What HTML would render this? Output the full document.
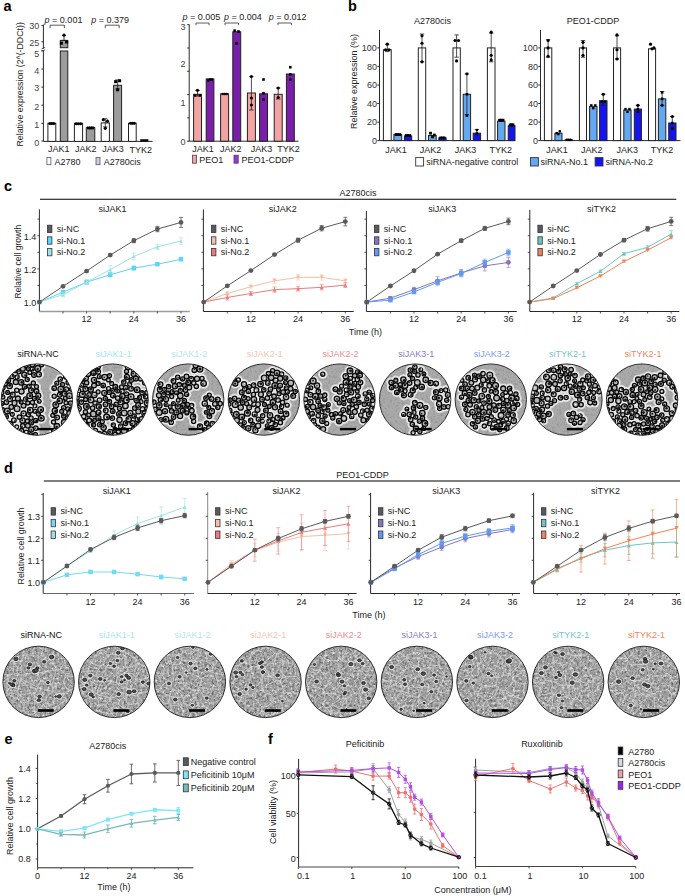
<!DOCTYPE html>
<html><head><meta charset="utf-8"><style>
html,body{margin:0;padding:0;background:#fff;}
svg{display:block;font-family:"Liberation Sans", sans-serif;}

</style></head><body>
<svg width="685" height="896" viewBox="0 0 685 896" fill="#222">
<text x="3.50" y="11.30" font-size="14.5" fill="#000" font-weight="bold">a</text>
<text x="348.00" y="11.30" font-size="14.5" fill="#000" font-weight="bold">b</text>
<text x="4.00" y="190.50" font-size="14.5" fill="#000" font-weight="bold">c</text>
<text x="4.00" y="472.50" font-size="14.5" fill="#000" font-weight="bold">d</text>
<text x="4.50" y="744.00" font-size="14.5" fill="#000" font-weight="bold">e</text>
<text x="268.00" y="744.00" font-size="14.5" fill="#000" font-weight="bold">f</text>
<path d="M43.4 24.6L43.4 48.6" stroke="#2a2a2a" stroke-width="1"/>
<path d="M43.4 51.0L43.4 141.4" stroke="#2a2a2a" stroke-width="1"/>
<path d="M41.6 48.9L45.2 47.4" stroke="#2a2a2a" stroke-width="0.8"/>
<path d="M41.6 51.3L45.2 49.8" stroke="#2a2a2a" stroke-width="0.8"/>
<path d="M41.4 25.6L43.4 25.6" stroke="#2a2a2a" stroke-width="1"/>
<text x="39.20" y="29.10" font-size="9" text-anchor="end" fill="#444">30</text>
<path d="M41.4 41.8L43.4 41.8" stroke="#2a2a2a" stroke-width="1"/>
<text x="39.20" y="45.70" font-size="9" text-anchor="end" fill="#444">25</text>
<path d="M41.4 50.6L43.4 50.6" stroke="#2a2a2a" stroke-width="1"/>
<text x="39.20" y="57.10" font-size="9" text-anchor="end" fill="#444">5</text>
<path d="M41.4 69.0L43.4 69.0" stroke="#2a2a2a" stroke-width="1"/>
<text x="39.20" y="74.00" font-size="9" text-anchor="end" fill="#444">4</text>
<path d="M41.4 87.1L43.4 87.1" stroke="#2a2a2a" stroke-width="1"/>
<text x="39.20" y="91.40" font-size="9" text-anchor="end" fill="#444">3</text>
<path d="M41.4 105.2L43.4 105.2" stroke="#2a2a2a" stroke-width="1"/>
<text x="39.20" y="109.50" font-size="9" text-anchor="end" fill="#444">2</text>
<path d="M41.4 123.3L43.4 123.3" stroke="#2a2a2a" stroke-width="1"/>
<text x="39.20" y="128.00" font-size="9" text-anchor="end" fill="#444">1</text>
<path d="M41.4 141.0L43.4 141.0" stroke="#2a2a2a" stroke-width="1"/>
<text x="39.20" y="145.60" font-size="9" text-anchor="end" fill="#444">0</text>
<path d="M43.4 141.4L152.5 141.4" stroke="#2a2a2a" stroke-width="1"/>
<rect x="47.90" y="123.30" width="7.90" height="18.10" fill="#fff" stroke="#222" stroke-width="1"/>
<rect x="60.30" y="51.00" width="7.50" height="90.40" fill="#9c9c9c" stroke="#222" stroke-width="1"/>
<rect x="60.30" y="40.40" width="7.50" height="7.30" fill="#9c9c9c" stroke="#222" stroke-width="1"/>
<rect x="74.40" y="123.30" width="8.20" height="18.10" fill="#fff" stroke="#222" stroke-width="1"/>
<rect x="86.30" y="127.64" width="8.50" height="13.76" fill="#9c9c9c" stroke="#222" stroke-width="1"/>
<rect x="101.20" y="122.94" width="8.20" height="18.46" fill="#fff" stroke="#222" stroke-width="1"/>
<rect x="113.60" y="85.29" width="8.00" height="56.11" fill="#9c9c9c" stroke="#222" stroke-width="1"/>
<rect x="128.50" y="123.30" width="7.70" height="18.10" fill="#fff" stroke="#222" stroke-width="1"/>
<rect x="140.20" y="139.20" width="8.20" height="2.60" fill="#111" stroke="none" stroke-width="1"/>
<path d="M64.0 35.5V40.4M61.8 35.5H66.2M61.8 40.4H66.2" stroke="#222" stroke-width="0.8" fill="none"/>
<circle cx="64.00" cy="35.20" r="1.60" fill="#000" stroke="none" stroke-width="1"/>
<rect x="59.90" y="41.70" width="3.00" height="3.00" fill="#000" stroke="none" stroke-width="1"/>
<rect x="65.10" y="40.50" width="3.00" height="3.00" fill="#000" stroke="none" stroke-width="1"/>
<circle cx="49.80" cy="123.50" r="1.50" fill="#000" stroke="none" stroke-width="1"/>
<circle cx="51.90" cy="123.50" r="1.50" fill="#000" stroke="none" stroke-width="1"/>
<circle cx="53.90" cy="123.50" r="1.50" fill="#000" stroke="none" stroke-width="1"/>
<circle cx="76.20" cy="123.84" r="1.50" fill="#000" stroke="none" stroke-width="1"/>
<circle cx="78.40" cy="123.84" r="1.50" fill="#000" stroke="none" stroke-width="1"/>
<circle cx="80.60" cy="123.84" r="1.50" fill="#000" stroke="none" stroke-width="1"/>
<rect x="87.00" y="126.54" width="2.80" height="2.80" fill="#000" stroke="none" stroke-width="1"/>
<rect x="89.20" y="126.54" width="2.80" height="2.80" fill="#000" stroke="none" stroke-width="1"/>
<rect x="91.40" y="126.54" width="2.80" height="2.80" fill="#000" stroke="none" stroke-width="1"/>
<path d="M105.3 118.8V126.9M103.1 118.8H107.5M103.1 126.9H107.5" stroke="#222" stroke-width="0.8" fill="none"/>
<circle cx="103.30" cy="119.68" r="1.60" fill="#000" stroke="none" stroke-width="1"/>
<circle cx="107.50" cy="121.13" r="1.60" fill="#000" stroke="none" stroke-width="1"/>
<circle cx="105.30" cy="128.37" r="1.60" fill="#000" stroke="none" stroke-width="1"/>
<path d="M117.6 79.9V88.9M115.4 79.9H119.8M115.4 88.9H119.8" stroke="#222" stroke-width="0.8" fill="none"/>
<rect x="114.10" y="80.17" width="3.00" height="3.00" fill="#000" stroke="none" stroke-width="1"/>
<rect x="118.10" y="79.27" width="3.00" height="3.00" fill="#000" stroke="none" stroke-width="1"/>
<rect x="116.10" y="88.31" width="3.00" height="3.00" fill="#000" stroke="none" stroke-width="1"/>
<circle cx="130.50" cy="123.30" r="1.50" fill="#000" stroke="none" stroke-width="1"/>
<circle cx="132.40" cy="123.30" r="1.50" fill="#000" stroke="none" stroke-width="1"/>
<circle cx="134.30" cy="123.30" r="1.50" fill="#000" stroke="none" stroke-width="1"/>
<text x="58.80" y="151.70" font-size="9" text-anchor="middle">JAK1</text>
<text x="85.70" y="151.70" font-size="9" text-anchor="middle">JAK2</text>
<text x="113.00" y="151.70" font-size="9" text-anchor="middle">JAK3</text>
<text x="140.70" y="153.20" font-size="9" text-anchor="middle">TYK2</text>
<rect x="46.90" y="157.50" width="4.00" height="7.20" fill="#fff" stroke="#557" stroke-width="0.8"/>
<text x="54.40" y="164.60" font-size="9">A2780</text>
<rect x="96.00" y="157.50" width="4.00" height="7.20" fill="#d0d0d0" stroke="#557" stroke-width="0.8"/>
<text x="103.80" y="164.60" font-size="9">A2780cis</text>
<text x="44.60" y="22.80" font-size="9"><tspan font-style="italic">p</tspan> = 0.001</text>
<polyline points="50.10,28.20 50.10,25.20 64.40,25.20 64.40,28.20" fill="none" stroke="#333" stroke-width="0.8" stroke-linejoin="round"/>
<text x="91.30" y="22.80" font-size="9"><tspan font-style="italic">p</tspan> = 0.379</text>
<polyline points="105.30,28.20 105.30,25.20 119.20,25.20 119.20,28.20" fill="none" stroke="#333" stroke-width="0.8" stroke-linejoin="round"/>
<text x="23.40" y="146.50" font-size="8.8" transform="rotate(-90 23.40 146.50)">Relative expression (2^(-DDCt))</text>
<path d="M189.2 24.4L189.2 141.2" stroke="#2a2a2a" stroke-width="1"/>
<path d="M187.2 141.2L189.2 141.2" stroke="#2a2a2a" stroke-width="1"/>
<path d="M187.2 117.9L189.2 117.9" stroke="#2a2a2a" stroke-width="1"/>
<path d="M187.2 94.6L189.2 94.6" stroke="#2a2a2a" stroke-width="1"/>
<path d="M187.2 71.3L189.2 71.3" stroke="#2a2a2a" stroke-width="1"/>
<path d="M187.2 48.0L189.2 48.0" stroke="#2a2a2a" stroke-width="1"/>
<path d="M187.2 24.7L189.2 24.7" stroke="#2a2a2a" stroke-width="1"/>
<text x="185.40" y="29.50" font-size="9" text-anchor="end" fill="#444">3</text>
<text x="185.40" y="67.20" font-size="9" text-anchor="end" fill="#444">2</text>
<text x="185.40" y="105.70" font-size="9" text-anchor="end" fill="#444">1</text>
<text x="185.40" y="144.60" font-size="9" text-anchor="end" fill="#444">0</text>
<path d="M189.2 141.2L298.5 141.2" stroke="#2a2a2a" stroke-width="1"/>
<rect x="193.60" y="94.30" width="7.90" height="46.90" fill="#f4a3a3" stroke="#222" stroke-width="1"/>
<rect x="206.20" y="78.90" width="7.70" height="62.30" fill="#7a1fa8" stroke="#222" stroke-width="1"/>
<rect x="220.60" y="93.80" width="8.00" height="47.40" fill="#f4a3a3" stroke="#222" stroke-width="1"/>
<rect x="232.80" y="31.80" width="7.90" height="109.40" fill="#7a1fa8" stroke="#222" stroke-width="1"/>
<rect x="247.40" y="93.00" width="8.00" height="48.20" fill="#f4a3a3" stroke="#222" stroke-width="1"/>
<rect x="259.60" y="93.80" width="7.90" height="47.40" fill="#7a1fa8" stroke="#222" stroke-width="1"/>
<rect x="274.20" y="94.30" width="8.00" height="46.90" fill="#f4a3a3" stroke="#222" stroke-width="1"/>
<rect x="286.40" y="74.00" width="7.90" height="67.20" fill="#7a1fa8" stroke="#222" stroke-width="1"/>
<path d="M197.5 90.5V96.0M195.3 90.5H199.7M195.3 96.0H199.7" stroke="#222" stroke-width="0.8" fill="none"/>
<circle cx="197.50" cy="90.30" r="1.60" fill="#000" stroke="none" stroke-width="1"/>
<rect x="194.00" y="94.30" width="2.40" height="2.40" fill="#000" stroke="none" stroke-width="1"/>
<rect x="198.60" y="94.30" width="2.40" height="2.40" fill="#000" stroke="none" stroke-width="1"/>
<rect x="207.00" y="79.30" width="2.40" height="2.40" fill="#000" stroke="none" stroke-width="1"/>
<rect x="208.80" y="78.30" width="2.40" height="2.40" fill="#000" stroke="none" stroke-width="1"/>
<rect x="210.60" y="78.30" width="2.40" height="2.40" fill="#000" stroke="none" stroke-width="1"/>
<circle cx="222.60" cy="94.00" r="1.30" fill="#000" stroke="none" stroke-width="1"/>
<circle cx="224.60" cy="94.00" r="1.30" fill="#000" stroke="none" stroke-width="1"/>
<circle cx="226.60" cy="94.00" r="1.30" fill="#000" stroke="none" stroke-width="1"/>
<rect x="233.30" y="29.30" width="2.60" height="2.60" fill="#000" stroke="none" stroke-width="1"/>
<rect x="237.20" y="30.20" width="2.60" height="2.60" fill="#000" stroke="none" stroke-width="1"/>
<rect x="235.20" y="42.20" width="2.60" height="2.60" fill="#000" stroke="none" stroke-width="1"/>
<path d="M251.4 76.6V110.0M249.2 76.6H253.6M249.2 110.0H253.6" stroke="#222" stroke-width="0.8" fill="none"/>
<circle cx="251.40" cy="76.50" r="1.60" fill="#000" stroke="none" stroke-width="1"/>
<circle cx="251.40" cy="98.00" r="1.60" fill="#000" stroke="none" stroke-width="1"/>
<circle cx="251.40" cy="105.00" r="1.60" fill="#000" stroke="none" stroke-width="1"/>
<rect x="262.20" y="78.20" width="2.60" height="2.60" fill="#000" stroke="none" stroke-width="1"/>
<rect x="262.20" y="92.00" width="2.60" height="2.60" fill="#000" stroke="none" stroke-width="1"/>
<rect x="262.20" y="98.20" width="2.60" height="2.60" fill="#000" stroke="none" stroke-width="1"/>
<path d="M278.2 88.0V99.0M276.0 88.0H280.4M276.0 99.0H280.4" stroke="#222" stroke-width="0.8" fill="none"/>
<circle cx="278.20" cy="88.00" r="1.60" fill="#000" stroke="none" stroke-width="1"/>
<circle cx="278.20" cy="97.50" r="1.60" fill="#000" stroke="none" stroke-width="1"/>
<rect x="289.00" y="65.90" width="2.60" height="2.60" fill="#000" stroke="none" stroke-width="1"/>
<rect x="289.00" y="73.20" width="2.60" height="2.60" fill="#000" stroke="none" stroke-width="1"/>
<rect x="289.00" y="78.20" width="2.60" height="2.60" fill="#000" stroke="none" stroke-width="1"/>
<text x="203.00" y="151.60" font-size="9" text-anchor="middle">JAK1</text>
<text x="230.80" y="151.60" font-size="9" text-anchor="middle">JAK2</text>
<text x="261.50" y="151.60" font-size="9" text-anchor="middle">JAK3</text>
<text x="288.50" y="152.30" font-size="9" text-anchor="middle">TYK2</text>
<rect x="192.40" y="155.20" width="4.20" height="8.00" fill="#f4a3a3" stroke="#445" stroke-width="0.8"/>
<text x="199.30" y="162.80" font-size="9">PEO1</text>
<rect x="234.00" y="155.20" width="4.20" height="8.00" fill="#a032e0" stroke="#445" stroke-width="0.8"/>
<text x="241.50" y="162.80" font-size="9">PEO1-CDDP</text>
<text x="182.40" y="19.60" font-size="9"><tspan font-style="italic">p</tspan> = 0.005</text>
<text x="224.00" y="19.60" font-size="9"><tspan font-style="italic">p</tspan> = 0.004</text>
<text x="268.80" y="19.60" font-size="9"><tspan font-style="italic">p</tspan> = 0.012</text>
<polyline points="196.00,25.20 196.00,23.00 209.00,23.00 209.00,25.20" fill="none" stroke="#333" stroke-width="0.8" stroke-linejoin="round"/>
<polyline points="225.00,25.20 225.00,23.00 238.50,23.00 238.50,25.20" fill="none" stroke="#333" stroke-width="0.8" stroke-linejoin="round"/>
<polyline points="278.00,25.20 278.00,23.00 291.50,23.00 291.50,25.20" fill="none" stroke="#333" stroke-width="0.8" stroke-linejoin="round"/>
<path d="M379.5 29.9L379.5 140.6" stroke="#2a2a2a" stroke-width="1"/>
<path d="M377.3 140.6L379.5 140.6" stroke="#2a2a2a" stroke-width="1"/>
<text x="376.90" y="143.90" font-size="9" text-anchor="end" fill="#333">0</text>
<path d="M377.3 122.1L379.5 122.1" stroke="#2a2a2a" stroke-width="1"/>
<text x="376.90" y="125.36" font-size="9" text-anchor="end" fill="#333">20</text>
<path d="M377.3 103.5L379.5 103.5" stroke="#2a2a2a" stroke-width="1"/>
<text x="376.90" y="106.82" font-size="9" text-anchor="end" fill="#333">40</text>
<path d="M377.3 85.0L379.5 85.0" stroke="#2a2a2a" stroke-width="1"/>
<text x="376.90" y="88.28" font-size="9" text-anchor="end" fill="#333">60</text>
<path d="M377.3 66.4L379.5 66.4" stroke="#2a2a2a" stroke-width="1"/>
<text x="376.90" y="69.74" font-size="9" text-anchor="end" fill="#333">80</text>
<path d="M377.3 47.9L379.5 47.9" stroke="#2a2a2a" stroke-width="1"/>
<text x="376.90" y="51.20" font-size="9" text-anchor="end" fill="#333">100</text>
<path d="M379.5 140.6L514.5 140.6" stroke="#2a2a2a" stroke-width="1"/>
<rect x="383.40" y="49.75" width="7.80" height="90.85" fill="#fff" stroke="#222" stroke-width="1"/>
<rect x="393.90" y="134.57" width="7.80" height="6.03" fill="#64a8f0" stroke="#222" stroke-width="1"/>
<rect x="404.40" y="135.97" width="7.30" height="4.63" fill="#1414f0" stroke="#222" stroke-width="1"/>
<rect x="418.30" y="47.90" width="7.40" height="92.70" fill="#fff" stroke="#222" stroke-width="1"/>
<rect x="428.50" y="135.50" width="7.70" height="5.10" fill="#64a8f0" stroke="#222" stroke-width="1"/>
<rect x="438.80" y="137.82" width="7.30" height="2.78" fill="#1414f0" stroke="#222" stroke-width="1"/>
<rect x="453.00" y="47.90" width="7.30" height="92.70" fill="#fff" stroke="#222" stroke-width="1"/>
<rect x="463.20" y="94.25" width="7.40" height="46.35" fill="#64a8f0" stroke="#222" stroke-width="1"/>
<rect x="473.20" y="133.18" width="7.40" height="7.42" fill="#1414f0" stroke="#222" stroke-width="1"/>
<rect x="487.40" y="47.90" width="7.60" height="92.70" fill="#fff" stroke="#222" stroke-width="1"/>
<rect x="497.60" y="121.13" width="7.40" height="19.47" fill="#64a8f0" stroke="#222" stroke-width="1"/>
<rect x="508.20" y="125.77" width="6.80" height="14.83" fill="#1414f0" stroke="#222" stroke-width="1"/>
<text x="396.00" y="152.80" font-size="9" text-anchor="middle">JAK1</text>
<text x="430.60" y="152.80" font-size="9" text-anchor="middle">JAK2</text>
<text x="465.60" y="152.80" font-size="9" text-anchor="middle">JAK3</text>
<text x="500.80" y="152.80" font-size="9" text-anchor="middle">TYK2</text>
<text x="432.50" y="24.20" font-size="9" text-anchor="middle">A2780cis</text>
<path d="M387.3 44.2V51.6M385.1 44.2H389.5M385.1 51.6H389.5" stroke="#222" stroke-width="0.8" fill="none"/>
<circle cx="387.30" cy="44.19" r="1.60" fill="#000" stroke="none" stroke-width="1"/>
<circle cx="385.60" cy="49.75" r="1.60" fill="#000" stroke="none" stroke-width="1"/>
<circle cx="389.00" cy="49.75" r="1.60" fill="#000" stroke="none" stroke-width="1"/>
<path d="M422.0 34.0V61.8M419.8 34.0H424.2M419.8 61.8H424.2" stroke="#222" stroke-width="0.8" fill="none"/>
<circle cx="422.00" cy="35.85" r="1.60" fill="#000" stroke="none" stroke-width="1"/>
<circle cx="422.00" cy="43.27" r="1.60" fill="#000" stroke="none" stroke-width="1"/>
<circle cx="422.00" cy="61.81" r="1.60" fill="#000" stroke="none" stroke-width="1"/>
<path d="M456.6 34.9V57.2M454.4 34.9H458.8M454.4 57.2H458.8" stroke="#222" stroke-width="0.8" fill="none"/>
<circle cx="455.00" cy="40.48" r="1.60" fill="#000" stroke="none" stroke-width="1"/>
<circle cx="458.50" cy="40.48" r="1.60" fill="#000" stroke="none" stroke-width="1"/>
<circle cx="456.60" cy="60.88" r="1.60" fill="#000" stroke="none" stroke-width="1"/>
<path d="M491.2 33.1V61.8M489.0 33.1H493.4M489.0 61.8H493.4" stroke="#222" stroke-width="0.8" fill="none"/>
<circle cx="491.20" cy="32.14" r="1.60" fill="#000" stroke="none" stroke-width="1"/>
<circle cx="491.20" cy="55.32" r="1.60" fill="#000" stroke="none" stroke-width="1"/>
<circle cx="491.20" cy="59.95" r="1.60" fill="#000" stroke="none" stroke-width="1"/>
<rect x="394.60" y="133.17" width="2.80" height="2.80" fill="#000" stroke="none" stroke-width="1"/>
<rect x="396.40" y="133.17" width="2.80" height="2.80" fill="#000" stroke="none" stroke-width="1"/>
<rect x="398.40" y="133.17" width="2.80" height="2.80" fill="#000" stroke="none" stroke-width="1"/>
<rect x="404.80" y="134.10" width="2.80" height="2.80" fill="#000" stroke="none" stroke-width="1"/>
<rect x="406.60" y="134.10" width="2.80" height="2.80" fill="#000" stroke="none" stroke-width="1"/>
<rect x="408.40" y="134.10" width="2.80" height="2.80" fill="#000" stroke="none" stroke-width="1"/>
<rect x="429.10" y="131.78" width="2.80" height="2.80" fill="#000" stroke="none" stroke-width="1"/>
<rect x="431.10" y="135.49" width="2.80" height="2.80" fill="#000" stroke="none" stroke-width="1"/>
<rect x="432.90" y="133.64" width="2.80" height="2.80" fill="#000" stroke="none" stroke-width="1"/>
<rect x="439.30" y="136.52" width="2.60" height="2.60" fill="#000" stroke="none" stroke-width="1"/>
<rect x="441.10" y="136.52" width="2.60" height="2.60" fill="#000" stroke="none" stroke-width="1"/>
<rect x="442.90" y="136.52" width="2.60" height="2.60" fill="#000" stroke="none" stroke-width="1"/>
<path d="M466.9 73.9V114.6M464.7 73.9H469.1M464.7 114.6H469.1" stroke="#222" stroke-width="0.8" fill="none"/>
<rect x="465.60" y="72.56" width="2.60" height="2.60" fill="#000" stroke="none" stroke-width="1"/>
<rect x="465.60" y="92.95" width="2.60" height="2.60" fill="#000" stroke="none" stroke-width="1"/>
<rect x="465.60" y="114.27" width="2.60" height="2.60" fill="#000" stroke="none" stroke-width="1"/>
<path d="M476.9 129.5V135.0M474.7 129.5H479.1M474.7 135.0H479.1" stroke="#222" stroke-width="0.8" fill="none"/>
<rect x="475.80" y="128.84" width="2.20" height="2.20" fill="#000" stroke="none" stroke-width="1"/>
<rect x="475.80" y="132.08" width="2.20" height="2.20" fill="#000" stroke="none" stroke-width="1"/>
<rect x="498.20" y="118.81" width="2.80" height="2.80" fill="#000" stroke="none" stroke-width="1"/>
<rect x="499.90" y="118.81" width="2.80" height="2.80" fill="#000" stroke="none" stroke-width="1"/>
<rect x="501.60" y="118.81" width="2.80" height="2.80" fill="#000" stroke="none" stroke-width="1"/>
<rect x="508.80" y="123.44" width="2.80" height="2.80" fill="#000" stroke="none" stroke-width="1"/>
<rect x="510.20" y="123.44" width="2.80" height="2.80" fill="#000" stroke="none" stroke-width="1"/>
<rect x="511.60" y="123.44" width="2.80" height="2.80" fill="#000" stroke="none" stroke-width="1"/>
<path d="M540.5 29.9L540.5 140.6" stroke="#2a2a2a" stroke-width="1"/>
<path d="M538.3 140.6L540.5 140.6" stroke="#2a2a2a" stroke-width="1"/>
<text x="537.90" y="143.90" font-size="9" text-anchor="end" fill="#333">0</text>
<path d="M538.3 122.1L540.5 122.1" stroke="#2a2a2a" stroke-width="1"/>
<text x="537.90" y="125.36" font-size="9" text-anchor="end" fill="#333">20</text>
<path d="M538.3 103.5L540.5 103.5" stroke="#2a2a2a" stroke-width="1"/>
<text x="537.90" y="106.82" font-size="9" text-anchor="end" fill="#333">40</text>
<path d="M538.3 85.0L540.5 85.0" stroke="#2a2a2a" stroke-width="1"/>
<text x="537.90" y="88.28" font-size="9" text-anchor="end" fill="#333">60</text>
<path d="M538.3 66.4L540.5 66.4" stroke="#2a2a2a" stroke-width="1"/>
<text x="537.90" y="69.74" font-size="9" text-anchor="end" fill="#333">80</text>
<path d="M538.3 47.9L540.5 47.9" stroke="#2a2a2a" stroke-width="1"/>
<text x="537.90" y="51.20" font-size="9" text-anchor="end" fill="#333">100</text>
<path d="M540.5 140.6L680.5 140.6" stroke="#2a2a2a" stroke-width="1"/>
<rect x="544.40" y="47.90" width="7.40" height="92.70" fill="#fff" stroke="#222" stroke-width="1"/>
<rect x="554.90" y="133.18" width="7.10" height="7.42" fill="#64a8f0" stroke="#222" stroke-width="1"/>
<rect x="565.20" y="139.67" width="7.10" height="0.93" fill="#1414f0" stroke="#222" stroke-width="1"/>
<rect x="579.40" y="47.90" width="7.10" height="92.70" fill="#fff" stroke="#222" stroke-width="1"/>
<rect x="589.60" y="106.30" width="7.40" height="34.30" fill="#64a8f0" stroke="#222" stroke-width="1"/>
<rect x="599.60" y="100.74" width="7.40" height="39.86" fill="#1414f0" stroke="#222" stroke-width="1"/>
<rect x="613.50" y="47.90" width="7.10" height="92.70" fill="#fff" stroke="#222" stroke-width="1"/>
<rect x="623.80" y="110.01" width="7.30" height="30.59" fill="#64a8f0" stroke="#222" stroke-width="1"/>
<rect x="634.30" y="109.08" width="7.10" height="31.52" fill="#1414f0" stroke="#222" stroke-width="1"/>
<rect x="648.50" y="48.83" width="7.10" height="91.77" fill="#fff" stroke="#222" stroke-width="1"/>
<rect x="658.40" y="98.88" width="7.40" height="41.72" fill="#64a8f0" stroke="#222" stroke-width="1"/>
<rect x="668.70" y="122.99" width="7.30" height="17.61" fill="#1414f0" stroke="#222" stroke-width="1"/>
<text x="557.00" y="152.80" font-size="9" text-anchor="middle">JAK1</text>
<text x="591.70" y="152.80" font-size="9" text-anchor="middle">JAK2</text>
<text x="627.20" y="152.80" font-size="9" text-anchor="middle">JAK3</text>
<text x="662.10" y="152.80" font-size="9" text-anchor="middle">TYK2</text>
<text x="593.00" y="24.20" font-size="9" text-anchor="middle">PEO1-CDDP</text>
<path d="M548.1 39.6V57.2M545.9 39.6H550.3M545.9 57.2H550.3" stroke="#222" stroke-width="0.8" fill="none"/>
<circle cx="548.10" cy="40.48" r="1.60" fill="#000" stroke="none" stroke-width="1"/>
<circle cx="548.10" cy="47.90" r="1.60" fill="#000" stroke="none" stroke-width="1"/>
<circle cx="548.10" cy="56.24" r="1.60" fill="#000" stroke="none" stroke-width="1"/>
<path d="M583.0 40.5V57.2M580.8 40.5H585.2M580.8 57.2H585.2" stroke="#222" stroke-width="0.8" fill="none"/>
<circle cx="583.00" cy="42.34" r="1.60" fill="#000" stroke="none" stroke-width="1"/>
<circle cx="583.00" cy="47.90" r="1.60" fill="#000" stroke="none" stroke-width="1"/>
<circle cx="583.00" cy="55.32" r="1.60" fill="#000" stroke="none" stroke-width="1"/>
<path d="M617.0 35.8V59.0M614.8 35.8H619.2M614.8 59.0H619.2" stroke="#222" stroke-width="0.8" fill="none"/>
<circle cx="617.00" cy="34.92" r="1.60" fill="#000" stroke="none" stroke-width="1"/>
<circle cx="617.00" cy="49.75" r="1.60" fill="#000" stroke="none" stroke-width="1"/>
<circle cx="617.00" cy="59.02" r="1.60" fill="#000" stroke="none" stroke-width="1"/>
<circle cx="650.50" cy="44.19" r="1.60" fill="#000" stroke="none" stroke-width="1"/>
<circle cx="652.00" cy="48.83" r="1.60" fill="#000" stroke="none" stroke-width="1"/>
<circle cx="654.00" cy="47.90" r="1.60" fill="#000" stroke="none" stroke-width="1"/>
<rect x="555.60" y="131.98" width="2.40" height="2.40" fill="#000" stroke="none" stroke-width="1"/>
<rect x="558.60" y="130.13" width="2.40" height="2.40" fill="#000" stroke="none" stroke-width="1"/>
<rect x="557.20" y="132.91" width="2.40" height="2.40" fill="#000" stroke="none" stroke-width="1"/>
<circle cx="567.00" cy="139.67" r="1.20" fill="#000" stroke="none" stroke-width="1"/>
<circle cx="568.80" cy="139.67" r="1.20" fill="#000" stroke="none" stroke-width="1"/>
<circle cx="570.60" cy="139.67" r="1.20" fill="#000" stroke="none" stroke-width="1"/>
<rect x="590.10" y="104.17" width="2.40" height="2.40" fill="#000" stroke="none" stroke-width="1"/>
<rect x="592.10" y="106.95" width="2.40" height="2.40" fill="#000" stroke="none" stroke-width="1"/>
<rect x="594.10" y="104.17" width="2.40" height="2.40" fill="#000" stroke="none" stroke-width="1"/>
<path d="M603.3 94.2V105.4M601.1 94.2H605.5M601.1 105.4H605.5" stroke="#222" stroke-width="0.8" fill="none"/>
<circle cx="603.30" cy="94.25" r="1.60" fill="#000" stroke="none" stroke-width="1"/>
<rect x="600.60" y="100.47" width="2.40" height="2.40" fill="#000" stroke="none" stroke-width="1"/>
<rect x="603.60" y="100.47" width="2.40" height="2.40" fill="#000" stroke="none" stroke-width="1"/>
<rect x="624.30" y="107.88" width="2.40" height="2.40" fill="#000" stroke="none" stroke-width="1"/>
<rect x="626.30" y="110.66" width="2.40" height="2.40" fill="#000" stroke="none" stroke-width="1"/>
<rect x="628.30" y="107.88" width="2.40" height="2.40" fill="#000" stroke="none" stroke-width="1"/>
<path d="M637.9 105.4V111.9M635.7 105.4H640.1M635.7 111.9H640.1" stroke="#222" stroke-width="0.8" fill="none"/>
<circle cx="637.90" cy="105.37" r="1.60" fill="#000" stroke="none" stroke-width="1"/>
<rect x="636.70" y="107.88" width="2.40" height="2.40" fill="#000" stroke="none" stroke-width="1"/>
<rect x="636.70" y="110.66" width="2.40" height="2.40" fill="#000" stroke="none" stroke-width="1"/>
<path d="M662.1 91.5V105.4M659.9 91.5H664.3M659.9 105.4H664.3" stroke="#222" stroke-width="0.8" fill="none"/>
<rect x="660.80" y="91.10" width="2.60" height="2.60" fill="#000" stroke="none" stroke-width="1"/>
<rect x="660.80" y="97.58" width="2.60" height="2.60" fill="#000" stroke="none" stroke-width="1"/>
<rect x="660.80" y="104.07" width="2.60" height="2.60" fill="#000" stroke="none" stroke-width="1"/>
<path d="M672.3 116.5V128.5M670.1 116.5H674.5M670.1 128.5H674.5" stroke="#222" stroke-width="0.8" fill="none"/>
<circle cx="672.30" cy="116.50" r="1.60" fill="#000" stroke="none" stroke-width="1"/>
<rect x="671.10" y="121.79" width="2.40" height="2.40" fill="#000" stroke="none" stroke-width="1"/>
<rect x="671.10" y="127.35" width="2.40" height="2.40" fill="#000" stroke="none" stroke-width="1"/>
<text x="357.30" y="129.00" font-size="9" transform="rotate(-90 357.30 129.00)">Relative expression (%)</text>
<rect x="415.70" y="157.60" width="7.90" height="8.40" fill="#fff" stroke="#334" stroke-width="0.9"/>
<text x="426.20" y="165.20" font-size="9">siRNA-negative control</text>
<rect x="530.50" y="157.60" width="7.90" height="8.40" fill="#64a8f0" stroke="#334" stroke-width="0.9"/>
<text x="540.50" y="165.20" font-size="9">siRNA-No.1</text>
<rect x="595.10" y="157.60" width="7.90" height="8.40" fill="#1414f0" stroke="#334" stroke-width="0.9"/>
<text x="605.40" y="165.20" font-size="9">siRNA-No.2</text>
<path d="M40.0 199.2L676.3 199.2" stroke="#000" stroke-width="1.05"/>
<text x="358.00" y="196.00" font-size="9" text-anchor="middle">A2780cis</text>
<path d="M39.4 209.3L39.4 311.5" stroke="#2a2a2a" stroke-width="1"/>
<path d="M39.4 311.5L189.8 311.5" stroke="#9a9a9a" stroke-width="1.3"/>
<path d="M63.0 311.5L63.0 313.5" stroke="#2a2a2a" stroke-width="0.8"/>
<path d="M86.6 311.5L86.6 313.5" stroke="#2a2a2a" stroke-width="0.8"/>
<path d="M110.2 311.5L110.2 313.5" stroke="#2a2a2a" stroke-width="0.8"/>
<path d="M133.8 311.5L133.8 313.5" stroke="#2a2a2a" stroke-width="0.8"/>
<path d="M157.4 311.5L157.4 313.5" stroke="#2a2a2a" stroke-width="0.8"/>
<path d="M181.0 311.5L181.0 313.5" stroke="#2a2a2a" stroke-width="0.8"/>
<text x="86.60" y="321.80" font-size="9" text-anchor="middle">12</text>
<text x="133.80" y="321.80" font-size="9" text-anchor="middle">24</text>
<text x="181.00" y="321.80" font-size="9" text-anchor="middle">36</text>
<path d="M37.4 302.1L39.4 302.1" stroke="#2a2a2a" stroke-width="0.8"/>
<path d="M37.4 285.5L39.4 285.5" stroke="#2a2a2a" stroke-width="0.8"/>
<path d="M37.4 268.9L39.4 268.9" stroke="#2a2a2a" stroke-width="0.8"/>
<path d="M37.4 252.3L39.4 252.3" stroke="#2a2a2a" stroke-width="0.8"/>
<path d="M37.4 235.7L39.4 235.7" stroke="#2a2a2a" stroke-width="0.8"/>
<path d="M37.4 219.1L39.4 219.1" stroke="#2a2a2a" stroke-width="0.8"/>
<text x="36.20" y="306.20" font-size="9" text-anchor="end">1.0</text>
<text x="36.20" y="273.00" font-size="9" text-anchor="end">1.2</text>
<text x="36.20" y="239.80" font-size="9" text-anchor="end">1.4</text>
<path d="M63.0 291.1V293.1M61.0 291.1H65.0M61.0 293.1H65.0" stroke="#5ad6f6" stroke-width="0.8" fill="none" opacity="0.75"/>
<path d="M86.6 279.9V284.5M84.6 279.9H88.6M84.6 284.5H88.6" stroke="#5ad6f6" stroke-width="0.8" fill="none" opacity="0.75"/>
<path d="M110.2 272.4V277.0M108.2 272.4H112.2M108.2 277.0H112.2" stroke="#5ad6f6" stroke-width="0.8" fill="none" opacity="0.75"/>
<path d="M133.8 266.1V270.1M131.8 266.1H135.8M131.8 270.1H135.8" stroke="#5ad6f6" stroke-width="0.8" fill="none" opacity="0.75"/>
<path d="M157.4 263.3V265.2M155.4 263.3H159.4M155.4 265.2H159.4" stroke="#5ad6f6" stroke-width="0.8" fill="none" opacity="0.75"/>
<path d="M181.0 258.3V260.3M179.0 258.3H183.0M179.0 260.3H183.0" stroke="#5ad6f6" stroke-width="0.8" fill="none" opacity="0.75"/>
<polyline points="39.40,302.10 63.00,292.14 86.60,282.18 110.20,274.71 133.80,268.07 157.40,264.25 181.00,259.27" fill="none" stroke="#5ad6f6" stroke-width="1" stroke-linejoin="round"/>
<rect x="37.16" y="299.86" width="4.48" height="4.48" fill="#5ad6f6" stroke="none" stroke-width="1"/>
<rect x="60.76" y="289.90" width="4.48" height="4.48" fill="#5ad6f6" stroke="none" stroke-width="1"/>
<rect x="84.36" y="279.94" width="4.48" height="4.48" fill="#5ad6f6" stroke="none" stroke-width="1"/>
<rect x="107.96" y="272.47" width="4.48" height="4.48" fill="#5ad6f6" stroke="none" stroke-width="1"/>
<rect x="131.56" y="265.83" width="4.48" height="4.48" fill="#5ad6f6" stroke="none" stroke-width="1"/>
<rect x="155.16" y="262.01" width="4.48" height="4.48" fill="#5ad6f6" stroke="none" stroke-width="1"/>
<rect x="178.76" y="257.03" width="4.48" height="4.48" fill="#5ad6f6" stroke="none" stroke-width="1"/>
<path d="M63.0 292.3V297.0M61.0 292.3H65.0M61.0 297.0H65.0" stroke="#9ee2e2" stroke-width="0.8" fill="none" opacity="0.75"/>
<path d="M86.6 279.9V284.5M84.6 279.9H88.6M84.6 284.5H88.6" stroke="#9ee2e2" stroke-width="0.8" fill="none" opacity="0.75"/>
<path d="M110.2 265.4V274.0M108.2 265.4H112.2M108.2 274.0H112.2" stroke="#9ee2e2" stroke-width="0.8" fill="none" opacity="0.75"/>
<path d="M133.8 253.1V259.8M131.8 253.1H135.8M131.8 259.8H135.8" stroke="#9ee2e2" stroke-width="0.8" fill="none" opacity="0.75"/>
<path d="M157.4 244.2V249.5M155.4 244.2H159.4M155.4 249.5H159.4" stroke="#9ee2e2" stroke-width="0.8" fill="none" opacity="0.75"/>
<path d="M181.0 237.7V244.3M179.0 237.7H183.0M179.0 244.3H183.0" stroke="#9ee2e2" stroke-width="0.8" fill="none" opacity="0.75"/>
<polyline points="39.40,302.10 63.00,294.63 86.60,282.18 110.20,269.73 133.80,256.45 157.40,246.82 181.00,241.01" fill="none" stroke="#9ee2e2" stroke-width="1" stroke-linejoin="round"/>
<path d="M37.45,303.95 L41.35,303.95 L39.40,300.25 Z" fill="#9ee2e2"/>
<path d="M61.05,296.48 L64.95,296.48 L63.00,292.78 Z" fill="#9ee2e2"/>
<path d="M84.65,284.03 L88.55,284.03 L86.60,280.33 Z" fill="#9ee2e2"/>
<path d="M108.25,271.58 L112.15,271.58 L110.20,267.88 Z" fill="#9ee2e2"/>
<path d="M131.85,258.30 L135.75,258.30 L133.80,254.60 Z" fill="#9ee2e2"/>
<path d="M155.45,248.67 L159.35,248.67 L157.40,244.97 Z" fill="#9ee2e2"/>
<path d="M179.05,242.86 L182.95,242.86 L181.00,239.16 Z" fill="#9ee2e2"/>
<path d="M63.0 285.7V287.0M61.0 285.7H65.0M61.0 287.0H65.0" stroke="#5a5a5a" stroke-width="0.8" fill="none"/>
<path d="M86.6 270.4V271.7M84.6 270.4H88.6M84.6 271.7H88.6" stroke="#5a5a5a" stroke-width="0.8" fill="none"/>
<path d="M110.2 254.3V256.0M108.2 254.3H112.2M108.2 256.0H112.2" stroke="#5a5a5a" stroke-width="0.8" fill="none"/>
<path d="M133.8 238.7V242.7M131.8 238.7H135.8M131.8 242.7H135.8" stroke="#5a5a5a" stroke-width="0.8" fill="none"/>
<path d="M157.4 226.4V231.7M155.4 226.4H159.4M155.4 231.7H159.4" stroke="#5a5a5a" stroke-width="0.8" fill="none"/>
<path d="M181.0 217.4V227.4M179.0 217.4H183.0M179.0 227.4H183.0" stroke="#5a5a5a" stroke-width="0.8" fill="none"/>
<polyline points="39.40,302.10 63.00,286.33 86.60,271.06 110.20,255.12 133.80,240.68 157.40,229.06 181.00,222.42" fill="none" stroke="#5a5a5a" stroke-width="1" stroke-linejoin="round"/>
<circle cx="39.40" cy="302.10" r="2.42" fill="#5a5a5a" stroke="none" stroke-width="1"/>
<circle cx="63.00" cy="286.33" r="2.42" fill="#5a5a5a" stroke="none" stroke-width="1"/>
<circle cx="86.60" cy="271.06" r="2.42" fill="#5a5a5a" stroke="none" stroke-width="1"/>
<circle cx="110.20" cy="255.12" r="2.42" fill="#5a5a5a" stroke="none" stroke-width="1"/>
<circle cx="133.80" cy="240.68" r="2.42" fill="#5a5a5a" stroke="none" stroke-width="1"/>
<circle cx="157.40" cy="229.06" r="2.42" fill="#5a5a5a" stroke="none" stroke-width="1"/>
<circle cx="181.00" cy="222.42" r="2.42" fill="#5a5a5a" stroke="none" stroke-width="1"/>
<text x="112.40" y="211.80" font-size="9" text-anchor="middle">siJAK1</text>
<rect x="47.50" y="225.20" width="4.40" height="7.40" fill="#5a5a5a" stroke="#334" stroke-width="0.8"/>
<text x="56.80" y="231.90" font-size="9">si-NC</text>
<rect x="47.50" y="236.80" width="4.40" height="7.40" fill="#5ad6f6" stroke="#334" stroke-width="0.8"/>
<text x="56.80" y="243.50" font-size="9">si-No.1</text>
<rect x="47.50" y="248.40" width="4.40" height="7.40" fill="#9ee2e2" stroke="#334" stroke-width="0.8"/>
<text x="56.80" y="255.10" font-size="9">si-No.2</text>
<path d="M203.4 209.5L203.4 311.5" stroke="#2a2a2a" stroke-width="1"/>
<path d="M203.4 311.5L353.7 311.5" stroke="#2a2a2a" stroke-width="1"/>
<path d="M227.3 311.5L227.3 313.5" stroke="#2a2a2a" stroke-width="0.8"/>
<path d="M250.9 311.5L250.9 313.5" stroke="#2a2a2a" stroke-width="0.8"/>
<path d="M274.5 311.5L274.5 313.5" stroke="#2a2a2a" stroke-width="0.8"/>
<path d="M298.1 311.5L298.1 313.5" stroke="#2a2a2a" stroke-width="0.8"/>
<path d="M321.7 311.5L321.7 313.5" stroke="#2a2a2a" stroke-width="0.8"/>
<path d="M345.3 311.5L345.3 313.5" stroke="#2a2a2a" stroke-width="0.8"/>
<text x="250.90" y="321.80" font-size="9" text-anchor="middle">12</text>
<text x="298.10" y="321.80" font-size="9" text-anchor="middle">24</text>
<text x="345.30" y="321.80" font-size="9" text-anchor="middle">36</text>
<path d="M201.4 302.1L203.4 302.1" stroke="#2a2a2a" stroke-width="0.8"/>
<path d="M201.4 285.5L203.4 285.5" stroke="#2a2a2a" stroke-width="0.8"/>
<path d="M201.4 268.9L203.4 268.9" stroke="#2a2a2a" stroke-width="0.8"/>
<path d="M201.4 252.3L203.4 252.3" stroke="#2a2a2a" stroke-width="0.8"/>
<path d="M201.4 235.7L203.4 235.7" stroke="#2a2a2a" stroke-width="0.8"/>
<path d="M201.4 219.1L203.4 219.1" stroke="#2a2a2a" stroke-width="0.8"/>
<path d="M227.3 292.1V294.8M225.3 292.1H229.3M225.3 294.8H229.3" stroke="#f6c0a4" stroke-width="0.8" fill="none" opacity="0.75"/>
<path d="M250.9 285.3V288.0M248.9 285.3H252.9M248.9 288.0H252.9" stroke="#f6c0a4" stroke-width="0.8" fill="none" opacity="0.75"/>
<path d="M274.5 278.5V283.2M272.5 278.5H276.5M272.5 283.2H276.5" stroke="#f6c0a4" stroke-width="0.8" fill="none" opacity="0.75"/>
<path d="M298.1 274.7V280.0M296.1 274.7H300.1M296.1 280.0H300.1" stroke="#f6c0a4" stroke-width="0.8" fill="none" opacity="0.75"/>
<path d="M321.7 274.7V280.0M319.7 274.7H323.7M319.7 280.0H323.7" stroke="#f6c0a4" stroke-width="0.8" fill="none" opacity="0.75"/>
<path d="M345.3 278.9V282.8M343.3 278.9H347.3M343.3 282.8H347.3" stroke="#f6c0a4" stroke-width="0.8" fill="none" opacity="0.75"/>
<polyline points="203.70,302.10 227.30,293.47 250.90,286.66 274.50,280.85 298.10,277.37 321.70,277.37 345.30,280.85" fill="none" stroke="#f6c0a4" stroke-width="1" stroke-linejoin="round"/>
<path d="M201.75,300.25 L205.65,300.25 L203.70,303.95 Z" fill="#f6c0a4"/>
<path d="M225.35,291.62 L229.25,291.62 L227.30,295.32 Z" fill="#f6c0a4"/>
<path d="M248.95,284.81 L252.85,284.81 L250.90,288.51 Z" fill="#f6c0a4"/>
<path d="M272.55,279.00 L276.45,279.00 L274.50,282.70 Z" fill="#f6c0a4"/>
<path d="M296.15,275.51 L300.05,275.51 L298.10,279.22 Z" fill="#f6c0a4"/>
<path d="M319.75,275.51 L323.65,275.51 L321.70,279.22 Z" fill="#f6c0a4"/>
<path d="M343.35,279.00 L347.25,279.00 L345.30,282.70 Z" fill="#f6c0a4"/>
<path d="M227.3 294.8V300.1M225.3 294.8H229.3M225.3 300.1H229.3" stroke="#ec7a7a" stroke-width="0.8" fill="none" opacity="0.75"/>
<path d="M250.9 291.5V295.5M248.9 291.5H252.9M248.9 295.5H252.9" stroke="#ec7a7a" stroke-width="0.8" fill="none" opacity="0.75"/>
<path d="M274.5 287.0V292.3M272.5 287.0H276.5M272.5 292.3H276.5" stroke="#ec7a7a" stroke-width="0.8" fill="none" opacity="0.75"/>
<path d="M298.1 286.3V291.0M296.1 286.3H300.1M296.1 291.0H300.1" stroke="#ec7a7a" stroke-width="0.8" fill="none" opacity="0.75"/>
<path d="M321.7 284.7V290.0M319.7 284.7H323.7M319.7 290.0H323.7" stroke="#ec7a7a" stroke-width="0.8" fill="none" opacity="0.75"/>
<path d="M345.3 282.8V287.5M343.3 282.8H347.3M343.3 287.5H347.3" stroke="#ec7a7a" stroke-width="0.8" fill="none" opacity="0.75"/>
<polyline points="203.70,302.10 227.30,297.45 250.90,293.47 274.50,289.65 298.10,288.65 321.70,287.33 345.30,285.17" fill="none" stroke="#ec7a7a" stroke-width="1" stroke-linejoin="round"/>
<path d="M201.75,303.95 L205.65,303.95 L203.70,300.25 Z" fill="#ec7a7a"/>
<path d="M225.35,299.30 L229.25,299.30 L227.30,295.60 Z" fill="#ec7a7a"/>
<path d="M248.95,295.32 L252.85,295.32 L250.90,291.62 Z" fill="#ec7a7a"/>
<path d="M272.55,291.50 L276.45,291.50 L274.50,287.80 Z" fill="#ec7a7a"/>
<path d="M296.15,290.51 L300.05,290.51 L298.10,286.80 Z" fill="#ec7a7a"/>
<path d="M319.75,289.18 L323.65,289.18 L321.70,285.47 Z" fill="#ec7a7a"/>
<path d="M343.35,287.02 L347.25,287.02 L345.30,283.32 Z" fill="#ec7a7a"/>
<path d="M227.3 285.2V286.5M225.3 285.2H229.3M225.3 286.5H229.3" stroke="#5a5a5a" stroke-width="0.8" fill="none"/>
<path d="M250.9 269.9V271.2M248.9 269.9H252.9M248.9 271.2H252.9" stroke="#5a5a5a" stroke-width="0.8" fill="none"/>
<path d="M274.5 254.0V255.3M272.5 254.0H276.5M272.5 255.3H276.5" stroke="#5a5a5a" stroke-width="0.8" fill="none"/>
<path d="M298.1 238.2V242.2M296.1 238.2H300.1M296.1 242.2H300.1" stroke="#5a5a5a" stroke-width="0.8" fill="none"/>
<path d="M321.7 225.6V230.9M319.7 225.6H323.7M319.7 230.9H323.7" stroke="#5a5a5a" stroke-width="0.8" fill="none"/>
<path d="M345.3 217.3V225.9M343.3 217.3H347.3M343.3 225.9H347.3" stroke="#5a5a5a" stroke-width="0.8" fill="none"/>
<polyline points="203.70,302.10 227.30,285.83 250.90,270.56 274.50,254.62 298.10,240.18 321.70,228.23 345.30,221.59" fill="none" stroke="#5a5a5a" stroke-width="1" stroke-linejoin="round"/>
<circle cx="203.70" cy="302.10" r="2.42" fill="#5a5a5a" stroke="none" stroke-width="1"/>
<circle cx="227.30" cy="285.83" r="2.42" fill="#5a5a5a" stroke="none" stroke-width="1"/>
<circle cx="250.90" cy="270.56" r="2.42" fill="#5a5a5a" stroke="none" stroke-width="1"/>
<circle cx="274.50" cy="254.62" r="2.42" fill="#5a5a5a" stroke="none" stroke-width="1"/>
<circle cx="298.10" cy="240.18" r="2.42" fill="#5a5a5a" stroke="none" stroke-width="1"/>
<circle cx="321.70" cy="228.23" r="2.42" fill="#5a5a5a" stroke="none" stroke-width="1"/>
<circle cx="345.30" cy="221.59" r="2.42" fill="#5a5a5a" stroke="none" stroke-width="1"/>
<text x="282.80" y="211.80" font-size="9" text-anchor="middle">siJAK2</text>
<rect x="211.50" y="225.20" width="4.40" height="7.40" fill="#5a5a5a" stroke="#334" stroke-width="0.8"/>
<text x="220.80" y="231.90" font-size="9">si-NC</text>
<rect x="211.50" y="236.80" width="4.40" height="7.40" fill="#f6c0a4" stroke="#334" stroke-width="0.8"/>
<text x="220.80" y="243.50" font-size="9">si-No.1</text>
<rect x="211.50" y="248.40" width="4.40" height="7.40" fill="#ec7a7a" stroke="#334" stroke-width="0.8"/>
<text x="220.80" y="255.10" font-size="9">si-No.2</text>
<path d="M366.4 211.0L366.4 311.5" stroke="#2a2a2a" stroke-width="1"/>
<path d="M366.4 311.5L516.8 311.5" stroke="#2a2a2a" stroke-width="1"/>
<path d="M390.4 311.5L390.4 313.5" stroke="#2a2a2a" stroke-width="0.8"/>
<path d="M414.0 311.5L414.0 313.5" stroke="#2a2a2a" stroke-width="0.8"/>
<path d="M437.6 311.5L437.6 313.5" stroke="#2a2a2a" stroke-width="0.8"/>
<path d="M461.2 311.5L461.2 313.5" stroke="#2a2a2a" stroke-width="0.8"/>
<path d="M484.8 311.5L484.8 313.5" stroke="#2a2a2a" stroke-width="0.8"/>
<path d="M508.4 311.5L508.4 313.5" stroke="#2a2a2a" stroke-width="0.8"/>
<text x="414.00" y="321.80" font-size="9" text-anchor="middle">12</text>
<text x="461.20" y="321.80" font-size="9" text-anchor="middle">24</text>
<text x="508.40" y="321.80" font-size="9" text-anchor="middle">36</text>
<path d="M364.4 302.1L366.4 302.1" stroke="#2a2a2a" stroke-width="0.8"/>
<path d="M364.4 285.5L366.4 285.5" stroke="#2a2a2a" stroke-width="0.8"/>
<path d="M364.4 268.9L366.4 268.9" stroke="#2a2a2a" stroke-width="0.8"/>
<path d="M364.4 252.3L366.4 252.3" stroke="#2a2a2a" stroke-width="0.8"/>
<path d="M364.4 235.7L366.4 235.7" stroke="#2a2a2a" stroke-width="0.8"/>
<path d="M364.4 219.1L366.4 219.1" stroke="#2a2a2a" stroke-width="0.8"/>
<path d="M390.4 296.8V299.4M388.4 296.8H392.4M388.4 299.4H392.4" stroke="#8676c0" stroke-width="0.8" fill="none" opacity="0.75"/>
<path d="M414.0 287.3V292.0M412.0 287.3H416.0M412.0 292.0H416.0" stroke="#8676c0" stroke-width="0.8" fill="none" opacity="0.75"/>
<path d="M437.6 276.7V285.0M435.6 276.7H439.6M435.6 285.0H439.6" stroke="#8676c0" stroke-width="0.8" fill="none" opacity="0.75"/>
<path d="M461.2 269.6V276.2M459.2 269.6H463.2M459.2 276.2H463.2" stroke="#8676c0" stroke-width="0.8" fill="none" opacity="0.75"/>
<path d="M484.8 260.9V270.9M482.8 260.9H486.8M482.8 270.9H486.8" stroke="#8676c0" stroke-width="0.8" fill="none" opacity="0.75"/>
<path d="M508.4 257.4V267.4M506.4 257.4H510.4M506.4 267.4H510.4" stroke="#8676c0" stroke-width="0.8" fill="none" opacity="0.75"/>
<polyline points="366.80,302.10 390.40,298.12 414.00,289.65 437.60,280.85 461.20,272.88 484.80,265.91 508.40,262.43" fill="none" stroke="#8676c0" stroke-width="1" stroke-linejoin="round"/>
<circle cx="366.80" cy="302.10" r="2.42" fill="#8676c0" stroke="none" stroke-width="1"/>
<circle cx="390.40" cy="298.12" r="2.42" fill="#8676c0" stroke="none" stroke-width="1"/>
<circle cx="414.00" cy="289.65" r="2.42" fill="#8676c0" stroke="none" stroke-width="1"/>
<circle cx="437.60" cy="280.85" r="2.42" fill="#8676c0" stroke="none" stroke-width="1"/>
<circle cx="461.20" cy="272.88" r="2.42" fill="#8676c0" stroke="none" stroke-width="1"/>
<circle cx="484.80" cy="265.91" r="2.42" fill="#8676c0" stroke="none" stroke-width="1"/>
<circle cx="508.40" cy="262.43" r="2.42" fill="#8676c0" stroke="none" stroke-width="1"/>
<path d="M390.4 299.1V301.1M388.4 299.1H392.4M388.4 301.1H392.4" stroke="#6298f2" stroke-width="0.8" fill="none" opacity="0.75"/>
<path d="M414.0 290.3V293.6M412.0 290.3H416.0M412.0 293.6H416.0" stroke="#6298f2" stroke-width="0.8" fill="none" opacity="0.75"/>
<path d="M437.6 279.9V284.8M435.6 279.9H439.6M435.6 284.8H439.6" stroke="#6298f2" stroke-width="0.8" fill="none" opacity="0.75"/>
<path d="M461.2 270.2V276.9M459.2 270.2H463.2M459.2 276.9H463.2" stroke="#6298f2" stroke-width="0.8" fill="none" opacity="0.75"/>
<path d="M484.8 259.1V265.7M482.8 259.1H486.8M482.8 265.7H486.8" stroke="#6298f2" stroke-width="0.8" fill="none" opacity="0.75"/>
<path d="M508.4 249.1V255.8M506.4 249.1H510.4M506.4 255.8H510.4" stroke="#6298f2" stroke-width="0.8" fill="none" opacity="0.75"/>
<polyline points="366.80,302.10 390.40,300.11 414.00,291.97 437.60,282.35 461.20,273.55 484.80,262.43 508.40,252.47" fill="none" stroke="#6298f2" stroke-width="1" stroke-linejoin="round"/>
<rect x="364.56" y="299.86" width="4.48" height="4.48" fill="#6298f2" stroke="none" stroke-width="1"/>
<rect x="388.16" y="297.87" width="4.48" height="4.48" fill="#6298f2" stroke="none" stroke-width="1"/>
<rect x="411.76" y="289.73" width="4.48" height="4.48" fill="#6298f2" stroke="none" stroke-width="1"/>
<rect x="435.36" y="280.10" width="4.48" height="4.48" fill="#6298f2" stroke="none" stroke-width="1"/>
<rect x="458.96" y="271.31" width="4.48" height="4.48" fill="#6298f2" stroke="none" stroke-width="1"/>
<rect x="482.56" y="260.18" width="4.48" height="4.48" fill="#6298f2" stroke="none" stroke-width="1"/>
<rect x="506.16" y="250.22" width="4.48" height="4.48" fill="#6298f2" stroke="none" stroke-width="1"/>
<path d="M390.4 285.3V286.7M388.4 285.3H392.4M388.4 286.7H392.4" stroke="#5a5a5a" stroke-width="0.8" fill="none"/>
<path d="M414.0 270.1V271.4M412.0 270.1H416.0M412.0 271.4H416.0" stroke="#5a5a5a" stroke-width="0.8" fill="none"/>
<path d="M437.6 253.5V254.8M435.6 253.5H439.6M435.6 254.8H439.6" stroke="#5a5a5a" stroke-width="0.8" fill="none"/>
<path d="M461.2 239.0V242.3M459.2 239.0H463.2M459.2 242.3H463.2" stroke="#5a5a5a" stroke-width="0.8" fill="none"/>
<path d="M484.8 226.4V230.4M482.8 226.4H486.8M482.8 230.4H486.8" stroke="#5a5a5a" stroke-width="0.8" fill="none"/>
<path d="M508.4 218.1V224.7M506.4 218.1H510.4M506.4 224.7H510.4" stroke="#5a5a5a" stroke-width="0.8" fill="none"/>
<polyline points="366.80,302.10 390.40,286.00 414.00,270.73 437.60,254.13 461.20,240.68 484.80,228.40 508.40,221.42" fill="none" stroke="#5a5a5a" stroke-width="1" stroke-linejoin="round"/>
<circle cx="366.80" cy="302.10" r="2.42" fill="#5a5a5a" stroke="none" stroke-width="1"/>
<circle cx="390.40" cy="286.00" r="2.42" fill="#5a5a5a" stroke="none" stroke-width="1"/>
<circle cx="414.00" cy="270.73" r="2.42" fill="#5a5a5a" stroke="none" stroke-width="1"/>
<circle cx="437.60" cy="254.13" r="2.42" fill="#5a5a5a" stroke="none" stroke-width="1"/>
<circle cx="461.20" cy="240.68" r="2.42" fill="#5a5a5a" stroke="none" stroke-width="1"/>
<circle cx="484.80" cy="228.40" r="2.42" fill="#5a5a5a" stroke="none" stroke-width="1"/>
<circle cx="508.40" cy="221.42" r="2.42" fill="#5a5a5a" stroke="none" stroke-width="1"/>
<text x="442.30" y="211.80" font-size="9" text-anchor="middle">siJAK3</text>
<rect x="374.50" y="225.20" width="4.40" height="7.40" fill="#5a5a5a" stroke="#334" stroke-width="0.8"/>
<text x="383.80" y="231.90" font-size="9">si-NC</text>
<rect x="374.50" y="236.80" width="4.40" height="7.40" fill="#8676c0" stroke="#334" stroke-width="0.8"/>
<text x="383.80" y="243.50" font-size="9">si-No.1</text>
<rect x="374.50" y="248.40" width="4.40" height="7.40" fill="#6298f2" stroke="#334" stroke-width="0.8"/>
<text x="383.80" y="255.10" font-size="9">si-No.2</text>
<path d="M529.8 209.8L529.8 311.5" stroke="#2a2a2a" stroke-width="1"/>
<path d="M529.8 311.5L679.3 311.5" stroke="#2a2a2a" stroke-width="1"/>
<path d="M553.2 311.5L553.2 313.5" stroke="#2a2a2a" stroke-width="0.8"/>
<path d="M576.8 311.5L576.8 313.5" stroke="#2a2a2a" stroke-width="0.8"/>
<path d="M600.4 311.5L600.4 313.5" stroke="#2a2a2a" stroke-width="0.8"/>
<path d="M624.0 311.5L624.0 313.5" stroke="#2a2a2a" stroke-width="0.8"/>
<path d="M647.6 311.5L647.6 313.5" stroke="#2a2a2a" stroke-width="0.8"/>
<path d="M671.2 311.5L671.2 313.5" stroke="#2a2a2a" stroke-width="0.8"/>
<text x="576.80" y="321.80" font-size="9" text-anchor="middle">12</text>
<text x="624.00" y="321.80" font-size="9" text-anchor="middle">24</text>
<text x="671.20" y="321.80" font-size="9" text-anchor="middle">36</text>
<path d="M527.8 302.1L529.8 302.1" stroke="#2a2a2a" stroke-width="0.8"/>
<path d="M527.8 285.5L529.8 285.5" stroke="#2a2a2a" stroke-width="0.8"/>
<path d="M527.8 268.9L529.8 268.9" stroke="#2a2a2a" stroke-width="0.8"/>
<path d="M527.8 252.3L529.8 252.3" stroke="#2a2a2a" stroke-width="0.8"/>
<path d="M527.8 235.7L529.8 235.7" stroke="#2a2a2a" stroke-width="0.8"/>
<path d="M527.8 219.1L529.8 219.1" stroke="#2a2a2a" stroke-width="0.8"/>
<path d="M553.2 297.1V298.8M551.2 297.1H555.2M551.2 298.8H555.2" stroke="#6cc6c6" stroke-width="0.8" fill="none" opacity="0.75"/>
<path d="M576.8 282.7V284.7M574.8 282.7H578.8M574.8 284.7H578.8" stroke="#6cc6c6" stroke-width="0.8" fill="none" opacity="0.75"/>
<path d="M600.4 269.9V272.6M598.4 269.9H602.4M598.4 272.6H602.4" stroke="#6cc6c6" stroke-width="0.8" fill="none" opacity="0.75"/>
<path d="M624.0 252.3V255.0M622.0 252.3H626.0M622.0 255.0H626.0" stroke="#6cc6c6" stroke-width="0.8" fill="none" opacity="0.75"/>
<path d="M647.6 245.7V249.0M645.6 245.7H649.6M645.6 249.0H649.6" stroke="#6cc6c6" stroke-width="0.8" fill="none" opacity="0.75"/>
<path d="M671.2 230.7V237.4M669.2 230.7H673.2M669.2 237.4H673.2" stroke="#6cc6c6" stroke-width="0.8" fill="none" opacity="0.75"/>
<polyline points="529.60,302.10 553.20,297.95 576.80,283.67 600.40,271.22 624.00,253.63 647.60,247.32 671.20,234.04" fill="none" stroke="#6cc6c6" stroke-width="1" stroke-linejoin="round"/>
<path d="M527.65,303.95 L531.55,303.95 L529.60,300.25 Z" fill="#6cc6c6"/>
<path d="M551.25,299.80 L555.15,299.80 L553.20,296.10 Z" fill="#6cc6c6"/>
<path d="M574.85,285.53 L578.75,285.53 L576.80,281.82 Z" fill="#6cc6c6"/>
<path d="M598.45,273.08 L602.35,273.08 L600.40,269.37 Z" fill="#6cc6c6"/>
<path d="M622.05,255.48 L625.95,255.48 L624.00,251.78 Z" fill="#6cc6c6"/>
<path d="M645.65,249.17 L649.55,249.17 L647.60,245.47 Z" fill="#6cc6c6"/>
<path d="M669.25,235.89 L673.15,235.89 L671.20,232.19 Z" fill="#6cc6c6"/>
<path d="M553.2 298.0V299.3M551.2 298.0H555.2M551.2 299.3H555.2" stroke="#f08454" stroke-width="0.8" fill="none" opacity="0.75"/>
<path d="M576.8 287.2V288.5M574.8 287.2H578.8M574.8 288.5H578.8" stroke="#f08454" stroke-width="0.8" fill="none" opacity="0.75"/>
<path d="M600.4 275.4V276.7M598.4 275.4H602.4M598.4 276.7H602.4" stroke="#f08454" stroke-width="0.8" fill="none" opacity="0.75"/>
<path d="M624.0 260.8V262.1M622.0 260.8H626.0M622.0 262.1H626.0" stroke="#f08454" stroke-width="0.8" fill="none" opacity="0.75"/>
<path d="M647.6 249.5V250.8M645.6 249.5H649.6M645.6 250.8H649.6" stroke="#f08454" stroke-width="0.8" fill="none" opacity="0.75"/>
<path d="M671.2 236.7V238.7M669.2 236.7H673.2M669.2 238.7H673.2" stroke="#f08454" stroke-width="0.8" fill="none" opacity="0.75"/>
<polyline points="529.60,302.10 553.20,298.61 576.80,287.82 600.40,276.04 624.00,261.43 647.60,250.14 671.20,237.69" fill="none" stroke="#f08454" stroke-width="1" stroke-linejoin="round"/>
<path d="M527.65,300.25 L531.55,300.25 L529.60,303.95 Z" fill="#f08454"/>
<path d="M551.25,296.76 L555.15,296.76 L553.20,300.47 Z" fill="#f08454"/>
<path d="M574.85,285.97 L578.75,285.97 L576.80,289.68 Z" fill="#f08454"/>
<path d="M598.45,274.19 L602.35,274.19 L600.40,277.89 Z" fill="#f08454"/>
<path d="M622.05,259.58 L625.95,259.58 L624.00,263.28 Z" fill="#f08454"/>
<path d="M645.65,248.29 L649.55,248.29 L647.60,251.99 Z" fill="#f08454"/>
<path d="M669.25,235.84 L673.15,235.84 L671.20,239.54 Z" fill="#f08454"/>
<path d="M553.2 285.3V286.7M551.2 285.3H555.2M551.2 286.7H555.2" stroke="#5a5a5a" stroke-width="0.8" fill="none"/>
<path d="M576.8 269.9V271.2M574.8 269.9H578.8M574.8 271.2H578.8" stroke="#5a5a5a" stroke-width="0.8" fill="none"/>
<path d="M600.4 253.8V255.1M598.4 253.8H602.4M598.4 255.1H602.4" stroke="#5a5a5a" stroke-width="0.8" fill="none"/>
<path d="M624.0 238.5V241.8M622.0 238.5H626.0M622.0 241.8H626.0" stroke="#5a5a5a" stroke-width="0.8" fill="none"/>
<path d="M647.6 226.4V231.1M645.6 226.4H649.6M645.6 231.1H649.6" stroke="#5a5a5a" stroke-width="0.8" fill="none"/>
<path d="M671.2 217.3V225.6M669.2 217.3H673.2M669.2 225.6H673.2" stroke="#5a5a5a" stroke-width="0.8" fill="none"/>
<polyline points="529.60,302.10 553.20,286.00 576.80,270.56 600.40,254.46 624.00,240.18 647.60,228.73 671.20,221.42" fill="none" stroke="#5a5a5a" stroke-width="1" stroke-linejoin="round"/>
<circle cx="529.60" cy="302.10" r="2.42" fill="#5a5a5a" stroke="none" stroke-width="1"/>
<circle cx="553.20" cy="286.00" r="2.42" fill="#5a5a5a" stroke="none" stroke-width="1"/>
<circle cx="576.80" cy="270.56" r="2.42" fill="#5a5a5a" stroke="none" stroke-width="1"/>
<circle cx="600.40" cy="254.46" r="2.42" fill="#5a5a5a" stroke="none" stroke-width="1"/>
<circle cx="624.00" cy="240.18" r="2.42" fill="#5a5a5a" stroke="none" stroke-width="1"/>
<circle cx="647.60" cy="228.73" r="2.42" fill="#5a5a5a" stroke="none" stroke-width="1"/>
<circle cx="671.20" cy="221.42" r="2.42" fill="#5a5a5a" stroke="none" stroke-width="1"/>
<text x="601.40" y="211.80" font-size="9" text-anchor="middle">siTYK2</text>
<rect x="537.90" y="225.20" width="4.40" height="7.40" fill="#5a5a5a" stroke="#334" stroke-width="0.8"/>
<text x="547.20" y="231.90" font-size="9">si-NC</text>
<rect x="537.90" y="236.80" width="4.40" height="7.40" fill="#6cc6c6" stroke="#334" stroke-width="0.8"/>
<text x="547.20" y="243.50" font-size="9">si-No.1</text>
<rect x="537.90" y="248.40" width="4.40" height="7.40" fill="#f08454" stroke="#334" stroke-width="0.8"/>
<text x="547.20" y="255.10" font-size="9">si-No.2</text>
<text x="348.80" y="335.00" font-size="9">Time (h)</text>
<text x="20.50" y="298.50" font-size="8.5" transform="rotate(-90 20.50 298.50)">Relative cell growth</text>
<path d="M43.8 481.0L680.0 481.0" stroke="#000" stroke-width="1.05"/>
<text x="362.50" y="478.20" font-size="9" text-anchor="middle">PEO1-CDDP</text>
<path d="M43.2 493.0L43.2 593.5" stroke="#2a2a2a" stroke-width="1"/>
<path d="M43.2 593.5L194.2 593.5" stroke="#666" stroke-width="1"/>
<path d="M67.0 593.5L67.0 595.5" stroke="#2a2a2a" stroke-width="0.8"/>
<path d="M90.5 593.5L90.5 595.5" stroke="#2a2a2a" stroke-width="0.8"/>
<path d="M114.1 593.5L114.1 595.5" stroke="#2a2a2a" stroke-width="0.8"/>
<path d="M137.6 593.5L137.6 595.5" stroke="#2a2a2a" stroke-width="0.8"/>
<path d="M161.2 593.5L161.2 595.5" stroke="#2a2a2a" stroke-width="0.8"/>
<path d="M184.7 593.5L184.7 595.5" stroke="#2a2a2a" stroke-width="0.8"/>
<text x="90.50" y="605.20" font-size="9" text-anchor="middle">12</text>
<text x="137.60" y="605.20" font-size="9" text-anchor="middle">24</text>
<text x="184.70" y="605.20" font-size="9" text-anchor="middle">36</text>
<path d="M41.2 582.3L43.2 582.3" stroke="#2a2a2a" stroke-width="0.8"/>
<path d="M41.2 560.3L43.2 560.3" stroke="#2a2a2a" stroke-width="0.8"/>
<path d="M41.2 538.3L43.2 538.3" stroke="#2a2a2a" stroke-width="0.8"/>
<path d="M41.2 516.3L43.2 516.3" stroke="#2a2a2a" stroke-width="0.8"/>
<path d="M41.2 494.3L43.2 494.3" stroke="#2a2a2a" stroke-width="0.8"/>
<text x="40.00" y="586.40" font-size="9" text-anchor="end">1.0</text>
<text x="40.00" y="564.40" font-size="9" text-anchor="end">1.1</text>
<text x="40.00" y="542.40" font-size="9" text-anchor="end">1.2</text>
<text x="40.00" y="520.40" font-size="9" text-anchor="end">1.3</text>
<path d="M67.0 574.2V575.5M65.0 574.2H69.0M65.0 575.5H69.0" stroke="#72daf6" stroke-width="0.8" fill="none" opacity="0.75"/>
<path d="M90.5 571.3V572.6M88.5 571.3H92.5M88.5 572.6H92.5" stroke="#72daf6" stroke-width="0.8" fill="none" opacity="0.75"/>
<path d="M114.1 571.3V572.6M112.1 571.3H116.1M112.1 572.6H116.1" stroke="#72daf6" stroke-width="0.8" fill="none" opacity="0.75"/>
<path d="M137.6 573.3V575.0M135.6 573.3H139.6M135.6 575.0H139.6" stroke="#72daf6" stroke-width="0.8" fill="none" opacity="0.75"/>
<path d="M161.2 575.3V578.8M159.2 575.3H163.2M159.2 578.8H163.2" stroke="#72daf6" stroke-width="0.8" fill="none" opacity="0.75"/>
<path d="M184.7 577.9V579.7M182.7 577.9H186.7M182.7 579.7H186.7" stroke="#72daf6" stroke-width="0.8" fill="none" opacity="0.75"/>
<polyline points="43.40,582.30 66.95,574.82 90.50,571.96 114.05,571.96 137.60,574.16 161.15,577.02 184.70,578.78" fill="none" stroke="#72daf6" stroke-width="1" stroke-linejoin="round"/>
<rect x="41.16" y="580.06" width="4.48" height="4.48" fill="#72daf6" stroke="none" stroke-width="1"/>
<rect x="64.71" y="572.58" width="4.48" height="4.48" fill="#72daf6" stroke="none" stroke-width="1"/>
<rect x="88.26" y="569.72" width="4.48" height="4.48" fill="#72daf6" stroke="none" stroke-width="1"/>
<rect x="111.81" y="569.72" width="4.48" height="4.48" fill="#72daf6" stroke="none" stroke-width="1"/>
<rect x="135.36" y="571.92" width="4.48" height="4.48" fill="#72daf6" stroke="none" stroke-width="1"/>
<rect x="158.91" y="574.78" width="4.48" height="4.48" fill="#72daf6" stroke="none" stroke-width="1"/>
<rect x="182.46" y="576.54" width="4.48" height="4.48" fill="#72daf6" stroke="none" stroke-width="1"/>
<path d="M67.0 565.1V566.9M65.0 565.1H69.0M65.0 566.9H69.0" stroke="#a0e0e0" stroke-width="0.8" fill="none" opacity="0.75"/>
<path d="M90.5 549.7V552.4M88.5 549.7H92.5M88.5 552.4H92.5" stroke="#a0e0e0" stroke-width="0.8" fill="none" opacity="0.75"/>
<path d="M114.1 530.8V539.6M112.1 530.8H116.1M112.1 539.6H116.1" stroke="#a0e0e0" stroke-width="0.8" fill="none" opacity="0.75"/>
<path d="M137.6 517.0V530.2M135.6 517.0H139.6M135.6 530.2H139.6" stroke="#a0e0e0" stroke-width="0.8" fill="none" opacity="0.75"/>
<path d="M161.2 506.8V524.4M159.2 506.8H163.2M159.2 524.4H163.2" stroke="#a0e0e0" stroke-width="0.8" fill="none" opacity="0.75"/>
<path d="M184.7 498.3V515.9M182.7 498.3H186.7M182.7 515.9H186.7" stroke="#a0e0e0" stroke-width="0.8" fill="none" opacity="0.75"/>
<polyline points="43.40,582.30 66.95,566.02 90.50,551.06 114.05,535.22 137.60,523.56 161.15,515.64 184.70,507.06" fill="none" stroke="#a0e0e0" stroke-width="1" stroke-linejoin="round"/>
<path d="M41.45,584.15 L45.35,584.15 L43.40,580.45 Z" fill="#a0e0e0"/>
<path d="M65.00,567.87 L68.90,567.87 L66.95,564.17 Z" fill="#a0e0e0"/>
<path d="M88.55,552.91 L92.45,552.91 L90.50,549.21 Z" fill="#a0e0e0"/>
<path d="M112.10,537.07 L116.00,537.07 L114.05,533.37 Z" fill="#a0e0e0"/>
<path d="M135.65,525.41 L139.55,525.41 L137.60,521.71 Z" fill="#a0e0e0"/>
<path d="M159.20,517.49 L163.10,517.49 L161.15,513.79 Z" fill="#a0e0e0"/>
<path d="M182.75,508.91 L186.65,508.91 L184.70,505.21 Z" fill="#a0e0e0"/>
<path d="M67.0 564.9V567.1M65.0 564.9H69.0M65.0 567.1H69.0" stroke="#5a5a5a" stroke-width="0.8" fill="none"/>
<path d="M90.5 548.2V550.8M88.5 548.2H92.5M88.5 550.8H92.5" stroke="#5a5a5a" stroke-width="0.8" fill="none"/>
<path d="M114.1 535.2V539.6M112.1 535.2H116.1M112.1 539.6H116.1" stroke="#5a5a5a" stroke-width="0.8" fill="none"/>
<path d="M137.6 525.3V530.6M135.6 525.3H139.6M135.6 530.6H139.6" stroke="#5a5a5a" stroke-width="0.8" fill="none"/>
<path d="M161.2 518.5V522.9M159.2 518.5H163.2M159.2 522.9H163.2" stroke="#5a5a5a" stroke-width="0.8" fill="none"/>
<path d="M184.7 513.4V517.8M182.7 513.4H186.7M182.7 517.8H186.7" stroke="#5a5a5a" stroke-width="0.8" fill="none"/>
<polyline points="43.40,582.30 66.95,566.02 90.50,549.52 114.05,537.42 137.60,527.96 161.15,520.70 184.70,515.64" fill="none" stroke="#5a5a5a" stroke-width="1" stroke-linejoin="round"/>
<circle cx="43.40" cy="582.30" r="2.42" fill="#5a5a5a" stroke="none" stroke-width="1"/>
<circle cx="66.95" cy="566.02" r="2.42" fill="#5a5a5a" stroke="none" stroke-width="1"/>
<circle cx="90.50" cy="549.52" r="2.42" fill="#5a5a5a" stroke="none" stroke-width="1"/>
<circle cx="114.05" cy="537.42" r="2.42" fill="#5a5a5a" stroke="none" stroke-width="1"/>
<circle cx="137.60" cy="527.96" r="2.42" fill="#5a5a5a" stroke="none" stroke-width="1"/>
<circle cx="161.15" cy="520.70" r="2.42" fill="#5a5a5a" stroke="none" stroke-width="1"/>
<circle cx="184.70" cy="515.64" r="2.42" fill="#5a5a5a" stroke="none" stroke-width="1"/>
<text x="116.80" y="493.80" font-size="9" text-anchor="middle">siJAK1</text>
<rect x="51.10" y="507.70" width="4.40" height="7.40" fill="#5a5a5a" stroke="#334" stroke-width="0.8"/>
<text x="60.40" y="514.40" font-size="9">si-NC</text>
<rect x="51.10" y="519.35" width="4.40" height="7.40" fill="#72daf6" stroke="#334" stroke-width="0.8"/>
<text x="60.40" y="526.05" font-size="9">si-No.1</text>
<rect x="51.10" y="531.00" width="4.40" height="7.40" fill="#a0e0e0" stroke="#334" stroke-width="0.8"/>
<text x="60.40" y="537.70" font-size="9">si-No.2</text>
<path d="M207.7 492.0L207.7 593.5" stroke="#888" stroke-width="1"/>
<path d="M207.7 593.5L356.6 593.5" stroke="#2a2a2a" stroke-width="1"/>
<path d="M231.4 593.5L231.4 595.5" stroke="#2a2a2a" stroke-width="0.8"/>
<path d="M254.8 593.5L254.8 595.5" stroke="#2a2a2a" stroke-width="0.8"/>
<path d="M278.2 593.5L278.2 595.5" stroke="#2a2a2a" stroke-width="0.8"/>
<path d="M301.6 593.5L301.6 595.5" stroke="#2a2a2a" stroke-width="0.8"/>
<path d="M325.0 593.5L325.0 595.5" stroke="#2a2a2a" stroke-width="0.8"/>
<path d="M348.4 593.5L348.4 595.5" stroke="#2a2a2a" stroke-width="0.8"/>
<text x="254.80" y="605.20" font-size="9" text-anchor="middle">12</text>
<text x="301.60" y="605.20" font-size="9" text-anchor="middle">24</text>
<text x="348.40" y="605.20" font-size="9" text-anchor="middle">36</text>
<path d="M205.7 582.3L207.7 582.3" stroke="#2a2a2a" stroke-width="0.8"/>
<path d="M205.7 560.3L207.7 560.3" stroke="#2a2a2a" stroke-width="0.8"/>
<path d="M205.7 538.3L207.7 538.3" stroke="#2a2a2a" stroke-width="0.8"/>
<path d="M205.7 516.3L207.7 516.3" stroke="#2a2a2a" stroke-width="0.8"/>
<path d="M205.7 494.3L207.7 494.3" stroke="#2a2a2a" stroke-width="0.8"/>
<path d="M231.4 560.7V567.3M229.4 560.7H233.4M229.4 567.3H233.4" stroke="#f6c0a4" stroke-width="0.8" fill="none" opacity="0.75"/>
<path d="M254.8 543.6V556.8M252.8 543.6H256.8M252.8 556.8H256.8" stroke="#f6c0a4" stroke-width="0.8" fill="none" opacity="0.75"/>
<path d="M278.2 533.5V551.1M276.2 533.5H280.2M276.2 551.1H280.2" stroke="#f6c0a4" stroke-width="0.8" fill="none" opacity="0.75"/>
<path d="M301.6 523.3V549.7M299.6 523.3H303.6M299.6 549.7H303.6" stroke="#f6c0a4" stroke-width="0.8" fill="none" opacity="0.75"/>
<path d="M325.0 519.8V550.6M323.0 519.8H327.0M323.0 550.6H327.0" stroke="#f6c0a4" stroke-width="0.8" fill="none" opacity="0.75"/>
<path d="M348.4 518.3V549.1M346.4 518.3H350.4M346.4 549.1H350.4" stroke="#f6c0a4" stroke-width="0.8" fill="none" opacity="0.75"/>
<polyline points="208.00,582.30 231.40,564.04 254.80,550.18 278.20,542.26 301.60,536.54 325.00,535.22 348.40,533.68" fill="none" stroke="#f6c0a4" stroke-width="1" stroke-linejoin="round"/>
<path d="M206.05,580.45 L209.95,580.45 L208.00,584.15 Z" fill="#f6c0a4"/>
<path d="M229.45,562.19 L233.35,562.19 L231.40,565.89 Z" fill="#f6c0a4"/>
<path d="M252.85,548.33 L256.75,548.33 L254.80,552.03 Z" fill="#f6c0a4"/>
<path d="M276.25,540.41 L280.15,540.41 L278.20,544.11 Z" fill="#f6c0a4"/>
<path d="M299.65,534.69 L303.55,534.69 L301.60,538.39 Z" fill="#f6c0a4"/>
<path d="M323.05,533.37 L326.95,533.37 L325.00,537.07 Z" fill="#f6c0a4"/>
<path d="M346.45,531.83 L350.35,531.83 L348.40,535.53 Z" fill="#f6c0a4"/>
<path d="M231.4 563.6V568.0M229.4 563.6H233.4M229.4 568.0H233.4" stroke="#ec7a7a" stroke-width="0.8" fill="none" opacity="0.75"/>
<path d="M254.8 539.2V561.2M252.8 539.2H256.8M252.8 561.2H256.8" stroke="#ec7a7a" stroke-width="0.8" fill="none" opacity="0.75"/>
<path d="M278.2 527.7V554.1M276.2 527.7H280.2M276.2 554.1H280.2" stroke="#ec7a7a" stroke-width="0.8" fill="none" opacity="0.75"/>
<path d="M301.6 514.8V550.0M299.6 514.8H303.6M299.6 550.0H303.6" stroke="#ec7a7a" stroke-width="0.8" fill="none" opacity="0.75"/>
<path d="M325.0 510.4V545.6M323.0 510.4H327.0M323.0 545.6H327.0" stroke="#ec7a7a" stroke-width="0.8" fill="none" opacity="0.75"/>
<path d="M348.4 506.2V541.4M346.4 506.2H350.4M346.4 541.4H350.4" stroke="#ec7a7a" stroke-width="0.8" fill="none" opacity="0.75"/>
<polyline points="208.00,582.30 231.40,565.80 254.80,550.18 278.20,540.94 301.60,532.36 325.00,527.96 348.40,523.78" fill="none" stroke="#ec7a7a" stroke-width="1" stroke-linejoin="round"/>
<path d="M206.05,584.15 L209.95,584.15 L208.00,580.45 Z" fill="#ec7a7a"/>
<path d="M229.45,567.65 L233.35,567.65 L231.40,563.95 Z" fill="#ec7a7a"/>
<path d="M252.85,552.03 L256.75,552.03 L254.80,548.33 Z" fill="#ec7a7a"/>
<path d="M276.25,542.79 L280.15,542.79 L278.20,539.09 Z" fill="#ec7a7a"/>
<path d="M299.65,534.21 L303.55,534.21 L301.60,530.51 Z" fill="#ec7a7a"/>
<path d="M323.05,529.81 L326.95,529.81 L325.00,526.11 Z" fill="#ec7a7a"/>
<path d="M346.45,525.63 L350.35,525.63 L348.40,521.93 Z" fill="#ec7a7a"/>
<path d="M231.4 565.4V567.1M229.4 565.4H233.4M229.4 567.1H233.4" stroke="#5a5a5a" stroke-width="0.8" fill="none"/>
<path d="M254.8 548.9V551.5M252.8 548.9H256.8M252.8 551.5H256.8" stroke="#5a5a5a" stroke-width="0.8" fill="none"/>
<path d="M278.2 536.3V540.7M276.2 536.3H280.2M276.2 540.7H280.2" stroke="#5a5a5a" stroke-width="0.8" fill="none"/>
<path d="M301.6 526.6V531.0M299.6 526.6H303.6M299.6 531.0H303.6" stroke="#5a5a5a" stroke-width="0.8" fill="none"/>
<path d="M325.0 519.6V523.1M323.0 519.6H327.0M323.0 523.1H327.0" stroke="#5a5a5a" stroke-width="0.8" fill="none"/>
<path d="M348.4 514.5V518.1M346.4 514.5H350.4M346.4 518.1H350.4" stroke="#5a5a5a" stroke-width="0.8" fill="none"/>
<polyline points="208.00,582.30 231.40,566.24 254.80,550.18 278.20,538.52 301.60,528.84 325.00,521.36 348.40,516.30" fill="none" stroke="#5a5a5a" stroke-width="1" stroke-linejoin="round"/>
<circle cx="208.00" cy="582.30" r="2.42" fill="#5a5a5a" stroke="none" stroke-width="1"/>
<circle cx="231.40" cy="566.24" r="2.42" fill="#5a5a5a" stroke="none" stroke-width="1"/>
<circle cx="254.80" cy="550.18" r="2.42" fill="#5a5a5a" stroke="none" stroke-width="1"/>
<circle cx="278.20" cy="538.52" r="2.42" fill="#5a5a5a" stroke="none" stroke-width="1"/>
<circle cx="301.60" cy="528.84" r="2.42" fill="#5a5a5a" stroke="none" stroke-width="1"/>
<circle cx="325.00" cy="521.36" r="2.42" fill="#5a5a5a" stroke="none" stroke-width="1"/>
<circle cx="348.40" cy="516.30" r="2.42" fill="#5a5a5a" stroke="none" stroke-width="1"/>
<text x="286.60" y="493.80" font-size="9" text-anchor="middle">siJAK2</text>
<rect x="215.60" y="507.70" width="4.40" height="7.40" fill="#5a5a5a" stroke="#334" stroke-width="0.8"/>
<text x="224.90" y="514.40" font-size="9">si-NC</text>
<rect x="215.60" y="519.35" width="4.40" height="7.40" fill="#f6c0a4" stroke="#334" stroke-width="0.8"/>
<text x="224.90" y="526.05" font-size="9">si-No.1</text>
<rect x="215.60" y="531.00" width="4.40" height="7.40" fill="#ec7a7a" stroke="#334" stroke-width="0.8"/>
<text x="224.90" y="537.70" font-size="9">si-No.2</text>
<path d="M370.6 492.8L370.6 593.5" stroke="#2a2a2a" stroke-width="1"/>
<path d="M370.6 593.5L520.0 593.5" stroke="#2a2a2a" stroke-width="1"/>
<path d="M394.5 593.5L394.5 595.5" stroke="#2a2a2a" stroke-width="0.8"/>
<path d="M418.1 593.5L418.1 595.5" stroke="#2a2a2a" stroke-width="0.8"/>
<path d="M441.7 593.5L441.7 595.5" stroke="#2a2a2a" stroke-width="0.8"/>
<path d="M465.3 593.5L465.3 595.5" stroke="#2a2a2a" stroke-width="0.8"/>
<path d="M488.9 593.5L488.9 595.5" stroke="#2a2a2a" stroke-width="0.8"/>
<path d="M512.5 593.5L512.5 595.5" stroke="#2a2a2a" stroke-width="0.8"/>
<text x="418.10" y="605.20" font-size="9" text-anchor="middle">12</text>
<text x="465.30" y="605.20" font-size="9" text-anchor="middle">24</text>
<text x="512.50" y="605.20" font-size="9" text-anchor="middle">36</text>
<path d="M368.6 582.3L370.6 582.3" stroke="#2a2a2a" stroke-width="0.8"/>
<path d="M368.6 560.3L370.6 560.3" stroke="#2a2a2a" stroke-width="0.8"/>
<path d="M368.6 538.3L370.6 538.3" stroke="#2a2a2a" stroke-width="0.8"/>
<path d="M368.6 516.3L370.6 516.3" stroke="#2a2a2a" stroke-width="0.8"/>
<path d="M368.6 494.3L370.6 494.3" stroke="#2a2a2a" stroke-width="0.8"/>
<path d="M394.5 566.7V569.3M392.5 566.7H396.5M392.5 569.3H396.5" stroke="#8676c0" stroke-width="0.8" fill="none" opacity="0.75"/>
<path d="M418.1 553.9V559.2M416.1 553.9H420.1M416.1 559.2H420.1" stroke="#8676c0" stroke-width="0.8" fill="none" opacity="0.75"/>
<path d="M441.7 543.8V550.4M439.7 543.8H443.7M439.7 550.4H443.7" stroke="#8676c0" stroke-width="0.8" fill="none" opacity="0.75"/>
<path d="M465.3 535.2V541.8M463.3 535.2H467.3M463.3 541.8H467.3" stroke="#8676c0" stroke-width="0.8" fill="none" opacity="0.75"/>
<path d="M488.9 530.4V537.0M486.9 530.4H490.9M486.9 537.0H490.9" stroke="#8676c0" stroke-width="0.8" fill="none" opacity="0.75"/>
<path d="M512.5 526.2V532.8M510.5 526.2H514.5M510.5 532.8H514.5" stroke="#8676c0" stroke-width="0.8" fill="none" opacity="0.75"/>
<polyline points="370.90,582.30 394.50,568.00 418.10,556.56 441.70,547.10 465.30,538.52 488.90,533.68 512.50,529.50" fill="none" stroke="#8676c0" stroke-width="1" stroke-linejoin="round"/>
<circle cx="370.90" cy="582.30" r="2.42" fill="#8676c0" stroke="none" stroke-width="1"/>
<circle cx="394.50" cy="568.00" r="2.42" fill="#8676c0" stroke="none" stroke-width="1"/>
<circle cx="418.10" cy="556.56" r="2.42" fill="#8676c0" stroke="none" stroke-width="1"/>
<circle cx="441.70" cy="547.10" r="2.42" fill="#8676c0" stroke="none" stroke-width="1"/>
<circle cx="465.30" cy="538.52" r="2.42" fill="#8676c0" stroke="none" stroke-width="1"/>
<circle cx="488.90" cy="533.68" r="2.42" fill="#8676c0" stroke="none" stroke-width="1"/>
<circle cx="512.50" cy="529.50" r="2.42" fill="#8676c0" stroke="none" stroke-width="1"/>
<path d="M394.5 567.6V570.2M392.5 567.6H396.5M392.5 570.2H396.5" stroke="#6298f2" stroke-width="0.8" fill="none" opacity="0.75"/>
<path d="M418.1 552.4V556.8M416.1 552.4H420.1M416.1 556.8H420.1" stroke="#6298f2" stroke-width="0.8" fill="none" opacity="0.75"/>
<path d="M441.7 540.7V546.0M439.7 540.7H443.7M439.7 546.0H443.7" stroke="#6298f2" stroke-width="0.8" fill="none" opacity="0.75"/>
<path d="M465.3 533.5V538.7M463.3 533.5H467.3M463.3 538.7H467.3" stroke="#6298f2" stroke-width="0.8" fill="none" opacity="0.75"/>
<path d="M488.9 528.6V533.9M486.9 528.6H490.9M486.9 533.9H490.9" stroke="#6298f2" stroke-width="0.8" fill="none" opacity="0.75"/>
<path d="M512.5 524.7V531.3M510.5 524.7H514.5M510.5 531.3H514.5" stroke="#6298f2" stroke-width="0.8" fill="none" opacity="0.75"/>
<polyline points="370.90,582.30 394.50,568.88 418.10,554.58 441.70,543.36 465.30,536.10 488.90,531.26 512.50,527.96" fill="none" stroke="#6298f2" stroke-width="1" stroke-linejoin="round"/>
<rect x="368.66" y="580.06" width="4.48" height="4.48" fill="#6298f2" stroke="none" stroke-width="1"/>
<rect x="392.26" y="566.64" width="4.48" height="4.48" fill="#6298f2" stroke="none" stroke-width="1"/>
<rect x="415.86" y="552.34" width="4.48" height="4.48" fill="#6298f2" stroke="none" stroke-width="1"/>
<rect x="439.46" y="541.12" width="4.48" height="4.48" fill="#6298f2" stroke="none" stroke-width="1"/>
<rect x="463.06" y="533.86" width="4.48" height="4.48" fill="#6298f2" stroke="none" stroke-width="1"/>
<rect x="486.66" y="529.02" width="4.48" height="4.48" fill="#6298f2" stroke="none" stroke-width="1"/>
<rect x="510.26" y="525.72" width="4.48" height="4.48" fill="#6298f2" stroke="none" stroke-width="1"/>
<path d="M394.5 565.1V567.3M392.5 565.1H396.5M392.5 567.3H396.5" stroke="#5a5a5a" stroke-width="0.8" fill="none"/>
<path d="M418.1 548.9V551.5M416.1 548.9H420.1M416.1 551.5H420.1" stroke="#5a5a5a" stroke-width="0.8" fill="none"/>
<path d="M441.7 534.6V539.8M439.7 534.6H443.7M439.7 539.8H443.7" stroke="#5a5a5a" stroke-width="0.8" fill="none"/>
<path d="M465.3 526.4V530.8M463.3 526.4H467.3M463.3 530.8H467.3" stroke="#5a5a5a" stroke-width="0.8" fill="none"/>
<path d="M488.9 518.9V522.5M486.9 518.9H490.9M486.9 522.5H490.9" stroke="#5a5a5a" stroke-width="0.8" fill="none"/>
<path d="M512.5 514.1V517.6M510.5 514.1H514.5M510.5 517.6H514.5" stroke="#5a5a5a" stroke-width="0.8" fill="none"/>
<polyline points="370.90,582.30 394.50,566.24 418.10,550.18 441.70,537.20 465.30,528.62 488.90,520.70 512.50,515.86" fill="none" stroke="#5a5a5a" stroke-width="1" stroke-linejoin="round"/>
<circle cx="370.90" cy="582.30" r="2.42" fill="#5a5a5a" stroke="none" stroke-width="1"/>
<circle cx="394.50" cy="566.24" r="2.42" fill="#5a5a5a" stroke="none" stroke-width="1"/>
<circle cx="418.10" cy="550.18" r="2.42" fill="#5a5a5a" stroke="none" stroke-width="1"/>
<circle cx="441.70" cy="537.20" r="2.42" fill="#5a5a5a" stroke="none" stroke-width="1"/>
<circle cx="465.30" cy="528.62" r="2.42" fill="#5a5a5a" stroke="none" stroke-width="1"/>
<circle cx="488.90" cy="520.70" r="2.42" fill="#5a5a5a" stroke="none" stroke-width="1"/>
<circle cx="512.50" cy="515.86" r="2.42" fill="#5a5a5a" stroke="none" stroke-width="1"/>
<text x="446.30" y="493.80" font-size="9" text-anchor="middle">siJAK3</text>
<rect x="378.50" y="507.70" width="4.40" height="7.40" fill="#5a5a5a" stroke="#334" stroke-width="0.8"/>
<text x="387.80" y="514.40" font-size="9">si-NC</text>
<rect x="378.50" y="519.35" width="4.40" height="7.40" fill="#8676c0" stroke="#334" stroke-width="0.8"/>
<text x="387.80" y="526.05" font-size="9">si-No.1</text>
<rect x="378.50" y="531.00" width="4.40" height="7.40" fill="#6298f2" stroke="#334" stroke-width="0.8"/>
<text x="387.80" y="537.70" font-size="9">si-No.2</text>
<path d="M533.6 492.8L533.6 593.5" stroke="#2a2a2a" stroke-width="1"/>
<path d="M533.6 593.5L680.0 593.5" stroke="#2a2a2a" stroke-width="1"/>
<path d="M557.2 593.5L557.2 595.5" stroke="#2a2a2a" stroke-width="0.8"/>
<path d="M581.0 593.5L581.0 595.5" stroke="#2a2a2a" stroke-width="0.8"/>
<path d="M604.9 593.5L604.9 595.5" stroke="#2a2a2a" stroke-width="0.8"/>
<path d="M628.8 593.5L628.8 595.5" stroke="#2a2a2a" stroke-width="0.8"/>
<path d="M652.7 593.5L652.7 595.5" stroke="#2a2a2a" stroke-width="0.8"/>
<path d="M676.5 593.5L676.5 595.5" stroke="#2a2a2a" stroke-width="0.8"/>
<text x="581.05" y="605.20" font-size="9" text-anchor="middle">12</text>
<text x="628.80" y="605.20" font-size="9" text-anchor="middle">24</text>
<text x="676.55" y="605.20" font-size="9" text-anchor="middle">36</text>
<path d="M531.6 582.3L533.6 582.3" stroke="#2a2a2a" stroke-width="0.8"/>
<path d="M531.6 560.3L533.6 560.3" stroke="#2a2a2a" stroke-width="0.8"/>
<path d="M531.6 538.3L533.6 538.3" stroke="#2a2a2a" stroke-width="0.8"/>
<path d="M531.6 516.3L533.6 516.3" stroke="#2a2a2a" stroke-width="0.8"/>
<path d="M531.6 494.3L533.6 494.3" stroke="#2a2a2a" stroke-width="0.8"/>
<path d="M557.2 568.2V570.9M555.2 568.2H559.2M555.2 570.9H559.2" stroke="#6cc6c6" stroke-width="0.8" fill="none" opacity="0.75"/>
<path d="M581.0 553.3V562.1M579.0 553.3H583.0M579.0 562.1H583.0" stroke="#6cc6c6" stroke-width="0.8" fill="none" opacity="0.75"/>
<path d="M604.9 543.6V556.8M602.9 543.6H606.9M602.9 556.8H606.9" stroke="#6cc6c6" stroke-width="0.8" fill="none" opacity="0.75"/>
<path d="M628.8 536.8V554.4M626.8 536.8H630.8M626.8 554.4H630.8" stroke="#6cc6c6" stroke-width="0.8" fill="none" opacity="0.75"/>
<path d="M652.7 531.9V553.9M650.7 531.9H654.7M650.7 553.9H654.7" stroke="#6cc6c6" stroke-width="0.8" fill="none" opacity="0.75"/>
<path d="M676.5 526.6V557.4M674.5 526.6H678.5M674.5 557.4H678.5" stroke="#6cc6c6" stroke-width="0.8" fill="none" opacity="0.75"/>
<polyline points="533.30,582.30 557.17,569.54 581.05,557.66 604.92,550.18 628.80,545.56 652.67,542.92 676.55,542.04" fill="none" stroke="#6cc6c6" stroke-width="1" stroke-linejoin="round"/>
<path d="M531.35,584.15 L535.25,584.15 L533.30,580.45 Z" fill="#6cc6c6"/>
<path d="M555.22,571.39 L559.12,571.39 L557.17,567.69 Z" fill="#6cc6c6"/>
<path d="M579.10,559.51 L583.00,559.51 L581.05,555.81 Z" fill="#6cc6c6"/>
<path d="M602.97,552.03 L606.88,552.03 L604.92,548.33 Z" fill="#6cc6c6"/>
<path d="M626.85,547.41 L630.75,547.41 L628.80,543.71 Z" fill="#6cc6c6"/>
<path d="M650.72,544.77 L654.62,544.77 L652.67,541.07 Z" fill="#6cc6c6"/>
<path d="M674.60,543.89 L678.50,543.89 L676.55,540.19 Z" fill="#6cc6c6"/>
<path d="M557.2 565.4V572.0M555.2 565.4H559.2M555.2 572.0H559.2" stroke="#f08454" stroke-width="0.8" fill="none" opacity="0.75"/>
<path d="M581.0 545.6V572.0M579.0 545.6H583.0M579.0 572.0H583.0" stroke="#f08454" stroke-width="0.8" fill="none" opacity="0.75"/>
<path d="M604.9 533.2V564.0M602.9 533.2H606.9M602.9 564.0H606.9" stroke="#f08454" stroke-width="0.8" fill="none" opacity="0.75"/>
<path d="M628.8 520.9V560.5M626.8 520.9H630.8M626.8 560.5H630.8" stroke="#f08454" stroke-width="0.8" fill="none" opacity="0.75"/>
<path d="M652.7 509.9V558.3M650.7 509.9H654.7M650.7 558.3H654.7" stroke="#f08454" stroke-width="0.8" fill="none" opacity="0.75"/>
<path d="M676.5 499.6V556.8M674.5 499.6H678.5M674.5 556.8H678.5" stroke="#f08454" stroke-width="0.8" fill="none" opacity="0.75"/>
<polyline points="533.30,582.30 557.17,568.66 581.05,558.76 604.92,548.64 628.80,540.72 652.67,534.12 676.55,528.18" fill="none" stroke="#f08454" stroke-width="1" stroke-linejoin="round"/>
<path d="M531.35,580.45 L535.25,580.45 L533.30,584.15 Z" fill="#f08454"/>
<path d="M555.22,566.81 L559.12,566.81 L557.17,570.51 Z" fill="#f08454"/>
<path d="M579.10,556.91 L583.00,556.91 L581.05,560.61 Z" fill="#f08454"/>
<path d="M602.97,546.79 L606.88,546.79 L604.92,550.49 Z" fill="#f08454"/>
<path d="M626.85,538.87 L630.75,538.87 L628.80,542.57 Z" fill="#f08454"/>
<path d="M650.72,532.27 L654.62,532.27 L652.67,535.97 Z" fill="#f08454"/>
<path d="M674.60,526.33 L678.50,526.33 L676.55,530.03 Z" fill="#f08454"/>
<path d="M557.2 565.4V567.1M555.2 565.4H559.2M555.2 567.1H559.2" stroke="#5a5a5a" stroke-width="0.8" fill="none"/>
<path d="M581.0 548.9V551.5M579.0 548.9H583.0M579.0 551.5H583.0" stroke="#5a5a5a" stroke-width="0.8" fill="none"/>
<path d="M604.9 534.8V540.1M602.9 534.8H606.9M602.9 540.1H606.9" stroke="#5a5a5a" stroke-width="0.8" fill="none"/>
<path d="M628.8 525.8V531.0M626.8 525.8H630.8M626.8 531.0H630.8" stroke="#5a5a5a" stroke-width="0.8" fill="none"/>
<path d="M652.7 519.4V522.9M650.7 519.4H654.7M650.7 522.9H654.7" stroke="#5a5a5a" stroke-width="0.8" fill="none"/>
<path d="M676.5 514.1V517.6M674.5 514.1H678.5M674.5 517.6H678.5" stroke="#5a5a5a" stroke-width="0.8" fill="none"/>
<polyline points="533.30,582.30 557.17,566.24 581.05,550.18 604.92,537.42 628.80,528.40 652.67,521.14 676.55,515.86" fill="none" stroke="#5a5a5a" stroke-width="1" stroke-linejoin="round"/>
<circle cx="533.30" cy="582.30" r="2.42" fill="#5a5a5a" stroke="none" stroke-width="1"/>
<circle cx="557.17" cy="566.24" r="2.42" fill="#5a5a5a" stroke="none" stroke-width="1"/>
<circle cx="581.05" cy="550.18" r="2.42" fill="#5a5a5a" stroke="none" stroke-width="1"/>
<circle cx="604.92" cy="537.42" r="2.42" fill="#5a5a5a" stroke="none" stroke-width="1"/>
<circle cx="628.80" cy="528.40" r="2.42" fill="#5a5a5a" stroke="none" stroke-width="1"/>
<circle cx="652.67" cy="521.14" r="2.42" fill="#5a5a5a" stroke="none" stroke-width="1"/>
<circle cx="676.55" cy="515.86" r="2.42" fill="#5a5a5a" stroke="none" stroke-width="1"/>
<text x="605.60" y="493.80" font-size="9" text-anchor="middle">siTYK2</text>
<rect x="541.50" y="507.70" width="4.40" height="7.40" fill="#5a5a5a" stroke="#334" stroke-width="0.8"/>
<text x="550.80" y="514.40" font-size="9">si-NC</text>
<rect x="541.50" y="519.35" width="4.40" height="7.40" fill="#6cc6c6" stroke="#334" stroke-width="0.8"/>
<text x="550.80" y="526.05" font-size="9">si-No.1</text>
<rect x="541.50" y="531.00" width="4.40" height="7.40" fill="#f08454" stroke="#334" stroke-width="0.8"/>
<text x="550.80" y="537.70" font-size="9">si-No.2</text>
<text x="352.30" y="617.50" font-size="9">Time (h)</text>
<text x="23.60" y="584.50" font-size="8.9" transform="rotate(-90 23.60 584.50)">Relative cell growth</text>
<path d="M37.6 754.7L37.6 867.8" stroke="#2a2a2a" stroke-width="1"/>
<path d="M37.6 867.8L193.4 867.8" stroke="#2a2a2a" stroke-width="1"/>
<path d="M35.6 859.0L37.6 859.0" stroke="#2a2a2a" stroke-width="0.8"/>
<text x="30.70" y="862.40" font-size="9" text-anchor="end">0.8</text>
<path d="M35.6 828.8L37.6 828.8" stroke="#2a2a2a" stroke-width="0.8"/>
<text x="30.70" y="832.20" font-size="9" text-anchor="end">1.0</text>
<path d="M35.6 798.6L37.6 798.6" stroke="#2a2a2a" stroke-width="0.8"/>
<text x="30.70" y="802.00" font-size="9" text-anchor="end">1.2</text>
<path d="M35.6 768.4L37.6 768.4" stroke="#2a2a2a" stroke-width="0.8"/>
<text x="30.70" y="771.80" font-size="9" text-anchor="end">1.4</text>
<path d="M36.1 843.9L37.6 843.9" stroke="#2a2a2a" stroke-width="0.8"/>
<path d="M36.1 813.7L37.6 813.7" stroke="#2a2a2a" stroke-width="0.8"/>
<path d="M36.1 783.5L37.6 783.5" stroke="#2a2a2a" stroke-width="0.8"/>
<path d="M37.6 867.8L37.6 869.8" stroke="#2a2a2a" stroke-width="0.8"/>
<text x="37.60" y="878.80" font-size="9" text-anchor="middle">0</text>
<path d="M84.5 867.8L84.5 869.8" stroke="#2a2a2a" stroke-width="0.8"/>
<text x="84.50" y="878.80" font-size="9" text-anchor="middle">12</text>
<path d="M131.4 867.8L131.4 869.8" stroke="#2a2a2a" stroke-width="0.8"/>
<text x="131.40" y="878.80" font-size="9" text-anchor="middle">24</text>
<path d="M178.3 867.8L178.3 869.8" stroke="#2a2a2a" stroke-width="0.8"/>
<text x="178.30" y="878.80" font-size="9" text-anchor="middle">36</text>
<path d="M61.0 867.8L61.0 869.3" stroke="#2a2a2a" stroke-width="0.8"/>
<path d="M107.9 867.8L107.9 869.3" stroke="#2a2a2a" stroke-width="0.8"/>
<path d="M154.8 867.8L154.8 869.3" stroke="#2a2a2a" stroke-width="0.8"/>
<path d="M61.0 815.1V816.9M59.2 815.1H62.8M59.2 816.9H62.8" stroke="#5a5a5a" stroke-width="0.9" fill="none"/>
<path d="M84.5 794.7V803.7M82.7 794.7H86.3M82.7 803.7H86.3" stroke="#5a5a5a" stroke-width="0.9" fill="none"/>
<path d="M107.9 779.4V792.1M106.1 779.4H109.7M106.1 792.1H109.7" stroke="#5a5a5a" stroke-width="0.9" fill="none"/>
<path d="M131.4 764.2V783.8M129.6 764.2H133.2M129.6 783.8H133.2" stroke="#5a5a5a" stroke-width="0.9" fill="none"/>
<path d="M154.8 763.9V782.0M153.0 763.9H156.7M153.0 782.0H156.7" stroke="#5a5a5a" stroke-width="0.9" fill="none"/>
<path d="M178.3 760.4V785.5M176.5 760.4H180.1M176.5 785.5H180.1" stroke="#5a5a5a" stroke-width="0.9" fill="none"/>
<polyline points="37.60,828.80 61.05,815.96 84.50,799.20 107.95,785.76 131.40,773.99 154.85,772.93 178.30,772.93" fill="none" stroke="#5a5a5a" stroke-width="1.3" stroke-linejoin="round"/>
<circle cx="37.60" cy="828.80" r="2.11" fill="#5a5a5a" stroke="none" stroke-width="1"/>
<circle cx="61.05" cy="815.96" r="2.11" fill="#5a5a5a" stroke="none" stroke-width="1"/>
<circle cx="84.50" cy="799.20" r="2.11" fill="#5a5a5a" stroke="none" stroke-width="1"/>
<circle cx="107.95" cy="785.76" r="2.11" fill="#5a5a5a" stroke="none" stroke-width="1"/>
<circle cx="131.40" cy="773.99" r="2.11" fill="#5a5a5a" stroke="none" stroke-width="1"/>
<circle cx="154.85" cy="772.93" r="2.11" fill="#5a5a5a" stroke="none" stroke-width="1"/>
<circle cx="178.30" cy="772.93" r="2.11" fill="#5a5a5a" stroke="none" stroke-width="1"/>
<path d="M61.0 830.2V832.6M59.2 830.2H62.8M59.2 832.6H62.8" stroke="#7ee6f6" stroke-width="0.9" fill="none"/>
<path d="M84.5 826.8V829.3M82.7 826.8H86.3M82.7 829.3H86.3" stroke="#7ee6f6" stroke-width="0.9" fill="none"/>
<path d="M107.9 818.4V820.8M106.1 818.4H109.7M106.1 820.8H109.7" stroke="#7ee6f6" stroke-width="0.9" fill="none"/>
<path d="M131.4 812.5V814.9M129.6 812.5H133.2M129.6 814.9H133.2" stroke="#7ee6f6" stroke-width="0.9" fill="none"/>
<path d="M154.8 808.6V811.0M153.0 808.6H156.7M153.0 811.0H156.7" stroke="#7ee6f6" stroke-width="0.9" fill="none"/>
<path d="M178.3 807.5V813.5M176.5 807.5H180.1M176.5 813.5H180.1" stroke="#7ee6f6" stroke-width="0.9" fill="none"/>
<polyline points="37.60,828.80 61.05,831.37 84.50,828.04 107.95,819.59 131.40,813.70 154.85,809.77 178.30,810.53" fill="none" stroke="#7ee6f6" stroke-width="1.3" stroke-linejoin="round"/>
<rect x="35.65" y="826.84" width="3.91" height="3.91" fill="#7ee6f6" stroke="none" stroke-width="1"/>
<rect x="59.09" y="829.41" width="3.91" height="3.91" fill="#7ee6f6" stroke="none" stroke-width="1"/>
<rect x="82.55" y="826.09" width="3.91" height="3.91" fill="#7ee6f6" stroke="none" stroke-width="1"/>
<rect x="105.99" y="817.63" width="3.91" height="3.91" fill="#7ee6f6" stroke="none" stroke-width="1"/>
<rect x="129.44" y="811.74" width="3.91" height="3.91" fill="#7ee6f6" stroke="none" stroke-width="1"/>
<rect x="152.89" y="807.82" width="3.91" height="3.91" fill="#7ee6f6" stroke="none" stroke-width="1"/>
<rect x="176.34" y="808.57" width="3.91" height="3.91" fill="#7ee6f6" stroke="none" stroke-width="1"/>
<path d="M61.0 832.6V836.2M59.2 832.6H62.8M59.2 836.2H62.8" stroke="#76baba" stroke-width="0.9" fill="none"/>
<path d="M84.5 832.0V838.0M82.7 832.0H86.3M82.7 838.0H86.3" stroke="#76baba" stroke-width="0.9" fill="none"/>
<path d="M107.9 825.0V832.6M106.1 825.0H109.7M106.1 832.6H109.7" stroke="#76baba" stroke-width="0.9" fill="none"/>
<path d="M131.4 819.6V827.1M129.6 819.6H133.2M129.6 827.1H133.2" stroke="#76baba" stroke-width="0.9" fill="none"/>
<path d="M154.8 816.3V823.8M153.0 816.3H156.7M153.0 823.8H156.7" stroke="#76baba" stroke-width="0.9" fill="none"/>
<path d="M178.3 814.5V820.5M176.5 814.5H180.1M176.5 820.5H180.1" stroke="#76baba" stroke-width="0.9" fill="none"/>
<polyline points="37.60,828.80 61.05,834.39 84.50,834.99 107.95,828.80 131.40,823.36 154.85,820.04 178.30,817.47" fill="none" stroke="#76baba" stroke-width="1.3" stroke-linejoin="round"/>
<path d="M35.90,830.41 L39.30,830.41 L37.60,827.18 Z" fill="#76baba"/>
<path d="M59.35,836.00 L62.75,836.00 L61.05,832.77 Z" fill="#76baba"/>
<path d="M82.80,836.61 L86.20,836.61 L84.50,833.38 Z" fill="#76baba"/>
<path d="M106.25,830.41 L109.65,830.41 L107.95,827.18 Z" fill="#76baba"/>
<path d="M129.70,824.98 L133.10,824.98 L131.40,821.75 Z" fill="#76baba"/>
<path d="M153.15,821.66 L156.55,821.66 L154.85,818.43 Z" fill="#76baba"/>
<path d="M176.60,819.09 L180.00,819.09 L178.30,815.86 Z" fill="#76baba"/>
<text x="107.70" y="749.20" font-size="9" text-anchor="middle">A2780cis</text>
<text x="113.90" y="889.70" font-size="9" text-anchor="middle">Time (h)</text>
<text x="12.80" y="855.00" font-size="9" transform="rotate(-90 12.80 855.00)">Relative cell growth</text>
<rect x="183.30" y="757.80" width="5.00" height="7.80" fill="#5a5a5a" stroke="#334" stroke-width="0.8"/>
<text x="190.70" y="764.80" font-size="9">Negative control</text>
<rect x="183.30" y="770.90" width="5.00" height="7.80" fill="#7ee6f6" stroke="#334" stroke-width="0.8"/>
<text x="190.70" y="777.90" font-size="9">Peficitinib 10μM</text>
<rect x="183.30" y="784.00" width="5.00" height="7.80" fill="#76baba" stroke="#334" stroke-width="0.8"/>
<text x="190.70" y="791.00" font-size="9">Peficitinib 20μM</text>
<path d="M298.6 758.8L298.6 867.0" stroke="#2a2a2a" stroke-width="1"/>
<path d="M298.6 867.0L459.1 867.0" stroke="#444" stroke-width="1"/>
<path d="M298.3 867.0L298.3 869.0" stroke="#2a2a2a" stroke-width="0.8"/>
<text x="303.30" y="878.80" font-size="9" text-anchor="middle">0.1</text>
<path d="M351.8 867.0L351.8 869.0" stroke="#2a2a2a" stroke-width="0.8"/>
<text x="352.80" y="878.80" font-size="9" text-anchor="middle">1</text>
<path d="M405.3 867.0L405.3 869.0" stroke="#2a2a2a" stroke-width="0.8"/>
<text x="406.30" y="878.80" font-size="9" text-anchor="middle">10</text>
<path d="M458.8 867.0L458.8 869.0" stroke="#2a2a2a" stroke-width="0.8"/>
<text x="459.80" y="878.80" font-size="9" text-anchor="middle">100</text>
<path d="M296.6 857.6L298.6 857.6" stroke="#2a2a2a" stroke-width="0.8"/>
<path d="M296.6 813.3L298.6 813.3" stroke="#2a2a2a" stroke-width="0.8"/>
<path d="M296.6 769.0L298.6 769.0" stroke="#2a2a2a" stroke-width="0.8"/>
<path d="M298.3 769.9V775.9M296.7 769.9H299.9M296.7 775.9H299.9" stroke="#a0a0a0" stroke-width="0.8" fill="none"/>
<path d="M351.8 768.9V774.9M350.2 768.9H353.4M350.2 774.9H353.4" stroke="#a0a0a0" stroke-width="0.8" fill="none"/>
<path d="M373.1 763.6V773.6M371.5 763.6H374.7M371.5 773.6H374.7" stroke="#a0a0a0" stroke-width="0.8" fill="none"/>
<path d="M389.2 786.7V792.7M387.6 786.7H390.8M387.6 792.7H390.8" stroke="#a0a0a0" stroke-width="0.8" fill="none"/>
<path d="M398.6 809.6V819.6M397.0 809.6H400.2M397.0 819.6H400.2" stroke="#a0a0a0" stroke-width="0.8" fill="none"/>
<path d="M405.3 819.0V825.0M403.7 819.0H406.9M403.7 825.0H406.9" stroke="#a0a0a0" stroke-width="0.8" fill="none"/>
<path d="M410.5 833.9V839.9M408.9 833.9H412.1M408.9 839.9H412.1" stroke="#a0a0a0" stroke-width="0.8" fill="none"/>
<path d="M421.4 836.4V842.4M419.8 836.4H423.0M419.8 842.4H423.0" stroke="#a0a0a0" stroke-width="0.8" fill="none"/>
<path d="M430.8 840.1V846.1M429.2 840.1H432.4M429.2 846.1H432.4" stroke="#a0a0a0" stroke-width="0.8" fill="none"/>
<polyline points="298.30,772.90 351.80,771.90 373.09,768.60 389.19,789.70 398.62,814.60 405.30,822.00 410.48,836.90 421.41,839.40 430.83,843.10 458.80,857.20" fill="none" stroke="#a0a0a0" stroke-width="1" stroke-linejoin="round"/>
<circle cx="298.30" cy="772.90" r="1.86" fill="#a0a0a0" stroke="none" stroke-width="1"/>
<circle cx="351.80" cy="771.90" r="1.86" fill="#a0a0a0" stroke="none" stroke-width="1"/>
<circle cx="373.09" cy="768.60" r="1.86" fill="#a0a0a0" stroke="none" stroke-width="1"/>
<circle cx="389.19" cy="789.70" r="1.86" fill="#a0a0a0" stroke="none" stroke-width="1"/>
<circle cx="398.62" cy="814.60" r="1.86" fill="#a0a0a0" stroke="none" stroke-width="1"/>
<circle cx="405.30" cy="822.00" r="1.86" fill="#a0a0a0" stroke="none" stroke-width="1"/>
<circle cx="410.48" cy="836.90" r="1.86" fill="#a0a0a0" stroke="none" stroke-width="1"/>
<circle cx="421.41" cy="839.40" r="1.86" fill="#a0a0a0" stroke="none" stroke-width="1"/>
<circle cx="430.83" cy="843.10" r="1.86" fill="#a0a0a0" stroke="none" stroke-width="1"/>
<circle cx="458.80" cy="857.20" r="1.86" fill="#a0a0a0" stroke="none" stroke-width="1"/>
<path d="M298.3 770.4V774.4M296.7 770.4H299.9M296.7 774.4H299.9" stroke="#f07070" stroke-width="0.8" fill="none"/>
<path d="M335.7 765.1V773.1M334.1 765.1H337.3M334.1 773.1H337.3" stroke="#f07070" stroke-width="0.8" fill="none"/>
<path d="M351.8 768.1V774.1M350.2 768.1H353.4M350.2 774.1H353.4" stroke="#f07070" stroke-width="0.8" fill="none"/>
<path d="M373.1 772.1V780.1M371.5 772.1H374.7M371.5 780.1H374.7" stroke="#f07070" stroke-width="0.8" fill="none"/>
<path d="M389.2 773.1V779.1M387.6 773.1H390.8M387.6 779.1H390.8" stroke="#f07070" stroke-width="0.8" fill="none"/>
<path d="M398.6 787.7V797.7M397.0 787.7H400.2M397.0 797.7H400.2" stroke="#f07070" stroke-width="0.8" fill="none"/>
<path d="M405.3 787.7V797.7M403.7 787.7H406.9M403.7 797.7H406.9" stroke="#f07070" stroke-width="0.8" fill="none"/>
<path d="M410.5 792.2V802.2M408.9 792.2H412.1M408.9 802.2H412.1" stroke="#f07070" stroke-width="0.8" fill="none"/>
<path d="M414.7 804.1V814.1M413.1 804.1H416.3M413.1 814.1H416.3" stroke="#f07070" stroke-width="0.8" fill="none"/>
<path d="M421.4 808.6V820.6M419.8 808.6H423.0M419.8 820.6H423.0" stroke="#f07070" stroke-width="0.8" fill="none"/>
<path d="M430.8 819.0V829.0M429.2 819.0H432.4M429.2 829.0H432.4" stroke="#f07070" stroke-width="0.8" fill="none"/>
<path d="M442.7 843.6V847.6M441.1 843.6H444.3M441.1 847.6H444.3" stroke="#f07070" stroke-width="0.8" fill="none"/>
<polyline points="298.30,772.40 335.69,769.10 351.80,771.10 373.09,776.10 389.19,776.10 398.62,792.70 405.30,792.70 410.48,797.20 414.72,809.10 421.41,814.60 430.83,824.00 442.69,845.60 458.80,857.20" fill="none" stroke="#f07070" stroke-width="1" stroke-linejoin="round"/>
<circle cx="298.30" cy="772.40" r="1.86" fill="#f07070" stroke="none" stroke-width="1"/>
<circle cx="335.69" cy="769.10" r="1.86" fill="#f07070" stroke="none" stroke-width="1"/>
<circle cx="351.80" cy="771.10" r="1.86" fill="#f07070" stroke="none" stroke-width="1"/>
<circle cx="373.09" cy="776.10" r="1.86" fill="#f07070" stroke="none" stroke-width="1"/>
<circle cx="389.19" cy="776.10" r="1.86" fill="#f07070" stroke="none" stroke-width="1"/>
<circle cx="398.62" cy="792.70" r="1.86" fill="#f07070" stroke="none" stroke-width="1"/>
<circle cx="405.30" cy="792.70" r="1.86" fill="#f07070" stroke="none" stroke-width="1"/>
<circle cx="410.48" cy="797.20" r="1.86" fill="#f07070" stroke="none" stroke-width="1"/>
<circle cx="414.72" cy="809.10" r="1.86" fill="#f07070" stroke="none" stroke-width="1"/>
<circle cx="421.41" cy="814.60" r="1.86" fill="#f07070" stroke="none" stroke-width="1"/>
<circle cx="430.83" cy="824.00" r="1.86" fill="#f07070" stroke="none" stroke-width="1"/>
<circle cx="442.69" cy="845.60" r="1.86" fill="#f07070" stroke="none" stroke-width="1"/>
<circle cx="458.80" cy="857.20" r="1.86" fill="#f07070" stroke="none" stroke-width="1"/>
<path d="M298.3 769.9V773.9M296.7 769.9H299.9M296.7 773.9H299.9" stroke="#b04ee6" stroke-width="0.8" fill="none"/>
<path d="M351.8 767.4V773.4M350.2 767.4H353.4M350.2 773.4H353.4" stroke="#b04ee6" stroke-width="0.8" fill="none"/>
<path d="M373.1 765.6V771.6M371.5 765.6H374.7M371.5 771.6H374.7" stroke="#b04ee6" stroke-width="0.8" fill="none"/>
<path d="M389.2 762.9V772.9M387.6 762.9H390.8M387.6 772.9H390.8" stroke="#b04ee6" stroke-width="0.8" fill="none"/>
<path d="M398.6 767.4V777.4M397.0 767.4H400.2M397.0 777.4H400.2" stroke="#b04ee6" stroke-width="0.8" fill="none"/>
<path d="M405.3 775.3V783.3M403.7 775.3H406.9M403.7 783.3H406.9" stroke="#b04ee6" stroke-width="0.8" fill="none"/>
<path d="M410.5 782.8V790.8M408.9 782.8H412.1M408.9 790.8H412.1" stroke="#b04ee6" stroke-width="0.8" fill="none"/>
<path d="M414.7 794.2V800.2M413.1 794.2H416.3M413.1 800.2H416.3" stroke="#b04ee6" stroke-width="0.8" fill="none"/>
<path d="M421.4 799.1V805.1M419.8 799.1H423.0M419.8 805.1H423.0" stroke="#b04ee6" stroke-width="0.8" fill="none"/>
<path d="M430.8 813.5V819.5M429.2 813.5H432.4M429.2 819.5H432.4" stroke="#b04ee6" stroke-width="0.8" fill="none"/>
<path d="M442.7 832.9V836.9M441.1 832.9H444.3M441.1 836.9H444.3" stroke="#b04ee6" stroke-width="0.8" fill="none"/>
<polyline points="298.30,771.90 351.80,770.40 373.09,768.60 389.19,767.90 398.62,772.40 405.30,779.30 410.48,786.80 414.72,797.20 421.41,802.10 430.83,816.50 442.69,834.90 458.80,857.20" fill="none" stroke="#b04ee6" stroke-width="1" stroke-linejoin="round"/>
<rect x="296.57" y="770.17" width="3.45" height="3.45" fill="#b04ee6" stroke="none" stroke-width="1"/>
<rect x="350.07" y="768.67" width="3.45" height="3.45" fill="#b04ee6" stroke="none" stroke-width="1"/>
<rect x="371.36" y="766.88" width="3.45" height="3.45" fill="#b04ee6" stroke="none" stroke-width="1"/>
<rect x="387.47" y="766.17" width="3.45" height="3.45" fill="#b04ee6" stroke="none" stroke-width="1"/>
<rect x="396.89" y="770.67" width="3.45" height="3.45" fill="#b04ee6" stroke="none" stroke-width="1"/>
<rect x="403.57" y="777.57" width="3.45" height="3.45" fill="#b04ee6" stroke="none" stroke-width="1"/>
<rect x="408.76" y="785.07" width="3.45" height="3.45" fill="#b04ee6" stroke="none" stroke-width="1"/>
<rect x="413.00" y="795.48" width="3.45" height="3.45" fill="#b04ee6" stroke="none" stroke-width="1"/>
<rect x="419.68" y="800.38" width="3.45" height="3.45" fill="#b04ee6" stroke="none" stroke-width="1"/>
<rect x="429.10" y="814.77" width="3.45" height="3.45" fill="#b04ee6" stroke="none" stroke-width="1"/>
<rect x="440.97" y="833.17" width="3.45" height="3.45" fill="#b04ee6" stroke="none" stroke-width="1"/>
<rect x="457.07" y="855.48" width="3.45" height="3.45" fill="#b04ee6" stroke="none" stroke-width="1"/>
<path d="M298.3 770.9V778.9M296.7 770.9H299.9M296.7 778.9H299.9" stroke="#111" stroke-width="0.8" fill="none"/>
<path d="M351.8 774.6V778.6M350.2 774.6H353.4M350.2 778.6H353.4" stroke="#111" stroke-width="0.8" fill="none"/>
<path d="M373.1 785.7V799.7M371.5 785.7H374.7M371.5 799.7H374.7" stroke="#111" stroke-width="0.8" fill="none"/>
<path d="M389.2 798.9V808.9M387.6 798.9H390.8M387.6 808.9H390.8" stroke="#111" stroke-width="0.8" fill="none"/>
<path d="M398.6 820.5V824.5M397.0 820.5H400.2M397.0 824.5H400.2" stroke="#111" stroke-width="0.8" fill="none"/>
<path d="M405.3 823.0V827.0M403.7 823.0H406.9M403.7 827.0H406.9" stroke="#111" stroke-width="0.8" fill="none"/>
<path d="M410.5 832.1V838.1M408.9 832.1H412.1M408.9 838.1H412.1" stroke="#111" stroke-width="0.8" fill="none"/>
<path d="M421.4 841.8V845.8M419.8 841.8H423.0M419.8 845.8H423.0" stroke="#111" stroke-width="0.8" fill="none"/>
<path d="M430.8 846.0V850.0M429.2 846.0H432.4M429.2 850.0H432.4" stroke="#111" stroke-width="0.8" fill="none"/>
<polyline points="298.30,774.90 351.80,776.60 373.09,792.70 389.19,803.90 398.62,822.50 405.30,825.00 410.48,835.10 421.41,843.80 430.83,848.00 458.80,857.20" fill="none" stroke="#111" stroke-width="1.3" stroke-linejoin="round"/>
<circle cx="298.30" cy="774.90" r="1.70" fill="none" stroke="#111" stroke-width="1.0"/>
<circle cx="351.80" cy="776.60" r="1.70" fill="none" stroke="#111" stroke-width="1.0"/>
<circle cx="373.09" cy="792.70" r="1.70" fill="none" stroke="#111" stroke-width="1.0"/>
<circle cx="389.19" cy="803.90" r="1.70" fill="none" stroke="#111" stroke-width="1.0"/>
<circle cx="398.62" cy="822.50" r="1.70" fill="none" stroke="#111" stroke-width="1.0"/>
<circle cx="405.30" cy="825.00" r="1.70" fill="none" stroke="#111" stroke-width="1.0"/>
<circle cx="410.48" cy="835.10" r="1.70" fill="none" stroke="#111" stroke-width="1.0"/>
<circle cx="421.41" cy="843.80" r="1.70" fill="none" stroke="#111" stroke-width="1.0"/>
<circle cx="430.83" cy="848.00" r="1.70" fill="none" stroke="#111" stroke-width="1.0"/>
<circle cx="458.80" cy="857.20" r="1.70" fill="none" stroke="#111" stroke-width="1.0"/>
<text x="365.10" y="746.90" font-size="9" text-anchor="middle">Peficitinib</text>
<text x="295.80" y="778.80" font-size="9" text-anchor="end">100</text>
<text x="295.80" y="816.60" font-size="9" text-anchor="end">50</text>
<text x="295.80" y="861.90" font-size="9" text-anchor="end">0</text>
<text x="276.30" y="844.00" font-size="9" transform="rotate(-90 276.30 844.00)">Cell viability (%)</text>
<text x="434.20" y="892.70" font-size="9">Concentration (μM)</text>
<path d="M475.6 758.7L475.6 866.5" stroke="#2a2a2a" stroke-width="1"/>
<path d="M475.6 866.5L635.8 866.5" stroke="#444" stroke-width="1"/>
<path d="M475.6 866.5L475.6 868.5" stroke="#2a2a2a" stroke-width="0.8"/>
<text x="480.60" y="878.80" font-size="9" text-anchor="middle">0.1</text>
<path d="M529.0 866.5L529.0 868.5" stroke="#2a2a2a" stroke-width="0.8"/>
<text x="530.00" y="878.80" font-size="9" text-anchor="middle">1</text>
<path d="M582.4 866.5L582.4 868.5" stroke="#2a2a2a" stroke-width="0.8"/>
<text x="583.40" y="878.80" font-size="9" text-anchor="middle">10</text>
<path d="M635.8 866.5L635.8 868.5" stroke="#2a2a2a" stroke-width="0.8"/>
<text x="636.80" y="878.80" font-size="9" text-anchor="middle">100</text>
<path d="M473.6 857.5L475.6 857.5" stroke="#2a2a2a" stroke-width="0.8"/>
<path d="M473.6 812.3L475.6 812.3" stroke="#2a2a2a" stroke-width="0.8"/>
<path d="M473.6 767.1L475.6 767.1" stroke="#2a2a2a" stroke-width="0.8"/>
<path d="M475.6 767.0V773.0M474.0 767.0H477.2M474.0 773.0H477.2" stroke="#a0a0a0" stroke-width="0.8" fill="none"/>
<path d="M529.0 770.5V774.5M527.4 770.5H530.6M527.4 774.5H530.6" stroke="#a0a0a0" stroke-width="0.8" fill="none"/>
<path d="M550.2 766.5V770.5M548.6 766.5H551.8M548.6 770.5H551.8" stroke="#a0a0a0" stroke-width="0.8" fill="none"/>
<path d="M566.3 765.5V769.5M564.7 765.5H567.9M564.7 769.5H567.9" stroke="#a0a0a0" stroke-width="0.8" fill="none"/>
<path d="M575.7 771.0V775.0M574.1 771.0H577.3M574.1 775.0H577.3" stroke="#a0a0a0" stroke-width="0.8" fill="none"/>
<path d="M582.4 779.0V785.0M580.8 779.0H584.0M580.8 785.0H584.0" stroke="#a0a0a0" stroke-width="0.8" fill="none"/>
<path d="M587.6 784.0V790.0M586.0 784.0H589.2M586.0 790.0H589.2" stroke="#a0a0a0" stroke-width="0.8" fill="none"/>
<path d="M591.8 792.0V798.0M590.2 792.0H593.4M590.2 798.0H593.4" stroke="#a0a0a0" stroke-width="0.8" fill="none"/>
<path d="M598.5 802.0V808.0M596.9 802.0H600.1M596.9 808.0H600.1" stroke="#a0a0a0" stroke-width="0.8" fill="none"/>
<path d="M607.9 834.0V838.0M606.3 834.0H609.5M606.3 838.0H609.5" stroke="#a0a0a0" stroke-width="0.8" fill="none"/>
<polyline points="475.60,770.00 529.00,772.50 550.25,768.50 566.32,767.50 575.73,773.00 582.40,782.00 587.57,787.00 591.80,795.00 598.48,805.00 607.88,836.00 635.80,857.20" fill="none" stroke="#a0a0a0" stroke-width="1" stroke-linejoin="round"/>
<circle cx="475.60" cy="770.00" r="1.86" fill="#a0a0a0" stroke="none" stroke-width="1"/>
<circle cx="529.00" cy="772.50" r="1.86" fill="#a0a0a0" stroke="none" stroke-width="1"/>
<circle cx="550.25" cy="768.50" r="1.86" fill="#a0a0a0" stroke="none" stroke-width="1"/>
<circle cx="566.32" cy="767.50" r="1.86" fill="#a0a0a0" stroke="none" stroke-width="1"/>
<circle cx="575.73" cy="773.00" r="1.86" fill="#a0a0a0" stroke="none" stroke-width="1"/>
<circle cx="582.40" cy="782.00" r="1.86" fill="#a0a0a0" stroke="none" stroke-width="1"/>
<circle cx="587.57" cy="787.00" r="1.86" fill="#a0a0a0" stroke="none" stroke-width="1"/>
<circle cx="591.80" cy="795.00" r="1.86" fill="#a0a0a0" stroke="none" stroke-width="1"/>
<circle cx="598.48" cy="805.00" r="1.86" fill="#a0a0a0" stroke="none" stroke-width="1"/>
<circle cx="607.88" cy="836.00" r="1.86" fill="#a0a0a0" stroke="none" stroke-width="1"/>
<circle cx="635.80" cy="857.20" r="1.86" fill="#a0a0a0" stroke="none" stroke-width="1"/>
<path d="M475.6 772.5V780.5M474.0 772.5H477.2M474.0 780.5H477.2" stroke="#f07070" stroke-width="0.8" fill="none"/>
<path d="M512.9 763.5V773.5M511.3 763.5H514.5M511.3 773.5H514.5" stroke="#f07070" stroke-width="0.8" fill="none"/>
<path d="M529.0 778.5V782.5M527.4 778.5H530.6M527.4 782.5H530.6" stroke="#f07070" stroke-width="0.8" fill="none"/>
<path d="M550.2 785.0V793.0M548.6 785.0H551.8M548.6 793.0H551.8" stroke="#f07070" stroke-width="0.8" fill="none"/>
<path d="M566.3 778.0V786.0M564.7 778.0H567.9M564.7 786.0H567.9" stroke="#f07070" stroke-width="0.8" fill="none"/>
<path d="M575.7 785.0V791.0M574.1 785.0H577.3M574.1 791.0H577.3" stroke="#f07070" stroke-width="0.8" fill="none"/>
<path d="M582.4 787.5V793.5M580.8 787.5H584.0M580.8 793.5H584.0" stroke="#f07070" stroke-width="0.8" fill="none"/>
<path d="M587.6 792.0V800.0M586.0 792.0H589.2M586.0 800.0H589.2" stroke="#f07070" stroke-width="0.8" fill="none"/>
<path d="M591.8 794.0V802.0M590.2 794.0H593.4M590.2 802.0H593.4" stroke="#f07070" stroke-width="0.8" fill="none"/>
<path d="M598.5 798.5V806.5M596.9 798.5H600.1M596.9 806.5H600.1" stroke="#f07070" stroke-width="0.8" fill="none"/>
<path d="M607.9 814.0V820.0M606.3 814.0H609.5M606.3 820.0H609.5" stroke="#f07070" stroke-width="0.8" fill="none"/>
<path d="M619.7 841.0V845.0M618.1 841.0H621.3M618.1 845.0H621.3" stroke="#f07070" stroke-width="0.8" fill="none"/>
<path d="M635.8 855.5V859.5M634.2 855.5H637.4M634.2 859.5H637.4" stroke="#f07070" stroke-width="0.8" fill="none"/>
<polyline points="475.60,776.50 512.92,768.50 529.00,780.50 550.25,789.00 566.32,782.00 575.73,788.00 582.40,790.50 587.57,796.00 591.80,798.00 598.48,802.50 607.88,817.00 619.72,843.00 635.80,857.50" fill="none" stroke="#f07070" stroke-width="1" stroke-linejoin="round"/>
<circle cx="475.60" cy="776.50" r="1.86" fill="#f07070" stroke="none" stroke-width="1"/>
<circle cx="512.92" cy="768.50" r="1.86" fill="#f07070" stroke="none" stroke-width="1"/>
<circle cx="529.00" cy="780.50" r="1.86" fill="#f07070" stroke="none" stroke-width="1"/>
<circle cx="550.25" cy="789.00" r="1.86" fill="#f07070" stroke="none" stroke-width="1"/>
<circle cx="566.32" cy="782.00" r="1.86" fill="#f07070" stroke="none" stroke-width="1"/>
<circle cx="575.73" cy="788.00" r="1.86" fill="#f07070" stroke="none" stroke-width="1"/>
<circle cx="582.40" cy="790.50" r="1.86" fill="#f07070" stroke="none" stroke-width="1"/>
<circle cx="587.57" cy="796.00" r="1.86" fill="#f07070" stroke="none" stroke-width="1"/>
<circle cx="591.80" cy="798.00" r="1.86" fill="#f07070" stroke="none" stroke-width="1"/>
<circle cx="598.48" cy="802.50" r="1.86" fill="#f07070" stroke="none" stroke-width="1"/>
<circle cx="607.88" cy="817.00" r="1.86" fill="#f07070" stroke="none" stroke-width="1"/>
<circle cx="619.72" cy="843.00" r="1.86" fill="#f07070" stroke="none" stroke-width="1"/>
<circle cx="635.80" cy="857.50" r="1.86" fill="#f07070" stroke="none" stroke-width="1"/>
<path d="M475.6 771.0V775.0M474.0 771.0H477.2M474.0 775.0H477.2" stroke="#b04ee6" stroke-width="0.8" fill="none"/>
<path d="M529.0 770.5V776.5M527.4 770.5H530.6M527.4 776.5H530.6" stroke="#b04ee6" stroke-width="0.8" fill="none"/>
<path d="M550.2 766.5V772.5M548.6 766.5H551.8M548.6 772.5H551.8" stroke="#b04ee6" stroke-width="0.8" fill="none"/>
<path d="M566.3 764.5V770.5M564.7 764.5H567.9M564.7 770.5H567.9" stroke="#b04ee6" stroke-width="0.8" fill="none"/>
<path d="M575.7 766.5V772.5M574.1 766.5H577.3M574.1 772.5H577.3" stroke="#b04ee6" stroke-width="0.8" fill="none"/>
<path d="M582.4 766.0V774.0M580.8 766.0H584.0M580.8 774.0H584.0" stroke="#b04ee6" stroke-width="0.8" fill="none"/>
<path d="M587.6 777.5V783.5M586.0 777.5H589.2M586.0 783.5H589.2" stroke="#b04ee6" stroke-width="0.8" fill="none"/>
<path d="M591.8 790.0V796.0M590.2 790.0H593.4M590.2 796.0H593.4" stroke="#b04ee6" stroke-width="0.8" fill="none"/>
<path d="M598.5 800.0V806.0M596.9 800.0H600.1M596.9 806.0H600.1" stroke="#b04ee6" stroke-width="0.8" fill="none"/>
<path d="M607.9 814.5V818.5M606.3 814.5H609.5M606.3 818.5H609.5" stroke="#b04ee6" stroke-width="0.8" fill="none"/>
<path d="M619.7 836.0V840.0M618.1 836.0H621.3M618.1 840.0H621.3" stroke="#b04ee6" stroke-width="0.8" fill="none"/>
<polyline points="475.60,773.00 529.00,773.50 550.25,769.50 566.32,767.50 575.73,769.50 582.40,770.00 587.57,780.50 591.80,793.00 598.48,803.00 607.88,816.50 619.72,838.00 635.80,857.20" fill="none" stroke="#b04ee6" stroke-width="1" stroke-linejoin="round"/>
<rect x="473.88" y="771.27" width="3.45" height="3.45" fill="#b04ee6" stroke="none" stroke-width="1"/>
<rect x="527.27" y="771.77" width="3.45" height="3.45" fill="#b04ee6" stroke="none" stroke-width="1"/>
<rect x="548.52" y="767.77" width="3.45" height="3.45" fill="#b04ee6" stroke="none" stroke-width="1"/>
<rect x="564.60" y="765.77" width="3.45" height="3.45" fill="#b04ee6" stroke="none" stroke-width="1"/>
<rect x="574.00" y="767.77" width="3.45" height="3.45" fill="#b04ee6" stroke="none" stroke-width="1"/>
<rect x="580.67" y="768.27" width="3.45" height="3.45" fill="#b04ee6" stroke="none" stroke-width="1"/>
<rect x="585.85" y="778.77" width="3.45" height="3.45" fill="#b04ee6" stroke="none" stroke-width="1"/>
<rect x="590.08" y="791.27" width="3.45" height="3.45" fill="#b04ee6" stroke="none" stroke-width="1"/>
<rect x="596.75" y="801.27" width="3.45" height="3.45" fill="#b04ee6" stroke="none" stroke-width="1"/>
<rect x="606.15" y="814.77" width="3.45" height="3.45" fill="#b04ee6" stroke="none" stroke-width="1"/>
<rect x="618.00" y="836.27" width="3.45" height="3.45" fill="#b04ee6" stroke="none" stroke-width="1"/>
<rect x="634.07" y="855.48" width="3.45" height="3.45" fill="#b04ee6" stroke="none" stroke-width="1"/>
<path d="M475.6 772.0V778.0M474.0 772.0H477.2M474.0 778.0H477.2" stroke="#111" stroke-width="0.8" fill="none"/>
<path d="M529.0 775.0V779.0M527.4 775.0H530.6M527.4 779.0H530.6" stroke="#111" stroke-width="0.8" fill="none"/>
<path d="M550.2 773.0V779.0M548.6 773.0H551.8M548.6 779.0H551.8" stroke="#111" stroke-width="0.8" fill="none"/>
<path d="M566.3 770.0V776.0M564.7 770.0H567.9M564.7 776.0H567.9" stroke="#111" stroke-width="0.8" fill="none"/>
<path d="M575.7 775.5V779.5M574.1 775.5H577.3M574.1 779.5H577.3" stroke="#111" stroke-width="0.8" fill="none"/>
<path d="M582.4 784.0V788.0M580.8 784.0H584.0M580.8 788.0H584.0" stroke="#111" stroke-width="0.8" fill="none"/>
<path d="M587.6 788.0V792.0M586.0 788.0H589.2M586.0 792.0H589.2" stroke="#111" stroke-width="0.8" fill="none"/>
<path d="M591.8 805.0V811.0M590.2 805.0H593.4M590.2 811.0H593.4" stroke="#111" stroke-width="0.8" fill="none"/>
<path d="M598.5 813.0V817.0M596.9 813.0H600.1M596.9 817.0H600.1" stroke="#111" stroke-width="0.8" fill="none"/>
<path d="M607.9 841.5V845.5M606.3 841.5H609.5M606.3 845.5H609.5" stroke="#111" stroke-width="0.8" fill="none"/>
<polyline points="475.60,775.00 529.00,777.00 550.25,776.00 566.32,773.00 575.73,777.50 582.40,786.00 587.57,790.00 591.80,808.00 598.48,815.00 607.88,843.50 635.80,857.50" fill="none" stroke="#111" stroke-width="1.3" stroke-linejoin="round"/>
<circle cx="475.60" cy="775.00" r="1.70" fill="none" stroke="#111" stroke-width="1.0"/>
<circle cx="529.00" cy="777.00" r="1.70" fill="none" stroke="#111" stroke-width="1.0"/>
<circle cx="550.25" cy="776.00" r="1.70" fill="none" stroke="#111" stroke-width="1.0"/>
<circle cx="566.32" cy="773.00" r="1.70" fill="none" stroke="#111" stroke-width="1.0"/>
<circle cx="575.73" cy="777.50" r="1.70" fill="none" stroke="#111" stroke-width="1.0"/>
<circle cx="582.40" cy="786.00" r="1.70" fill="none" stroke="#111" stroke-width="1.0"/>
<circle cx="587.57" cy="790.00" r="1.70" fill="none" stroke="#111" stroke-width="1.0"/>
<circle cx="591.80" cy="808.00" r="1.70" fill="none" stroke="#111" stroke-width="1.0"/>
<circle cx="598.48" cy="815.00" r="1.70" fill="none" stroke="#111" stroke-width="1.0"/>
<circle cx="607.88" cy="843.50" r="1.70" fill="none" stroke="#111" stroke-width="1.0"/>
<circle cx="635.80" cy="857.50" r="1.70" fill="none" stroke="#111" stroke-width="1.0"/>
<text x="541.90" y="746.90" font-size="9" text-anchor="middle">Ruxolitinib</text>
<rect x="618.20" y="747.00" width="4.60" height="7.80" fill="#000" stroke="#334" stroke-width="0.8"/>
<text x="628.30" y="754.80" font-size="9">A2780</text>
<rect x="618.20" y="758.50" width="4.60" height="7.80" fill="#d8dbe0" stroke="#334" stroke-width="0.8"/>
<text x="628.30" y="766.30" font-size="9">A2780cis</text>
<rect x="618.20" y="770.00" width="4.60" height="7.80" fill="#f2a0a6" stroke="#334" stroke-width="0.8"/>
<text x="628.30" y="777.80" font-size="9">PEO1</text>
<rect x="618.20" y="781.50" width="4.60" height="7.80" fill="#a020f0" stroke="#334" stroke-width="0.8"/>
<text x="628.30" y="789.30" font-size="9">PEO1-CDDP</text>
<defs><filter id="tx" x="0" y="0" width="1" height="1"><feTurbulence type="fractalNoise" baseFrequency="0.42" numOctaves="3" seed="3"/><feColorMatrix type="matrix" values="0 0 0 0 0.1  0 0 0 0 0.1  0 0 0 0 0.1  2.6 0 0 0 -1.2"/></filter><filter id="tx2" x="0" y="0" width="1" height="1"><feTurbulence type="fractalNoise" baseFrequency="0.4" numOctaves="3" seed="9"/><feColorMatrix type="matrix" values="0 0 0 0 1  0 0 0 0 1  0 0 0 0 1  0 2.6 0 0 -1.2"/></filter></defs>
<defs>
<clipPath id="cc0"><circle cx="36.90" cy="399.6" r="35.7"/></clipPath>
<clipPath id="cc1"><circle cx="112.55" cy="399.6" r="35.7"/></clipPath>
<clipPath id="cc2"><circle cx="188.20" cy="399.6" r="35.7"/></clipPath>
<clipPath id="cc3"><circle cx="263.85" cy="399.6" r="35.7"/></clipPath>
<clipPath id="cc4"><circle cx="339.50" cy="399.6" r="35.7"/></clipPath>
<clipPath id="cc5"><circle cx="415.15" cy="399.6" r="35.7"/></clipPath>
<clipPath id="cc6"><circle cx="490.80" cy="399.6" r="35.7"/></clipPath>
<clipPath id="cc7"><circle cx="566.45" cy="399.6" r="35.7"/></clipPath>
<clipPath id="cc8"><circle cx="642.10" cy="399.6" r="35.7"/></clipPath>
</defs>
<g clip-path="url(#cc0)">
<circle cx="36.90" cy="399.6" r="35.7" fill="#aaaaaa"/>
<rect x="1.2" y="363.9" width="71.4" height="71.4" filter="url(#tx)" opacity="0.25"/>
<g fill="#dedede"><circle cx="24.3" cy="374.7" r="5.2"/><circle cx="6.4" cy="402.2" r="4.9"/><circle cx="32.2" cy="368.9" r="4.6"/><circle cx="31.5" cy="422.9" r="4.6"/><circle cx="17.1" cy="408.7" r="5.5"/><circle cx="62.5" cy="384.6" r="4.7"/><circle cx="9.6" cy="385.9" r="5.4"/><circle cx="27.8" cy="403.0" r="4.6"/><circle cx="23.6" cy="405.7" r="5.0"/><circle cx="22.6" cy="420.6" r="5.3"/><circle cx="63.7" cy="416.0" r="4.8"/><circle cx="31.1" cy="418.0" r="4.7"/><circle cx="55.8" cy="404.8" r="5.5"/><circle cx="23.6" cy="413.5" r="5.2"/><circle cx="35.1" cy="411.3" r="4.6"/><circle cx="21.5" cy="391.4" r="5.2"/><circle cx="2.8" cy="396.9" r="4.7"/><circle cx="64.3" cy="422.4" r="5.5"/><circle cx="12.0" cy="376.5" r="4.8"/><circle cx="17.9" cy="398.5" r="5.1"/><circle cx="31.1" cy="390.3" r="5.1"/><circle cx="69.3" cy="413.2" r="5.1"/><circle cx="56.9" cy="426.3" r="5.4"/><circle cx="63.6" cy="407.7" r="4.7"/><circle cx="10.0" cy="424.5" r="5.6"/><circle cx="34.5" cy="398.4" r="4.6"/><circle cx="38.9" cy="374.4" r="5.1"/><circle cx="21.2" cy="382.4" r="5.3"/><circle cx="69.5" cy="395.8" r="5.5"/><circle cx="27.2" cy="379.6" r="4.7"/><circle cx="7.3" cy="411.1" r="5.5"/><circle cx="57.1" cy="417.5" r="5.0"/><circle cx="13.9" cy="420.2" r="4.9"/><circle cx="60.2" cy="379.0" r="4.8"/><circle cx="66.2" cy="389.2" r="5.0"/><circle cx="31.2" cy="429.4" r="5.1"/><circle cx="39.2" cy="401.3" r="4.5"/><circle cx="41.3" cy="418.2" r="5.5"/><circle cx="68.5" cy="382.4" r="5.1"/><circle cx="12.7" cy="394.7" r="5.1"/><circle cx="2.5" cy="387.6" r="5.2"/><circle cx="37.8" cy="368.5" r="5.6"/><circle cx="56.8" cy="383.2" r="4.6"/><circle cx="26.0" cy="365.2" r="4.8"/><circle cx="59.7" cy="394.8" r="5.0"/><circle cx="6.2" cy="416.8" r="4.8"/><circle cx="34.0" cy="375.1" r="5.0"/><circle cx="70.6" cy="403.0" r="4.8"/><circle cx="7.6" cy="392.4" r="4.5"/><circle cx="54.8" cy="410.8" r="5.3"/><circle cx="36.5" cy="391.2" r="5.0"/><circle cx="19.3" cy="417.0" r="4.8"/><circle cx="41.7" cy="364.8" r="4.6"/><circle cx="33.3" cy="383.1" r="4.7"/><circle cx="65.3" cy="398.6" r="4.5"/><circle cx="21.6" cy="430.7" r="4.8"/><circle cx="29.7" cy="395.7" r="5.5"/><circle cx="35.0" cy="405.8" r="4.5"/><circle cx="18.9" cy="371.7" r="4.7"/><circle cx="26.3" cy="432.1" r="4.6"/><circle cx="24.6" cy="386.7" r="4.9"/><circle cx="61.7" cy="411.3" r="4.6"/><circle cx="27.8" cy="425.7" r="5.0"/><circle cx="16.7" cy="390.2" r="4.7"/><circle cx="15.8" cy="382.1" r="5.2"/><circle cx="40.6" cy="409.6" r="5.5"/><circle cx="53.5" cy="422.1" r="4.7"/><circle cx="72.1" cy="408.9" r="4.9"/><circle cx="2.0" cy="409.9" r="5.1"/><circle cx="54.2" cy="396.2" r="4.7"/><circle cx="8.7" cy="380.5" r="4.5"/><circle cx="16.7" cy="426.7" r="4.5"/><circle cx="11.3" cy="407.0" r="4.9"/><circle cx="71.5" cy="389.3" r="4.6"/><circle cx="54.1" cy="431.0" r="5.1"/><circle cx="60.7" cy="389.2" r="5.4"/><circle cx="38.3" cy="395.7" r="5.1"/><circle cx="17.2" cy="376.9" r="4.6"/><circle cx="38.5" cy="414.1" r="4.6"/><circle cx="10.0" cy="399.1" r="5.1"/><circle cx="59.8" cy="400.9" r="5.3"/><circle cx="35.8" cy="420.5" r="4.8"/><circle cx="12.3" cy="414.3" r="4.6"/><circle cx="35.8" cy="428.1" r="4.8"/><circle cx="30.3" cy="410.2" r="5.4"/><circle cx="27.3" cy="421.1" r="4.7"/><circle cx="54.2" cy="388.3" r="4.9"/><circle cx="52.8" cy="415.3" r="4.6"/><circle cx="65.7" cy="376.9" r="4.7"/><circle cx="25.6" cy="399.0" r="4.7"/><circle cx="14.5" cy="402.9" r="5.1"/><circle cx="67.6" cy="417.9" r="4.7"/><circle cx="1.9" cy="403.4" r="4.7"/><circle cx="35.4" cy="434.4" r="4.6"/><circle cx="32.4" cy="364.0" r="5.4"/><circle cx="29.2" cy="386.2" r="4.6"/><circle cx="30.7" cy="434.6" r="4.5"/><circle cx="22.8" cy="368.7" r="5.1"/><circle cx="28.2" cy="368.8" r="4.5"/><circle cx="22.8" cy="425.8" r="4.9"/><circle cx="67.8" cy="408.9" r="4.6"/><circle cx="28.4" cy="414.7" r="4.7"/><circle cx="15.0" cy="370.7" r="4.6"/><circle cx="1.4" cy="392.5" r="5.1"/><circle cx="32.4" cy="402.5" r="4.7"/><circle cx="5.3" cy="384.0" r="4.6"/><circle cx="21.1" cy="401.9" r="4.5"/><circle cx="66.0" cy="402.8" r="4.6"/><circle cx="29.8" cy="372.4" r="4.5"/><circle cx="64.5" cy="393.8" r="5.1"/><circle cx="36.5" cy="386.7" r="4.6"/></g>
<g fill="#fafafa"><circle cx="24.3" cy="374.7" r="3.9"/><circle cx="6.4" cy="402.2" r="3.6"/><circle cx="32.2" cy="368.9" r="3.3"/><circle cx="31.5" cy="422.9" r="3.3"/><circle cx="17.1" cy="408.7" r="4.2"/><circle cx="62.5" cy="384.6" r="3.4"/><circle cx="9.6" cy="385.9" r="4.1"/><circle cx="27.8" cy="403.0" r="3.3"/><circle cx="23.6" cy="405.7" r="3.7"/><circle cx="22.6" cy="420.6" r="4.0"/><circle cx="63.7" cy="416.0" r="3.5"/><circle cx="31.1" cy="418.0" r="3.4"/><circle cx="55.8" cy="404.8" r="4.2"/><circle cx="23.6" cy="413.5" r="3.9"/><circle cx="35.1" cy="411.3" r="3.3"/><circle cx="21.5" cy="391.4" r="3.9"/><circle cx="2.8" cy="396.9" r="3.4"/><circle cx="64.3" cy="422.4" r="4.2"/><circle cx="12.0" cy="376.5" r="3.5"/><circle cx="17.9" cy="398.5" r="3.8"/><circle cx="31.1" cy="390.3" r="3.8"/><circle cx="69.3" cy="413.2" r="3.8"/><circle cx="56.9" cy="426.3" r="4.1"/><circle cx="63.6" cy="407.7" r="3.4"/><circle cx="10.0" cy="424.5" r="4.3"/><circle cx="34.5" cy="398.4" r="3.3"/><circle cx="38.9" cy="374.4" r="3.8"/><circle cx="21.2" cy="382.4" r="4.0"/><circle cx="69.5" cy="395.8" r="4.2"/><circle cx="27.2" cy="379.6" r="3.4"/><circle cx="7.3" cy="411.1" r="4.2"/><circle cx="57.1" cy="417.5" r="3.7"/><circle cx="13.9" cy="420.2" r="3.6"/><circle cx="60.2" cy="379.0" r="3.5"/><circle cx="66.2" cy="389.2" r="3.7"/><circle cx="31.2" cy="429.4" r="3.8"/><circle cx="39.2" cy="401.3" r="3.2"/><circle cx="41.3" cy="418.2" r="4.2"/><circle cx="68.5" cy="382.4" r="3.8"/><circle cx="12.7" cy="394.7" r="3.8"/><circle cx="2.5" cy="387.6" r="3.9"/><circle cx="37.8" cy="368.5" r="4.3"/><circle cx="56.8" cy="383.2" r="3.3"/><circle cx="26.0" cy="365.2" r="3.5"/><circle cx="59.7" cy="394.8" r="3.7"/><circle cx="6.2" cy="416.8" r="3.5"/><circle cx="34.0" cy="375.1" r="3.7"/><circle cx="70.6" cy="403.0" r="3.5"/><circle cx="7.6" cy="392.4" r="3.2"/><circle cx="54.8" cy="410.8" r="4.0"/><circle cx="36.5" cy="391.2" r="3.7"/><circle cx="19.3" cy="417.0" r="3.5"/><circle cx="41.7" cy="364.8" r="3.3"/><circle cx="33.3" cy="383.1" r="3.4"/><circle cx="65.3" cy="398.6" r="3.2"/><circle cx="21.6" cy="430.7" r="3.5"/><circle cx="29.7" cy="395.7" r="4.2"/><circle cx="35.0" cy="405.8" r="3.2"/><circle cx="18.9" cy="371.7" r="3.4"/><circle cx="26.3" cy="432.1" r="3.3"/><circle cx="24.6" cy="386.7" r="3.6"/><circle cx="61.7" cy="411.3" r="3.3"/><circle cx="27.8" cy="425.7" r="3.7"/><circle cx="16.7" cy="390.2" r="3.4"/><circle cx="15.8" cy="382.1" r="3.9"/><circle cx="40.6" cy="409.6" r="4.2"/><circle cx="53.5" cy="422.1" r="3.4"/><circle cx="72.1" cy="408.9" r="3.6"/><circle cx="2.0" cy="409.9" r="3.8"/><circle cx="54.2" cy="396.2" r="3.4"/><circle cx="8.7" cy="380.5" r="3.2"/><circle cx="16.7" cy="426.7" r="3.2"/><circle cx="11.3" cy="407.0" r="3.6"/><circle cx="71.5" cy="389.3" r="3.3"/><circle cx="54.1" cy="431.0" r="3.8"/><circle cx="60.7" cy="389.2" r="4.1"/><circle cx="38.3" cy="395.7" r="3.8"/><circle cx="17.2" cy="376.9" r="3.3"/><circle cx="38.5" cy="414.1" r="3.3"/><circle cx="10.0" cy="399.1" r="3.8"/><circle cx="59.8" cy="400.9" r="4.0"/><circle cx="35.8" cy="420.5" r="3.5"/><circle cx="12.3" cy="414.3" r="3.3"/><circle cx="35.8" cy="428.1" r="3.5"/><circle cx="30.3" cy="410.2" r="4.1"/><circle cx="27.3" cy="421.1" r="3.4"/><circle cx="54.2" cy="388.3" r="3.6"/><circle cx="52.8" cy="415.3" r="3.3"/><circle cx="65.7" cy="376.9" r="3.4"/><circle cx="25.6" cy="399.0" r="3.4"/><circle cx="14.5" cy="402.9" r="3.8"/><circle cx="67.6" cy="417.9" r="3.4"/><circle cx="1.9" cy="403.4" r="3.4"/><circle cx="35.4" cy="434.4" r="3.3"/><circle cx="32.4" cy="364.0" r="4.1"/><circle cx="29.2" cy="386.2" r="3.3"/><circle cx="30.7" cy="434.6" r="3.2"/><circle cx="22.8" cy="368.7" r="3.8"/><circle cx="28.2" cy="368.8" r="3.2"/><circle cx="22.8" cy="425.8" r="3.6"/><circle cx="67.8" cy="408.9" r="3.3"/><circle cx="28.4" cy="414.7" r="3.4"/><circle cx="15.0" cy="370.7" r="3.3"/><circle cx="1.4" cy="392.5" r="3.8"/><circle cx="32.4" cy="402.5" r="3.4"/><circle cx="5.3" cy="384.0" r="3.3"/><circle cx="21.1" cy="401.9" r="3.2"/><circle cx="66.0" cy="402.8" r="3.3"/><circle cx="29.8" cy="372.4" r="3.2"/><circle cx="64.5" cy="393.8" r="3.8"/><circle cx="36.5" cy="386.7" r="3.3"/></g>
<g fill="#b4b4b4" stroke="#080808" stroke-width="1.3"><circle cx="24.3" cy="374.7" r="2.6"/><circle cx="6.4" cy="402.2" r="2.3"/><circle cx="32.2" cy="368.9" r="2.0"/><circle cx="31.5" cy="422.9" r="2.0"/><circle cx="17.1" cy="408.7" r="2.9"/><circle cx="62.5" cy="384.6" r="2.1"/><circle cx="9.6" cy="385.9" r="2.8"/><circle cx="27.8" cy="403.0" r="2.0"/><circle cx="23.6" cy="405.7" r="2.4"/><circle cx="22.6" cy="420.6" r="2.7"/><circle cx="63.7" cy="416.0" r="2.2"/><circle cx="31.1" cy="418.0" r="2.1"/><circle cx="55.8" cy="404.8" r="2.9"/><circle cx="23.6" cy="413.5" r="2.6"/><circle cx="35.1" cy="411.3" r="2.0"/><circle cx="21.5" cy="391.4" r="2.6"/><circle cx="2.8" cy="396.9" r="2.1"/><circle cx="64.3" cy="422.4" r="2.9"/><circle cx="12.0" cy="376.5" r="2.2"/><circle cx="17.9" cy="398.5" r="2.5"/><circle cx="31.1" cy="390.3" r="2.5"/><circle cx="69.3" cy="413.2" r="2.5"/><circle cx="56.9" cy="426.3" r="2.8"/><circle cx="63.6" cy="407.7" r="2.1"/><circle cx="10.0" cy="424.5" r="3.0"/><circle cx="34.5" cy="398.4" r="2.0"/><circle cx="38.9" cy="374.4" r="2.5"/><circle cx="21.2" cy="382.4" r="2.7"/><circle cx="69.5" cy="395.8" r="2.9"/><circle cx="27.2" cy="379.6" r="2.1"/><circle cx="7.3" cy="411.1" r="2.9"/><circle cx="57.1" cy="417.5" r="2.4"/><circle cx="13.9" cy="420.2" r="2.3"/><circle cx="60.2" cy="379.0" r="2.2"/><circle cx="66.2" cy="389.2" r="2.4"/><circle cx="31.2" cy="429.4" r="2.5"/><circle cx="39.2" cy="401.3" r="1.9"/><circle cx="41.3" cy="418.2" r="2.9"/><circle cx="68.5" cy="382.4" r="2.5"/><circle cx="12.7" cy="394.7" r="2.5"/><circle cx="2.5" cy="387.6" r="2.6"/><circle cx="37.8" cy="368.5" r="3.0"/><circle cx="56.8" cy="383.2" r="2.0"/><circle cx="26.0" cy="365.2" r="2.2"/><circle cx="59.7" cy="394.8" r="2.4"/><circle cx="6.2" cy="416.8" r="2.2"/><circle cx="34.0" cy="375.1" r="2.4"/><circle cx="70.6" cy="403.0" r="2.2"/><circle cx="7.6" cy="392.4" r="1.9"/><circle cx="54.8" cy="410.8" r="2.7"/><circle cx="36.5" cy="391.2" r="2.4"/><circle cx="19.3" cy="417.0" r="2.2"/><circle cx="41.7" cy="364.8" r="2.0"/><circle cx="33.3" cy="383.1" r="2.1"/><circle cx="65.3" cy="398.6" r="1.9"/><circle cx="21.6" cy="430.7" r="2.2"/><circle cx="29.7" cy="395.7" r="2.9"/><circle cx="35.0" cy="405.8" r="1.9"/><circle cx="18.9" cy="371.7" r="2.1"/><circle cx="26.3" cy="432.1" r="2.0"/><circle cx="24.6" cy="386.7" r="2.3"/><circle cx="61.7" cy="411.3" r="2.0"/><circle cx="27.8" cy="425.7" r="2.4"/><circle cx="16.7" cy="390.2" r="2.1"/><circle cx="15.8" cy="382.1" r="2.6"/><circle cx="40.6" cy="409.6" r="2.9"/><circle cx="53.5" cy="422.1" r="2.1"/><circle cx="72.1" cy="408.9" r="2.3"/><circle cx="2.0" cy="409.9" r="2.5"/><circle cx="54.2" cy="396.2" r="2.1"/><circle cx="8.7" cy="380.5" r="1.9"/><circle cx="16.7" cy="426.7" r="1.9"/><circle cx="11.3" cy="407.0" r="2.3"/><circle cx="71.5" cy="389.3" r="2.0"/><circle cx="54.1" cy="431.0" r="2.5"/><circle cx="60.7" cy="389.2" r="2.8"/><circle cx="38.3" cy="395.7" r="2.5"/><circle cx="17.2" cy="376.9" r="2.0"/><circle cx="38.5" cy="414.1" r="2.0"/><circle cx="10.0" cy="399.1" r="2.5"/><circle cx="59.8" cy="400.9" r="2.7"/><circle cx="35.8" cy="420.5" r="2.2"/><circle cx="12.3" cy="414.3" r="2.0"/><circle cx="35.8" cy="428.1" r="2.2"/><circle cx="30.3" cy="410.2" r="2.8"/><circle cx="27.3" cy="421.1" r="2.1"/><circle cx="54.2" cy="388.3" r="2.3"/><circle cx="52.8" cy="415.3" r="2.0"/><circle cx="65.7" cy="376.9" r="2.1"/><circle cx="25.6" cy="399.0" r="2.1"/><circle cx="14.5" cy="402.9" r="2.5"/><circle cx="67.6" cy="417.9" r="2.1"/><circle cx="1.9" cy="403.4" r="2.1"/><circle cx="35.4" cy="434.4" r="2.0"/><circle cx="32.4" cy="364.0" r="2.8"/><circle cx="29.2" cy="386.2" r="2.0"/><circle cx="30.7" cy="434.6" r="1.9"/><circle cx="22.8" cy="368.7" r="2.5"/><circle cx="28.2" cy="368.8" r="1.9"/><circle cx="22.8" cy="425.8" r="2.3"/><circle cx="67.8" cy="408.9" r="2.0"/><circle cx="28.4" cy="414.7" r="2.1"/><circle cx="15.0" cy="370.7" r="2.0"/><circle cx="1.4" cy="392.5" r="2.5"/><circle cx="32.4" cy="402.5" r="2.1"/><circle cx="5.3" cy="384.0" r="2.0"/><circle cx="21.1" cy="401.9" r="1.9"/><circle cx="66.0" cy="402.8" r="2.0"/><circle cx="29.8" cy="372.4" r="1.9"/><circle cx="64.5" cy="393.8" r="2.5"/><circle cx="36.5" cy="386.7" r="2.0"/></g>
<g fill="#f0f0f0"><circle cx="7.4" cy="401.3" r="0.7"/><circle cx="31.7" cy="368.6" r="0.5"/><circle cx="31.5" cy="422.1" r="0.7"/><circle cx="16.2" cy="407.8" r="0.8"/><circle cx="10.2" cy="385.2" r="0.5"/><circle cx="23.2" cy="420.2" r="0.8"/><circle cx="23.9" cy="414.3" r="0.9"/><circle cx="35.5" cy="410.8" r="0.6"/><circle cx="3.1" cy="396.0" r="0.6"/><circle cx="11.9" cy="375.8" r="0.8"/><circle cx="57.2" cy="425.5" r="0.6"/><circle cx="63.5" cy="408.7" r="0.7"/><circle cx="9.5" cy="425.5" r="0.9"/><circle cx="38.3" cy="374.1" r="0.6"/><circle cx="69.6" cy="395.0" r="0.6"/><circle cx="27.6" cy="378.7" r="0.6"/><circle cx="13.4" cy="420.2" r="0.7"/><circle cx="60.2" cy="378.8" r="0.8"/><circle cx="67.1" cy="389.6" r="0.6"/><circle cx="12.5" cy="394.1" r="0.6"/><circle cx="38.3" cy="368.2" r="0.8"/><circle cx="20.1" cy="417.1" r="0.8"/><circle cx="64.9" cy="397.8" r="0.6"/><circle cx="34.6" cy="406.7" r="0.8"/><circle cx="26.1" cy="432.1" r="0.9"/><circle cx="17.5" cy="390.5" r="0.7"/><circle cx="53.7" cy="422.3" r="0.6"/><circle cx="71.7" cy="408.5" r="0.7"/><circle cx="2.1" cy="410.3" r="0.5"/><circle cx="17.2" cy="427.1" r="0.8"/><circle cx="54.8" cy="430.1" r="0.9"/><circle cx="61.4" cy="388.6" r="0.9"/><circle cx="16.4" cy="377.8" r="0.8"/><circle cx="58.9" cy="401.7" r="0.9"/><circle cx="12.9" cy="413.4" r="0.5"/><circle cx="35.6" cy="428.9" r="0.6"/><circle cx="31.1" cy="409.7" r="0.9"/><circle cx="65.4" cy="377.6" r="0.7"/><circle cx="25.0" cy="399.9" r="0.6"/><circle cx="13.9" cy="403.9" r="0.6"/><circle cx="29.2" cy="386.3" r="0.6"/><circle cx="23.4" cy="426.5" r="0.8"/><circle cx="67.9" cy="409.4" r="0.6"/><circle cx="14.2" cy="370.3" r="0.9"/><circle cx="30.0" cy="372.5" r="0.7"/><circle cx="63.6" cy="393.9" r="0.5"/></g>
<g fill="#151515"><circle cx="25.1" cy="375.2" r="0.9"/><circle cx="7.0" cy="401.4" r="0.9"/><circle cx="32.8" cy="369.5" r="0.9"/><circle cx="31.7" cy="423.1" r="1.0"/><circle cx="62.0" cy="384.7" r="0.7"/><circle cx="9.8" cy="385.2" r="1.5"/><circle cx="22.3" cy="420.3" r="1.0"/><circle cx="63.6" cy="415.4" r="1.2"/><circle cx="55.8" cy="404.4" r="1.3"/><circle cx="23.3" cy="413.5" r="0.8"/><circle cx="35.7" cy="411.9" r="0.8"/><circle cx="2.6" cy="396.3" r="1.0"/><circle cx="64.4" cy="422.8" r="1.0"/><circle cx="12.7" cy="375.9" r="1.0"/><circle cx="31.8" cy="390.1" r="1.1"/><circle cx="56.7" cy="426.8" r="1.4"/><circle cx="63.4" cy="408.4" r="0.9"/><circle cx="10.1" cy="424.3" r="1.4"/><circle cx="35.2" cy="398.3" r="0.9"/><circle cx="39.7" cy="374.6" r="0.8"/><circle cx="21.8" cy="382.4" r="1.3"/><circle cx="69.4" cy="396.4" r="0.9"/><circle cx="27.8" cy="379.2" r="1.0"/><circle cx="7.8" cy="411.3" r="1.2"/><circle cx="56.5" cy="417.4" r="1.0"/><circle cx="14.5" cy="421.0" r="0.7"/><circle cx="60.6" cy="379.3" r="0.8"/><circle cx="65.5" cy="389.8" r="1.0"/><circle cx="31.3" cy="429.9" r="0.9"/><circle cx="38.7" cy="401.5" r="0.7"/><circle cx="41.2" cy="418.2" r="1.4"/><circle cx="68.7" cy="383.2" r="1.2"/><circle cx="12.1" cy="394.0" r="0.9"/><circle cx="2.5" cy="387.6" r="1.1"/><circle cx="37.7" cy="369.0" r="1.2"/><circle cx="56.4" cy="383.4" r="0.8"/><circle cx="26.7" cy="365.1" r="1.0"/><circle cx="60.4" cy="394.2" r="1.2"/><circle cx="6.7" cy="416.8" r="1.0"/><circle cx="34.3" cy="374.8" r="1.1"/><circle cx="70.2" cy="403.1" r="0.7"/><circle cx="7.6" cy="392.4" r="0.9"/><circle cx="55.6" cy="411.0" r="1.5"/><circle cx="36.8" cy="391.9" r="0.9"/><circle cx="42.4" cy="364.9" r="0.6"/><circle cx="64.7" cy="399.3" r="0.8"/><circle cx="21.3" cy="430.8" r="0.7"/><circle cx="30.2" cy="395.7" r="1.4"/><circle cx="19.1" cy="371.2" r="0.8"/><circle cx="24.9" cy="386.9" r="1.0"/><circle cx="62.2" cy="410.9" r="0.7"/><circle cx="41.1" cy="410.1" r="1.3"/><circle cx="1.7" cy="410.4" r="0.8"/><circle cx="8.2" cy="380.4" r="1.0"/><circle cx="72.2" cy="389.5" r="0.6"/><circle cx="61.0" cy="389.2" r="0.9"/><circle cx="37.7" cy="396.4" r="1.2"/><circle cx="17.9" cy="377.0" r="0.8"/><circle cx="39.3" cy="413.5" r="1.0"/><circle cx="10.2" cy="398.5" r="1.0"/><circle cx="59.1" cy="400.9" r="1.3"/><circle cx="36.2" cy="420.9" r="1.2"/><circle cx="12.4" cy="413.8" r="0.8"/><circle cx="35.3" cy="428.2" r="0.8"/><circle cx="29.7" cy="409.8" r="1.4"/><circle cx="53.7" cy="389.0" r="1.0"/><circle cx="53.6" cy="414.5" r="0.7"/><circle cx="65.3" cy="376.9" r="0.8"/><circle cx="26.2" cy="399.2" r="1.1"/><circle cx="67.6" cy="417.2" r="0.8"/><circle cx="2.6" cy="403.8" r="0.9"/><circle cx="35.0" cy="434.0" r="0.8"/><circle cx="29.6" cy="385.6" r="1.0"/><circle cx="30.8" cy="434.5" r="1.0"/><circle cx="28.1" cy="368.7" r="0.7"/><circle cx="22.1" cy="426.5" r="0.7"/><circle cx="68.4" cy="409.4" r="0.8"/><circle cx="29.2" cy="414.1" r="1.0"/><circle cx="1.2" cy="392.0" r="0.9"/><circle cx="4.5" cy="383.6" r="0.8"/><circle cx="20.8" cy="401.7" r="0.9"/><circle cx="65.2" cy="393.7" r="1.1"/></g>
</g>
<circle cx="36.90" cy="399.6" r="35.7" fill="none" stroke="#1a1a1a" stroke-width="0.9"/>
<rect x="37.30" y="427.90" width="16.10" height="2.40" fill="#000" stroke="none" stroke-width="1"/>
<text x="37.90" y="356.80" font-size="9" text-anchor="middle" fill="#111">siRNA-NC</text>
<g clip-path="url(#cc1)">
<circle cx="112.55" cy="399.6" r="35.7" fill="#aaaaaa"/>
<rect x="76.9" y="363.9" width="71.4" height="71.4" filter="url(#tx)" opacity="0.25"/>
<g fill="#dedede"><circle cx="99.6" cy="400.2" r="5.0"/><circle cx="122.4" cy="396.2" r="5.3"/><circle cx="119.5" cy="419.8" r="5.3"/><circle cx="103.6" cy="427.6" r="5.3"/><circle cx="138.3" cy="411.4" r="5.1"/><circle cx="125.4" cy="405.9" r="5.4"/><circle cx="86.4" cy="406.4" r="5.5"/><circle cx="104.3" cy="392.9" r="5.2"/><circle cx="93.3" cy="413.9" r="5.5"/><circle cx="126.9" cy="376.9" r="5.1"/><circle cx="124.2" cy="413.0" r="5.5"/><circle cx="111.6" cy="406.4" r="4.9"/><circle cx="112.3" cy="418.1" r="4.9"/><circle cx="140.6" cy="378.8" r="4.8"/><circle cx="94.0" cy="380.1" r="5.3"/><circle cx="138.1" cy="405.0" r="5.0"/><circle cx="98.4" cy="418.2" r="5.2"/><circle cx="103.2" cy="385.5" r="4.9"/><circle cx="105.8" cy="410.6" r="5.0"/><circle cx="93.7" cy="368.7" r="4.5"/><circle cx="131.1" cy="396.7" r="5.5"/><circle cx="104.7" cy="377.2" r="5.4"/><circle cx="99.3" cy="376.7" r="4.6"/><circle cx="113.3" cy="425.0" r="4.7"/><circle cx="109.4" cy="401.5" r="4.8"/><circle cx="120.8" cy="426.1" r="4.8"/><circle cx="125.7" cy="387.6" r="4.9"/><circle cx="91.0" cy="400.0" r="5.5"/><circle cx="94.4" cy="420.5" r="4.6"/><circle cx="132.6" cy="423.2" r="5.2"/><circle cx="134.1" cy="416.0" r="4.8"/><circle cx="86.0" cy="378.3" r="5.0"/><circle cx="98.1" cy="391.8" r="4.6"/><circle cx="112.9" cy="395.6" r="5.0"/><circle cx="112.7" cy="411.3" r="5.0"/><circle cx="98.6" cy="412.5" r="5.0"/><circle cx="111.7" cy="383.4" r="4.5"/><circle cx="82.3" cy="394.4" r="5.6"/><circle cx="78.4" cy="408.6" r="5.5"/><circle cx="93.5" cy="373.1" r="5.1"/><circle cx="98.8" cy="406.6" r="5.2"/><circle cx="120.6" cy="402.3" r="5.1"/><circle cx="118.5" cy="431.8" r="4.6"/><circle cx="83.7" cy="416.4" r="4.9"/><circle cx="117.7" cy="391.0" r="4.5"/><circle cx="137.1" cy="389.7" r="5.5"/><circle cx="124.2" cy="430.8" r="5.6"/><circle cx="87.2" cy="425.5" r="4.6"/><circle cx="81.3" cy="402.1" r="4.8"/><circle cx="141.6" cy="419.4" r="5.3"/><circle cx="128.7" cy="419.3" r="5.3"/><circle cx="94.3" cy="394.9" r="5.3"/><circle cx="104.5" cy="434.0" r="5.2"/><circle cx="145.7" cy="396.7" r="4.8"/><circle cx="81.7" cy="385.0" r="4.8"/><circle cx="142.0" cy="392.8" r="4.8"/><circle cx="133.6" cy="373.9" r="5.1"/><circle cx="78.8" cy="390.4" r="4.6"/><circle cx="126.5" cy="371.4" r="4.7"/><circle cx="105.4" cy="398.6" r="4.8"/><circle cx="89.1" cy="420.4" r="5.0"/><circle cx="98.2" cy="383.5" r="4.6"/><circle cx="139.6" cy="397.3" r="4.6"/><circle cx="86.6" cy="382.8" r="4.8"/><circle cx="134.7" cy="408.1" r="4.8"/><circle cx="108.4" cy="380.0" r="4.5"/><circle cx="147.0" cy="403.0" r="5.4"/><circle cx="90.8" cy="389.5" r="5.2"/><circle cx="123.8" cy="382.0" r="4.8"/><circle cx="93.5" cy="425.0" r="4.6"/><circle cx="105.5" cy="404.5" r="4.9"/><circle cx="147.0" cy="392.6" r="4.7"/><circle cx="95.3" cy="430.7" r="5.0"/><circle cx="129.7" cy="383.9" r="4.6"/><circle cx="89.1" cy="394.9" r="4.9"/><circle cx="85.4" cy="412.0" r="4.7"/><circle cx="108.5" cy="388.6" r="4.6"/><circle cx="119.5" cy="408.5" r="4.7"/><circle cx="116.2" cy="404.3" r="4.8"/><circle cx="109.5" cy="375.7" r="4.6"/><circle cx="117.7" cy="398.1" r="4.9"/><circle cx="136.1" cy="400.5" r="4.7"/><circle cx="144.9" cy="382.8" r="5.0"/><circle cx="126.4" cy="400.2" r="5.4"/><circle cx="92.6" cy="408.1" r="4.9"/><circle cx="85.6" cy="399.5" r="4.6"/><circle cx="118.8" cy="413.9" r="4.9"/><circle cx="142.7" cy="408.8" r="4.8"/><circle cx="84.9" cy="421.4" r="4.6"/><circle cx="115.1" cy="429.3" r="4.5"/><circle cx="99.5" cy="424.7" r="4.7"/><circle cx="125.5" cy="423.2" r="4.9"/><circle cx="94.0" cy="385.5" r="5.0"/><circle cx="106.6" cy="416.9" r="5.5"/><circle cx="131.1" cy="388.8" r="5.0"/><circle cx="144.9" cy="413.9" r="5.6"/><circle cx="112.5" cy="390.2" r="4.5"/><circle cx="135.8" cy="378.5" r="5.1"/><circle cx="85.4" cy="389.0" r="5.1"/><circle cx="122.0" cy="391.1" r="4.8"/><circle cx="138.8" cy="424.8" r="5.2"/><circle cx="110.3" cy="431.8" r="5.1"/><circle cx="130.3" cy="413.0" r="5.2"/><circle cx="146.8" cy="408.4" r="4.6"/><circle cx="81.8" cy="380.1" r="4.5"/><circle cx="129.7" cy="430.6" r="4.9"/><circle cx="77.2" cy="398.0" r="4.6"/><circle cx="88.1" cy="373.7" r="5.3"/><circle cx="109.3" cy="392.4" r="4.6"/><circle cx="141.0" cy="401.6" r="4.5"/><circle cx="98.1" cy="371.8" r="5.0"/><circle cx="115.0" cy="434.7" r="4.9"/><circle cx="131.3" cy="379.9" r="4.8"/><circle cx="115.4" cy="386.9" r="5.0"/><circle cx="98.3" cy="366.6" r="4.8"/><circle cx="128.1" cy="366.8" r="5.4"/><circle cx="102.3" cy="421.7" r="4.6"/><circle cx="94.9" cy="403.1" r="4.7"/><circle cx="133.4" cy="428.5" r="4.6"/><circle cx="137.0" cy="419.5" r="4.5"/><circle cx="126.7" cy="393.8" r="4.6"/><circle cx="121.5" cy="386.9" r="4.6"/><circle cx="88.7" cy="415.0" r="4.5"/><circle cx="99.4" cy="433.4" r="4.6"/><circle cx="133.2" cy="369.6" r="4.5"/><circle cx="76.9" cy="403.1" r="4.8"/></g>
<g fill="#fafafa"><circle cx="99.6" cy="400.2" r="3.7"/><circle cx="122.4" cy="396.2" r="4.0"/><circle cx="119.5" cy="419.8" r="4.0"/><circle cx="103.6" cy="427.6" r="4.0"/><circle cx="138.3" cy="411.4" r="3.8"/><circle cx="125.4" cy="405.9" r="4.1"/><circle cx="86.4" cy="406.4" r="4.2"/><circle cx="104.3" cy="392.9" r="3.9"/><circle cx="93.3" cy="413.9" r="4.2"/><circle cx="126.9" cy="376.9" r="3.8"/><circle cx="124.2" cy="413.0" r="4.2"/><circle cx="111.6" cy="406.4" r="3.6"/><circle cx="112.3" cy="418.1" r="3.6"/><circle cx="140.6" cy="378.8" r="3.5"/><circle cx="94.0" cy="380.1" r="4.0"/><circle cx="138.1" cy="405.0" r="3.7"/><circle cx="98.4" cy="418.2" r="3.9"/><circle cx="103.2" cy="385.5" r="3.6"/><circle cx="105.8" cy="410.6" r="3.7"/><circle cx="93.7" cy="368.7" r="3.2"/><circle cx="131.1" cy="396.7" r="4.2"/><circle cx="104.7" cy="377.2" r="4.1"/><circle cx="99.3" cy="376.7" r="3.3"/><circle cx="113.3" cy="425.0" r="3.4"/><circle cx="109.4" cy="401.5" r="3.5"/><circle cx="120.8" cy="426.1" r="3.5"/><circle cx="125.7" cy="387.6" r="3.6"/><circle cx="91.0" cy="400.0" r="4.2"/><circle cx="94.4" cy="420.5" r="3.3"/><circle cx="132.6" cy="423.2" r="3.9"/><circle cx="134.1" cy="416.0" r="3.5"/><circle cx="86.0" cy="378.3" r="3.7"/><circle cx="98.1" cy="391.8" r="3.3"/><circle cx="112.9" cy="395.6" r="3.7"/><circle cx="112.7" cy="411.3" r="3.7"/><circle cx="98.6" cy="412.5" r="3.7"/><circle cx="111.7" cy="383.4" r="3.2"/><circle cx="82.3" cy="394.4" r="4.3"/><circle cx="78.4" cy="408.6" r="4.2"/><circle cx="93.5" cy="373.1" r="3.8"/><circle cx="98.8" cy="406.6" r="3.9"/><circle cx="120.6" cy="402.3" r="3.8"/><circle cx="118.5" cy="431.8" r="3.3"/><circle cx="83.7" cy="416.4" r="3.6"/><circle cx="117.7" cy="391.0" r="3.2"/><circle cx="137.1" cy="389.7" r="4.2"/><circle cx="124.2" cy="430.8" r="4.3"/><circle cx="87.2" cy="425.5" r="3.3"/><circle cx="81.3" cy="402.1" r="3.5"/><circle cx="141.6" cy="419.4" r="4.0"/><circle cx="128.7" cy="419.3" r="4.0"/><circle cx="94.3" cy="394.9" r="4.0"/><circle cx="104.5" cy="434.0" r="3.9"/><circle cx="145.7" cy="396.7" r="3.5"/><circle cx="81.7" cy="385.0" r="3.5"/><circle cx="142.0" cy="392.8" r="3.5"/><circle cx="133.6" cy="373.9" r="3.8"/><circle cx="78.8" cy="390.4" r="3.3"/><circle cx="126.5" cy="371.4" r="3.4"/><circle cx="105.4" cy="398.6" r="3.5"/><circle cx="89.1" cy="420.4" r="3.7"/><circle cx="98.2" cy="383.5" r="3.3"/><circle cx="139.6" cy="397.3" r="3.3"/><circle cx="86.6" cy="382.8" r="3.5"/><circle cx="134.7" cy="408.1" r="3.5"/><circle cx="108.4" cy="380.0" r="3.2"/><circle cx="147.0" cy="403.0" r="4.1"/><circle cx="90.8" cy="389.5" r="3.9"/><circle cx="123.8" cy="382.0" r="3.5"/><circle cx="93.5" cy="425.0" r="3.3"/><circle cx="105.5" cy="404.5" r="3.6"/><circle cx="147.0" cy="392.6" r="3.4"/><circle cx="95.3" cy="430.7" r="3.7"/><circle cx="129.7" cy="383.9" r="3.3"/><circle cx="89.1" cy="394.9" r="3.6"/><circle cx="85.4" cy="412.0" r="3.4"/><circle cx="108.5" cy="388.6" r="3.3"/><circle cx="119.5" cy="408.5" r="3.4"/><circle cx="116.2" cy="404.3" r="3.5"/><circle cx="109.5" cy="375.7" r="3.3"/><circle cx="117.7" cy="398.1" r="3.6"/><circle cx="136.1" cy="400.5" r="3.4"/><circle cx="144.9" cy="382.8" r="3.7"/><circle cx="126.4" cy="400.2" r="4.1"/><circle cx="92.6" cy="408.1" r="3.6"/><circle cx="85.6" cy="399.5" r="3.3"/><circle cx="118.8" cy="413.9" r="3.6"/><circle cx="142.7" cy="408.8" r="3.5"/><circle cx="84.9" cy="421.4" r="3.3"/><circle cx="115.1" cy="429.3" r="3.2"/><circle cx="99.5" cy="424.7" r="3.4"/><circle cx="125.5" cy="423.2" r="3.6"/><circle cx="94.0" cy="385.5" r="3.7"/><circle cx="106.6" cy="416.9" r="4.2"/><circle cx="131.1" cy="388.8" r="3.7"/><circle cx="144.9" cy="413.9" r="4.3"/><circle cx="112.5" cy="390.2" r="3.2"/><circle cx="135.8" cy="378.5" r="3.8"/><circle cx="85.4" cy="389.0" r="3.8"/><circle cx="122.0" cy="391.1" r="3.5"/><circle cx="138.8" cy="424.8" r="3.9"/><circle cx="110.3" cy="431.8" r="3.8"/><circle cx="130.3" cy="413.0" r="3.9"/><circle cx="146.8" cy="408.4" r="3.3"/><circle cx="81.8" cy="380.1" r="3.2"/><circle cx="129.7" cy="430.6" r="3.6"/><circle cx="77.2" cy="398.0" r="3.3"/><circle cx="88.1" cy="373.7" r="4.0"/><circle cx="109.3" cy="392.4" r="3.3"/><circle cx="141.0" cy="401.6" r="3.2"/><circle cx="98.1" cy="371.8" r="3.7"/><circle cx="115.0" cy="434.7" r="3.6"/><circle cx="131.3" cy="379.9" r="3.5"/><circle cx="115.4" cy="386.9" r="3.7"/><circle cx="98.3" cy="366.6" r="3.5"/><circle cx="128.1" cy="366.8" r="4.1"/><circle cx="102.3" cy="421.7" r="3.3"/><circle cx="94.9" cy="403.1" r="3.4"/><circle cx="133.4" cy="428.5" r="3.3"/><circle cx="137.0" cy="419.5" r="3.2"/><circle cx="126.7" cy="393.8" r="3.3"/><circle cx="121.5" cy="386.9" r="3.3"/><circle cx="88.7" cy="415.0" r="3.2"/><circle cx="99.4" cy="433.4" r="3.3"/><circle cx="133.2" cy="369.6" r="3.2"/><circle cx="76.9" cy="403.1" r="3.5"/></g>
<g fill="#b4b4b4" stroke="#080808" stroke-width="1.3"><circle cx="99.6" cy="400.2" r="2.4"/><circle cx="122.4" cy="396.2" r="2.7"/><circle cx="119.5" cy="419.8" r="2.7"/><circle cx="103.6" cy="427.6" r="2.7"/><circle cx="138.3" cy="411.4" r="2.5"/><circle cx="125.4" cy="405.9" r="2.8"/><circle cx="86.4" cy="406.4" r="2.9"/><circle cx="104.3" cy="392.9" r="2.6"/><circle cx="93.3" cy="413.9" r="2.9"/><circle cx="126.9" cy="376.9" r="2.5"/><circle cx="124.2" cy="413.0" r="2.9"/><circle cx="111.6" cy="406.4" r="2.3"/><circle cx="112.3" cy="418.1" r="2.3"/><circle cx="140.6" cy="378.8" r="2.2"/><circle cx="94.0" cy="380.1" r="2.7"/><circle cx="138.1" cy="405.0" r="2.4"/><circle cx="98.4" cy="418.2" r="2.6"/><circle cx="103.2" cy="385.5" r="2.3"/><circle cx="105.8" cy="410.6" r="2.4"/><circle cx="93.7" cy="368.7" r="1.9"/><circle cx="131.1" cy="396.7" r="2.9"/><circle cx="104.7" cy="377.2" r="2.8"/><circle cx="99.3" cy="376.7" r="2.0"/><circle cx="113.3" cy="425.0" r="2.1"/><circle cx="109.4" cy="401.5" r="2.2"/><circle cx="120.8" cy="426.1" r="2.2"/><circle cx="125.7" cy="387.6" r="2.3"/><circle cx="91.0" cy="400.0" r="2.9"/><circle cx="94.4" cy="420.5" r="2.0"/><circle cx="132.6" cy="423.2" r="2.6"/><circle cx="134.1" cy="416.0" r="2.2"/><circle cx="86.0" cy="378.3" r="2.4"/><circle cx="98.1" cy="391.8" r="2.0"/><circle cx="112.9" cy="395.6" r="2.4"/><circle cx="112.7" cy="411.3" r="2.4"/><circle cx="98.6" cy="412.5" r="2.4"/><circle cx="111.7" cy="383.4" r="1.9"/><circle cx="82.3" cy="394.4" r="3.0"/><circle cx="78.4" cy="408.6" r="2.9"/><circle cx="93.5" cy="373.1" r="2.5"/><circle cx="98.8" cy="406.6" r="2.6"/><circle cx="120.6" cy="402.3" r="2.5"/><circle cx="118.5" cy="431.8" r="2.0"/><circle cx="83.7" cy="416.4" r="2.3"/><circle cx="117.7" cy="391.0" r="1.9"/><circle cx="137.1" cy="389.7" r="2.9"/><circle cx="124.2" cy="430.8" r="3.0"/><circle cx="87.2" cy="425.5" r="2.0"/><circle cx="81.3" cy="402.1" r="2.2"/><circle cx="141.6" cy="419.4" r="2.7"/><circle cx="128.7" cy="419.3" r="2.7"/><circle cx="94.3" cy="394.9" r="2.7"/><circle cx="104.5" cy="434.0" r="2.6"/><circle cx="145.7" cy="396.7" r="2.2"/><circle cx="81.7" cy="385.0" r="2.2"/><circle cx="142.0" cy="392.8" r="2.2"/><circle cx="133.6" cy="373.9" r="2.5"/><circle cx="78.8" cy="390.4" r="2.0"/><circle cx="126.5" cy="371.4" r="2.1"/><circle cx="105.4" cy="398.6" r="2.2"/><circle cx="89.1" cy="420.4" r="2.4"/><circle cx="98.2" cy="383.5" r="2.0"/><circle cx="139.6" cy="397.3" r="2.0"/><circle cx="86.6" cy="382.8" r="2.2"/><circle cx="134.7" cy="408.1" r="2.2"/><circle cx="108.4" cy="380.0" r="1.9"/><circle cx="147.0" cy="403.0" r="2.8"/><circle cx="90.8" cy="389.5" r="2.6"/><circle cx="123.8" cy="382.0" r="2.2"/><circle cx="93.5" cy="425.0" r="2.0"/><circle cx="105.5" cy="404.5" r="2.3"/><circle cx="147.0" cy="392.6" r="2.1"/><circle cx="95.3" cy="430.7" r="2.4"/><circle cx="129.7" cy="383.9" r="2.0"/><circle cx="89.1" cy="394.9" r="2.3"/><circle cx="85.4" cy="412.0" r="2.1"/><circle cx="108.5" cy="388.6" r="2.0"/><circle cx="119.5" cy="408.5" r="2.1"/><circle cx="116.2" cy="404.3" r="2.2"/><circle cx="109.5" cy="375.7" r="2.0"/><circle cx="117.7" cy="398.1" r="2.3"/><circle cx="136.1" cy="400.5" r="2.1"/><circle cx="144.9" cy="382.8" r="2.4"/><circle cx="126.4" cy="400.2" r="2.8"/><circle cx="92.6" cy="408.1" r="2.3"/><circle cx="85.6" cy="399.5" r="2.0"/><circle cx="118.8" cy="413.9" r="2.3"/><circle cx="142.7" cy="408.8" r="2.2"/><circle cx="84.9" cy="421.4" r="2.0"/><circle cx="115.1" cy="429.3" r="1.9"/><circle cx="99.5" cy="424.7" r="2.1"/><circle cx="125.5" cy="423.2" r="2.3"/><circle cx="94.0" cy="385.5" r="2.4"/><circle cx="106.6" cy="416.9" r="2.9"/><circle cx="131.1" cy="388.8" r="2.4"/><circle cx="144.9" cy="413.9" r="3.0"/><circle cx="112.5" cy="390.2" r="1.9"/><circle cx="135.8" cy="378.5" r="2.5"/><circle cx="85.4" cy="389.0" r="2.5"/><circle cx="122.0" cy="391.1" r="2.2"/><circle cx="138.8" cy="424.8" r="2.6"/><circle cx="110.3" cy="431.8" r="2.5"/><circle cx="130.3" cy="413.0" r="2.6"/><circle cx="146.8" cy="408.4" r="2.0"/><circle cx="81.8" cy="380.1" r="1.9"/><circle cx="129.7" cy="430.6" r="2.3"/><circle cx="77.2" cy="398.0" r="2.0"/><circle cx="88.1" cy="373.7" r="2.7"/><circle cx="109.3" cy="392.4" r="2.0"/><circle cx="141.0" cy="401.6" r="1.9"/><circle cx="98.1" cy="371.8" r="2.4"/><circle cx="115.0" cy="434.7" r="2.3"/><circle cx="131.3" cy="379.9" r="2.2"/><circle cx="115.4" cy="386.9" r="2.4"/><circle cx="98.3" cy="366.6" r="2.2"/><circle cx="128.1" cy="366.8" r="2.8"/><circle cx="102.3" cy="421.7" r="2.0"/><circle cx="94.9" cy="403.1" r="2.1"/><circle cx="133.4" cy="428.5" r="2.0"/><circle cx="137.0" cy="419.5" r="1.9"/><circle cx="126.7" cy="393.8" r="2.0"/><circle cx="121.5" cy="386.9" r="2.0"/><circle cx="88.7" cy="415.0" r="1.9"/><circle cx="99.4" cy="433.4" r="2.0"/><circle cx="133.2" cy="369.6" r="1.9"/><circle cx="76.9" cy="403.1" r="2.2"/></g>
<g fill="#f0f0f0"><circle cx="98.8" cy="399.4" r="0.6"/><circle cx="120.1" cy="420.8" r="0.8"/><circle cx="125.4" cy="406.2" r="0.7"/><circle cx="127.7" cy="376.3" r="0.6"/><circle cx="123.4" cy="413.6" r="0.6"/><circle cx="111.6" cy="418.9" r="0.7"/><circle cx="94.2" cy="380.3" r="0.5"/><circle cx="103.7" cy="385.5" r="0.6"/><circle cx="106.2" cy="411.4" r="0.8"/><circle cx="120.1" cy="426.9" r="0.8"/><circle cx="125.4" cy="388.2" r="0.8"/><circle cx="91.4" cy="399.2" r="0.8"/><circle cx="93.6" cy="420.0" r="0.8"/><circle cx="131.9" cy="423.7" r="0.8"/><circle cx="85.2" cy="377.4" r="0.9"/><circle cx="98.6" cy="412.0" r="0.7"/><circle cx="111.1" cy="384.2" r="0.6"/><circle cx="94.2" cy="373.4" r="0.7"/><circle cx="98.2" cy="406.3" r="0.5"/><circle cx="121.1" cy="403.2" r="0.6"/><circle cx="117.7" cy="431.3" r="0.6"/><circle cx="84.0" cy="416.5" r="0.8"/><circle cx="137.4" cy="389.7" r="0.7"/><circle cx="81.6" cy="401.8" r="0.8"/><circle cx="94.9" cy="394.3" r="0.9"/><circle cx="146.5" cy="396.5" r="0.5"/><circle cx="78.9" cy="391.4" r="0.8"/><circle cx="126.3" cy="371.8" r="0.7"/><circle cx="88.6" cy="420.2" r="0.8"/><circle cx="139.3" cy="397.2" r="0.5"/><circle cx="147.6" cy="403.3" r="0.6"/><circle cx="124.0" cy="381.7" r="0.7"/><circle cx="96.0" cy="430.8" r="0.6"/><circle cx="130.2" cy="384.9" r="0.8"/><circle cx="108.9" cy="388.2" r="0.7"/><circle cx="117.9" cy="397.3" r="0.6"/><circle cx="136.5" cy="401.0" r="0.9"/><circle cx="144.4" cy="382.2" r="0.7"/><circle cx="126.2" cy="401.2" r="0.8"/><circle cx="141.7" cy="409.3" r="0.9"/><circle cx="84.0" cy="421.4" r="0.6"/><circle cx="105.8" cy="417.5" r="0.8"/><circle cx="144.0" cy="413.1" r="0.7"/><circle cx="112.6" cy="391.0" r="0.7"/><circle cx="135.4" cy="378.4" r="0.7"/><circle cx="122.6" cy="391.6" r="0.9"/><circle cx="138.9" cy="424.4" r="0.7"/><circle cx="131.0" cy="412.5" r="0.5"/><circle cx="81.1" cy="380.0" r="0.7"/><circle cx="128.7" cy="429.7" r="0.9"/><circle cx="88.5" cy="373.2" r="0.8"/><circle cx="108.4" cy="393.0" r="0.5"/><circle cx="141.6" cy="402.2" r="0.7"/><circle cx="98.9" cy="372.5" r="0.8"/><circle cx="115.1" cy="434.1" r="0.6"/><circle cx="130.8" cy="380.8" r="0.6"/><circle cx="103.2" cy="421.4" r="0.5"/><circle cx="95.9" cy="402.6" r="0.6"/><circle cx="132.8" cy="428.8" r="0.7"/><circle cx="136.4" cy="418.9" r="0.6"/><circle cx="125.8" cy="394.2" r="0.6"/><circle cx="121.9" cy="387.6" r="0.8"/><circle cx="99.8" cy="433.7" r="0.8"/><circle cx="132.6" cy="370.1" r="0.9"/></g>
<g fill="#151515"><circle cx="121.6" cy="396.8" r="1.2"/><circle cx="103.5" cy="427.1" r="1.2"/><circle cx="87.0" cy="406.6" r="1.5"/><circle cx="104.8" cy="392.9" r="0.9"/><circle cx="126.4" cy="377.3" r="1.4"/><circle cx="111.2" cy="406.1" r="1.0"/><circle cx="111.9" cy="418.1" r="1.1"/><circle cx="94.6" cy="380.1" r="1.1"/><circle cx="138.4" cy="405.5" r="0.8"/><circle cx="98.7" cy="418.9" r="1.4"/><circle cx="103.1" cy="385.8" r="1.3"/><circle cx="105.1" cy="410.6" r="1.0"/><circle cx="94.5" cy="368.2" r="0.7"/><circle cx="130.8" cy="396.7" r="0.9"/><circle cx="104.2" cy="377.3" r="0.8"/><circle cx="99.7" cy="376.9" r="0.9"/><circle cx="112.7" cy="424.4" r="0.9"/><circle cx="109.1" cy="401.1" r="1.1"/><circle cx="120.8" cy="425.8" r="0.7"/><circle cx="125.9" cy="388.3" r="0.9"/><circle cx="90.3" cy="399.7" r="1.1"/><circle cx="93.7" cy="420.2" r="1.0"/><circle cx="132.0" cy="423.8" r="1.1"/><circle cx="134.7" cy="416.4" r="1.2"/><circle cx="85.2" cy="378.6" r="0.9"/><circle cx="113.7" cy="396.2" r="1.1"/><circle cx="112.9" cy="411.5" r="1.2"/><circle cx="99.3" cy="413.1" r="1.1"/><circle cx="111.1" cy="382.7" r="0.7"/><circle cx="82.9" cy="393.8" r="1.4"/><circle cx="78.1" cy="408.3" r="1.6"/><circle cx="93.7" cy="373.8" r="1.3"/><circle cx="99.4" cy="406.9" r="1.3"/><circle cx="120.2" cy="401.8" r="1.2"/><circle cx="117.4" cy="391.0" r="1.0"/><circle cx="136.8" cy="390.0" r="1.4"/><circle cx="81.4" cy="401.5" r="1.0"/><circle cx="141.1" cy="419.7" r="0.8"/><circle cx="127.9" cy="418.6" r="1.2"/><circle cx="95.0" cy="395.2" r="0.8"/><circle cx="103.9" cy="433.9" r="1.0"/><circle cx="144.9" cy="396.7" r="1.0"/><circle cx="81.7" cy="385.5" r="0.7"/><circle cx="142.2" cy="392.2" r="1.1"/><circle cx="133.1" cy="373.7" r="0.9"/><circle cx="78.7" cy="390.0" r="0.8"/><circle cx="126.1" cy="372.1" r="0.7"/><circle cx="105.6" cy="398.8" r="1.1"/><circle cx="98.7" cy="383.0" r="0.7"/><circle cx="138.9" cy="397.0" r="1.1"/><circle cx="135.4" cy="407.8" r="0.8"/><circle cx="146.9" cy="402.5" r="1.2"/><circle cx="90.7" cy="389.1" r="1.4"/><circle cx="123.5" cy="381.6" r="1.1"/><circle cx="92.8" cy="425.0" r="1.0"/><circle cx="105.1" cy="404.8" r="0.7"/><circle cx="130.3" cy="383.4" r="0.9"/><circle cx="88.5" cy="395.5" r="0.8"/><circle cx="120.3" cy="408.8" r="0.8"/><circle cx="115.7" cy="405.1" r="1.0"/><circle cx="109.1" cy="375.0" r="0.8"/><circle cx="136.3" cy="400.4" r="1.1"/><circle cx="127.2" cy="400.0" r="1.3"/><circle cx="119.0" cy="414.2" r="1.2"/><circle cx="115.0" cy="429.9" r="0.6"/><circle cx="99.9" cy="424.8" r="1.0"/><circle cx="125.9" cy="423.0" r="1.2"/><circle cx="107.3" cy="417.4" r="1.3"/><circle cx="131.7" cy="388.1" r="0.9"/><circle cx="144.4" cy="414.0" r="1.6"/><circle cx="112.3" cy="390.5" r="1.0"/><circle cx="135.7" cy="378.7" r="1.0"/><circle cx="85.3" cy="388.5" r="0.9"/><circle cx="121.3" cy="391.6" r="0.8"/><circle cx="138.5" cy="424.3" r="1.0"/><circle cx="110.0" cy="431.9" r="1.1"/><circle cx="130.6" cy="413.3" r="0.8"/><circle cx="147.4" cy="407.7" r="1.0"/><circle cx="81.5" cy="380.2" r="1.0"/><circle cx="129.0" cy="431.1" r="1.2"/><circle cx="87.9" cy="373.2" r="1.0"/><circle cx="109.1" cy="392.1" r="0.9"/><circle cx="140.7" cy="402.2" r="0.6"/><circle cx="97.6" cy="371.2" r="1.3"/><circle cx="130.9" cy="379.6" r="1.2"/><circle cx="115.7" cy="387.5" r="1.2"/><circle cx="97.9" cy="366.0" r="0.8"/><circle cx="128.4" cy="366.6" r="0.9"/><circle cx="103.1" cy="420.9" r="0.7"/><circle cx="133.5" cy="428.3" r="1.1"/><circle cx="137.7" cy="419.0" r="0.9"/><circle cx="126.1" cy="393.6" r="0.7"/><circle cx="100.1" cy="434.0" r="0.9"/><circle cx="77.2" cy="403.2" r="0.8"/></g>
</g>
<circle cx="112.55" cy="399.6" r="35.7" fill="none" stroke="#1a1a1a" stroke-width="0.9"/>
<rect x="112.95" y="427.90" width="16.10" height="2.40" fill="#000" stroke="none" stroke-width="1"/>
<text x="113.55" y="356.80" font-size="9" text-anchor="middle" fill="#a4e6f8">siJAK1-1</text>
<g clip-path="url(#cc2)">
<circle cx="188.20" cy="399.6" r="35.7" fill="#aaaaaa"/>
<rect x="152.5" y="363.9" width="71.4" height="71.4" filter="url(#tx)" opacity="0.25"/>
<g fill="#dedede"><circle cx="159.2" cy="412.4" r="5.5"/><circle cx="203.6" cy="383.4" r="5.4"/><circle cx="209.4" cy="416.2" r="5.0"/><circle cx="196.3" cy="386.3" r="4.8"/><circle cx="200.0" cy="426.4" r="5.2"/><circle cx="193.0" cy="416.7" r="5.3"/><circle cx="191.2" cy="378.7" r="5.0"/><circle cx="186.5" cy="376.6" r="5.0"/><circle cx="187.5" cy="404.6" r="4.7"/><circle cx="160.4" cy="384.3" r="5.1"/><circle cx="180.3" cy="395.8" r="5.4"/><circle cx="168.6" cy="386.6" r="4.8"/><circle cx="204.5" cy="429.7" r="4.6"/><circle cx="177.7" cy="377.3" r="4.7"/><circle cx="185.5" cy="390.0" r="4.9"/><circle cx="211.6" cy="399.0" r="4.9"/><circle cx="171.6" cy="410.9" r="4.8"/><circle cx="204.8" cy="403.5" r="5.3"/><circle cx="199.9" cy="369.1" r="5.6"/><circle cx="165.0" cy="411.3" r="5.2"/><circle cx="206.7" cy="423.3" r="4.9"/><circle cx="173.4" cy="403.5" r="4.5"/><circle cx="173.5" cy="381.0" r="5.0"/><circle cx="171.7" cy="396.6" r="4.7"/><circle cx="165.9" cy="419.2" r="5.5"/><circle cx="164.5" cy="389.3" r="4.6"/><circle cx="191.8" cy="410.8" r="5.0"/><circle cx="160.4" cy="399.8" r="4.9"/><circle cx="166.0" cy="404.6" r="4.5"/><circle cx="173.6" cy="417.0" r="4.9"/><circle cx="197.0" cy="378.7" r="5.2"/><circle cx="211.8" cy="411.2" r="5.3"/><circle cx="188.2" cy="382.5" r="5.0"/><circle cx="179.3" cy="384.5" r="4.8"/><circle cx="177.8" cy="406.5" r="5.2"/><circle cx="217.8" cy="407.3" r="4.8"/><circle cx="182.6" cy="378.9" r="4.7"/><circle cx="163.8" cy="394.7" r="4.8"/><circle cx="180.3" cy="390.4" r="4.6"/><circle cx="174.9" cy="386.3" r="5.2"/><circle cx="191.7" cy="405.5" r="4.7"/><circle cx="153.8" cy="402.1" r="4.9"/><circle cx="206.0" cy="398.1" r="4.9"/><circle cx="184.3" cy="400.5" r="4.8"/><circle cx="214.9" cy="403.9" r="4.9"/><circle cx="159.3" cy="405.4" r="5.4"/><circle cx="158.9" cy="395.3" r="5.1"/><circle cx="159.8" cy="389.6" r="5.1"/><circle cx="182.5" cy="410.7" r="4.9"/><circle cx="212.5" cy="424.1" r="5.2"/><circle cx="166.1" cy="399.2" r="5.1"/><circle cx="193.7" cy="383.0" r="4.7"/><circle cx="178.2" cy="400.3" r="4.5"/><circle cx="208.8" cy="407.5" r="4.6"/><circle cx="172.1" cy="391.7" r="4.6"/><circle cx="180.1" cy="416.0" r="5.2"/><circle cx="217.7" cy="399.5" r="5.0"/><circle cx="193.6" cy="421.6" r="4.7"/><circle cx="171.2" cy="422.2" r="4.8"/><circle cx="206.2" cy="412.2" r="4.5"/><circle cx="194.3" cy="370.2" r="4.9"/><circle cx="189.3" cy="387.4" r="5.0"/><circle cx="208.8" cy="427.8" r="4.8"/><circle cx="176.4" cy="412.3" r="5.1"/><circle cx="186.6" cy="394.4" r="4.7"/><circle cx="186.9" cy="408.6" r="4.6"/><circle cx="186.9" cy="412.9" r="4.6"/><circle cx="202.0" cy="378.4" r="4.7"/><circle cx="209.3" cy="395.1" r="4.6"/><circle cx="160.9" cy="419.8" r="4.7"/><circle cx="184.2" cy="385.2" r="4.6"/><circle cx="182.9" cy="405.1" r="4.9"/><circle cx="170.2" cy="406.7" r="4.5"/><circle cx="195.5" cy="365.4" r="5.0"/><circle cx="167.9" cy="392.9" r="4.5"/><circle cx="176.4" cy="392.8" r="4.5"/><circle cx="155.0" cy="409.4" r="4.8"/><circle cx="220.2" cy="403.6" r="4.8"/></g>
<g fill="#fafafa"><circle cx="159.2" cy="412.4" r="4.2"/><circle cx="203.6" cy="383.4" r="4.1"/><circle cx="209.4" cy="416.2" r="3.7"/><circle cx="196.3" cy="386.3" r="3.5"/><circle cx="200.0" cy="426.4" r="3.9"/><circle cx="193.0" cy="416.7" r="4.0"/><circle cx="191.2" cy="378.7" r="3.7"/><circle cx="186.5" cy="376.6" r="3.7"/><circle cx="187.5" cy="404.6" r="3.4"/><circle cx="160.4" cy="384.3" r="3.8"/><circle cx="180.3" cy="395.8" r="4.1"/><circle cx="168.6" cy="386.6" r="3.5"/><circle cx="204.5" cy="429.7" r="3.3"/><circle cx="177.7" cy="377.3" r="3.4"/><circle cx="185.5" cy="390.0" r="3.6"/><circle cx="211.6" cy="399.0" r="3.6"/><circle cx="171.6" cy="410.9" r="3.5"/><circle cx="204.8" cy="403.5" r="4.0"/><circle cx="199.9" cy="369.1" r="4.3"/><circle cx="165.0" cy="411.3" r="3.9"/><circle cx="206.7" cy="423.3" r="3.6"/><circle cx="173.4" cy="403.5" r="3.2"/><circle cx="173.5" cy="381.0" r="3.7"/><circle cx="171.7" cy="396.6" r="3.4"/><circle cx="165.9" cy="419.2" r="4.2"/><circle cx="164.5" cy="389.3" r="3.3"/><circle cx="191.8" cy="410.8" r="3.7"/><circle cx="160.4" cy="399.8" r="3.6"/><circle cx="166.0" cy="404.6" r="3.2"/><circle cx="173.6" cy="417.0" r="3.6"/><circle cx="197.0" cy="378.7" r="3.9"/><circle cx="211.8" cy="411.2" r="4.0"/><circle cx="188.2" cy="382.5" r="3.7"/><circle cx="179.3" cy="384.5" r="3.5"/><circle cx="177.8" cy="406.5" r="3.9"/><circle cx="217.8" cy="407.3" r="3.5"/><circle cx="182.6" cy="378.9" r="3.4"/><circle cx="163.8" cy="394.7" r="3.5"/><circle cx="180.3" cy="390.4" r="3.3"/><circle cx="174.9" cy="386.3" r="3.9"/><circle cx="191.7" cy="405.5" r="3.4"/><circle cx="153.8" cy="402.1" r="3.6"/><circle cx="206.0" cy="398.1" r="3.6"/><circle cx="184.3" cy="400.5" r="3.5"/><circle cx="214.9" cy="403.9" r="3.6"/><circle cx="159.3" cy="405.4" r="4.1"/><circle cx="158.9" cy="395.3" r="3.8"/><circle cx="159.8" cy="389.6" r="3.8"/><circle cx="182.5" cy="410.7" r="3.6"/><circle cx="212.5" cy="424.1" r="3.9"/><circle cx="166.1" cy="399.2" r="3.8"/><circle cx="193.7" cy="383.0" r="3.4"/><circle cx="178.2" cy="400.3" r="3.2"/><circle cx="208.8" cy="407.5" r="3.3"/><circle cx="172.1" cy="391.7" r="3.3"/><circle cx="180.1" cy="416.0" r="3.9"/><circle cx="217.7" cy="399.5" r="3.7"/><circle cx="193.6" cy="421.6" r="3.4"/><circle cx="171.2" cy="422.2" r="3.5"/><circle cx="206.2" cy="412.2" r="3.2"/><circle cx="194.3" cy="370.2" r="3.6"/><circle cx="189.3" cy="387.4" r="3.7"/><circle cx="208.8" cy="427.8" r="3.5"/><circle cx="176.4" cy="412.3" r="3.8"/><circle cx="186.6" cy="394.4" r="3.4"/><circle cx="186.9" cy="408.6" r="3.3"/><circle cx="186.9" cy="412.9" r="3.3"/><circle cx="202.0" cy="378.4" r="3.4"/><circle cx="209.3" cy="395.1" r="3.3"/><circle cx="160.9" cy="419.8" r="3.4"/><circle cx="184.2" cy="385.2" r="3.3"/><circle cx="182.9" cy="405.1" r="3.6"/><circle cx="170.2" cy="406.7" r="3.2"/><circle cx="195.5" cy="365.4" r="3.7"/><circle cx="167.9" cy="392.9" r="3.2"/><circle cx="176.4" cy="392.8" r="3.2"/><circle cx="155.0" cy="409.4" r="3.5"/><circle cx="220.2" cy="403.6" r="3.5"/></g>
<g fill="#b4b4b4" stroke="#080808" stroke-width="1.3"><circle cx="159.2" cy="412.4" r="2.9"/><circle cx="203.6" cy="383.4" r="2.8"/><circle cx="209.4" cy="416.2" r="2.4"/><circle cx="196.3" cy="386.3" r="2.2"/><circle cx="200.0" cy="426.4" r="2.6"/><circle cx="193.0" cy="416.7" r="2.7"/><circle cx="191.2" cy="378.7" r="2.4"/><circle cx="186.5" cy="376.6" r="2.4"/><circle cx="187.5" cy="404.6" r="2.1"/><circle cx="160.4" cy="384.3" r="2.5"/><circle cx="180.3" cy="395.8" r="2.8"/><circle cx="168.6" cy="386.6" r="2.2"/><circle cx="204.5" cy="429.7" r="2.0"/><circle cx="177.7" cy="377.3" r="2.1"/><circle cx="185.5" cy="390.0" r="2.3"/><circle cx="211.6" cy="399.0" r="2.3"/><circle cx="171.6" cy="410.9" r="2.2"/><circle cx="204.8" cy="403.5" r="2.7"/><circle cx="199.9" cy="369.1" r="3.0"/><circle cx="165.0" cy="411.3" r="2.6"/><circle cx="206.7" cy="423.3" r="2.3"/><circle cx="173.4" cy="403.5" r="1.9"/><circle cx="173.5" cy="381.0" r="2.4"/><circle cx="171.7" cy="396.6" r="2.1"/><circle cx="165.9" cy="419.2" r="2.9"/><circle cx="164.5" cy="389.3" r="2.0"/><circle cx="191.8" cy="410.8" r="2.4"/><circle cx="160.4" cy="399.8" r="2.3"/><circle cx="166.0" cy="404.6" r="1.9"/><circle cx="173.6" cy="417.0" r="2.3"/><circle cx="197.0" cy="378.7" r="2.6"/><circle cx="211.8" cy="411.2" r="2.7"/><circle cx="188.2" cy="382.5" r="2.4"/><circle cx="179.3" cy="384.5" r="2.2"/><circle cx="177.8" cy="406.5" r="2.6"/><circle cx="217.8" cy="407.3" r="2.2"/><circle cx="182.6" cy="378.9" r="2.1"/><circle cx="163.8" cy="394.7" r="2.2"/><circle cx="180.3" cy="390.4" r="2.0"/><circle cx="174.9" cy="386.3" r="2.6"/><circle cx="191.7" cy="405.5" r="2.1"/><circle cx="153.8" cy="402.1" r="2.3"/><circle cx="206.0" cy="398.1" r="2.3"/><circle cx="184.3" cy="400.5" r="2.2"/><circle cx="214.9" cy="403.9" r="2.3"/><circle cx="159.3" cy="405.4" r="2.8"/><circle cx="158.9" cy="395.3" r="2.5"/><circle cx="159.8" cy="389.6" r="2.5"/><circle cx="182.5" cy="410.7" r="2.3"/><circle cx="212.5" cy="424.1" r="2.6"/><circle cx="166.1" cy="399.2" r="2.5"/><circle cx="193.7" cy="383.0" r="2.1"/><circle cx="178.2" cy="400.3" r="1.9"/><circle cx="208.8" cy="407.5" r="2.0"/><circle cx="172.1" cy="391.7" r="2.0"/><circle cx="180.1" cy="416.0" r="2.6"/><circle cx="217.7" cy="399.5" r="2.4"/><circle cx="193.6" cy="421.6" r="2.1"/><circle cx="171.2" cy="422.2" r="2.2"/><circle cx="206.2" cy="412.2" r="1.9"/><circle cx="194.3" cy="370.2" r="2.3"/><circle cx="189.3" cy="387.4" r="2.4"/><circle cx="208.8" cy="427.8" r="2.2"/><circle cx="176.4" cy="412.3" r="2.5"/><circle cx="186.6" cy="394.4" r="2.1"/><circle cx="186.9" cy="408.6" r="2.0"/><circle cx="186.9" cy="412.9" r="2.0"/><circle cx="202.0" cy="378.4" r="2.1"/><circle cx="209.3" cy="395.1" r="2.0"/><circle cx="160.9" cy="419.8" r="2.1"/><circle cx="184.2" cy="385.2" r="2.0"/><circle cx="182.9" cy="405.1" r="2.3"/><circle cx="170.2" cy="406.7" r="1.9"/><circle cx="195.5" cy="365.4" r="2.4"/><circle cx="167.9" cy="392.9" r="1.9"/><circle cx="176.4" cy="392.8" r="1.9"/><circle cx="155.0" cy="409.4" r="2.2"/><circle cx="220.2" cy="403.6" r="2.2"/></g>
<g fill="#f0f0f0"><circle cx="158.4" cy="412.0" r="0.7"/><circle cx="200.3" cy="426.4" r="0.7"/><circle cx="191.6" cy="379.3" r="0.9"/><circle cx="168.2" cy="385.7" r="0.6"/><circle cx="204.2" cy="430.6" r="0.5"/><circle cx="178.3" cy="377.9" r="0.5"/><circle cx="185.5" cy="390.4" r="0.8"/><circle cx="203.9" cy="402.7" r="0.8"/><circle cx="200.1" cy="369.1" r="0.6"/><circle cx="165.6" cy="411.0" r="0.6"/><circle cx="173.5" cy="403.4" r="0.8"/><circle cx="165.3" cy="419.3" r="0.7"/><circle cx="164.4" cy="388.9" r="0.6"/><circle cx="191.8" cy="410.5" r="0.6"/><circle cx="167.0" cy="405.0" r="0.7"/><circle cx="173.2" cy="416.2" r="0.9"/><circle cx="187.4" cy="382.3" r="0.6"/><circle cx="177.4" cy="405.8" r="0.7"/><circle cx="182.5" cy="378.6" r="0.5"/><circle cx="164.3" cy="394.3" r="0.6"/><circle cx="180.6" cy="390.8" r="0.8"/><circle cx="192.1" cy="406.4" r="0.8"/><circle cx="215.2" cy="403.9" r="0.7"/><circle cx="212.3" cy="423.9" r="0.6"/><circle cx="193.5" cy="383.2" r="0.8"/><circle cx="194.3" cy="421.0" r="0.7"/><circle cx="172.2" cy="422.2" r="0.7"/><circle cx="193.4" cy="369.6" r="0.5"/><circle cx="188.7" cy="388.2" r="0.6"/><circle cx="209.5" cy="428.4" r="0.8"/><circle cx="187.4" cy="393.6" r="0.8"/><circle cx="187.2" cy="409.6" r="0.9"/><circle cx="201.8" cy="378.0" r="0.6"/><circle cx="161.4" cy="420.3" r="0.7"/><circle cx="194.8" cy="364.7" r="0.5"/></g>
<g fill="#151515"><circle cx="202.9" cy="383.9" r="0.9"/><circle cx="209.7" cy="415.6" r="1.3"/><circle cx="199.8" cy="425.7" r="1.2"/><circle cx="193.7" cy="416.3" r="1.2"/><circle cx="191.1" cy="378.3" r="1.0"/><circle cx="186.7" cy="405.2" r="0.9"/><circle cx="159.6" cy="384.3" r="1.0"/><circle cx="168.8" cy="386.0" r="1.1"/><circle cx="203.7" cy="430.0" r="0.9"/><circle cx="178.1" cy="377.8" r="0.7"/><circle cx="185.5" cy="389.6" r="0.9"/><circle cx="211.0" cy="399.5" r="0.8"/><circle cx="172.2" cy="410.2" r="0.7"/><circle cx="204.9" cy="403.9" r="0.8"/><circle cx="200.0" cy="369.1" r="1.5"/><circle cx="165.0" cy="411.8" r="1.1"/><circle cx="205.9" cy="422.8" r="1.3"/><circle cx="173.1" cy="403.3" r="1.0"/><circle cx="172.7" cy="380.4" r="1.1"/><circle cx="165.4" cy="419.6" r="1.5"/><circle cx="164.6" cy="388.9" r="0.8"/><circle cx="161.1" cy="400.4" r="1.0"/><circle cx="166.0" cy="404.7" r="1.0"/><circle cx="173.5" cy="416.8" r="1.1"/><circle cx="211.8" cy="410.7" r="0.9"/><circle cx="187.6" cy="382.2" r="1.2"/><circle cx="179.8" cy="383.7" r="0.7"/><circle cx="177.6" cy="406.1" r="1.3"/><circle cx="217.1" cy="407.5" r="0.8"/><circle cx="182.4" cy="379.3" r="1.0"/><circle cx="164.0" cy="394.2" r="0.9"/><circle cx="180.3" cy="389.9" r="0.9"/><circle cx="175.7" cy="386.7" r="0.9"/><circle cx="192.2" cy="404.9" r="0.7"/><circle cx="153.1" cy="401.6" r="1.1"/><circle cx="205.8" cy="397.8" r="1.2"/><circle cx="184.0" cy="400.6" r="1.1"/><circle cx="159.4" cy="405.1" r="1.3"/><circle cx="160.1" cy="388.8" r="1.4"/><circle cx="183.0" cy="410.9" r="1.0"/><circle cx="212.5" cy="423.7" r="0.8"/><circle cx="165.5" cy="398.9" r="0.8"/><circle cx="208.4" cy="407.1" r="1.1"/><circle cx="172.8" cy="391.3" r="1.1"/><circle cx="216.9" cy="399.5" r="0.9"/><circle cx="171.4" cy="421.7" r="0.9"/><circle cx="206.2" cy="412.2" r="0.9"/><circle cx="194.3" cy="369.5" r="0.7"/><circle cx="208.4" cy="428.5" r="0.8"/><circle cx="176.7" cy="412.4" r="1.1"/><circle cx="187.4" cy="394.4" r="1.0"/><circle cx="187.2" cy="408.1" r="1.1"/><circle cx="187.0" cy="413.6" r="0.9"/><circle cx="208.7" cy="395.7" r="0.7"/><circle cx="161.2" cy="419.8" r="0.9"/><circle cx="183.7" cy="384.8" r="0.8"/><circle cx="182.2" cy="405.8" r="1.2"/><circle cx="170.7" cy="407.0" r="0.6"/><circle cx="195.1" cy="364.6" r="1.0"/><circle cx="168.1" cy="392.4" r="0.7"/><circle cx="177.0" cy="393.5" r="0.8"/></g>
</g>
<circle cx="188.20" cy="399.6" r="35.7" fill="none" stroke="#1a1a1a" stroke-width="0.9"/>
<rect x="188.60" y="427.90" width="16.10" height="2.40" fill="#000" stroke="none" stroke-width="1"/>
<text x="189.20" y="356.80" font-size="9" text-anchor="middle" fill="#b4e6ee">siJAK1-2</text>
<g clip-path="url(#cc3)">
<circle cx="263.85" cy="399.6" r="35.7" fill="#aaaaaa"/>
<rect x="228.2" y="363.9" width="71.4" height="71.4" filter="url(#tx)" opacity="0.25"/>
<g fill="#dedede"><circle cx="267.4" cy="398.1" r="4.9"/><circle cx="257.5" cy="409.8" r="5.1"/><circle cx="283.2" cy="392.1" r="4.9"/><circle cx="262.0" cy="399.6" r="5.0"/><circle cx="244.7" cy="388.9" r="4.7"/><circle cx="263.8" cy="389.8" r="4.8"/><circle cx="236.3" cy="414.4" r="5.5"/><circle cx="278.2" cy="400.0" r="4.8"/><circle cx="247.4" cy="413.2" r="5.6"/><circle cx="262.7" cy="415.8" r="4.8"/><circle cx="274.0" cy="396.3" r="4.9"/><circle cx="244.0" cy="397.6" r="5.1"/><circle cx="260.5" cy="384.2" r="5.4"/><circle cx="274.8" cy="385.6" r="5.5"/><circle cx="280.2" cy="378.5" r="5.2"/><circle cx="280.6" cy="411.3" r="5.0"/><circle cx="258.3" cy="419.2" r="4.7"/><circle cx="267.8" cy="383.0" r="4.9"/><circle cx="275.0" cy="407.2" r="5.2"/><circle cx="290.6" cy="388.7" r="5.0"/><circle cx="269.2" cy="406.4" r="4.6"/><circle cx="271.2" cy="377.7" r="5.3"/><circle cx="244.3" cy="422.6" r="4.6"/><circle cx="246.7" cy="403.7" r="4.7"/><circle cx="282.6" cy="402.3" r="4.8"/><circle cx="270.4" cy="389.2" r="4.9"/><circle cx="255.4" cy="430.3" r="5.2"/><circle cx="265.9" cy="410.5" r="5.0"/><circle cx="287.2" cy="405.2" r="4.6"/><circle cx="236.8" cy="420.5" r="5.2"/><circle cx="240.7" cy="407.5" r="5.3"/><circle cx="281.6" cy="406.5" r="4.7"/><circle cx="249.4" cy="386.7" r="4.7"/><circle cx="264.2" cy="378.1" r="5.5"/><circle cx="280.4" cy="422.6" r="4.8"/><circle cx="285.5" cy="382.6" r="4.6"/><circle cx="256.4" cy="390.1" r="5.0"/><circle cx="235.2" cy="404.6" r="5.6"/><circle cx="254.7" cy="414.3" r="5.1"/><circle cx="253.9" cy="399.5" r="5.4"/><circle cx="277.6" cy="417.7" r="5.2"/><circle cx="238.6" cy="400.2" r="4.7"/><circle cx="286.1" cy="397.1" r="5.4"/><circle cx="253.0" cy="424.7" r="4.8"/><circle cx="268.9" cy="421.1" r="4.6"/><circle cx="286.0" cy="413.9" r="5.4"/><circle cx="253.7" cy="404.5" r="4.6"/><circle cx="280.1" cy="385.6" r="5.0"/><circle cx="275.3" cy="424.6" r="4.9"/><circle cx="248.3" cy="428.2" r="5.2"/><circle cx="230.3" cy="399.9" r="4.5"/><circle cx="258.0" cy="404.3" r="5.0"/><circle cx="270.0" cy="415.4" r="5.4"/><circle cx="272.9" cy="402.3" r="5.4"/><circle cx="248.2" cy="398.5" r="4.5"/><circle cx="273.0" cy="419.7" r="4.6"/><circle cx="260.9" cy="394.4" r="5.1"/><circle cx="285.8" cy="377.9" r="4.7"/><circle cx="264.5" cy="404.5" r="4.6"/><circle cx="250.7" cy="420.4" r="4.8"/><circle cx="267.2" cy="425.8" r="4.5"/><circle cx="248.4" cy="391.3" r="4.8"/><circle cx="235.3" cy="383.4" r="5.2"/><circle cx="290.8" cy="383.0" r="5.5"/><circle cx="276.9" cy="372.9" r="5.4"/><circle cx="293.2" cy="395.9" r="5.0"/><circle cx="268.4" cy="373.6" r="4.7"/><circle cx="240.5" cy="424.7" r="4.5"/><circle cx="229.7" cy="410.4" r="4.9"/><circle cx="228.8" cy="404.2" r="4.7"/><circle cx="244.0" cy="384.2" r="5.2"/><circle cx="281.6" cy="373.9" r="4.7"/><circle cx="262.2" cy="421.3" r="4.5"/><circle cx="271.6" cy="427.9" r="5.0"/><circle cx="283.0" cy="418.0" r="4.6"/><circle cx="249.2" cy="407.4" r="5.0"/><circle cx="278.5" cy="389.7" r="4.5"/><circle cx="258.1" cy="425.8" r="5.2"/><circle cx="241.8" cy="417.0" r="5.4"/><circle cx="253.7" cy="385.2" r="4.8"/><circle cx="233.8" cy="379.0" r="4.7"/><circle cx="243.1" cy="428.0" r="5.0"/><circle cx="241.8" cy="392.4" r="5.0"/><circle cx="279.0" cy="393.8" r="4.6"/><circle cx="253.4" cy="394.5" r="4.8"/><circle cx="269.1" cy="393.6" r="4.9"/><circle cx="295.2" cy="391.6" r="4.7"/><circle cx="231.5" cy="414.6" r="4.6"/><circle cx="242.6" cy="402.7" r="4.7"/><circle cx="275.5" cy="380.4" r="5.0"/><circle cx="287.4" cy="391.9" r="4.6"/><circle cx="238.4" cy="380.0" r="4.6"/><circle cx="272.6" cy="370.8" r="4.7"/><circle cx="234.6" cy="398.4" r="4.8"/><circle cx="286.3" cy="387.9" r="4.6"/></g>
<g fill="#fafafa"><circle cx="267.4" cy="398.1" r="3.6"/><circle cx="257.5" cy="409.8" r="3.8"/><circle cx="283.2" cy="392.1" r="3.6"/><circle cx="262.0" cy="399.6" r="3.7"/><circle cx="244.7" cy="388.9" r="3.4"/><circle cx="263.8" cy="389.8" r="3.5"/><circle cx="236.3" cy="414.4" r="4.2"/><circle cx="278.2" cy="400.0" r="3.5"/><circle cx="247.4" cy="413.2" r="4.3"/><circle cx="262.7" cy="415.8" r="3.5"/><circle cx="274.0" cy="396.3" r="3.6"/><circle cx="244.0" cy="397.6" r="3.8"/><circle cx="260.5" cy="384.2" r="4.1"/><circle cx="274.8" cy="385.6" r="4.2"/><circle cx="280.2" cy="378.5" r="3.9"/><circle cx="280.6" cy="411.3" r="3.7"/><circle cx="258.3" cy="419.2" r="3.4"/><circle cx="267.8" cy="383.0" r="3.6"/><circle cx="275.0" cy="407.2" r="3.9"/><circle cx="290.6" cy="388.7" r="3.7"/><circle cx="269.2" cy="406.4" r="3.3"/><circle cx="271.2" cy="377.7" r="4.0"/><circle cx="244.3" cy="422.6" r="3.3"/><circle cx="246.7" cy="403.7" r="3.4"/><circle cx="282.6" cy="402.3" r="3.5"/><circle cx="270.4" cy="389.2" r="3.6"/><circle cx="255.4" cy="430.3" r="3.9"/><circle cx="265.9" cy="410.5" r="3.7"/><circle cx="287.2" cy="405.2" r="3.3"/><circle cx="236.8" cy="420.5" r="3.9"/><circle cx="240.7" cy="407.5" r="4.0"/><circle cx="281.6" cy="406.5" r="3.4"/><circle cx="249.4" cy="386.7" r="3.4"/><circle cx="264.2" cy="378.1" r="4.2"/><circle cx="280.4" cy="422.6" r="3.5"/><circle cx="285.5" cy="382.6" r="3.3"/><circle cx="256.4" cy="390.1" r="3.7"/><circle cx="235.2" cy="404.6" r="4.3"/><circle cx="254.7" cy="414.3" r="3.8"/><circle cx="253.9" cy="399.5" r="4.1"/><circle cx="277.6" cy="417.7" r="3.9"/><circle cx="238.6" cy="400.2" r="3.4"/><circle cx="286.1" cy="397.1" r="4.1"/><circle cx="253.0" cy="424.7" r="3.5"/><circle cx="268.9" cy="421.1" r="3.3"/><circle cx="286.0" cy="413.9" r="4.1"/><circle cx="253.7" cy="404.5" r="3.3"/><circle cx="280.1" cy="385.6" r="3.7"/><circle cx="275.3" cy="424.6" r="3.6"/><circle cx="248.3" cy="428.2" r="3.9"/><circle cx="230.3" cy="399.9" r="3.2"/><circle cx="258.0" cy="404.3" r="3.7"/><circle cx="270.0" cy="415.4" r="4.1"/><circle cx="272.9" cy="402.3" r="4.1"/><circle cx="248.2" cy="398.5" r="3.2"/><circle cx="273.0" cy="419.7" r="3.3"/><circle cx="260.9" cy="394.4" r="3.8"/><circle cx="285.8" cy="377.9" r="3.4"/><circle cx="264.5" cy="404.5" r="3.3"/><circle cx="250.7" cy="420.4" r="3.5"/><circle cx="267.2" cy="425.8" r="3.2"/><circle cx="248.4" cy="391.3" r="3.5"/><circle cx="235.3" cy="383.4" r="3.9"/><circle cx="290.8" cy="383.0" r="4.2"/><circle cx="276.9" cy="372.9" r="4.1"/><circle cx="293.2" cy="395.9" r="3.7"/><circle cx="268.4" cy="373.6" r="3.4"/><circle cx="240.5" cy="424.7" r="3.2"/><circle cx="229.7" cy="410.4" r="3.6"/><circle cx="228.8" cy="404.2" r="3.4"/><circle cx="244.0" cy="384.2" r="3.9"/><circle cx="281.6" cy="373.9" r="3.4"/><circle cx="262.2" cy="421.3" r="3.2"/><circle cx="271.6" cy="427.9" r="3.7"/><circle cx="283.0" cy="418.0" r="3.3"/><circle cx="249.2" cy="407.4" r="3.7"/><circle cx="278.5" cy="389.7" r="3.2"/><circle cx="258.1" cy="425.8" r="3.9"/><circle cx="241.8" cy="417.0" r="4.1"/><circle cx="253.7" cy="385.2" r="3.5"/><circle cx="233.8" cy="379.0" r="3.4"/><circle cx="243.1" cy="428.0" r="3.7"/><circle cx="241.8" cy="392.4" r="3.7"/><circle cx="279.0" cy="393.8" r="3.3"/><circle cx="253.4" cy="394.5" r="3.5"/><circle cx="269.1" cy="393.6" r="3.6"/><circle cx="295.2" cy="391.6" r="3.4"/><circle cx="231.5" cy="414.6" r="3.3"/><circle cx="242.6" cy="402.7" r="3.4"/><circle cx="275.5" cy="380.4" r="3.7"/><circle cx="287.4" cy="391.9" r="3.3"/><circle cx="238.4" cy="380.0" r="3.3"/><circle cx="272.6" cy="370.8" r="3.4"/><circle cx="234.6" cy="398.4" r="3.5"/><circle cx="286.3" cy="387.9" r="3.3"/></g>
<g fill="#b4b4b4" stroke="#080808" stroke-width="1.3"><circle cx="267.4" cy="398.1" r="2.3"/><circle cx="257.5" cy="409.8" r="2.5"/><circle cx="283.2" cy="392.1" r="2.3"/><circle cx="262.0" cy="399.6" r="2.4"/><circle cx="244.7" cy="388.9" r="2.1"/><circle cx="263.8" cy="389.8" r="2.2"/><circle cx="236.3" cy="414.4" r="2.9"/><circle cx="278.2" cy="400.0" r="2.2"/><circle cx="247.4" cy="413.2" r="3.0"/><circle cx="262.7" cy="415.8" r="2.2"/><circle cx="274.0" cy="396.3" r="2.3"/><circle cx="244.0" cy="397.6" r="2.5"/><circle cx="260.5" cy="384.2" r="2.8"/><circle cx="274.8" cy="385.6" r="2.9"/><circle cx="280.2" cy="378.5" r="2.6"/><circle cx="280.6" cy="411.3" r="2.4"/><circle cx="258.3" cy="419.2" r="2.1"/><circle cx="267.8" cy="383.0" r="2.3"/><circle cx="275.0" cy="407.2" r="2.6"/><circle cx="290.6" cy="388.7" r="2.4"/><circle cx="269.2" cy="406.4" r="2.0"/><circle cx="271.2" cy="377.7" r="2.7"/><circle cx="244.3" cy="422.6" r="2.0"/><circle cx="246.7" cy="403.7" r="2.1"/><circle cx="282.6" cy="402.3" r="2.2"/><circle cx="270.4" cy="389.2" r="2.3"/><circle cx="255.4" cy="430.3" r="2.6"/><circle cx="265.9" cy="410.5" r="2.4"/><circle cx="287.2" cy="405.2" r="2.0"/><circle cx="236.8" cy="420.5" r="2.6"/><circle cx="240.7" cy="407.5" r="2.7"/><circle cx="281.6" cy="406.5" r="2.1"/><circle cx="249.4" cy="386.7" r="2.1"/><circle cx="264.2" cy="378.1" r="2.9"/><circle cx="280.4" cy="422.6" r="2.2"/><circle cx="285.5" cy="382.6" r="2.0"/><circle cx="256.4" cy="390.1" r="2.4"/><circle cx="235.2" cy="404.6" r="3.0"/><circle cx="254.7" cy="414.3" r="2.5"/><circle cx="253.9" cy="399.5" r="2.8"/><circle cx="277.6" cy="417.7" r="2.6"/><circle cx="238.6" cy="400.2" r="2.1"/><circle cx="286.1" cy="397.1" r="2.8"/><circle cx="253.0" cy="424.7" r="2.2"/><circle cx="268.9" cy="421.1" r="2.0"/><circle cx="286.0" cy="413.9" r="2.8"/><circle cx="253.7" cy="404.5" r="2.0"/><circle cx="280.1" cy="385.6" r="2.4"/><circle cx="275.3" cy="424.6" r="2.3"/><circle cx="248.3" cy="428.2" r="2.6"/><circle cx="230.3" cy="399.9" r="1.9"/><circle cx="258.0" cy="404.3" r="2.4"/><circle cx="270.0" cy="415.4" r="2.8"/><circle cx="272.9" cy="402.3" r="2.8"/><circle cx="248.2" cy="398.5" r="1.9"/><circle cx="273.0" cy="419.7" r="2.0"/><circle cx="260.9" cy="394.4" r="2.5"/><circle cx="285.8" cy="377.9" r="2.1"/><circle cx="264.5" cy="404.5" r="2.0"/><circle cx="250.7" cy="420.4" r="2.2"/><circle cx="267.2" cy="425.8" r="1.9"/><circle cx="248.4" cy="391.3" r="2.2"/><circle cx="235.3" cy="383.4" r="2.6"/><circle cx="290.8" cy="383.0" r="2.9"/><circle cx="276.9" cy="372.9" r="2.8"/><circle cx="293.2" cy="395.9" r="2.4"/><circle cx="268.4" cy="373.6" r="2.1"/><circle cx="240.5" cy="424.7" r="1.9"/><circle cx="229.7" cy="410.4" r="2.3"/><circle cx="228.8" cy="404.2" r="2.1"/><circle cx="244.0" cy="384.2" r="2.6"/><circle cx="281.6" cy="373.9" r="2.1"/><circle cx="262.2" cy="421.3" r="1.9"/><circle cx="271.6" cy="427.9" r="2.4"/><circle cx="283.0" cy="418.0" r="2.0"/><circle cx="249.2" cy="407.4" r="2.4"/><circle cx="278.5" cy="389.7" r="1.9"/><circle cx="258.1" cy="425.8" r="2.6"/><circle cx="241.8" cy="417.0" r="2.8"/><circle cx="253.7" cy="385.2" r="2.2"/><circle cx="233.8" cy="379.0" r="2.1"/><circle cx="243.1" cy="428.0" r="2.4"/><circle cx="241.8" cy="392.4" r="2.4"/><circle cx="279.0" cy="393.8" r="2.0"/><circle cx="253.4" cy="394.5" r="2.2"/><circle cx="269.1" cy="393.6" r="2.3"/><circle cx="295.2" cy="391.6" r="2.1"/><circle cx="231.5" cy="414.6" r="2.0"/><circle cx="242.6" cy="402.7" r="2.1"/><circle cx="275.5" cy="380.4" r="2.4"/><circle cx="287.4" cy="391.9" r="2.0"/><circle cx="238.4" cy="380.0" r="2.0"/><circle cx="272.6" cy="370.8" r="2.1"/><circle cx="234.6" cy="398.4" r="2.2"/><circle cx="286.3" cy="387.9" r="2.0"/></g>
<g fill="#f0f0f0"><circle cx="266.8" cy="397.3" r="0.5"/><circle cx="262.5" cy="398.9" r="0.8"/><circle cx="244.1" cy="389.8" r="0.7"/><circle cx="263.4" cy="390.2" r="0.6"/><circle cx="237.1" cy="414.6" r="0.5"/><circle cx="277.3" cy="400.8" r="0.7"/><circle cx="246.6" cy="413.8" r="0.9"/><circle cx="259.7" cy="384.4" r="0.8"/><circle cx="274.6" cy="385.2" r="0.7"/><circle cx="281.0" cy="411.8" r="0.7"/><circle cx="257.9" cy="419.4" r="0.5"/><circle cx="267.7" cy="382.1" r="0.7"/><circle cx="244.9" cy="422.7" r="0.8"/><circle cx="282.4" cy="402.8" r="0.8"/><circle cx="271.1" cy="388.7" r="0.8"/><circle cx="287.2" cy="404.9" r="0.5"/><circle cx="282.2" cy="406.9" r="0.8"/><circle cx="248.8" cy="386.0" r="0.8"/><circle cx="264.5" cy="378.6" r="0.6"/><circle cx="280.3" cy="422.8" r="0.8"/><circle cx="255.6" cy="390.9" r="0.8"/><circle cx="253.7" cy="413.5" r="0.9"/><circle cx="253.7" cy="400.0" r="0.8"/><circle cx="277.0" cy="417.4" r="0.7"/><circle cx="238.4" cy="400.4" r="0.7"/><circle cx="285.4" cy="396.7" r="0.6"/><circle cx="252.6" cy="423.7" r="0.7"/><circle cx="268.0" cy="420.8" r="0.9"/><circle cx="286.3" cy="412.9" r="0.8"/><circle cx="254.4" cy="403.7" r="0.9"/><circle cx="275.5" cy="425.1" r="0.8"/><circle cx="258.0" cy="405.0" r="0.8"/><circle cx="273.6" cy="419.1" r="0.6"/><circle cx="286.7" cy="378.0" r="0.6"/><circle cx="235.0" cy="383.2" r="0.6"/><circle cx="267.6" cy="373.5" r="0.5"/><circle cx="229.4" cy="410.9" r="0.8"/><circle cx="244.7" cy="383.6" r="0.5"/><circle cx="282.5" cy="374.5" r="0.7"/><circle cx="263.2" cy="420.8" r="0.9"/><circle cx="272.3" cy="428.6" r="0.8"/><circle cx="249.9" cy="407.9" r="0.7"/><circle cx="257.9" cy="426.1" r="0.9"/><circle cx="242.3" cy="417.3" r="0.5"/><circle cx="253.4" cy="384.3" r="0.9"/><circle cx="233.4" cy="379.5" r="0.8"/><circle cx="253.7" cy="393.7" r="0.6"/><circle cx="232.4" cy="413.8" r="0.5"/><circle cx="276.4" cy="379.5" r="0.8"/><circle cx="287.4" cy="391.4" r="0.9"/><circle cx="238.1" cy="379.3" r="0.7"/><circle cx="272.2" cy="370.7" r="0.9"/><circle cx="234.0" cy="398.4" r="0.5"/></g>
<g fill="#151515"><circle cx="262.5" cy="399.5" r="1.0"/><circle cx="244.5" cy="388.8" r="0.7"/><circle cx="264.0" cy="389.4" r="1.0"/><circle cx="236.8" cy="414.6" r="1.2"/><circle cx="247.5" cy="412.7" r="1.6"/><circle cx="262.2" cy="415.2" r="0.7"/><circle cx="244.2" cy="397.0" r="1.3"/><circle cx="260.7" cy="383.8" r="1.4"/><circle cx="275.1" cy="385.8" r="1.5"/><circle cx="280.7" cy="411.7" r="1.0"/><circle cx="258.7" cy="419.8" r="0.8"/><circle cx="268.3" cy="383.3" r="0.8"/><circle cx="275.5" cy="407.0" r="0.8"/><circle cx="268.9" cy="406.0" r="0.7"/><circle cx="244.3" cy="422.6" r="0.9"/><circle cx="271.0" cy="389.2" r="0.7"/><circle cx="255.5" cy="429.8" r="0.8"/><circle cx="265.4" cy="410.7" r="1.1"/><circle cx="281.0" cy="406.0" r="1.1"/><circle cx="248.8" cy="386.8" r="0.7"/><circle cx="284.8" cy="382.9" r="0.9"/><circle cx="235.8" cy="403.9" r="0.9"/><circle cx="254.7" cy="415.0" r="1.2"/><circle cx="254.5" cy="400.3" r="1.0"/><circle cx="278.4" cy="417.0" r="1.2"/><circle cx="239.1" cy="400.4" r="0.7"/><circle cx="286.0" cy="396.5" r="0.9"/><circle cx="252.9" cy="424.4" r="1.1"/><circle cx="268.1" cy="420.4" r="0.9"/><circle cx="286.3" cy="413.2" r="1.2"/><circle cx="280.2" cy="386.0" r="0.7"/><circle cx="274.6" cy="423.9" r="1.2"/><circle cx="248.5" cy="428.4" r="1.0"/><circle cx="229.9" cy="399.9" r="1.0"/><circle cx="270.0" cy="414.9" r="0.9"/><circle cx="272.8" cy="403.0" r="1.2"/><circle cx="272.6" cy="420.5" r="0.8"/><circle cx="286.3" cy="378.1" r="1.0"/><circle cx="264.9" cy="404.2" r="0.8"/><circle cx="249.9" cy="420.1" r="1.1"/><circle cx="267.5" cy="426.3" r="1.0"/><circle cx="248.4" cy="392.0" r="0.8"/><circle cx="235.1" cy="383.6" r="1.1"/><circle cx="276.9" cy="373.5" r="1.2"/><circle cx="292.7" cy="395.8" r="1.0"/><circle cx="267.7" cy="374.4" r="0.6"/><circle cx="229.3" cy="411.0" r="1.0"/><circle cx="228.4" cy="403.7" r="1.0"/><circle cx="263.0" cy="422.0" r="0.6"/><circle cx="271.9" cy="427.6" r="1.1"/><circle cx="282.5" cy="418.8" r="1.0"/><circle cx="250.0" cy="407.2" r="0.7"/><circle cx="279.0" cy="389.1" r="0.7"/><circle cx="242.3" cy="417.6" r="1.3"/><circle cx="254.0" cy="384.6" r="0.8"/><circle cx="233.4" cy="379.5" r="0.9"/><circle cx="243.0" cy="427.4" r="1.2"/><circle cx="242.3" cy="392.6" r="1.1"/><circle cx="279.2" cy="393.2" r="0.6"/><circle cx="268.9" cy="393.1" r="0.8"/><circle cx="295.5" cy="391.3" r="1.0"/><circle cx="231.8" cy="414.3" r="0.7"/><circle cx="242.5" cy="402.5" r="0.9"/><circle cx="287.9" cy="392.1" r="0.9"/><circle cx="237.7" cy="380.8" r="0.6"/><circle cx="271.9" cy="371.5" r="0.9"/><circle cx="234.1" cy="398.7" r="0.8"/><circle cx="285.8" cy="387.7" r="0.8"/></g>
</g>
<circle cx="263.85" cy="399.6" r="35.7" fill="none" stroke="#1a1a1a" stroke-width="0.9"/>
<rect x="264.25" y="427.90" width="16.10" height="2.40" fill="#000" stroke="none" stroke-width="1"/>
<text x="264.85" y="356.80" font-size="9" text-anchor="middle" fill="#f7c6b0">siJAK2-1</text>
<g clip-path="url(#cc4)">
<circle cx="339.50" cy="399.6" r="35.7" fill="#aaaaaa"/>
<rect x="303.8" y="363.9" width="71.4" height="71.4" filter="url(#tx)" opacity="0.25"/>
<g fill="#dedede"><circle cx="313.1" cy="381.0" r="5.6"/><circle cx="335.4" cy="389.3" r="5.0"/><circle cx="340.7" cy="413.8" r="4.7"/><circle cx="318.2" cy="427.1" r="4.6"/><circle cx="366.8" cy="398.9" r="4.7"/><circle cx="346.0" cy="382.3" r="5.4"/><circle cx="336.9" cy="398.8" r="5.3"/><circle cx="349.4" cy="400.6" r="4.5"/><circle cx="324.8" cy="399.6" r="4.7"/><circle cx="351.2" cy="392.4" r="5.1"/><circle cx="357.3" cy="391.2" r="4.5"/><circle cx="324.8" cy="395.1" r="4.7"/><circle cx="341.6" cy="386.2" r="4.6"/><circle cx="343.7" cy="398.2" r="5.2"/><circle cx="372.4" cy="409.1" r="5.5"/><circle cx="357.5" cy="371.9" r="4.7"/><circle cx="346.2" cy="390.0" r="4.7"/><circle cx="358.9" cy="402.3" r="4.8"/><circle cx="368.4" cy="419.9" r="4.7"/><circle cx="325.1" cy="416.1" r="4.7"/><circle cx="326.7" cy="423.5" r="4.6"/><circle cx="324.2" cy="407.3" r="5.1"/><circle cx="354.7" cy="383.2" r="4.5"/><circle cx="369.2" cy="404.1" r="4.5"/><circle cx="350.6" cy="378.3" r="4.6"/><circle cx="360.1" cy="375.4" r="4.9"/><circle cx="318.2" cy="415.8" r="4.8"/><circle cx="360.8" cy="415.1" r="4.8"/><circle cx="318.1" cy="401.3" r="4.9"/><circle cx="318.3" cy="391.3" r="4.9"/><circle cx="310.9" cy="387.7" r="4.5"/><circle cx="322.2" cy="411.8" r="4.5"/><circle cx="322.3" cy="420.8" r="5.3"/><circle cx="372.5" cy="400.6" r="4.7"/><circle cx="369.2" cy="392.2" r="4.7"/><circle cx="315.4" cy="396.3" r="5.5"/><circle cx="360.4" cy="382.6" r="5.0"/><circle cx="318.1" cy="410.3" r="4.9"/><circle cx="363.4" cy="420.2" r="5.1"/><circle cx="335.5" cy="413.7" r="4.7"/><circle cx="350.0" cy="370.9" r="5.5"/><circle cx="323.2" cy="429.2" r="5.1"/><circle cx="362.6" cy="410.9" r="4.6"/><circle cx="312.1" cy="413.8" r="5.0"/><circle cx="348.9" cy="412.1" r="4.8"/><circle cx="310.4" cy="402.2" r="5.3"/><circle cx="343.9" cy="403.5" r="4.7"/><circle cx="343.9" cy="418.5" r="5.4"/><circle cx="322.8" cy="374.3" r="4.7"/><circle cx="354.8" cy="411.8" r="5.1"/><circle cx="349.0" cy="407.6" r="4.5"/><circle cx="369.0" cy="414.4" r="5.1"/><circle cx="317.0" cy="385.6" r="5.3"/><circle cx="339.1" cy="421.1" r="5.3"/><circle cx="305.3" cy="399.3" r="4.8"/><circle cx="352.2" cy="404.7" r="4.7"/><circle cx="354.2" cy="388.0" r="4.8"/><circle cx="354.7" cy="375.6" r="4.9"/><circle cx="306.8" cy="390.5" r="4.9"/><circle cx="313.6" cy="420.8" r="4.9"/><circle cx="354.2" cy="399.9" r="5.4"/><circle cx="310.4" cy="394.8" r="5.0"/><circle cx="339.7" cy="391.5" r="5.2"/><circle cx="313.1" cy="407.1" r="5.3"/><circle cx="307.3" cy="406.3" r="4.6"/><circle cx="351.7" cy="416.5" r="4.8"/><circle cx="332.8" cy="418.1" r="4.7"/><circle cx="339.3" cy="402.9" r="4.6"/><circle cx="327.9" cy="410.2" r="4.6"/><circle cx="307.2" cy="411.3" r="4.9"/><circle cx="357.9" cy="396.1" r="4.9"/><circle cx="372.6" cy="395.4" r="4.7"/><circle cx="343.3" cy="410.1" r="5.1"/><circle cx="307.7" cy="382.5" r="5.2"/><circle cx="361.5" cy="371.3" r="4.6"/><circle cx="345.7" cy="376.3" r="5.3"/><circle cx="308.7" cy="416.7" r="4.6"/><circle cx="364.3" cy="404.2" r="4.8"/><circle cx="346.7" cy="394.4" r="4.9"/><circle cx="357.3" cy="379.3" r="4.8"/><circle cx="365.2" cy="394.0" r="4.7"/><circle cx="328.4" cy="404.6" r="4.5"/><circle cx="314.7" cy="425.0" r="4.7"/><circle cx="350.1" cy="386.7" r="4.8"/><circle cx="331.2" cy="414.4" r="4.6"/><circle cx="367.1" cy="410.2" r="4.7"/><circle cx="320.5" cy="396.0" r="4.8"/><circle cx="358.4" cy="386.9" r="4.8"/><circle cx="356.4" cy="406.8" r="4.8"/><circle cx="320.0" cy="405.5" r="4.6"/><circle cx="350.7" cy="382.5" r="4.6"/></g>
<g fill="#fafafa"><circle cx="313.1" cy="381.0" r="4.3"/><circle cx="335.4" cy="389.3" r="3.7"/><circle cx="340.7" cy="413.8" r="3.4"/><circle cx="318.2" cy="427.1" r="3.3"/><circle cx="366.8" cy="398.9" r="3.4"/><circle cx="346.0" cy="382.3" r="4.1"/><circle cx="336.9" cy="398.8" r="4.0"/><circle cx="349.4" cy="400.6" r="3.2"/><circle cx="324.8" cy="399.6" r="3.4"/><circle cx="351.2" cy="392.4" r="3.8"/><circle cx="357.3" cy="391.2" r="3.2"/><circle cx="324.8" cy="395.1" r="3.4"/><circle cx="341.6" cy="386.2" r="3.3"/><circle cx="343.7" cy="398.2" r="3.9"/><circle cx="372.4" cy="409.1" r="4.2"/><circle cx="357.5" cy="371.9" r="3.4"/><circle cx="346.2" cy="390.0" r="3.4"/><circle cx="358.9" cy="402.3" r="3.5"/><circle cx="368.4" cy="419.9" r="3.4"/><circle cx="325.1" cy="416.1" r="3.4"/><circle cx="326.7" cy="423.5" r="3.3"/><circle cx="324.2" cy="407.3" r="3.8"/><circle cx="354.7" cy="383.2" r="3.2"/><circle cx="369.2" cy="404.1" r="3.2"/><circle cx="350.6" cy="378.3" r="3.3"/><circle cx="360.1" cy="375.4" r="3.6"/><circle cx="318.2" cy="415.8" r="3.5"/><circle cx="360.8" cy="415.1" r="3.5"/><circle cx="318.1" cy="401.3" r="3.6"/><circle cx="318.3" cy="391.3" r="3.6"/><circle cx="310.9" cy="387.7" r="3.2"/><circle cx="322.2" cy="411.8" r="3.2"/><circle cx="322.3" cy="420.8" r="4.0"/><circle cx="372.5" cy="400.6" r="3.4"/><circle cx="369.2" cy="392.2" r="3.4"/><circle cx="315.4" cy="396.3" r="4.2"/><circle cx="360.4" cy="382.6" r="3.7"/><circle cx="318.1" cy="410.3" r="3.6"/><circle cx="363.4" cy="420.2" r="3.8"/><circle cx="335.5" cy="413.7" r="3.4"/><circle cx="350.0" cy="370.9" r="4.2"/><circle cx="323.2" cy="429.2" r="3.8"/><circle cx="362.6" cy="410.9" r="3.3"/><circle cx="312.1" cy="413.8" r="3.7"/><circle cx="348.9" cy="412.1" r="3.5"/><circle cx="310.4" cy="402.2" r="4.0"/><circle cx="343.9" cy="403.5" r="3.4"/><circle cx="343.9" cy="418.5" r="4.1"/><circle cx="322.8" cy="374.3" r="3.4"/><circle cx="354.8" cy="411.8" r="3.8"/><circle cx="349.0" cy="407.6" r="3.2"/><circle cx="369.0" cy="414.4" r="3.8"/><circle cx="317.0" cy="385.6" r="4.0"/><circle cx="339.1" cy="421.1" r="4.0"/><circle cx="305.3" cy="399.3" r="3.5"/><circle cx="352.2" cy="404.7" r="3.4"/><circle cx="354.2" cy="388.0" r="3.5"/><circle cx="354.7" cy="375.6" r="3.6"/><circle cx="306.8" cy="390.5" r="3.6"/><circle cx="313.6" cy="420.8" r="3.6"/><circle cx="354.2" cy="399.9" r="4.1"/><circle cx="310.4" cy="394.8" r="3.7"/><circle cx="339.7" cy="391.5" r="3.9"/><circle cx="313.1" cy="407.1" r="4.0"/><circle cx="307.3" cy="406.3" r="3.3"/><circle cx="351.7" cy="416.5" r="3.5"/><circle cx="332.8" cy="418.1" r="3.4"/><circle cx="339.3" cy="402.9" r="3.3"/><circle cx="327.9" cy="410.2" r="3.3"/><circle cx="307.2" cy="411.3" r="3.6"/><circle cx="357.9" cy="396.1" r="3.6"/><circle cx="372.6" cy="395.4" r="3.4"/><circle cx="343.3" cy="410.1" r="3.8"/><circle cx="307.7" cy="382.5" r="3.9"/><circle cx="361.5" cy="371.3" r="3.3"/><circle cx="345.7" cy="376.3" r="4.0"/><circle cx="308.7" cy="416.7" r="3.3"/><circle cx="364.3" cy="404.2" r="3.5"/><circle cx="346.7" cy="394.4" r="3.6"/><circle cx="357.3" cy="379.3" r="3.5"/><circle cx="365.2" cy="394.0" r="3.4"/><circle cx="328.4" cy="404.6" r="3.2"/><circle cx="314.7" cy="425.0" r="3.4"/><circle cx="350.1" cy="386.7" r="3.5"/><circle cx="331.2" cy="414.4" r="3.3"/><circle cx="367.1" cy="410.2" r="3.4"/><circle cx="320.5" cy="396.0" r="3.5"/><circle cx="358.4" cy="386.9" r="3.5"/><circle cx="356.4" cy="406.8" r="3.5"/><circle cx="320.0" cy="405.5" r="3.3"/><circle cx="350.7" cy="382.5" r="3.3"/></g>
<g fill="#b4b4b4" stroke="#080808" stroke-width="1.3"><circle cx="313.1" cy="381.0" r="3.0"/><circle cx="335.4" cy="389.3" r="2.4"/><circle cx="340.7" cy="413.8" r="2.1"/><circle cx="318.2" cy="427.1" r="2.0"/><circle cx="366.8" cy="398.9" r="2.1"/><circle cx="346.0" cy="382.3" r="2.8"/><circle cx="336.9" cy="398.8" r="2.7"/><circle cx="349.4" cy="400.6" r="1.9"/><circle cx="324.8" cy="399.6" r="2.1"/><circle cx="351.2" cy="392.4" r="2.5"/><circle cx="357.3" cy="391.2" r="1.9"/><circle cx="324.8" cy="395.1" r="2.1"/><circle cx="341.6" cy="386.2" r="2.0"/><circle cx="343.7" cy="398.2" r="2.6"/><circle cx="372.4" cy="409.1" r="2.9"/><circle cx="357.5" cy="371.9" r="2.1"/><circle cx="346.2" cy="390.0" r="2.1"/><circle cx="358.9" cy="402.3" r="2.2"/><circle cx="368.4" cy="419.9" r="2.1"/><circle cx="325.1" cy="416.1" r="2.1"/><circle cx="326.7" cy="423.5" r="2.0"/><circle cx="324.2" cy="407.3" r="2.5"/><circle cx="354.7" cy="383.2" r="1.9"/><circle cx="369.2" cy="404.1" r="1.9"/><circle cx="350.6" cy="378.3" r="2.0"/><circle cx="360.1" cy="375.4" r="2.3"/><circle cx="318.2" cy="415.8" r="2.2"/><circle cx="360.8" cy="415.1" r="2.2"/><circle cx="318.1" cy="401.3" r="2.3"/><circle cx="318.3" cy="391.3" r="2.3"/><circle cx="310.9" cy="387.7" r="1.9"/><circle cx="322.2" cy="411.8" r="1.9"/><circle cx="322.3" cy="420.8" r="2.7"/><circle cx="372.5" cy="400.6" r="2.1"/><circle cx="369.2" cy="392.2" r="2.1"/><circle cx="315.4" cy="396.3" r="2.9"/><circle cx="360.4" cy="382.6" r="2.4"/><circle cx="318.1" cy="410.3" r="2.3"/><circle cx="363.4" cy="420.2" r="2.5"/><circle cx="335.5" cy="413.7" r="2.1"/><circle cx="350.0" cy="370.9" r="2.9"/><circle cx="323.2" cy="429.2" r="2.5"/><circle cx="362.6" cy="410.9" r="2.0"/><circle cx="312.1" cy="413.8" r="2.4"/><circle cx="348.9" cy="412.1" r="2.2"/><circle cx="310.4" cy="402.2" r="2.7"/><circle cx="343.9" cy="403.5" r="2.1"/><circle cx="343.9" cy="418.5" r="2.8"/><circle cx="322.8" cy="374.3" r="2.1"/><circle cx="354.8" cy="411.8" r="2.5"/><circle cx="349.0" cy="407.6" r="1.9"/><circle cx="369.0" cy="414.4" r="2.5"/><circle cx="317.0" cy="385.6" r="2.7"/><circle cx="339.1" cy="421.1" r="2.7"/><circle cx="305.3" cy="399.3" r="2.2"/><circle cx="352.2" cy="404.7" r="2.1"/><circle cx="354.2" cy="388.0" r="2.2"/><circle cx="354.7" cy="375.6" r="2.3"/><circle cx="306.8" cy="390.5" r="2.3"/><circle cx="313.6" cy="420.8" r="2.3"/><circle cx="354.2" cy="399.9" r="2.8"/><circle cx="310.4" cy="394.8" r="2.4"/><circle cx="339.7" cy="391.5" r="2.6"/><circle cx="313.1" cy="407.1" r="2.7"/><circle cx="307.3" cy="406.3" r="2.0"/><circle cx="351.7" cy="416.5" r="2.2"/><circle cx="332.8" cy="418.1" r="2.1"/><circle cx="339.3" cy="402.9" r="2.0"/><circle cx="327.9" cy="410.2" r="2.0"/><circle cx="307.2" cy="411.3" r="2.3"/><circle cx="357.9" cy="396.1" r="2.3"/><circle cx="372.6" cy="395.4" r="2.1"/><circle cx="343.3" cy="410.1" r="2.5"/><circle cx="307.7" cy="382.5" r="2.6"/><circle cx="361.5" cy="371.3" r="2.0"/><circle cx="345.7" cy="376.3" r="2.7"/><circle cx="308.7" cy="416.7" r="2.0"/><circle cx="364.3" cy="404.2" r="2.2"/><circle cx="346.7" cy="394.4" r="2.3"/><circle cx="357.3" cy="379.3" r="2.2"/><circle cx="365.2" cy="394.0" r="2.1"/><circle cx="328.4" cy="404.6" r="1.9"/><circle cx="314.7" cy="425.0" r="2.1"/><circle cx="350.1" cy="386.7" r="2.2"/><circle cx="331.2" cy="414.4" r="2.0"/><circle cx="367.1" cy="410.2" r="2.1"/><circle cx="320.5" cy="396.0" r="2.2"/><circle cx="358.4" cy="386.9" r="2.2"/><circle cx="356.4" cy="406.8" r="2.2"/><circle cx="320.0" cy="405.5" r="2.0"/><circle cx="350.7" cy="382.5" r="2.0"/></g>
<g fill="#f0f0f0"><circle cx="313.9" cy="380.9" r="0.8"/><circle cx="340.1" cy="413.6" r="0.7"/><circle cx="318.5" cy="428.0" r="0.6"/><circle cx="366.0" cy="398.7" r="0.7"/><circle cx="345.2" cy="381.4" r="0.7"/><circle cx="325.4" cy="398.6" r="0.6"/><circle cx="357.7" cy="391.1" r="0.7"/><circle cx="324.2" cy="395.9" r="0.8"/><circle cx="341.1" cy="385.9" r="0.7"/><circle cx="372.3" cy="409.9" r="0.9"/><circle cx="345.6" cy="390.1" r="0.8"/><circle cx="324.5" cy="415.8" r="0.7"/><circle cx="327.2" cy="423.0" r="0.7"/><circle cx="323.7" cy="408.1" r="0.5"/><circle cx="355.5" cy="382.7" r="0.6"/><circle cx="350.3" cy="377.4" r="0.7"/><circle cx="317.6" cy="414.9" r="0.6"/><circle cx="317.9" cy="402.1" r="0.7"/><circle cx="319.2" cy="391.7" r="0.7"/><circle cx="321.6" cy="412.0" r="0.5"/><circle cx="321.7" cy="421.3" r="0.7"/><circle cx="368.7" cy="391.5" r="0.7"/><circle cx="316.1" cy="396.1" r="0.8"/><circle cx="361.7" cy="411.7" r="0.9"/><circle cx="311.3" cy="413.6" r="0.6"/><circle cx="348.9" cy="411.8" r="0.7"/><circle cx="311.0" cy="401.6" r="0.9"/><circle cx="344.0" cy="404.3" r="0.8"/><circle cx="344.1" cy="418.4" r="0.6"/><circle cx="317.9" cy="386.5" r="0.7"/><circle cx="355.1" cy="388.4" r="0.7"/><circle cx="313.0" cy="421.2" r="0.8"/><circle cx="354.2" cy="399.7" r="0.7"/><circle cx="310.9" cy="394.1" r="0.7"/><circle cx="340.3" cy="392.0" r="0.6"/><circle cx="307.4" cy="406.9" r="0.8"/><circle cx="352.4" cy="415.7" r="0.9"/><circle cx="356.9" cy="396.0" r="0.9"/><circle cx="373.3" cy="394.4" r="0.7"/><circle cx="342.4" cy="409.2" r="0.6"/><circle cx="308.0" cy="383.2" r="0.6"/><circle cx="346.6" cy="376.3" r="0.5"/><circle cx="308.4" cy="415.9" r="0.5"/><circle cx="346.0" cy="395.2" r="0.8"/><circle cx="357.1" cy="380.3" r="0.8"/><circle cx="365.0" cy="393.2" r="0.9"/><circle cx="331.1" cy="414.9" r="0.6"/><circle cx="320.7" cy="396.2" r="0.5"/><circle cx="358.2" cy="385.9" r="0.8"/><circle cx="355.4" cy="406.4" r="0.5"/><circle cx="320.1" cy="405.1" r="0.7"/><circle cx="351.1" cy="381.6" r="0.8"/></g>
<g fill="#151515"><circle cx="313.1" cy="380.7" r="0.9"/><circle cx="335.0" cy="389.6" r="0.9"/><circle cx="341.4" cy="414.5" r="1.2"/><circle cx="318.7" cy="426.6" r="0.7"/><circle cx="366.8" cy="398.6" r="1.1"/><circle cx="346.4" cy="382.9" r="1.3"/><circle cx="337.0" cy="398.9" r="0.9"/><circle cx="350.0" cy="400.5" r="0.9"/><circle cx="325.1" cy="400.2" r="0.9"/><circle cx="350.9" cy="392.3" r="1.1"/><circle cx="358.1" cy="390.4" r="1.0"/><circle cx="324.2" cy="395.0" r="0.7"/><circle cx="343.0" cy="397.8" r="1.2"/><circle cx="373.0" cy="408.4" r="1.4"/><circle cx="358.2" cy="372.1" r="1.0"/><circle cx="359.1" cy="402.3" r="1.1"/><circle cx="368.2" cy="419.4" r="1.1"/><circle cx="325.1" cy="416.4" r="1.1"/><circle cx="323.5" cy="406.8" r="1.0"/><circle cx="354.7" cy="383.2" r="0.7"/><circle cx="369.6" cy="404.1" r="0.9"/><circle cx="359.7" cy="375.8" r="0.9"/><circle cx="318.5" cy="401.7" r="1.0"/><circle cx="318.7" cy="390.9" r="0.9"/><circle cx="310.1" cy="387.9" r="0.9"/><circle cx="322.8" cy="411.0" r="1.0"/><circle cx="322.6" cy="420.9" r="1.3"/><circle cx="371.9" cy="399.9" r="0.7"/><circle cx="368.9" cy="392.4" r="1.0"/><circle cx="315.2" cy="397.0" r="1.3"/><circle cx="360.2" cy="382.0" r="0.9"/><circle cx="318.0" cy="410.4" r="0.8"/><circle cx="335.1" cy="414.4" r="1.1"/><circle cx="350.6" cy="370.8" r="1.4"/><circle cx="363.3" cy="411.0" r="1.1"/><circle cx="312.6" cy="414.5" r="1.0"/><circle cx="348.4" cy="411.6" r="1.1"/><circle cx="310.0" cy="402.0" r="1.1"/><circle cx="343.9" cy="403.8" r="1.1"/><circle cx="322.0" cy="375.0" r="0.8"/><circle cx="348.2" cy="408.4" r="0.7"/><circle cx="369.4" cy="414.1" r="1.3"/><circle cx="317.0" cy="385.8" r="0.8"/><circle cx="338.9" cy="421.4" r="1.4"/><circle cx="351.7" cy="405.1" r="0.9"/><circle cx="306.6" cy="391.1" r="1.2"/><circle cx="313.3" cy="420.3" r="0.9"/><circle cx="353.6" cy="399.6" r="1.1"/><circle cx="310.9" cy="394.5" r="0.8"/><circle cx="339.4" cy="390.9" r="1.3"/><circle cx="306.8" cy="407.0" r="1.0"/><circle cx="351.8" cy="416.8" r="0.9"/><circle cx="333.0" cy="418.6" r="0.7"/><circle cx="339.5" cy="402.9" r="0.6"/><circle cx="327.7" cy="409.5" r="1.1"/><circle cx="358.3" cy="396.9" r="1.1"/><circle cx="372.3" cy="395.3" r="1.0"/><circle cx="343.3" cy="410.5" r="0.9"/><circle cx="307.8" cy="383.0" r="1.1"/><circle cx="361.7" cy="372.0" r="1.1"/><circle cx="345.8" cy="375.7" r="0.9"/><circle cx="309.1" cy="417.0" r="0.7"/><circle cx="364.3" cy="403.8" r="0.8"/><circle cx="347.2" cy="394.6" r="0.7"/><circle cx="357.9" cy="378.6" r="0.8"/><circle cx="365.0" cy="394.2" r="0.7"/><circle cx="328.2" cy="404.9" r="0.9"/><circle cx="315.1" cy="425.8" r="0.9"/><circle cx="349.5" cy="386.7" r="1.0"/><circle cx="330.4" cy="413.8" r="0.8"/><circle cx="320.0" cy="396.1" r="0.7"/><circle cx="358.9" cy="386.1" r="0.7"/><circle cx="320.3" cy="405.6" r="1.0"/><circle cx="350.2" cy="383.3" r="0.7"/></g>
</g>
<circle cx="339.50" cy="399.6" r="35.7" fill="none" stroke="#1a1a1a" stroke-width="0.9"/>
<rect x="339.90" y="427.90" width="16.10" height="2.40" fill="#000" stroke="none" stroke-width="1"/>
<text x="340.50" y="356.80" font-size="9" text-anchor="middle" fill="#ee8c8c">siJAK2-2</text>
<g clip-path="url(#cc5)">
<circle cx="415.15" cy="399.6" r="35.7" fill="#aaaaaa"/>
<rect x="379.4" y="363.9" width="71.4" height="71.4" filter="url(#tx)" opacity="0.25"/>
<g fill="#dedede"><circle cx="439.1" cy="403.9" r="5.2"/><circle cx="439.3" cy="398.1" r="5.5"/><circle cx="395.9" cy="380.2" r="4.6"/><circle cx="400.8" cy="389.8" r="4.9"/><circle cx="425.7" cy="379.8" r="5.4"/><circle cx="395.8" cy="385.5" r="5.2"/><circle cx="419.4" cy="421.2" r="4.7"/><circle cx="405.0" cy="385.7" r="5.4"/><circle cx="410.6" cy="394.8" r="5.0"/><circle cx="417.3" cy="382.5" r="5.5"/><circle cx="430.7" cy="382.9" r="5.2"/><circle cx="416.0" cy="428.7" r="5.3"/><circle cx="422.3" cy="413.2" r="5.4"/><circle cx="418.0" cy="374.9" r="4.8"/><circle cx="424.9" cy="423.4" r="5.5"/><circle cx="412.5" cy="378.4" r="4.7"/><circle cx="419.9" cy="405.3" r="5.6"/><circle cx="400.2" cy="384.6" r="4.6"/><circle cx="441.0" cy="390.6" r="4.5"/><circle cx="406.9" cy="409.0" r="4.5"/><circle cx="420.8" cy="369.7" r="4.5"/><circle cx="423.9" cy="373.9" r="4.5"/><circle cx="412.3" cy="424.3" r="4.8"/><circle cx="409.2" cy="414.4" r="4.8"/><circle cx="413.5" cy="407.9" r="4.8"/><circle cx="446.7" cy="400.3" r="4.7"/><circle cx="396.8" cy="392.4" r="4.9"/><circle cx="412.7" cy="390.4" r="5.2"/><circle cx="443.8" cy="406.9" r="4.9"/><circle cx="409.6" cy="383.0" r="4.9"/><circle cx="421.7" cy="386.9" r="5.3"/><circle cx="447.8" cy="394.8" r="5.1"/><circle cx="403.9" cy="395.3" r="5.1"/><circle cx="425.8" cy="407.5" r="4.7"/><circle cx="414.9" cy="367.1" r="4.8"/><circle cx="405.2" cy="390.7" r="4.5"/><circle cx="422.5" cy="418.2" r="4.8"/><circle cx="414.7" cy="371.5" r="4.7"/><circle cx="415.7" cy="417.1" r="4.7"/><circle cx="436.0" cy="392.2" r="5.1"/><circle cx="419.9" cy="431.5" r="4.7"/><circle cx="414.0" cy="412.2" r="4.6"/><circle cx="445.7" cy="390.0" r="4.7"/><circle cx="414.8" cy="402.8" r="4.9"/><circle cx="403.4" cy="379.6" r="5.3"/><circle cx="434.4" cy="397.8" r="4.6"/><circle cx="391.1" cy="382.4" r="4.8"/><circle cx="410.7" cy="419.5" r="4.9"/><circle cx="403.7" cy="414.4" r="4.6"/><circle cx="423.7" cy="428.4" r="4.6"/><circle cx="410.3" cy="370.0" r="4.8"/><circle cx="448.2" cy="406.8" r="4.7"/><circle cx="391.5" cy="387.6" r="4.8"/><circle cx="409.9" cy="374.8" r="4.6"/><circle cx="439.6" cy="408.6" r="4.6"/><circle cx="436.1" cy="383.6" r="5.0"/><circle cx="413.1" cy="432.8" r="4.7"/><circle cx="415.8" cy="387.1" r="4.6"/></g>
<g fill="#fafafa"><circle cx="439.1" cy="403.9" r="3.9"/><circle cx="439.3" cy="398.1" r="4.2"/><circle cx="395.9" cy="380.2" r="3.3"/><circle cx="400.8" cy="389.8" r="3.6"/><circle cx="425.7" cy="379.8" r="4.1"/><circle cx="395.8" cy="385.5" r="3.9"/><circle cx="419.4" cy="421.2" r="3.4"/><circle cx="405.0" cy="385.7" r="4.1"/><circle cx="410.6" cy="394.8" r="3.7"/><circle cx="417.3" cy="382.5" r="4.2"/><circle cx="430.7" cy="382.9" r="3.9"/><circle cx="416.0" cy="428.7" r="4.0"/><circle cx="422.3" cy="413.2" r="4.1"/><circle cx="418.0" cy="374.9" r="3.5"/><circle cx="424.9" cy="423.4" r="4.2"/><circle cx="412.5" cy="378.4" r="3.4"/><circle cx="419.9" cy="405.3" r="4.3"/><circle cx="400.2" cy="384.6" r="3.3"/><circle cx="441.0" cy="390.6" r="3.2"/><circle cx="406.9" cy="409.0" r="3.2"/><circle cx="420.8" cy="369.7" r="3.2"/><circle cx="423.9" cy="373.9" r="3.2"/><circle cx="412.3" cy="424.3" r="3.5"/><circle cx="409.2" cy="414.4" r="3.5"/><circle cx="413.5" cy="407.9" r="3.5"/><circle cx="446.7" cy="400.3" r="3.4"/><circle cx="396.8" cy="392.4" r="3.6"/><circle cx="412.7" cy="390.4" r="3.9"/><circle cx="443.8" cy="406.9" r="3.6"/><circle cx="409.6" cy="383.0" r="3.6"/><circle cx="421.7" cy="386.9" r="4.0"/><circle cx="447.8" cy="394.8" r="3.8"/><circle cx="403.9" cy="395.3" r="3.8"/><circle cx="425.8" cy="407.5" r="3.4"/><circle cx="414.9" cy="367.1" r="3.5"/><circle cx="405.2" cy="390.7" r="3.2"/><circle cx="422.5" cy="418.2" r="3.5"/><circle cx="414.7" cy="371.5" r="3.4"/><circle cx="415.7" cy="417.1" r="3.4"/><circle cx="436.0" cy="392.2" r="3.8"/><circle cx="419.9" cy="431.5" r="3.4"/><circle cx="414.0" cy="412.2" r="3.3"/><circle cx="445.7" cy="390.0" r="3.4"/><circle cx="414.8" cy="402.8" r="3.6"/><circle cx="403.4" cy="379.6" r="4.0"/><circle cx="434.4" cy="397.8" r="3.3"/><circle cx="391.1" cy="382.4" r="3.5"/><circle cx="410.7" cy="419.5" r="3.6"/><circle cx="403.7" cy="414.4" r="3.3"/><circle cx="423.7" cy="428.4" r="3.3"/><circle cx="410.3" cy="370.0" r="3.5"/><circle cx="448.2" cy="406.8" r="3.4"/><circle cx="391.5" cy="387.6" r="3.5"/><circle cx="409.9" cy="374.8" r="3.3"/><circle cx="439.6" cy="408.6" r="3.3"/><circle cx="436.1" cy="383.6" r="3.7"/><circle cx="413.1" cy="432.8" r="3.4"/><circle cx="415.8" cy="387.1" r="3.3"/></g>
<g fill="#b4b4b4" stroke="#080808" stroke-width="1.3"><circle cx="439.1" cy="403.9" r="2.6"/><circle cx="439.3" cy="398.1" r="2.9"/><circle cx="395.9" cy="380.2" r="2.0"/><circle cx="400.8" cy="389.8" r="2.3"/><circle cx="425.7" cy="379.8" r="2.8"/><circle cx="395.8" cy="385.5" r="2.6"/><circle cx="419.4" cy="421.2" r="2.1"/><circle cx="405.0" cy="385.7" r="2.8"/><circle cx="410.6" cy="394.8" r="2.4"/><circle cx="417.3" cy="382.5" r="2.9"/><circle cx="430.7" cy="382.9" r="2.6"/><circle cx="416.0" cy="428.7" r="2.7"/><circle cx="422.3" cy="413.2" r="2.8"/><circle cx="418.0" cy="374.9" r="2.2"/><circle cx="424.9" cy="423.4" r="2.9"/><circle cx="412.5" cy="378.4" r="2.1"/><circle cx="419.9" cy="405.3" r="3.0"/><circle cx="400.2" cy="384.6" r="2.0"/><circle cx="441.0" cy="390.6" r="1.9"/><circle cx="406.9" cy="409.0" r="1.9"/><circle cx="420.8" cy="369.7" r="1.9"/><circle cx="423.9" cy="373.9" r="1.9"/><circle cx="412.3" cy="424.3" r="2.2"/><circle cx="409.2" cy="414.4" r="2.2"/><circle cx="413.5" cy="407.9" r="2.2"/><circle cx="446.7" cy="400.3" r="2.1"/><circle cx="396.8" cy="392.4" r="2.3"/><circle cx="412.7" cy="390.4" r="2.6"/><circle cx="443.8" cy="406.9" r="2.3"/><circle cx="409.6" cy="383.0" r="2.3"/><circle cx="421.7" cy="386.9" r="2.7"/><circle cx="447.8" cy="394.8" r="2.5"/><circle cx="403.9" cy="395.3" r="2.5"/><circle cx="425.8" cy="407.5" r="2.1"/><circle cx="414.9" cy="367.1" r="2.2"/><circle cx="405.2" cy="390.7" r="1.9"/><circle cx="422.5" cy="418.2" r="2.2"/><circle cx="414.7" cy="371.5" r="2.1"/><circle cx="415.7" cy="417.1" r="2.1"/><circle cx="436.0" cy="392.2" r="2.5"/><circle cx="419.9" cy="431.5" r="2.1"/><circle cx="414.0" cy="412.2" r="2.0"/><circle cx="445.7" cy="390.0" r="2.1"/><circle cx="414.8" cy="402.8" r="2.3"/><circle cx="403.4" cy="379.6" r="2.7"/><circle cx="434.4" cy="397.8" r="2.0"/><circle cx="391.1" cy="382.4" r="2.2"/><circle cx="410.7" cy="419.5" r="2.3"/><circle cx="403.7" cy="414.4" r="2.0"/><circle cx="423.7" cy="428.4" r="2.0"/><circle cx="410.3" cy="370.0" r="2.2"/><circle cx="448.2" cy="406.8" r="2.1"/><circle cx="391.5" cy="387.6" r="2.2"/><circle cx="409.9" cy="374.8" r="2.0"/><circle cx="439.6" cy="408.6" r="2.0"/><circle cx="436.1" cy="383.6" r="2.4"/><circle cx="413.1" cy="432.8" r="2.1"/><circle cx="415.8" cy="387.1" r="2.0"/></g>
<g fill="#f0f0f0"><circle cx="439.1" cy="403.3" r="0.8"/><circle cx="439.1" cy="398.3" r="0.8"/><circle cx="394.8" cy="384.7" r="0.5"/><circle cx="418.5" cy="421.2" r="0.8"/><circle cx="409.8" cy="394.2" r="0.8"/><circle cx="416.7" cy="383.2" r="0.8"/><circle cx="422.3" cy="413.1" r="0.7"/><circle cx="399.9" cy="384.9" r="0.6"/><circle cx="441.5" cy="391.5" r="0.6"/><circle cx="421.6" cy="368.9" r="0.6"/><circle cx="409.6" cy="414.2" r="0.7"/><circle cx="447.5" cy="401.3" r="0.5"/><circle cx="397.3" cy="392.7" r="0.6"/><circle cx="403.5" cy="395.4" r="0.9"/><circle cx="405.2" cy="391.6" r="0.9"/><circle cx="419.1" cy="431.0" r="0.8"/><circle cx="414.8" cy="413.1" r="0.6"/><circle cx="446.1" cy="390.6" r="0.7"/><circle cx="415.7" cy="403.6" r="0.6"/><circle cx="433.8" cy="397.9" r="0.7"/><circle cx="390.7" cy="382.8" r="0.8"/><circle cx="411.1" cy="419.7" r="0.6"/><circle cx="402.9" cy="413.8" r="0.7"/><circle cx="424.4" cy="428.1" r="0.6"/><circle cx="438.9" cy="408.0" r="0.5"/><circle cx="436.7" cy="383.9" r="0.6"/><circle cx="413.4" cy="433.0" r="0.5"/><circle cx="415.8" cy="387.9" r="0.6"/></g>
<g fill="#151515"><circle cx="438.6" cy="404.5" r="0.8"/><circle cx="438.7" cy="398.1" r="1.4"/><circle cx="396.0" cy="379.5" r="0.7"/><circle cx="400.1" cy="390.0" r="1.3"/><circle cx="425.8" cy="380.3" r="0.9"/><circle cx="395.1" cy="386.1" r="1.1"/><circle cx="418.9" cy="421.2" r="0.8"/><circle cx="404.8" cy="384.9" r="1.2"/><circle cx="411.1" cy="394.9" r="1.0"/><circle cx="430.0" cy="382.8" r="1.3"/><circle cx="415.5" cy="428.8" r="1.2"/><circle cx="421.7" cy="413.6" r="0.9"/><circle cx="425.6" cy="423.3" r="1.4"/><circle cx="412.0" cy="377.9" r="0.8"/><circle cx="419.5" cy="406.0" r="1.0"/><circle cx="400.0" cy="385.4" r="0.7"/><circle cx="440.8" cy="390.2" r="0.8"/><circle cx="407.1" cy="409.7" r="1.0"/><circle cx="420.1" cy="370.0" r="0.7"/><circle cx="423.9" cy="374.3" r="1.1"/><circle cx="413.0" cy="424.5" r="0.8"/><circle cx="410.0" cy="414.4" r="0.8"/><circle cx="413.9" cy="407.6" r="1.2"/><circle cx="447.2" cy="400.5" r="0.9"/><circle cx="396.9" cy="392.9" r="1.2"/><circle cx="413.1" cy="389.9" r="1.4"/><circle cx="443.8" cy="406.5" r="0.7"/><circle cx="409.0" cy="382.2" r="0.9"/><circle cx="422.0" cy="387.3" r="1.4"/><circle cx="447.5" cy="395.3" r="0.8"/><circle cx="403.4" cy="395.3" r="1.3"/><circle cx="426.1" cy="407.3" r="0.8"/><circle cx="414.6" cy="366.5" r="0.8"/><circle cx="422.2" cy="418.6" r="1.0"/><circle cx="414.6" cy="371.3" r="1.1"/><circle cx="415.2" cy="416.9" r="0.9"/><circle cx="435.4" cy="392.0" r="1.3"/><circle cx="419.8" cy="431.5" r="0.7"/><circle cx="413.5" cy="411.9" r="0.7"/><circle cx="415.4" cy="402.2" r="0.8"/><circle cx="404.1" cy="380.2" r="1.2"/><circle cx="434.8" cy="397.8" r="0.9"/><circle cx="391.3" cy="382.8" r="0.7"/><circle cx="410.3" cy="418.8" r="1.0"/><circle cx="403.5" cy="415.1" r="1.0"/><circle cx="423.4" cy="428.0" r="1.0"/><circle cx="410.4" cy="370.0" r="0.9"/><circle cx="391.7" cy="388.0" r="1.1"/><circle cx="409.8" cy="375.4" r="0.8"/><circle cx="439.3" cy="408.1" r="1.0"/><circle cx="435.5" cy="384.3" r="0.9"/><circle cx="416.4" cy="386.4" r="0.8"/></g>
</g>
<circle cx="415.15" cy="399.6" r="35.7" fill="none" stroke="#1a1a1a" stroke-width="0.9"/>
<rect x="415.55" y="427.90" width="16.10" height="2.40" fill="#000" stroke="none" stroke-width="1"/>
<text x="416.15" y="356.80" font-size="9" text-anchor="middle" fill="#8a7cc8">siJAK3-1</text>
<g clip-path="url(#cc6)">
<circle cx="490.80" cy="399.6" r="35.7" fill="#aaaaaa"/>
<rect x="455.1" y="363.9" width="71.4" height="71.4" filter="url(#tx)" opacity="0.25"/>
<g fill="#dedede"><circle cx="506.8" cy="428.0" r="5.0"/><circle cx="471.3" cy="382.7" r="5.0"/><circle cx="470.1" cy="404.8" r="4.9"/><circle cx="493.9" cy="405.1" r="4.9"/><circle cx="461.5" cy="397.2" r="4.7"/><circle cx="483.6" cy="412.2" r="5.5"/><circle cx="483.2" cy="379.9" r="5.3"/><circle cx="501.1" cy="415.5" r="5.6"/><circle cx="461.9" cy="380.3" r="4.6"/><circle cx="491.3" cy="416.6" r="4.6"/><circle cx="500.8" cy="424.9" r="4.5"/><circle cx="503.2" cy="403.4" r="4.6"/><circle cx="472.5" cy="412.1" r="5.4"/><circle cx="482.4" cy="418.9" r="4.9"/><circle cx="476.3" cy="406.8" r="4.7"/><circle cx="495.8" cy="392.1" r="5.2"/><circle cx="472.5" cy="423.8" r="4.8"/><circle cx="489.8" cy="375.2" r="5.6"/><circle cx="511.6" cy="397.9" r="5.5"/><circle cx="508.0" cy="414.9" r="4.8"/><circle cx="473.8" cy="400.3" r="5.3"/><circle cx="503.4" cy="409.8" r="5.3"/><circle cx="491.0" cy="391.3" r="4.5"/><circle cx="489.5" cy="423.5" r="4.8"/><circle cx="512.8" cy="415.1" r="5.1"/><circle cx="496.2" cy="426.3" r="4.6"/><circle cx="503.2" cy="388.5" r="5.1"/><circle cx="478.8" cy="401.1" r="4.7"/><circle cx="472.0" cy="388.6" r="5.0"/><circle cx="484.0" cy="403.1" r="4.9"/><circle cx="481.8" cy="396.2" r="5.5"/><circle cx="513.6" cy="408.0" r="5.4"/><circle cx="488.3" cy="396.6" r="4.7"/><circle cx="495.3" cy="410.1" r="5.0"/><circle cx="496.6" cy="398.1" r="5.5"/><circle cx="489.3" cy="385.8" r="5.0"/><circle cx="479.1" cy="376.2" r="4.9"/><circle cx="508.2" cy="423.4" r="4.9"/><circle cx="461.6" cy="388.4" r="4.9"/><circle cx="510.2" cy="392.6" r="4.7"/><circle cx="484.4" cy="389.9" r="4.8"/><circle cx="477.8" cy="420.8" r="5.3"/><circle cx="477.3" cy="387.7" r="5.1"/><circle cx="503.0" cy="421.2" r="4.7"/><circle cx="502.6" cy="394.6" r="4.5"/><circle cx="468.1" cy="400.5" r="4.7"/><circle cx="475.0" cy="379.4" r="5.1"/><circle cx="516.9" cy="398.4" r="4.8"/><circle cx="487.8" cy="380.9" r="4.5"/><circle cx="492.4" cy="427.9" r="4.6"/><circle cx="489.4" cy="407.0" r="5.0"/><circle cx="469.4" cy="395.1" r="5.3"/><circle cx="495.5" cy="385.6" r="5.6"/><circle cx="494.1" cy="420.1" r="4.8"/><circle cx="465.9" cy="409.6" r="4.6"/><circle cx="484.3" cy="426.1" r="4.7"/><circle cx="489.4" cy="401.3" r="5.2"/><circle cx="483.0" cy="373.7" r="4.8"/><circle cx="468.2" cy="377.8" r="4.9"/><circle cx="481.2" cy="384.9" r="4.7"/><circle cx="475.4" cy="426.9" r="4.7"/><circle cx="509.6" cy="388.3" r="4.8"/><circle cx="467.2" cy="388.1" r="4.8"/><circle cx="481.9" cy="407.7" r="4.6"/><circle cx="474.8" cy="416.7" r="4.8"/><circle cx="474.8" cy="393.1" r="4.9"/><circle cx="517.6" cy="404.4" r="4.7"/><circle cx="487.0" cy="418.4" r="4.6"/><circle cx="499.6" cy="429.8" r="4.6"/><circle cx="478.7" cy="414.7" r="4.8"/><circle cx="513.7" cy="420.7" r="5.4"/><circle cx="508.0" cy="405.4" r="5.3"/><circle cx="492.5" cy="380.2" r="5.2"/><circle cx="465.0" cy="384.1" r="4.9"/><circle cx="515.9" cy="394.1" r="4.7"/><circle cx="489.1" cy="412.0" r="5.1"/><circle cx="464.9" cy="404.4" r="5.0"/><circle cx="502.6" cy="398.9" r="4.7"/><circle cx="499.1" cy="405.8" r="5.1"/><circle cx="464.7" cy="393.0" r="5.1"/><circle cx="506.9" cy="400.6" r="4.8"/><circle cx="468.0" cy="414.5" r="4.9"/><circle cx="512.3" cy="403.4" r="4.6"/><circle cx="509.4" cy="410.5" r="4.5"/><circle cx="498.5" cy="421.5" r="4.6"/><circle cx="505.8" cy="392.5" r="4.5"/><circle cx="506.7" cy="419.3" r="4.6"/><circle cx="474.5" cy="375.1" r="4.6"/><circle cx="478.9" cy="410.2" r="4.6"/></g>
<g fill="#fafafa"><circle cx="506.8" cy="428.0" r="3.7"/><circle cx="471.3" cy="382.7" r="3.7"/><circle cx="470.1" cy="404.8" r="3.6"/><circle cx="493.9" cy="405.1" r="3.6"/><circle cx="461.5" cy="397.2" r="3.4"/><circle cx="483.6" cy="412.2" r="4.2"/><circle cx="483.2" cy="379.9" r="4.0"/><circle cx="501.1" cy="415.5" r="4.3"/><circle cx="461.9" cy="380.3" r="3.3"/><circle cx="491.3" cy="416.6" r="3.3"/><circle cx="500.8" cy="424.9" r="3.2"/><circle cx="503.2" cy="403.4" r="3.3"/><circle cx="472.5" cy="412.1" r="4.1"/><circle cx="482.4" cy="418.9" r="3.6"/><circle cx="476.3" cy="406.8" r="3.4"/><circle cx="495.8" cy="392.1" r="3.9"/><circle cx="472.5" cy="423.8" r="3.5"/><circle cx="489.8" cy="375.2" r="4.3"/><circle cx="511.6" cy="397.9" r="4.2"/><circle cx="508.0" cy="414.9" r="3.5"/><circle cx="473.8" cy="400.3" r="4.0"/><circle cx="503.4" cy="409.8" r="4.0"/><circle cx="491.0" cy="391.3" r="3.2"/><circle cx="489.5" cy="423.5" r="3.5"/><circle cx="512.8" cy="415.1" r="3.8"/><circle cx="496.2" cy="426.3" r="3.3"/><circle cx="503.2" cy="388.5" r="3.8"/><circle cx="478.8" cy="401.1" r="3.4"/><circle cx="472.0" cy="388.6" r="3.7"/><circle cx="484.0" cy="403.1" r="3.6"/><circle cx="481.8" cy="396.2" r="4.2"/><circle cx="513.6" cy="408.0" r="4.1"/><circle cx="488.3" cy="396.6" r="3.4"/><circle cx="495.3" cy="410.1" r="3.7"/><circle cx="496.6" cy="398.1" r="4.2"/><circle cx="489.3" cy="385.8" r="3.7"/><circle cx="479.1" cy="376.2" r="3.6"/><circle cx="508.2" cy="423.4" r="3.6"/><circle cx="461.6" cy="388.4" r="3.6"/><circle cx="510.2" cy="392.6" r="3.4"/><circle cx="484.4" cy="389.9" r="3.5"/><circle cx="477.8" cy="420.8" r="4.0"/><circle cx="477.3" cy="387.7" r="3.8"/><circle cx="503.0" cy="421.2" r="3.4"/><circle cx="502.6" cy="394.6" r="3.2"/><circle cx="468.1" cy="400.5" r="3.4"/><circle cx="475.0" cy="379.4" r="3.8"/><circle cx="516.9" cy="398.4" r="3.5"/><circle cx="487.8" cy="380.9" r="3.2"/><circle cx="492.4" cy="427.9" r="3.3"/><circle cx="489.4" cy="407.0" r="3.7"/><circle cx="469.4" cy="395.1" r="4.0"/><circle cx="495.5" cy="385.6" r="4.3"/><circle cx="494.1" cy="420.1" r="3.5"/><circle cx="465.9" cy="409.6" r="3.3"/><circle cx="484.3" cy="426.1" r="3.4"/><circle cx="489.4" cy="401.3" r="3.9"/><circle cx="483.0" cy="373.7" r="3.5"/><circle cx="468.2" cy="377.8" r="3.6"/><circle cx="481.2" cy="384.9" r="3.4"/><circle cx="475.4" cy="426.9" r="3.4"/><circle cx="509.6" cy="388.3" r="3.5"/><circle cx="467.2" cy="388.1" r="3.5"/><circle cx="481.9" cy="407.7" r="3.3"/><circle cx="474.8" cy="416.7" r="3.5"/><circle cx="474.8" cy="393.1" r="3.6"/><circle cx="517.6" cy="404.4" r="3.4"/><circle cx="487.0" cy="418.4" r="3.3"/><circle cx="499.6" cy="429.8" r="3.3"/><circle cx="478.7" cy="414.7" r="3.5"/><circle cx="513.7" cy="420.7" r="4.1"/><circle cx="508.0" cy="405.4" r="4.0"/><circle cx="492.5" cy="380.2" r="3.9"/><circle cx="465.0" cy="384.1" r="3.6"/><circle cx="515.9" cy="394.1" r="3.4"/><circle cx="489.1" cy="412.0" r="3.8"/><circle cx="464.9" cy="404.4" r="3.7"/><circle cx="502.6" cy="398.9" r="3.4"/><circle cx="499.1" cy="405.8" r="3.8"/><circle cx="464.7" cy="393.0" r="3.8"/><circle cx="506.9" cy="400.6" r="3.5"/><circle cx="468.0" cy="414.5" r="3.6"/><circle cx="512.3" cy="403.4" r="3.3"/><circle cx="509.4" cy="410.5" r="3.2"/><circle cx="498.5" cy="421.5" r="3.3"/><circle cx="505.8" cy="392.5" r="3.2"/><circle cx="506.7" cy="419.3" r="3.3"/><circle cx="474.5" cy="375.1" r="3.3"/><circle cx="478.9" cy="410.2" r="3.3"/></g>
<g fill="#b4b4b4" stroke="#080808" stroke-width="1.3"><circle cx="506.8" cy="428.0" r="2.4"/><circle cx="471.3" cy="382.7" r="2.4"/><circle cx="470.1" cy="404.8" r="2.3"/><circle cx="493.9" cy="405.1" r="2.3"/><circle cx="461.5" cy="397.2" r="2.1"/><circle cx="483.6" cy="412.2" r="2.9"/><circle cx="483.2" cy="379.9" r="2.7"/><circle cx="501.1" cy="415.5" r="3.0"/><circle cx="461.9" cy="380.3" r="2.0"/><circle cx="491.3" cy="416.6" r="2.0"/><circle cx="500.8" cy="424.9" r="1.9"/><circle cx="503.2" cy="403.4" r="2.0"/><circle cx="472.5" cy="412.1" r="2.8"/><circle cx="482.4" cy="418.9" r="2.3"/><circle cx="476.3" cy="406.8" r="2.1"/><circle cx="495.8" cy="392.1" r="2.6"/><circle cx="472.5" cy="423.8" r="2.2"/><circle cx="489.8" cy="375.2" r="3.0"/><circle cx="511.6" cy="397.9" r="2.9"/><circle cx="508.0" cy="414.9" r="2.2"/><circle cx="473.8" cy="400.3" r="2.7"/><circle cx="503.4" cy="409.8" r="2.7"/><circle cx="491.0" cy="391.3" r="1.9"/><circle cx="489.5" cy="423.5" r="2.2"/><circle cx="512.8" cy="415.1" r="2.5"/><circle cx="496.2" cy="426.3" r="2.0"/><circle cx="503.2" cy="388.5" r="2.5"/><circle cx="478.8" cy="401.1" r="2.1"/><circle cx="472.0" cy="388.6" r="2.4"/><circle cx="484.0" cy="403.1" r="2.3"/><circle cx="481.8" cy="396.2" r="2.9"/><circle cx="513.6" cy="408.0" r="2.8"/><circle cx="488.3" cy="396.6" r="2.1"/><circle cx="495.3" cy="410.1" r="2.4"/><circle cx="496.6" cy="398.1" r="2.9"/><circle cx="489.3" cy="385.8" r="2.4"/><circle cx="479.1" cy="376.2" r="2.3"/><circle cx="508.2" cy="423.4" r="2.3"/><circle cx="461.6" cy="388.4" r="2.3"/><circle cx="510.2" cy="392.6" r="2.1"/><circle cx="484.4" cy="389.9" r="2.2"/><circle cx="477.8" cy="420.8" r="2.7"/><circle cx="477.3" cy="387.7" r="2.5"/><circle cx="503.0" cy="421.2" r="2.1"/><circle cx="502.6" cy="394.6" r="1.9"/><circle cx="468.1" cy="400.5" r="2.1"/><circle cx="475.0" cy="379.4" r="2.5"/><circle cx="516.9" cy="398.4" r="2.2"/><circle cx="487.8" cy="380.9" r="1.9"/><circle cx="492.4" cy="427.9" r="2.0"/><circle cx="489.4" cy="407.0" r="2.4"/><circle cx="469.4" cy="395.1" r="2.7"/><circle cx="495.5" cy="385.6" r="3.0"/><circle cx="494.1" cy="420.1" r="2.2"/><circle cx="465.9" cy="409.6" r="2.0"/><circle cx="484.3" cy="426.1" r="2.1"/><circle cx="489.4" cy="401.3" r="2.6"/><circle cx="483.0" cy="373.7" r="2.2"/><circle cx="468.2" cy="377.8" r="2.3"/><circle cx="481.2" cy="384.9" r="2.1"/><circle cx="475.4" cy="426.9" r="2.1"/><circle cx="509.6" cy="388.3" r="2.2"/><circle cx="467.2" cy="388.1" r="2.2"/><circle cx="481.9" cy="407.7" r="2.0"/><circle cx="474.8" cy="416.7" r="2.2"/><circle cx="474.8" cy="393.1" r="2.3"/><circle cx="517.6" cy="404.4" r="2.1"/><circle cx="487.0" cy="418.4" r="2.0"/><circle cx="499.6" cy="429.8" r="2.0"/><circle cx="478.7" cy="414.7" r="2.2"/><circle cx="513.7" cy="420.7" r="2.8"/><circle cx="508.0" cy="405.4" r="2.7"/><circle cx="492.5" cy="380.2" r="2.6"/><circle cx="465.0" cy="384.1" r="2.3"/><circle cx="515.9" cy="394.1" r="2.1"/><circle cx="489.1" cy="412.0" r="2.5"/><circle cx="464.9" cy="404.4" r="2.4"/><circle cx="502.6" cy="398.9" r="2.1"/><circle cx="499.1" cy="405.8" r="2.5"/><circle cx="464.7" cy="393.0" r="2.5"/><circle cx="506.9" cy="400.6" r="2.2"/><circle cx="468.0" cy="414.5" r="2.3"/><circle cx="512.3" cy="403.4" r="2.0"/><circle cx="509.4" cy="410.5" r="1.9"/><circle cx="498.5" cy="421.5" r="2.0"/><circle cx="505.8" cy="392.5" r="1.9"/><circle cx="506.7" cy="419.3" r="2.0"/><circle cx="474.5" cy="375.1" r="2.0"/><circle cx="478.9" cy="410.2" r="2.0"/></g>
<g fill="#f0f0f0"><circle cx="507.0" cy="428.7" r="0.8"/><circle cx="469.1" cy="404.4" r="0.7"/><circle cx="462.3" cy="396.4" r="0.6"/><circle cx="500.9" cy="415.1" r="0.8"/><circle cx="461.6" cy="379.8" r="0.9"/><circle cx="492.1" cy="417.4" r="0.6"/><circle cx="496.0" cy="392.6" r="0.9"/><circle cx="489.7" cy="374.4" r="0.7"/><circle cx="512.0" cy="397.8" r="0.6"/><circle cx="502.7" cy="408.8" r="0.7"/><circle cx="489.7" cy="423.0" r="0.5"/><circle cx="512.0" cy="415.2" r="0.7"/><circle cx="497.1" cy="425.4" r="0.5"/><circle cx="478.8" cy="401.0" r="0.8"/><circle cx="483.0" cy="403.1" r="0.6"/><circle cx="482.5" cy="396.8" r="0.6"/><circle cx="513.3" cy="408.8" r="0.5"/><circle cx="488.3" cy="396.2" r="0.5"/><circle cx="489.4" cy="386.7" r="0.6"/><circle cx="479.2" cy="376.1" r="0.5"/><circle cx="508.6" cy="422.5" r="0.7"/><circle cx="462.0" cy="388.2" r="0.7"/><circle cx="511.0" cy="392.5" r="0.9"/><circle cx="477.7" cy="388.3" r="0.7"/><circle cx="503.7" cy="420.5" r="0.7"/><circle cx="475.5" cy="380.4" r="0.8"/><circle cx="488.0" cy="380.5" r="0.7"/><circle cx="492.0" cy="427.7" r="0.6"/><circle cx="494.7" cy="419.1" r="0.5"/><circle cx="465.9" cy="409.0" r="0.8"/><circle cx="483.3" cy="426.2" r="0.5"/><circle cx="489.8" cy="401.4" r="0.7"/><circle cx="483.8" cy="373.0" r="0.7"/><circle cx="468.9" cy="377.8" r="0.7"/><circle cx="510.3" cy="389.1" r="0.8"/><circle cx="467.3" cy="388.4" r="0.6"/><circle cx="474.2" cy="392.7" r="0.8"/><circle cx="487.8" cy="418.4" r="0.7"/><circle cx="514.5" cy="420.5" r="0.8"/><circle cx="516.4" cy="393.5" r="0.8"/><circle cx="464.3" cy="404.3" r="0.9"/><circle cx="502.9" cy="399.6" r="0.9"/><circle cx="500.0" cy="406.3" r="0.6"/><circle cx="465.2" cy="392.4" r="0.7"/><circle cx="511.8" cy="402.4" r="0.8"/><circle cx="509.0" cy="410.3" r="0.8"/><circle cx="498.4" cy="421.5" r="0.8"/><circle cx="505.1" cy="392.5" r="0.5"/><circle cx="505.9" cy="418.8" r="0.9"/></g>
<g fill="#151515"><circle cx="506.6" cy="427.4" r="0.8"/><circle cx="461.4" cy="397.7" r="0.9"/><circle cx="483.9" cy="412.7" r="1.2"/><circle cx="462.1" cy="379.7" r="0.6"/><circle cx="492.0" cy="416.0" r="0.7"/><circle cx="501.5" cy="424.6" r="0.9"/><circle cx="503.3" cy="403.6" r="1.0"/><circle cx="472.4" cy="412.5" r="0.9"/><circle cx="482.4" cy="418.6" r="1.1"/><circle cx="477.0" cy="407.0" r="1.0"/><circle cx="495.6" cy="391.7" r="1.0"/><circle cx="473.1" cy="423.2" r="1.1"/><circle cx="490.0" cy="375.7" r="0.9"/><circle cx="511.0" cy="398.4" r="1.3"/><circle cx="508.2" cy="414.4" r="0.8"/><circle cx="474.2" cy="399.8" r="1.1"/><circle cx="503.2" cy="410.4" r="1.2"/><circle cx="490.4" cy="390.6" r="0.9"/><circle cx="488.7" cy="422.9" r="0.9"/><circle cx="513.5" cy="415.0" r="1.1"/><circle cx="496.0" cy="426.7" r="1.1"/><circle cx="479.3" cy="400.9" r="1.0"/><circle cx="484.1" cy="402.8" r="0.9"/><circle cx="482.3" cy="396.0" r="0.9"/><circle cx="514.2" cy="408.4" r="0.9"/><circle cx="488.5" cy="396.1" r="1.1"/><circle cx="494.8" cy="410.2" r="0.8"/><circle cx="479.4" cy="376.0" r="1.2"/><circle cx="508.0" cy="423.8" r="0.9"/><circle cx="461.1" cy="388.2" r="1.2"/><circle cx="484.0" cy="389.2" r="0.7"/><circle cx="477.2" cy="420.7" r="1.0"/><circle cx="503.0" cy="421.9" r="1.1"/><circle cx="503.1" cy="394.5" r="0.6"/><circle cx="468.6" cy="400.3" r="0.9"/><circle cx="475.7" cy="379.2" r="1.1"/><circle cx="516.2" cy="399.2" r="1.2"/><circle cx="487.6" cy="380.2" r="0.9"/><circle cx="469.2" cy="395.5" r="1.4"/><circle cx="496.2" cy="386.3" r="1.1"/><circle cx="494.1" cy="420.5" r="0.9"/><circle cx="465.4" cy="409.2" r="0.9"/><circle cx="489.1" cy="401.1" r="1.3"/><circle cx="468.9" cy="378.1" r="1.1"/><circle cx="482.0" cy="384.8" r="1.0"/><circle cx="475.4" cy="427.1" r="0.8"/><circle cx="510.2" cy="388.9" r="1.1"/><circle cx="467.5" cy="388.5" r="0.8"/><circle cx="474.5" cy="416.6" r="0.7"/><circle cx="474.8" cy="392.8" r="1.0"/><circle cx="516.8" cy="404.1" r="1.1"/><circle cx="487.2" cy="417.7" r="0.7"/><circle cx="498.9" cy="429.9" r="0.9"/><circle cx="478.4" cy="414.1" r="0.9"/><circle cx="513.8" cy="420.1" r="1.1"/><circle cx="507.6" cy="404.8" r="1.2"/><circle cx="493.2" cy="380.6" r="1.0"/><circle cx="464.4" cy="384.4" r="0.8"/><circle cx="516.2" cy="393.6" r="0.7"/><circle cx="489.9" cy="412.3" r="0.9"/><circle cx="464.9" cy="404.4" r="1.1"/><circle cx="501.8" cy="399.2" r="1.0"/><circle cx="498.6" cy="405.1" r="1.1"/><circle cx="464.9" cy="393.8" r="1.1"/><circle cx="513.0" cy="403.0" r="1.0"/><circle cx="509.0" cy="411.2" r="1.0"/><circle cx="474.4" cy="375.3" r="1.0"/><circle cx="479.3" cy="409.8" r="0.8"/></g>
</g>
<circle cx="490.80" cy="399.6" r="35.7" fill="none" stroke="#1a1a1a" stroke-width="0.9"/>
<rect x="491.20" y="427.90" width="16.10" height="2.40" fill="#000" stroke="none" stroke-width="1"/>
<text x="491.80" y="356.80" font-size="9" text-anchor="middle" fill="#7c9af0">siJAK3-2</text>
<g clip-path="url(#cc7)">
<circle cx="566.45" cy="399.6" r="35.7" fill="#aaaaaa"/>
<rect x="530.8" y="363.9" width="71.4" height="71.4" filter="url(#tx)" opacity="0.25"/>
<g fill="#dedede"><circle cx="532.5" cy="411.6" r="5.0"/><circle cx="564.1" cy="388.0" r="5.3"/><circle cx="548.2" cy="390.1" r="5.3"/><circle cx="587.4" cy="397.6" r="4.9"/><circle cx="546.5" cy="377.1" r="5.5"/><circle cx="571.1" cy="369.7" r="4.9"/><circle cx="571.8" cy="391.7" r="5.3"/><circle cx="582.7" cy="380.0" r="4.6"/><circle cx="539.9" cy="419.6" r="4.7"/><circle cx="548.6" cy="383.9" r="5.5"/><circle cx="547.7" cy="398.7" r="5.2"/><circle cx="541.6" cy="403.3" r="5.2"/><circle cx="536.4" cy="393.3" r="4.6"/><circle cx="571.2" cy="420.2" r="5.0"/><circle cx="558.5" cy="371.5" r="4.7"/><circle cx="576.5" cy="417.3" r="4.8"/><circle cx="589.4" cy="384.2" r="4.6"/><circle cx="581.1" cy="404.6" r="4.8"/><circle cx="553.7" cy="370.2" r="4.9"/><circle cx="566.1" cy="397.5" r="4.7"/><circle cx="543.5" cy="416.0" r="5.4"/><circle cx="536.9" cy="400.4" r="5.6"/><circle cx="593.0" cy="379.7" r="5.2"/><circle cx="535.0" cy="387.9" r="5.6"/><circle cx="567.7" cy="378.3" r="5.4"/><circle cx="583.0" cy="419.7" r="4.7"/><circle cx="547.5" cy="406.0" r="4.8"/><circle cx="555.0" cy="383.9" r="5.0"/><circle cx="573.3" cy="413.5" r="4.9"/><circle cx="588.1" cy="376.5" r="5.3"/><circle cx="575.6" cy="386.0" r="4.9"/><circle cx="575.0" cy="375.6" r="4.9"/><circle cx="594.7" cy="403.0" r="4.6"/><circle cx="542.1" cy="409.5" r="5.1"/><circle cx="580.0" cy="422.7" r="4.6"/><circle cx="579.7" cy="399.2" r="4.6"/><circle cx="542.3" cy="397.6" r="4.9"/><circle cx="564.6" cy="369.3" r="5.1"/><circle cx="593.4" cy="397.7" r="4.6"/><circle cx="599.2" cy="391.6" r="5.0"/><circle cx="560.1" cy="380.8" r="4.8"/><circle cx="548.7" cy="370.2" r="5.0"/><circle cx="554.5" cy="400.7" r="4.7"/><circle cx="553.8" cy="377.2" r="5.5"/><circle cx="538.7" cy="413.9" r="5.0"/><circle cx="570.2" cy="386.2" r="4.6"/><circle cx="577.4" cy="394.9" r="5.4"/><circle cx="531.2" cy="400.4" r="4.7"/><circle cx="532.2" cy="396.4" r="4.8"/><circle cx="588.8" cy="392.5" r="4.7"/><circle cx="583.5" cy="387.7" r="4.5"/><circle cx="560.5" cy="397.8" r="4.9"/><circle cx="548.8" cy="414.0" r="5.1"/><circle cx="582.7" cy="393.5" r="4.9"/><circle cx="593.8" cy="392.6" r="4.6"/><circle cx="542.2" cy="393.0" r="4.6"/><circle cx="557.8" cy="389.1" r="5.2"/><circle cx="536.2" cy="408.5" r="4.8"/><circle cx="595.0" cy="385.7" r="4.9"/><circle cx="543.7" cy="420.7" r="4.5"/><circle cx="541.3" cy="387.0" r="4.7"/><circle cx="574.6" cy="380.8" r="4.6"/><circle cx="590.1" cy="402.6" r="5.0"/><circle cx="532.2" cy="405.3" r="4.6"/><circle cx="553.7" cy="394.3" r="5.1"/><circle cx="565.3" cy="374.1" r="4.6"/><circle cx="575.7" cy="404.5" r="5.4"/><circle cx="579.3" cy="388.9" r="4.9"/><circle cx="560.5" cy="366.9" r="4.8"/><circle cx="580.4" cy="383.9" r="5.2"/><circle cx="560.4" cy="375.6" r="4.9"/><circle cx="568.9" cy="414.6" r="4.7"/><circle cx="580.2" cy="415.7" r="4.5"/><circle cx="590.6" cy="388.7" r="4.5"/><circle cx="535.7" cy="417.4" r="4.8"/><circle cx="570.1" cy="374.0" r="4.5"/><circle cx="586.8" cy="380.9" r="4.5"/><circle cx="574.5" cy="423.2" r="4.7"/><circle cx="566.3" cy="383.6" r="4.6"/><circle cx="599.3" cy="387.1" r="4.5"/><circle cx="550.9" cy="403.4" r="4.6"/></g>
<g fill="#fafafa"><circle cx="532.5" cy="411.6" r="3.7"/><circle cx="564.1" cy="388.0" r="4.0"/><circle cx="548.2" cy="390.1" r="4.0"/><circle cx="587.4" cy="397.6" r="3.6"/><circle cx="546.5" cy="377.1" r="4.2"/><circle cx="571.1" cy="369.7" r="3.6"/><circle cx="571.8" cy="391.7" r="4.0"/><circle cx="582.7" cy="380.0" r="3.3"/><circle cx="539.9" cy="419.6" r="3.4"/><circle cx="548.6" cy="383.9" r="4.2"/><circle cx="547.7" cy="398.7" r="3.9"/><circle cx="541.6" cy="403.3" r="3.9"/><circle cx="536.4" cy="393.3" r="3.3"/><circle cx="571.2" cy="420.2" r="3.7"/><circle cx="558.5" cy="371.5" r="3.4"/><circle cx="576.5" cy="417.3" r="3.5"/><circle cx="589.4" cy="384.2" r="3.3"/><circle cx="581.1" cy="404.6" r="3.5"/><circle cx="553.7" cy="370.2" r="3.6"/><circle cx="566.1" cy="397.5" r="3.4"/><circle cx="543.5" cy="416.0" r="4.1"/><circle cx="536.9" cy="400.4" r="4.3"/><circle cx="593.0" cy="379.7" r="3.9"/><circle cx="535.0" cy="387.9" r="4.3"/><circle cx="567.7" cy="378.3" r="4.1"/><circle cx="583.0" cy="419.7" r="3.4"/><circle cx="547.5" cy="406.0" r="3.5"/><circle cx="555.0" cy="383.9" r="3.7"/><circle cx="573.3" cy="413.5" r="3.6"/><circle cx="588.1" cy="376.5" r="4.0"/><circle cx="575.6" cy="386.0" r="3.6"/><circle cx="575.0" cy="375.6" r="3.6"/><circle cx="594.7" cy="403.0" r="3.3"/><circle cx="542.1" cy="409.5" r="3.8"/><circle cx="580.0" cy="422.7" r="3.3"/><circle cx="579.7" cy="399.2" r="3.3"/><circle cx="542.3" cy="397.6" r="3.6"/><circle cx="564.6" cy="369.3" r="3.8"/><circle cx="593.4" cy="397.7" r="3.3"/><circle cx="599.2" cy="391.6" r="3.7"/><circle cx="560.1" cy="380.8" r="3.5"/><circle cx="548.7" cy="370.2" r="3.7"/><circle cx="554.5" cy="400.7" r="3.4"/><circle cx="553.8" cy="377.2" r="4.2"/><circle cx="538.7" cy="413.9" r="3.7"/><circle cx="570.2" cy="386.2" r="3.3"/><circle cx="577.4" cy="394.9" r="4.1"/><circle cx="531.2" cy="400.4" r="3.4"/><circle cx="532.2" cy="396.4" r="3.5"/><circle cx="588.8" cy="392.5" r="3.4"/><circle cx="583.5" cy="387.7" r="3.2"/><circle cx="560.5" cy="397.8" r="3.6"/><circle cx="548.8" cy="414.0" r="3.8"/><circle cx="582.7" cy="393.5" r="3.6"/><circle cx="593.8" cy="392.6" r="3.3"/><circle cx="542.2" cy="393.0" r="3.3"/><circle cx="557.8" cy="389.1" r="3.9"/><circle cx="536.2" cy="408.5" r="3.5"/><circle cx="595.0" cy="385.7" r="3.6"/><circle cx="543.7" cy="420.7" r="3.2"/><circle cx="541.3" cy="387.0" r="3.4"/><circle cx="574.6" cy="380.8" r="3.3"/><circle cx="590.1" cy="402.6" r="3.7"/><circle cx="532.2" cy="405.3" r="3.3"/><circle cx="553.7" cy="394.3" r="3.8"/><circle cx="565.3" cy="374.1" r="3.3"/><circle cx="575.7" cy="404.5" r="4.1"/><circle cx="579.3" cy="388.9" r="3.6"/><circle cx="560.5" cy="366.9" r="3.5"/><circle cx="580.4" cy="383.9" r="3.9"/><circle cx="560.4" cy="375.6" r="3.6"/><circle cx="568.9" cy="414.6" r="3.4"/><circle cx="580.2" cy="415.7" r="3.2"/><circle cx="590.6" cy="388.7" r="3.2"/><circle cx="535.7" cy="417.4" r="3.5"/><circle cx="570.1" cy="374.0" r="3.2"/><circle cx="586.8" cy="380.9" r="3.2"/><circle cx="574.5" cy="423.2" r="3.4"/><circle cx="566.3" cy="383.6" r="3.3"/><circle cx="599.3" cy="387.1" r="3.2"/><circle cx="550.9" cy="403.4" r="3.3"/></g>
<g fill="#b4b4b4" stroke="#080808" stroke-width="1.3"><circle cx="532.5" cy="411.6" r="2.4"/><circle cx="564.1" cy="388.0" r="2.7"/><circle cx="548.2" cy="390.1" r="2.7"/><circle cx="587.4" cy="397.6" r="2.3"/><circle cx="546.5" cy="377.1" r="2.9"/><circle cx="571.1" cy="369.7" r="2.3"/><circle cx="571.8" cy="391.7" r="2.7"/><circle cx="582.7" cy="380.0" r="2.0"/><circle cx="539.9" cy="419.6" r="2.1"/><circle cx="548.6" cy="383.9" r="2.9"/><circle cx="547.7" cy="398.7" r="2.6"/><circle cx="541.6" cy="403.3" r="2.6"/><circle cx="536.4" cy="393.3" r="2.0"/><circle cx="571.2" cy="420.2" r="2.4"/><circle cx="558.5" cy="371.5" r="2.1"/><circle cx="576.5" cy="417.3" r="2.2"/><circle cx="589.4" cy="384.2" r="2.0"/><circle cx="581.1" cy="404.6" r="2.2"/><circle cx="553.7" cy="370.2" r="2.3"/><circle cx="566.1" cy="397.5" r="2.1"/><circle cx="543.5" cy="416.0" r="2.8"/><circle cx="536.9" cy="400.4" r="3.0"/><circle cx="593.0" cy="379.7" r="2.6"/><circle cx="535.0" cy="387.9" r="3.0"/><circle cx="567.7" cy="378.3" r="2.8"/><circle cx="583.0" cy="419.7" r="2.1"/><circle cx="547.5" cy="406.0" r="2.2"/><circle cx="555.0" cy="383.9" r="2.4"/><circle cx="573.3" cy="413.5" r="2.3"/><circle cx="588.1" cy="376.5" r="2.7"/><circle cx="575.6" cy="386.0" r="2.3"/><circle cx="575.0" cy="375.6" r="2.3"/><circle cx="594.7" cy="403.0" r="2.0"/><circle cx="542.1" cy="409.5" r="2.5"/><circle cx="580.0" cy="422.7" r="2.0"/><circle cx="579.7" cy="399.2" r="2.0"/><circle cx="542.3" cy="397.6" r="2.3"/><circle cx="564.6" cy="369.3" r="2.5"/><circle cx="593.4" cy="397.7" r="2.0"/><circle cx="599.2" cy="391.6" r="2.4"/><circle cx="560.1" cy="380.8" r="2.2"/><circle cx="548.7" cy="370.2" r="2.4"/><circle cx="554.5" cy="400.7" r="2.1"/><circle cx="553.8" cy="377.2" r="2.9"/><circle cx="538.7" cy="413.9" r="2.4"/><circle cx="570.2" cy="386.2" r="2.0"/><circle cx="577.4" cy="394.9" r="2.8"/><circle cx="531.2" cy="400.4" r="2.1"/><circle cx="532.2" cy="396.4" r="2.2"/><circle cx="588.8" cy="392.5" r="2.1"/><circle cx="583.5" cy="387.7" r="1.9"/><circle cx="560.5" cy="397.8" r="2.3"/><circle cx="548.8" cy="414.0" r="2.5"/><circle cx="582.7" cy="393.5" r="2.3"/><circle cx="593.8" cy="392.6" r="2.0"/><circle cx="542.2" cy="393.0" r="2.0"/><circle cx="557.8" cy="389.1" r="2.6"/><circle cx="536.2" cy="408.5" r="2.2"/><circle cx="595.0" cy="385.7" r="2.3"/><circle cx="543.7" cy="420.7" r="1.9"/><circle cx="541.3" cy="387.0" r="2.1"/><circle cx="574.6" cy="380.8" r="2.0"/><circle cx="590.1" cy="402.6" r="2.4"/><circle cx="532.2" cy="405.3" r="2.0"/><circle cx="553.7" cy="394.3" r="2.5"/><circle cx="565.3" cy="374.1" r="2.0"/><circle cx="575.7" cy="404.5" r="2.8"/><circle cx="579.3" cy="388.9" r="2.3"/><circle cx="560.5" cy="366.9" r="2.2"/><circle cx="580.4" cy="383.9" r="2.6"/><circle cx="560.4" cy="375.6" r="2.3"/><circle cx="568.9" cy="414.6" r="2.1"/><circle cx="580.2" cy="415.7" r="1.9"/><circle cx="590.6" cy="388.7" r="1.9"/><circle cx="535.7" cy="417.4" r="2.2"/><circle cx="570.1" cy="374.0" r="1.9"/><circle cx="586.8" cy="380.9" r="1.9"/><circle cx="574.5" cy="423.2" r="2.1"/><circle cx="566.3" cy="383.6" r="2.0"/><circle cx="599.3" cy="387.1" r="1.9"/><circle cx="550.9" cy="403.4" r="2.0"/></g>
<g fill="#f0f0f0"><circle cx="531.6" cy="411.3" r="0.8"/><circle cx="547.0" cy="377.2" r="0.8"/><circle cx="582.8" cy="379.9" r="0.7"/><circle cx="539.1" cy="420.5" r="0.7"/><circle cx="548.5" cy="398.8" r="0.8"/><circle cx="535.5" cy="392.5" r="0.8"/><circle cx="570.3" cy="420.9" r="0.7"/><circle cx="588.5" cy="383.5" r="0.6"/><circle cx="553.0" cy="370.9" r="0.9"/><circle cx="566.7" cy="398.3" r="0.5"/><circle cx="534.9" cy="388.1" r="0.8"/><circle cx="583.9" cy="419.5" r="0.5"/><circle cx="575.4" cy="374.7" r="0.5"/><circle cx="542.8" cy="409.7" r="0.8"/><circle cx="580.9" cy="422.1" r="0.7"/><circle cx="579.1" cy="400.1" r="0.7"/><circle cx="542.8" cy="397.3" r="0.8"/><circle cx="594.1" cy="397.1" r="0.5"/><circle cx="598.7" cy="391.5" r="0.7"/><circle cx="559.9" cy="381.2" r="0.8"/><circle cx="553.6" cy="400.5" r="0.8"/><circle cx="553.7" cy="376.2" r="0.8"/><circle cx="570.1" cy="385.4" r="0.7"/><circle cx="589.3" cy="392.3" r="0.6"/><circle cx="560.8" cy="396.8" r="0.5"/><circle cx="547.9" cy="414.6" r="0.8"/><circle cx="541.7" cy="393.9" r="0.9"/><circle cx="558.5" cy="388.6" r="0.8"/><circle cx="535.2" cy="408.7" r="0.8"/><circle cx="543.8" cy="421.7" r="0.7"/><circle cx="541.0" cy="387.8" r="0.7"/><circle cx="590.8" cy="402.8" r="0.8"/><circle cx="532.9" cy="405.2" r="0.9"/><circle cx="554.1" cy="394.0" r="0.8"/><circle cx="565.4" cy="374.0" r="0.8"/><circle cx="575.2" cy="404.5" r="0.8"/><circle cx="579.2" cy="388.2" r="0.8"/><circle cx="559.6" cy="367.1" r="0.8"/><circle cx="579.5" cy="384.3" r="0.9"/><circle cx="568.6" cy="414.1" r="0.5"/><circle cx="579.4" cy="414.9" r="0.8"/><circle cx="591.6" cy="389.6" r="0.5"/><circle cx="565.5" cy="384.0" r="0.8"/><circle cx="599.1" cy="387.1" r="0.7"/></g>
<g fill="#151515"><circle cx="564.3" cy="387.3" r="0.9"/><circle cx="547.7" cy="390.2" r="1.1"/><circle cx="588.1" cy="397.8" r="0.9"/><circle cx="545.8" cy="376.4" r="1.1"/><circle cx="571.3" cy="392.0" r="0.9"/><circle cx="539.5" cy="418.9" r="0.7"/><circle cx="549.3" cy="383.5" r="1.5"/><circle cx="541.4" cy="403.1" r="0.9"/><circle cx="536.1" cy="392.9" r="0.8"/><circle cx="571.3" cy="419.7" r="0.9"/><circle cx="558.2" cy="370.7" r="1.0"/><circle cx="553.1" cy="370.9" r="0.9"/><circle cx="566.5" cy="397.4" r="0.8"/><circle cx="542.8" cy="416.1" r="1.1"/><circle cx="593.5" cy="379.9" r="1.1"/><circle cx="568.0" cy="377.9" r="1.2"/><circle cx="583.0" cy="420.3" r="1.1"/><circle cx="573.6" cy="413.0" r="0.8"/><circle cx="587.5" cy="376.4" r="1.1"/><circle cx="575.2" cy="386.2" r="1.2"/><circle cx="574.8" cy="374.8" r="1.0"/><circle cx="594.8" cy="402.3" r="0.9"/><circle cx="541.3" cy="410.1" r="1.2"/><circle cx="580.2" cy="398.8" r="0.8"/><circle cx="541.8" cy="397.5" r="1.1"/><circle cx="565.0" cy="369.0" r="1.3"/><circle cx="593.8" cy="397.7" r="0.8"/><circle cx="598.5" cy="390.9" r="0.9"/><circle cx="560.3" cy="380.7" r="0.7"/><circle cx="549.1" cy="370.0" r="1.0"/><circle cx="553.8" cy="400.7" r="0.8"/><circle cx="539.4" cy="413.6" r="0.9"/><circle cx="578.1" cy="395.1" r="1.5"/><circle cx="531.5" cy="400.8" r="1.1"/><circle cx="532.6" cy="396.7" r="0.7"/><circle cx="583.1" cy="387.1" r="0.8"/><circle cx="560.9" cy="397.5" r="1.1"/><circle cx="548.2" cy="414.0" r="1.3"/><circle cx="583.2" cy="393.2" r="1.0"/><circle cx="542.8" cy="393.3" r="0.8"/><circle cx="557.5" cy="389.5" r="1.2"/><circle cx="535.8" cy="409.1" r="1.2"/><circle cx="543.0" cy="421.4" r="1.0"/><circle cx="540.9" cy="387.6" r="1.1"/><circle cx="574.3" cy="381.0" r="1.0"/><circle cx="531.9" cy="404.5" r="0.7"/><circle cx="553.2" cy="393.6" r="1.2"/><circle cx="564.7" cy="374.0" r="1.1"/><circle cx="579.4" cy="388.5" r="1.1"/><circle cx="559.8" cy="367.6" r="1.2"/><circle cx="580.4" cy="383.1" r="1.0"/><circle cx="561.0" cy="375.6" r="1.0"/><circle cx="569.1" cy="415.1" r="1.0"/><circle cx="579.7" cy="415.9" r="0.8"/><circle cx="590.4" cy="389.5" r="0.9"/><circle cx="570.6" cy="374.4" r="1.1"/><circle cx="587.4" cy="380.5" r="0.9"/><circle cx="574.3" cy="423.9" r="1.0"/><circle cx="566.7" cy="383.0" r="0.8"/><circle cx="551.1" cy="403.6" r="0.8"/></g>
</g>
<circle cx="566.45" cy="399.6" r="35.7" fill="none" stroke="#1a1a1a" stroke-width="0.9"/>
<rect x="566.85" y="427.90" width="16.10" height="2.40" fill="#000" stroke="none" stroke-width="1"/>
<text x="567.45" y="356.80" font-size="9" text-anchor="middle" fill="#76c4cc">siTYK2-1</text>
<g clip-path="url(#cc8)">
<circle cx="642.10" cy="399.6" r="35.7" fill="#aaaaaa"/>
<rect x="606.4" y="363.9" width="71.4" height="71.4" filter="url(#tx)" opacity="0.25"/>
<g fill="#dedede"><circle cx="638.4" cy="425.6" r="5.2"/><circle cx="627.1" cy="412.1" r="5.0"/><circle cx="630.9" cy="433.0" r="4.7"/><circle cx="636.9" cy="398.6" r="4.5"/><circle cx="609.0" cy="388.6" r="5.3"/><circle cx="613.2" cy="408.5" r="4.6"/><circle cx="631.6" cy="417.5" r="4.7"/><circle cx="641.2" cy="417.8" r="4.9"/><circle cx="624.9" cy="419.3" r="5.5"/><circle cx="643.8" cy="433.2" r="4.6"/><circle cx="625.9" cy="392.1" r="5.3"/><circle cx="655.1" cy="384.3" r="4.8"/><circle cx="615.7" cy="382.5" r="5.1"/><circle cx="660.5" cy="375.4" r="5.0"/><circle cx="630.7" cy="406.8" r="5.6"/><circle cx="617.3" cy="416.9" r="4.6"/><circle cx="638.2" cy="379.7" r="5.3"/><circle cx="668.0" cy="423.4" r="4.7"/><circle cx="651.1" cy="381.4" r="4.9"/><circle cx="669.2" cy="382.7" r="5.2"/><circle cx="643.2" cy="378.2" r="4.8"/><circle cx="661.0" cy="383.8" r="5.1"/><circle cx="607.4" cy="409.5" r="4.8"/><circle cx="662.1" cy="425.4" r="5.1"/><circle cx="658.6" cy="402.0" r="5.1"/><circle cx="652.7" cy="430.9" r="5.0"/><circle cx="634.4" cy="385.3" r="4.6"/><circle cx="675.7" cy="405.4" r="5.0"/><circle cx="618.9" cy="411.2" r="4.6"/><circle cx="661.8" cy="398.8" r="4.6"/><circle cx="677.1" cy="409.5" r="4.6"/><circle cx="635.6" cy="410.6" r="4.9"/><circle cx="656.9" cy="417.3" r="4.9"/><circle cx="648.9" cy="409.1" r="4.5"/><circle cx="671.8" cy="413.3" r="5.1"/><circle cx="652.8" cy="414.0" r="5.5"/><circle cx="677.7" cy="397.4" r="5.2"/><circle cx="618.4" cy="400.9" r="5.3"/><circle cx="632.6" cy="394.9" r="5.2"/><circle cx="657.5" cy="396.7" r="5.5"/><circle cx="624.3" cy="406.8" r="5.5"/><circle cx="637.2" cy="394.2" r="4.5"/><circle cx="677.6" cy="390.4" r="5.6"/><circle cx="656.6" cy="410.2" r="5.1"/><circle cx="647.5" cy="430.3" r="5.4"/><circle cx="612.9" cy="421.7" r="5.3"/><circle cx="625.2" cy="398.9" r="4.9"/><circle cx="664.9" cy="372.3" r="4.7"/><circle cx="655.2" cy="389.5" r="5.4"/><circle cx="629.9" cy="424.7" r="4.8"/><circle cx="649.7" cy="397.1" r="4.9"/><circle cx="661.8" cy="415.1" r="4.8"/><circle cx="634.2" cy="401.6" r="4.6"/><circle cx="635.4" cy="429.6" r="4.6"/><circle cx="624.4" cy="429.2" r="5.0"/><circle cx="610.8" cy="400.1" r="5.2"/><circle cx="619.7" cy="395.9" r="4.9"/><circle cx="611.2" cy="414.7" r="5.0"/><circle cx="672.2" cy="418.7" r="5.4"/><circle cx="670.4" cy="376.8" r="5.2"/><circle cx="646.8" cy="391.8" r="4.5"/><circle cx="644.8" cy="399.6" r="4.6"/><circle cx="661.9" cy="391.4" r="4.6"/><circle cx="607.3" cy="393.6" r="4.8"/><circle cx="641.1" cy="389.5" r="5.4"/><circle cx="654.7" cy="377.3" r="5.3"/><circle cx="666.7" cy="408.7" r="5.5"/><circle cx="651.9" cy="426.1" r="4.9"/><circle cx="648.1" cy="423.3" r="5.0"/><circle cx="619.1" cy="426.0" r="5.2"/><circle cx="664.7" cy="404.1" r="4.7"/><circle cx="646.5" cy="418.2" r="4.7"/><circle cx="614.6" cy="387.8" r="5.1"/><circle cx="611.7" cy="392.8" r="4.8"/><circle cx="664.2" cy="380.3" r="4.7"/><circle cx="644.8" cy="383.1" r="5.5"/><circle cx="672.3" cy="386.8" r="5.0"/><circle cx="641.2" cy="406.0" r="5.4"/><circle cx="654.6" cy="421.3" r="4.8"/><circle cx="629.9" cy="401.9" r="4.6"/><circle cx="637.0" cy="415.6" r="4.8"/><circle cx="637.2" cy="435.1" r="4.7"/><circle cx="666.9" cy="419.0" r="5.0"/><circle cx="644.2" cy="412.7" r="5.6"/><circle cx="632.3" cy="389.4" r="4.7"/><circle cx="657.7" cy="427.8" r="4.9"/><circle cx="643.5" cy="394.5" r="5.0"/><circle cx="648.0" cy="376.5" r="5.2"/><circle cx="634.1" cy="423.7" r="4.6"/><circle cx="660.9" cy="430.7" r="4.7"/><circle cx="611.9" cy="379.2" r="4.7"/><circle cx="616.8" cy="392.2" r="4.6"/><circle cx="662.6" cy="420.3" r="4.5"/><circle cx="649.8" cy="387.6" r="5.4"/><circle cx="607.0" cy="404.1" r="4.6"/><circle cx="609.2" cy="383.5" r="5.0"/><circle cx="621.3" cy="389.5" r="4.8"/><circle cx="622.8" cy="414.8" r="4.7"/><circle cx="639.5" cy="384.3" r="4.7"/><circle cx="647.9" cy="435.2" r="4.7"/><circle cx="639.7" cy="429.9" r="4.5"/><circle cx="643.6" cy="424.0" r="4.7"/><circle cx="624.0" cy="424.6" r="4.6"/><circle cx="632.0" cy="413.0" r="4.7"/><circle cx="618.0" cy="406.9" r="4.7"/><circle cx="614.6" cy="396.2" r="4.8"/><circle cx="639.5" cy="401.5" r="4.7"/><circle cx="619.7" cy="420.9" r="4.6"/><circle cx="651.0" cy="419.0" r="4.6"/><circle cx="650.8" cy="393.0" r="4.6"/></g>
<g fill="#fafafa"><circle cx="638.4" cy="425.6" r="3.9"/><circle cx="627.1" cy="412.1" r="3.7"/><circle cx="630.9" cy="433.0" r="3.4"/><circle cx="636.9" cy="398.6" r="3.2"/><circle cx="609.0" cy="388.6" r="4.0"/><circle cx="613.2" cy="408.5" r="3.3"/><circle cx="631.6" cy="417.5" r="3.4"/><circle cx="641.2" cy="417.8" r="3.6"/><circle cx="624.9" cy="419.3" r="4.2"/><circle cx="643.8" cy="433.2" r="3.3"/><circle cx="625.9" cy="392.1" r="4.0"/><circle cx="655.1" cy="384.3" r="3.5"/><circle cx="615.7" cy="382.5" r="3.8"/><circle cx="660.5" cy="375.4" r="3.7"/><circle cx="630.7" cy="406.8" r="4.3"/><circle cx="617.3" cy="416.9" r="3.3"/><circle cx="638.2" cy="379.7" r="4.0"/><circle cx="668.0" cy="423.4" r="3.4"/><circle cx="651.1" cy="381.4" r="3.6"/><circle cx="669.2" cy="382.7" r="3.9"/><circle cx="643.2" cy="378.2" r="3.5"/><circle cx="661.0" cy="383.8" r="3.8"/><circle cx="607.4" cy="409.5" r="3.5"/><circle cx="662.1" cy="425.4" r="3.8"/><circle cx="658.6" cy="402.0" r="3.8"/><circle cx="652.7" cy="430.9" r="3.7"/><circle cx="634.4" cy="385.3" r="3.3"/><circle cx="675.7" cy="405.4" r="3.7"/><circle cx="618.9" cy="411.2" r="3.3"/><circle cx="661.8" cy="398.8" r="3.3"/><circle cx="677.1" cy="409.5" r="3.3"/><circle cx="635.6" cy="410.6" r="3.6"/><circle cx="656.9" cy="417.3" r="3.6"/><circle cx="648.9" cy="409.1" r="3.2"/><circle cx="671.8" cy="413.3" r="3.8"/><circle cx="652.8" cy="414.0" r="4.2"/><circle cx="677.7" cy="397.4" r="3.9"/><circle cx="618.4" cy="400.9" r="4.0"/><circle cx="632.6" cy="394.9" r="3.9"/><circle cx="657.5" cy="396.7" r="4.2"/><circle cx="624.3" cy="406.8" r="4.2"/><circle cx="637.2" cy="394.2" r="3.2"/><circle cx="677.6" cy="390.4" r="4.3"/><circle cx="656.6" cy="410.2" r="3.8"/><circle cx="647.5" cy="430.3" r="4.1"/><circle cx="612.9" cy="421.7" r="4.0"/><circle cx="625.2" cy="398.9" r="3.6"/><circle cx="664.9" cy="372.3" r="3.4"/><circle cx="655.2" cy="389.5" r="4.1"/><circle cx="629.9" cy="424.7" r="3.5"/><circle cx="649.7" cy="397.1" r="3.6"/><circle cx="661.8" cy="415.1" r="3.5"/><circle cx="634.2" cy="401.6" r="3.3"/><circle cx="635.4" cy="429.6" r="3.3"/><circle cx="624.4" cy="429.2" r="3.7"/><circle cx="610.8" cy="400.1" r="3.9"/><circle cx="619.7" cy="395.9" r="3.6"/><circle cx="611.2" cy="414.7" r="3.7"/><circle cx="672.2" cy="418.7" r="4.1"/><circle cx="670.4" cy="376.8" r="3.9"/><circle cx="646.8" cy="391.8" r="3.2"/><circle cx="644.8" cy="399.6" r="3.3"/><circle cx="661.9" cy="391.4" r="3.3"/><circle cx="607.3" cy="393.6" r="3.5"/><circle cx="641.1" cy="389.5" r="4.1"/><circle cx="654.7" cy="377.3" r="4.0"/><circle cx="666.7" cy="408.7" r="4.2"/><circle cx="651.9" cy="426.1" r="3.6"/><circle cx="648.1" cy="423.3" r="3.7"/><circle cx="619.1" cy="426.0" r="3.9"/><circle cx="664.7" cy="404.1" r="3.4"/><circle cx="646.5" cy="418.2" r="3.4"/><circle cx="614.6" cy="387.8" r="3.8"/><circle cx="611.7" cy="392.8" r="3.5"/><circle cx="664.2" cy="380.3" r="3.4"/><circle cx="644.8" cy="383.1" r="4.2"/><circle cx="672.3" cy="386.8" r="3.7"/><circle cx="641.2" cy="406.0" r="4.1"/><circle cx="654.6" cy="421.3" r="3.5"/><circle cx="629.9" cy="401.9" r="3.3"/><circle cx="637.0" cy="415.6" r="3.5"/><circle cx="637.2" cy="435.1" r="3.4"/><circle cx="666.9" cy="419.0" r="3.7"/><circle cx="644.2" cy="412.7" r="4.3"/><circle cx="632.3" cy="389.4" r="3.4"/><circle cx="657.7" cy="427.8" r="3.6"/><circle cx="643.5" cy="394.5" r="3.7"/><circle cx="648.0" cy="376.5" r="3.9"/><circle cx="634.1" cy="423.7" r="3.3"/><circle cx="660.9" cy="430.7" r="3.4"/><circle cx="611.9" cy="379.2" r="3.4"/><circle cx="616.8" cy="392.2" r="3.3"/><circle cx="662.6" cy="420.3" r="3.2"/><circle cx="649.8" cy="387.6" r="4.1"/><circle cx="607.0" cy="404.1" r="3.3"/><circle cx="609.2" cy="383.5" r="3.7"/><circle cx="621.3" cy="389.5" r="3.5"/><circle cx="622.8" cy="414.8" r="3.4"/><circle cx="639.5" cy="384.3" r="3.4"/><circle cx="647.9" cy="435.2" r="3.4"/><circle cx="639.7" cy="429.9" r="3.2"/><circle cx="643.6" cy="424.0" r="3.4"/><circle cx="624.0" cy="424.6" r="3.3"/><circle cx="632.0" cy="413.0" r="3.4"/><circle cx="618.0" cy="406.9" r="3.4"/><circle cx="614.6" cy="396.2" r="3.5"/><circle cx="639.5" cy="401.5" r="3.4"/><circle cx="619.7" cy="420.9" r="3.3"/><circle cx="651.0" cy="419.0" r="3.3"/><circle cx="650.8" cy="393.0" r="3.3"/></g>
<g fill="#b4b4b4" stroke="#080808" stroke-width="1.3"><circle cx="638.4" cy="425.6" r="2.6"/><circle cx="627.1" cy="412.1" r="2.4"/><circle cx="630.9" cy="433.0" r="2.1"/><circle cx="636.9" cy="398.6" r="1.9"/><circle cx="609.0" cy="388.6" r="2.7"/><circle cx="613.2" cy="408.5" r="2.0"/><circle cx="631.6" cy="417.5" r="2.1"/><circle cx="641.2" cy="417.8" r="2.3"/><circle cx="624.9" cy="419.3" r="2.9"/><circle cx="643.8" cy="433.2" r="2.0"/><circle cx="625.9" cy="392.1" r="2.7"/><circle cx="655.1" cy="384.3" r="2.2"/><circle cx="615.7" cy="382.5" r="2.5"/><circle cx="660.5" cy="375.4" r="2.4"/><circle cx="630.7" cy="406.8" r="3.0"/><circle cx="617.3" cy="416.9" r="2.0"/><circle cx="638.2" cy="379.7" r="2.7"/><circle cx="668.0" cy="423.4" r="2.1"/><circle cx="651.1" cy="381.4" r="2.3"/><circle cx="669.2" cy="382.7" r="2.6"/><circle cx="643.2" cy="378.2" r="2.2"/><circle cx="661.0" cy="383.8" r="2.5"/><circle cx="607.4" cy="409.5" r="2.2"/><circle cx="662.1" cy="425.4" r="2.5"/><circle cx="658.6" cy="402.0" r="2.5"/><circle cx="652.7" cy="430.9" r="2.4"/><circle cx="634.4" cy="385.3" r="2.0"/><circle cx="675.7" cy="405.4" r="2.4"/><circle cx="618.9" cy="411.2" r="2.0"/><circle cx="661.8" cy="398.8" r="2.0"/><circle cx="677.1" cy="409.5" r="2.0"/><circle cx="635.6" cy="410.6" r="2.3"/><circle cx="656.9" cy="417.3" r="2.3"/><circle cx="648.9" cy="409.1" r="1.9"/><circle cx="671.8" cy="413.3" r="2.5"/><circle cx="652.8" cy="414.0" r="2.9"/><circle cx="677.7" cy="397.4" r="2.6"/><circle cx="618.4" cy="400.9" r="2.7"/><circle cx="632.6" cy="394.9" r="2.6"/><circle cx="657.5" cy="396.7" r="2.9"/><circle cx="624.3" cy="406.8" r="2.9"/><circle cx="637.2" cy="394.2" r="1.9"/><circle cx="677.6" cy="390.4" r="3.0"/><circle cx="656.6" cy="410.2" r="2.5"/><circle cx="647.5" cy="430.3" r="2.8"/><circle cx="612.9" cy="421.7" r="2.7"/><circle cx="625.2" cy="398.9" r="2.3"/><circle cx="664.9" cy="372.3" r="2.1"/><circle cx="655.2" cy="389.5" r="2.8"/><circle cx="629.9" cy="424.7" r="2.2"/><circle cx="649.7" cy="397.1" r="2.3"/><circle cx="661.8" cy="415.1" r="2.2"/><circle cx="634.2" cy="401.6" r="2.0"/><circle cx="635.4" cy="429.6" r="2.0"/><circle cx="624.4" cy="429.2" r="2.4"/><circle cx="610.8" cy="400.1" r="2.6"/><circle cx="619.7" cy="395.9" r="2.3"/><circle cx="611.2" cy="414.7" r="2.4"/><circle cx="672.2" cy="418.7" r="2.8"/><circle cx="670.4" cy="376.8" r="2.6"/><circle cx="646.8" cy="391.8" r="1.9"/><circle cx="644.8" cy="399.6" r="2.0"/><circle cx="661.9" cy="391.4" r="2.0"/><circle cx="607.3" cy="393.6" r="2.2"/><circle cx="641.1" cy="389.5" r="2.8"/><circle cx="654.7" cy="377.3" r="2.7"/><circle cx="666.7" cy="408.7" r="2.9"/><circle cx="651.9" cy="426.1" r="2.3"/><circle cx="648.1" cy="423.3" r="2.4"/><circle cx="619.1" cy="426.0" r="2.6"/><circle cx="664.7" cy="404.1" r="2.1"/><circle cx="646.5" cy="418.2" r="2.1"/><circle cx="614.6" cy="387.8" r="2.5"/><circle cx="611.7" cy="392.8" r="2.2"/><circle cx="664.2" cy="380.3" r="2.1"/><circle cx="644.8" cy="383.1" r="2.9"/><circle cx="672.3" cy="386.8" r="2.4"/><circle cx="641.2" cy="406.0" r="2.8"/><circle cx="654.6" cy="421.3" r="2.2"/><circle cx="629.9" cy="401.9" r="2.0"/><circle cx="637.0" cy="415.6" r="2.2"/><circle cx="637.2" cy="435.1" r="2.1"/><circle cx="666.9" cy="419.0" r="2.4"/><circle cx="644.2" cy="412.7" r="3.0"/><circle cx="632.3" cy="389.4" r="2.1"/><circle cx="657.7" cy="427.8" r="2.3"/><circle cx="643.5" cy="394.5" r="2.4"/><circle cx="648.0" cy="376.5" r="2.6"/><circle cx="634.1" cy="423.7" r="2.0"/><circle cx="660.9" cy="430.7" r="2.1"/><circle cx="611.9" cy="379.2" r="2.1"/><circle cx="616.8" cy="392.2" r="2.0"/><circle cx="662.6" cy="420.3" r="1.9"/><circle cx="649.8" cy="387.6" r="2.8"/><circle cx="607.0" cy="404.1" r="2.0"/><circle cx="609.2" cy="383.5" r="2.4"/><circle cx="621.3" cy="389.5" r="2.2"/><circle cx="622.8" cy="414.8" r="2.1"/><circle cx="639.5" cy="384.3" r="2.1"/><circle cx="647.9" cy="435.2" r="2.1"/><circle cx="639.7" cy="429.9" r="1.9"/><circle cx="643.6" cy="424.0" r="2.1"/><circle cx="624.0" cy="424.6" r="2.0"/><circle cx="632.0" cy="413.0" r="2.1"/><circle cx="618.0" cy="406.9" r="2.1"/><circle cx="614.6" cy="396.2" r="2.2"/><circle cx="639.5" cy="401.5" r="2.1"/><circle cx="619.7" cy="420.9" r="2.0"/><circle cx="651.0" cy="419.0" r="2.0"/><circle cx="650.8" cy="393.0" r="2.0"/></g>
<g fill="#f0f0f0"><circle cx="627.0" cy="412.0" r="0.8"/><circle cx="612.7" cy="409.1" r="0.6"/><circle cx="640.7" cy="418.8" r="0.8"/><circle cx="624.8" cy="419.2" r="0.6"/><circle cx="643.8" cy="433.2" r="0.5"/><circle cx="655.3" cy="384.8" r="0.6"/><circle cx="615.3" cy="382.2" r="0.8"/><circle cx="631.0" cy="407.7" r="0.6"/><circle cx="651.8" cy="380.4" r="0.7"/><circle cx="669.0" cy="381.8" r="0.7"/><circle cx="662.1" cy="426.3" r="0.6"/><circle cx="659.0" cy="402.0" r="0.7"/><circle cx="675.9" cy="406.3" r="0.8"/><circle cx="618.8" cy="411.7" r="0.7"/><circle cx="662.0" cy="398.9" r="0.7"/><circle cx="677.6" cy="410.0" r="0.7"/><circle cx="648.6" cy="409.2" r="0.5"/><circle cx="672.4" cy="412.4" r="0.6"/><circle cx="677.9" cy="398.3" r="0.9"/><circle cx="618.7" cy="401.6" r="0.8"/><circle cx="632.8" cy="394.5" r="0.5"/><circle cx="677.4" cy="389.4" r="0.5"/><circle cx="648.3" cy="430.2" r="0.7"/><circle cx="655.1" cy="389.3" r="0.7"/><circle cx="630.4" cy="425.0" r="0.6"/><circle cx="649.7" cy="397.5" r="0.7"/><circle cx="661.6" cy="415.3" r="0.7"/><circle cx="633.6" cy="402.3" r="0.6"/><circle cx="618.8" cy="395.8" r="0.7"/><circle cx="671.8" cy="418.1" r="0.7"/><circle cx="661.4" cy="391.6" r="0.5"/><circle cx="608.2" cy="392.9" r="0.6"/><circle cx="655.6" cy="377.9" r="0.7"/><circle cx="647.3" cy="422.4" r="0.6"/><circle cx="664.8" cy="404.9" r="0.8"/><circle cx="611.1" cy="391.9" r="0.6"/><circle cx="645.6" cy="382.2" r="0.6"/><circle cx="671.8" cy="387.2" r="0.8"/><circle cx="655.0" cy="422.2" r="0.6"/><circle cx="629.7" cy="400.9" r="0.8"/><circle cx="637.7" cy="416.1" r="0.7"/><circle cx="638.1" cy="435.0" r="0.7"/><circle cx="666.4" cy="419.9" r="0.9"/><circle cx="644.2" cy="412.6" r="0.8"/><circle cx="656.9" cy="427.1" r="0.6"/><circle cx="648.9" cy="375.5" r="0.7"/><circle cx="633.5" cy="424.1" r="0.8"/><circle cx="612.0" cy="378.2" r="0.8"/><circle cx="663.0" cy="420.5" r="0.8"/><circle cx="650.1" cy="387.2" r="0.6"/><circle cx="608.5" cy="384.5" r="0.8"/><circle cx="620.5" cy="389.9" r="0.8"/><circle cx="639.8" cy="385.2" r="0.7"/><circle cx="647.3" cy="435.5" r="0.9"/><circle cx="640.5" cy="430.7" r="0.5"/><circle cx="618.0" cy="407.1" r="0.6"/><circle cx="614.5" cy="396.2" r="0.8"/><circle cx="639.3" cy="401.1" r="0.5"/><circle cx="619.0" cy="421.7" r="0.9"/><circle cx="651.7" cy="392.0" r="0.7"/></g>
<g fill="#151515"><circle cx="638.8" cy="425.1" r="1.1"/><circle cx="627.9" cy="412.5" r="1.2"/><circle cx="630.6" cy="432.2" r="1.1"/><circle cx="612.8" cy="407.9" r="0.6"/><circle cx="631.6" cy="417.5" r="0.9"/><circle cx="640.7" cy="418.2" r="1.2"/><circle cx="625.1" cy="419.8" r="1.3"/><circle cx="644.0" cy="433.4" r="1.1"/><circle cx="626.2" cy="392.5" r="1.3"/><circle cx="655.9" cy="384.4" r="0.8"/><circle cx="615.3" cy="381.8" r="0.8"/><circle cx="630.0" cy="406.5" r="1.2"/><circle cx="617.8" cy="417.5" r="1.0"/><circle cx="639.0" cy="380.0" r="1.1"/><circle cx="668.0" cy="422.6" r="1.0"/><circle cx="651.6" cy="380.8" r="1.3"/><circle cx="669.8" cy="383.2" r="1.0"/><circle cx="643.5" cy="378.0" r="1.1"/><circle cx="660.9" cy="383.8" r="1.2"/><circle cx="607.4" cy="408.7" r="1.0"/><circle cx="662.2" cy="425.9" r="1.2"/><circle cx="658.9" cy="402.4" r="0.9"/><circle cx="653.3" cy="431.6" r="0.8"/><circle cx="634.2" cy="385.9" r="1.0"/><circle cx="675.7" cy="405.9" r="0.7"/><circle cx="618.4" cy="410.4" r="0.8"/><circle cx="661.3" cy="399.5" r="0.6"/><circle cx="677.2" cy="410.1" r="0.6"/><circle cx="636.2" cy="410.9" r="0.7"/><circle cx="657.5" cy="417.4" r="0.9"/><circle cx="649.5" cy="409.7" r="0.6"/><circle cx="672.4" cy="412.7" r="1.0"/><circle cx="652.3" cy="413.8" r="1.0"/><circle cx="678.0" cy="397.0" r="1.2"/><circle cx="632.7" cy="395.6" r="1.3"/><circle cx="657.4" cy="396.7" r="1.0"/><circle cx="624.7" cy="406.2" r="1.2"/><circle cx="637.9" cy="395.0" r="0.9"/><circle cx="656.1" cy="409.9" r="1.3"/><circle cx="647.3" cy="429.9" r="1.3"/><circle cx="613.4" cy="421.6" r="0.9"/><circle cx="625.4" cy="399.6" r="1.2"/><circle cx="665.6" cy="372.1" r="0.7"/><circle cx="655.1" cy="390.1" r="1.0"/><circle cx="650.0" cy="396.3" r="0.9"/><circle cx="661.4" cy="414.9" r="1.0"/><circle cx="635.2" cy="429.2" r="0.8"/><circle cx="623.9" cy="429.0" r="1.2"/><circle cx="619.5" cy="396.2" r="0.7"/><circle cx="669.7" cy="376.8" r="0.8"/><circle cx="646.8" cy="391.3" r="0.7"/><circle cx="644.9" cy="398.9" r="0.7"/><circle cx="607.0" cy="393.6" r="0.7"/><circle cx="640.5" cy="389.5" r="1.3"/><circle cx="654.5" cy="378.1" r="1.2"/><circle cx="666.5" cy="408.2" r="1.2"/><circle cx="652.3" cy="425.4" r="0.7"/><circle cx="648.1" cy="422.8" r="1.2"/><circle cx="664.6" cy="404.9" r="1.0"/><circle cx="646.9" cy="418.4" r="0.9"/><circle cx="663.8" cy="380.2" r="0.8"/><circle cx="645.0" cy="382.6" r="1.3"/><circle cx="672.9" cy="387.3" r="1.1"/><circle cx="641.3" cy="405.5" r="1.5"/><circle cx="655.3" cy="421.5" r="1.2"/><circle cx="629.9" cy="402.2" r="0.6"/><circle cx="636.6" cy="435.7" r="1.2"/><circle cx="666.1" cy="418.3" r="0.8"/><circle cx="643.5" cy="412.6" r="1.4"/><circle cx="631.7" cy="389.2" r="1.1"/><circle cx="647.8" cy="376.1" r="0.8"/><circle cx="634.2" cy="424.4" r="0.7"/><circle cx="661.5" cy="430.2" r="1.0"/><circle cx="612.2" cy="378.9" r="0.9"/><circle cx="662.1" cy="421.1" r="0.8"/><circle cx="649.1" cy="387.8" r="1.5"/><circle cx="607.6" cy="404.3" r="0.8"/><circle cx="609.5" cy="383.4" r="1.0"/><circle cx="622.1" cy="389.0" r="0.9"/><circle cx="639.9" cy="384.0" r="0.9"/><circle cx="648.7" cy="434.9" r="1.0"/><circle cx="640.5" cy="429.4" r="0.6"/><circle cx="624.6" cy="423.9" r="0.9"/><circle cx="631.4" cy="413.8" r="0.8"/><circle cx="618.3" cy="407.4" r="1.1"/><circle cx="614.5" cy="397.0" r="1.1"/><circle cx="639.2" cy="401.7" r="0.9"/><circle cx="619.8" cy="421.6" r="1.0"/><circle cx="651.6" cy="418.7" r="1.0"/><circle cx="651.2" cy="392.7" r="0.8"/></g>
</g>
<circle cx="642.10" cy="399.6" r="35.7" fill="none" stroke="#1a1a1a" stroke-width="0.9"/>
<rect x="642.50" y="427.90" width="16.10" height="2.40" fill="#000" stroke="none" stroke-width="1"/>
<text x="643.10" y="356.80" font-size="9" text-anchor="middle" fill="#f08462">siTYK2-1</text>
<defs><clipPath id="dc0"><circle cx="38.60" cy="681.9" r="35.7"/></clipPath></defs>
<g clip-path="url(#dc0)">
<circle cx="38.60" cy="681.9" r="35.7" fill="#9e9e9e"/>
<rect x="2.90" y="646.20" width="71.4" height="71.4" filter="url(#tx)" opacity="0.95"/>
<rect x="2.90" y="646.20" width="71.4" height="71.4" filter="url(#tx2)" opacity="0.7"/>
<path d="M-1.6 679.0Q-1.7 686.3 -3.8 696.1M-1.6 679.0Q1.7 676.0 3.1 674.6M3.1 674.6Q-4.7 662.8 -13.0 652.0M7.6 655.7Q10.1 655.2 9.9 653.3M7.6 655.7Q2.9 654.5 -2.8 653.8M9.9 653.3Q10.3 651.8 9.7 648.7M23.3 650.4Q22.5 651.8 24.8 653.7M23.3 650.4Q20.3 649.1 18.8 649.8M24.8 653.7Q20.9 660.8 17.6 668.2M17.6 668.2Q13.9 662.7 7.6 655.7M18.8 649.8Q15.5 650.7 9.9 653.3M3.1 674.6Q5.8 674.3 7.6 674.9M7.6 674.9Q11.2 675.1 17.3 673.1M17.6 668.2Q16.4 669.5 17.3 673.1M7.8 704.2Q3.7 700.1 -1.0 696.4M7.8 704.2Q5.7 706.2 4.8 709.6M16.1 713.0Q15.6 714.0 13.4 716.9M16.1 713.0Q14.9 707.2 11.5 704.0M11.5 704.0Q10.1 705.6 7.8 704.2M78.5 650.9Q75.9 657.3 75.1 661.7M83.2 670.0Q78.5 666.1 75.1 661.7M61.7 651.4Q66.7 650.9 69.8 652.3M61.7 651.4Q61.7 649.9 60.6 650.1M60.6 650.1Q56.4 637.7 54.9 628.2M71.3 661.4Q67.3 660.7 64.9 662.7M71.3 661.4Q71.6 656.2 69.8 652.3M64.9 662.7Q64.0 658.0 61.7 651.4M75.1 661.7Q74.1 662.6 71.3 661.4M52.6 621.7Q45.9 637.6 41.1 654.9M60.6 650.1Q57.4 654.1 51.2 660.3M51.2 660.3Q47.6 658.8 41.1 654.9M64.9 662.7Q62.1 665.5 59.8 669.6M59.8 669.6Q58.6 670.8 56.5 669.8M51.2 660.3Q54.9 666.1 56.5 669.8M51.0 498.5Q36.8 574.3 23.3 650.4M24.8 653.7Q30.8 656.1 39.1 656.2M41.1 654.9Q40.1 656.7 39.1 656.2M19.9 675.0Q19.8 674.9 18.2 673.8M19.9 675.0Q27.5 673.1 37.1 672.9M17.3 673.1Q19.0 673.6 18.2 673.8M39.1 656.2Q37.6 664.0 37.1 672.9M-24.5 600.9Q-3.2 623.9 18.4 649.5M18.4 649.5Q14.4 649.6 9.7 646.9M18.8 649.8Q18.8 648.2 18.4 649.5M10.1 691.0Q7.8 690.5 7.3 691.7M10.1 691.0Q14.6 689.5 17.7 691.0M17.7 691.0Q17.6 692.6 18.1 694.1M18.1 694.1Q18.2 696.0 17.3 698.6M15.7 699.3Q12.2 695.6 6.4 693.0M15.7 699.3Q17.8 699.2 17.3 698.6M7.3 691.7Q6.8 693.5 6.4 693.0M7.6 674.9Q6.4 683.3 7.3 691.7M18.2 673.8Q15.2 683.3 10.1 691.0M11.5 704.0Q12.8 703.0 15.7 699.3M-1.0 696.4Q2.2 694.2 6.4 693.0M16.1 713.0Q21.1 711.7 24.0 710.5M24.0 710.5Q23.2 707.2 24.4 703.0M24.4 703.0Q22.1 701.5 17.3 698.6M34.5 695.5Q36.0 691.2 38.0 688.1M34.5 695.5Q33.3 695.1 31.5 693.2M31.5 693.2Q27.6 686.8 20.8 679.5M38.1 687.5Q36.6 688.9 38.0 688.1M38.1 687.5Q30.5 683.3 20.7 678.6M20.7 678.6Q21.2 680.0 20.8 679.5M24.4 703.0Q30.5 700.9 34.8 696.6M34.8 696.6Q35.3 697.5 34.5 695.5M18.1 694.1Q25.0 695.0 31.5 693.2M17.7 691.0Q19.7 684.1 20.8 679.5M19.9 675.0Q19.4 676.1 20.7 678.6M23.9 722.2Q26.0 721.5 26.1 721.5M34.4 731.8Q30.7 726.6 26.1 721.5M24.0 710.5Q25.8 713.6 28.4 714.3M26.1 721.5Q27.1 717.1 28.4 714.3M75.7 676.7Q70.3 676.9 65.5 674.7M75.7 676.7Q76.9 681.1 76.1 688.3M65.5 674.7Q64.6 679.9 63.4 683.4M63.4 683.4Q65.2 686.9 68.8 690.4M68.8 690.4Q71.6 689.1 75.6 688.6M76.1 688.3Q76.2 687.4 75.6 688.6M83.2 670.0Q80.6 674.0 75.7 676.7M59.8 669.6Q63.2 670.9 65.5 674.7M52.2 736.4Q51.4 727.2 47.8 718.2M47.8 718.2Q49.9 716.3 52.3 717.0M52.3 717.0Q56.9 719.3 59.5 721.5M34.8 696.7Q33.5 697.6 34.8 696.6M34.8 696.7Q40.0 699.0 44.7 700.0M38.0 688.1Q45.8 689.4 53.0 691.4M44.7 700.0Q49.2 694.5 53.0 691.4M56.0 670.3Q47.3 670.5 37.7 673.3M56.0 670.3Q53.7 677.3 52.4 685.4M52.4 685.4Q45.6 682.2 40.5 681.0M37.7 673.3Q40.0 677.6 40.5 681.0M56.5 669.8Q55.2 669.3 56.0 670.3M37.1 672.9Q38.4 672.5 37.7 673.3M53.2 687.1Q51.7 687.3 52.4 685.4M53.2 687.1Q59.0 684.7 63.4 683.4M53.2 687.1Q52.4 689.5 53.2 691.3M38.1 687.5Q38.9 684.6 40.5 681.0M53.2 691.3Q52.9 691.0 53.0 691.4M40.6 718.5Q37.6 714.8 34.4 713.7M40.6 718.5Q43.2 719.5 46.6 717.6M46.6 717.6Q46.9 709.2 46.1 703.0M34.6 713.3Q34.0 713.9 34.4 713.7M34.6 713.3Q39.9 708.6 45.8 702.6M45.8 702.6Q45.2 702.3 46.1 703.0M34.4 731.8Q37.4 725.5 40.6 718.5M28.4 714.3Q30.8 715.2 34.4 713.7M47.8 718.2Q46.6 717.1 46.6 717.6M34.8 696.7Q34.2 706.1 34.6 713.3M44.7 700.0Q46.7 700.2 45.8 702.6M60.3 721.5Q63.3 717.1 64.6 714.1M64.6 714.1Q71.2 711.5 75.2 711.2M75.6 688.6Q73.0 697.8 72.3 707.6M52.3 717.0Q52.8 716.7 53.3 715.8M64.6 714.1Q63.2 715.1 60.8 713.1M53.3 715.8Q55.6 713.9 60.8 713.1M58.5 705.5Q56.6 706.8 55.6 706.2M58.5 705.5Q60.1 703.7 64.1 701.2M64.1 701.2Q64.8 697.7 62.9 696.5M53.4 705.2Q53.7 698.6 56.7 693.5M53.4 705.2Q54.4 705.0 55.6 706.2M62.9 696.5Q60.9 695.4 56.7 693.5M53.3 715.8Q54.1 709.7 55.6 706.2M60.8 713.1Q60.5 708.5 58.5 705.5M72.3 707.6Q67.8 703.5 64.1 701.2M68.8 690.4Q64.9 692.1 62.9 696.5M53.2 691.3Q54.0 691.7 56.7 693.5M46.1 703.0Q51.1 704.8 53.4 705.2" fill="none" stroke="#e6e6e6" stroke-width="0.9" opacity="0.6"/>
<g fill="#f2f2f2" opacity="0.8"><circle cx="47.9" cy="682.5" r="2.4"/><circle cx="9.5" cy="683.1" r="2.1"/><circle cx="29.9" cy="664.4" r="2.8"/><circle cx="39.6" cy="696.5" r="2.9"/><circle cx="55.7" cy="696.5" r="2.0"/><circle cx="38.8" cy="700.2" r="2.8"/><circle cx="28.4" cy="667.9" r="2.5"/><circle cx="34.5" cy="671.1" r="3.3"/><circle cx="37.4" cy="668.1" r="2.7"/><circle cx="36.1" cy="670.5" r="3.2"/><circle cx="52.5" cy="656.8" r="2.3"/><circle cx="51.6" cy="657.1" r="3.2"/><circle cx="44.2" cy="661.8" r="2.7"/><circle cx="12.4" cy="684.6" r="3.2"/><circle cx="13.5" cy="685.5" r="2.5"/><circle cx="14.4" cy="680.8" r="2.6"/><circle cx="59.3" cy="696.4" r="3.1"/><circle cx="15.9" cy="658.9" r="3.2"/></g>
<g fill="#505050" stroke="#111" stroke-width="0.7"><ellipse cx="47.9" cy="682.5" rx="1.4" ry="1.2"/><ellipse cx="9.5" cy="683.1" rx="1.1" ry="0.9"/><ellipse cx="29.9" cy="664.4" rx="1.8" ry="1.5"/><ellipse cx="39.6" cy="696.5" rx="1.9" ry="1.5"/><ellipse cx="55.7" cy="696.5" rx="1.0" ry="0.8"/><ellipse cx="38.8" cy="700.2" rx="1.8" ry="1.4"/><ellipse cx="28.4" cy="667.9" rx="1.5" ry="1.2"/><ellipse cx="34.5" cy="671.1" rx="2.3" ry="1.8"/><ellipse cx="37.4" cy="668.1" rx="1.7" ry="1.3"/><ellipse cx="36.1" cy="670.5" rx="2.2" ry="1.8"/><ellipse cx="52.5" cy="656.8" rx="1.3" ry="1.1"/><ellipse cx="51.6" cy="657.1" rx="2.2" ry="1.8"/><ellipse cx="44.2" cy="661.8" rx="1.7" ry="1.4"/><ellipse cx="12.4" cy="684.6" rx="2.2" ry="1.8"/><ellipse cx="13.5" cy="685.5" rx="1.5" ry="1.2"/><ellipse cx="14.4" cy="680.8" rx="1.6" ry="1.3"/><ellipse cx="59.3" cy="696.4" rx="2.1" ry="1.7"/><ellipse cx="15.9" cy="658.9" rx="2.2" ry="1.8"/></g>
</g>
<circle cx="38.60" cy="681.9" r="35.7" fill="none" stroke="#1a1a1a" stroke-width="0.9"/>
<rect x="37.80" y="709.20" width="16.00" height="2.60" fill="#000" stroke="none" stroke-width="1"/>
<text x="41.20" y="638.20" font-size="9" text-anchor="middle" fill="#111">siRNA-NC</text>
<defs><clipPath id="dc1"><circle cx="114.25" cy="681.9" r="35.7"/></clipPath></defs>
<g clip-path="url(#dc1)">
<circle cx="114.25" cy="681.9" r="35.7" fill="#9e9e9e"/>
<rect x="78.55" y="646.20" width="71.4" height="71.4" filter="url(#tx)" opacity="0.95"/>
<rect x="78.55" y="646.20" width="71.4" height="71.4" filter="url(#tx2)" opacity="0.7"/>
<path d="M50.3 674.6Q64.3 672.1 76.1 671.2M70.0 683.3Q72.4 682.3 77.0 678.6M77.0 678.6Q77.6 675.9 76.1 671.2M250.8 889.6Q198.1 796.6 145.6 705.2M149.3 695.0Q147.1 698.9 145.6 705.2M149.3 695.0Q148.7 693.6 147.7 692.1M151.7 686.7Q149.5 688.0 147.7 692.1M149.5 643.2Q150.9 653.4 149.7 663.0M193.7 661.7Q171.9 662.6 149.7 663.0M105.1 634.8Q102.1 642.4 101.7 649.8M101.7 649.8Q99.1 650.8 99.4 650.3M99.4 650.3Q91.5 648.1 80.9 647.0M12.0 577.5Q43.6 621.2 76.6 667.2M80.9 647.0Q83.8 651.3 85.1 658.5M76.6 667.2Q80.0 662.6 85.1 658.5M76.1 671.2Q74.8 672.0 76.4 670.9M76.6 667.2Q77.4 668.0 76.4 670.9M94.0 741.8Q107.1 731.7 121.5 720.3M155.3 753.7Q137.0 735.8 121.5 720.3M94.0 741.8Q103.7 728.2 112.4 714.8M112.4 714.8Q116.1 717.4 119.7 717.6M121.5 720.3Q121.6 719.0 119.7 717.6M193.7 661.7Q170.3 668.3 149.0 676.8M149.7 663.0Q148.1 666.0 145.4 666.1M145.4 666.1Q146.0 671.3 149.0 676.8M151.7 686.7Q151.5 681.5 148.9 677.0M148.9 677.0Q147.5 676.2 149.0 676.8M100.7 665.7Q97.5 669.7 96.1 676.0M100.7 665.7Q95.9 665.2 91.7 663.1M91.7 663.1Q90.5 663.6 90.7 663.3M90.7 663.3Q88.2 668.9 87.7 672.4M96.1 676.0Q93.8 676.0 89.1 675.3M89.1 675.3Q88.1 674.9 87.7 672.4M102.2 681.3Q97.8 677.5 96.1 676.0M102.2 681.3Q105.0 680.0 106.7 679.7M103.5 665.1Q105.0 665.8 106.0 667.7M103.5 665.1Q103.4 664.8 100.7 665.7M106.0 667.7Q105.1 674.1 106.7 679.7M101.7 649.8Q105.0 651.7 106.6 655.1M106.6 655.1Q104.5 660.2 103.5 665.1M99.4 650.3Q94.6 655.5 91.7 663.1M85.1 658.5Q86.9 661.4 90.7 663.3M76.4 670.9Q83.2 670.6 87.7 672.4M90.3 718.4Q91.5 716.9 92.7 713.4M92.7 713.4Q89.2 708.2 84.2 700.4M84.2 700.4Q85.5 699.4 83.8 700.3M76.2 705.2Q80.2 702.3 83.8 700.3M99.9 685.4Q95.5 685.2 91.9 682.0M99.9 685.4Q97.8 689.8 97.3 693.5M97.3 693.5Q97.5 694.8 96.4 693.4M96.4 693.4Q94.1 692.4 92.7 690.9M92.7 690.9Q91.8 687.6 91.9 682.0M99.9 685.4Q101.6 683.3 102.2 681.3M89.1 675.3Q89.4 675.6 88.0 678.5M91.9 682.0Q89.8 680.5 88.0 678.5M139.3 692.9Q142.4 691.5 147.7 692.1M139.3 692.9Q135.3 690.2 130.4 688.8M148.9 677.0Q143.9 678.9 136.0 680.3M136.0 680.3Q133.4 683.2 130.4 688.8M127.9 704.9Q128.0 708.0 127.1 708.4M127.9 704.9Q133.1 703.7 137.8 703.5M127.1 708.4Q133.2 711.4 138.0 714.8M138.0 714.8Q138.3 709.9 138.6 706.0M137.8 703.5Q138.2 704.0 138.6 706.0M155.3 753.7Q146.4 734.1 138.0 714.8M119.7 717.6Q122.3 713.6 124.9 709.7M124.9 709.7Q126.0 709.4 127.1 708.4M145.6 705.2Q141.3 707.1 138.6 706.0M139.3 692.9Q137.1 699.0 137.8 703.5M92.7 713.4Q95.7 713.3 96.1 710.8M112.4 714.8Q113.1 713.4 111.7 713.6M111.7 713.6Q104.5 713.3 96.1 710.8M124.9 709.7Q121.2 705.9 118.0 703.8M111.7 713.6Q111.5 714.3 111.7 713.4M111.7 713.4Q111.7 709.4 113.6 706.1M118.0 703.8Q116.3 704.9 113.6 706.1M106.6 655.1Q112.2 653.6 116.2 654.6M106.0 667.7Q112.8 668.8 116.7 667.6M116.2 654.6Q115.5 662.5 116.7 667.6M127.9 670.7Q121.9 673.6 117.4 677.7M127.9 670.7Q127.7 668.0 127.9 667.8M117.4 677.7Q116.1 674.2 117.2 668.1M127.9 667.8Q126.0 667.2 125.7 666.8M125.7 666.8Q122.9 668.9 117.2 668.1M106.7 679.7Q110.9 682.3 116.6 682.8M116.6 682.8Q116.3 679.1 117.4 677.7M117.2 668.1Q116.4 666.7 116.7 667.6M122.7 648.2Q121.7 648.6 122.4 650.3M122.7 648.2Q123.1 645.6 126.2 644.2M126.2 644.2Q133.9 646.6 141.0 648.2M122.4 650.3Q122.0 650.8 122.6 650.5M122.6 650.5Q129.3 654.4 136.6 659.7M141.0 648.2Q140.2 652.8 136.6 659.7M105.1 634.8Q113.8 642.7 122.7 648.2M116.2 654.6Q119.4 651.5 122.4 650.3M125.7 666.8Q125.2 658.8 122.6 650.5M84.4 686.4Q85.0 686.9 83.5 684.5M84.4 686.4Q83.5 690.6 81.1 694.7M81.1 694.7Q78.0 695.0 75.0 693.8M83.5 684.5Q83.3 685.0 83.5 684.5M83.5 684.5Q79.3 684.9 73.0 688.2M75.0 693.8Q74.5 694.4 72.3 692.3M73.0 688.2Q73.9 690.5 72.3 692.3M92.7 690.9Q88.3 689.9 84.4 686.4M88.0 678.5Q86.4 681.8 83.5 684.5M96.4 693.4Q90.5 697.6 84.2 700.4M83.8 700.3Q82.5 696.9 81.1 694.7M76.2 705.2Q77.0 699.9 75.0 693.8M77.0 678.6Q81.5 682.6 83.5 684.5M70.0 683.3Q70.8 685.5 73.0 688.2M133.6 674.1Q133.9 676.3 136.2 676.9M133.6 674.1Q135.7 667.7 137.3 663.5M136.2 676.9Q139.3 671.9 144.0 665.8M144.0 665.8Q139.9 664.6 137.9 663.0M137.3 663.5Q138.2 664.1 137.9 663.0M127.9 670.7Q128.2 672.3 128.8 673.6M127.9 667.8Q133.4 666.3 137.3 663.5M128.8 673.6Q132.4 673.3 133.6 674.1M145.4 666.1Q145.1 664.9 144.0 665.8M136.0 680.3Q135.6 677.7 136.2 676.9M136.6 659.7Q135.8 661.7 137.9 663.0M98.3 704.5Q101.8 703.5 106.0 705.1M98.3 704.5Q98.1 698.7 99.0 695.4M99.0 695.4Q99.6 696.1 99.2 695.4M99.2 695.4Q103.6 695.6 109.1 697.9M106.0 705.1Q107.5 702.0 109.9 700.5M109.1 697.9Q108.8 698.0 109.9 700.5M111.7 713.4Q108.3 708.7 106.0 705.1M96.1 710.8Q97.1 707.1 98.3 704.5M97.3 693.5Q99.1 694.6 99.0 695.4M117.3 683.7Q117.3 684.1 116.6 682.8M117.3 683.7Q109.1 690.3 99.2 695.4M113.6 706.1Q111.5 702.3 109.9 700.5M125.4 695.4Q123.8 697.3 119.8 700.2M125.4 695.4Q127.1 691.6 127.3 688.8M119.8 700.2Q114.9 697.6 110.5 696.9M127.3 688.8Q126.4 689.3 126.4 688.1M126.4 688.1Q122.8 687.1 118.9 685.3M118.9 685.3Q116.1 690.9 110.5 696.9M127.9 704.9Q126.2 700.5 125.4 695.4M118.0 703.8Q119.5 702.4 119.8 700.2M130.4 688.8Q127.7 689.5 127.3 688.8M109.1 697.9Q110.2 697.0 110.5 696.9M128.8 673.6Q128.6 680.6 126.4 688.1M117.3 683.7Q119.5 684.0 118.9 685.3" fill="none" stroke="#e6e6e6" stroke-width="0.9" opacity="0.6"/>
<g fill="#f2f2f2" opacity="0.8"><circle cx="117.4" cy="660.6" r="2.5"/><circle cx="104.6" cy="680.3" r="2.1"/><circle cx="127.7" cy="711.5" r="2.5"/><circle cx="100.3" cy="678.9" r="2.8"/><circle cx="118.7" cy="694.1" r="2.8"/><circle cx="124.5" cy="680.1" r="2.1"/><circle cx="90.3" cy="675.6" r="2.8"/><circle cx="84.7" cy="679.8" r="3.1"/><circle cx="86.7" cy="685.2" r="2.4"/><circle cx="84.2" cy="689.1" r="3.0"/><circle cx="93.2" cy="696.9" r="2.3"/><circle cx="91.2" cy="694.5" r="3.1"/><circle cx="114.1" cy="666.2" r="2.5"/><circle cx="110.4" cy="663.5" r="2.4"/><circle cx="121.6" cy="676.7" r="2.4"/><circle cx="128.7" cy="677.8" r="3.0"/><circle cx="121.6" cy="681.9" r="2.5"/><circle cx="126.5" cy="675.5" r="2.7"/><circle cx="148.6" cy="683.5" r="2.9"/><circle cx="142.9" cy="682.1" r="2.6"/><circle cx="118.3" cy="652.8" r="2.9"/><circle cx="122.5" cy="648.3" r="3.0"/><circle cx="119.3" cy="645.9" r="2.6"/><circle cx="129.1" cy="692.1" r="3.4"/><circle cx="134.2" cy="691.2" r="2.9"/></g>
<g fill="#505050" stroke="#111" stroke-width="0.7"><ellipse cx="117.4" cy="660.6" rx="1.5" ry="1.2"/><ellipse cx="104.6" cy="680.3" rx="1.1" ry="0.9"/><ellipse cx="127.7" cy="711.5" rx="1.5" ry="1.2"/><ellipse cx="100.3" cy="678.9" rx="1.8" ry="1.5"/><ellipse cx="118.7" cy="694.1" rx="1.8" ry="1.5"/><ellipse cx="124.5" cy="680.1" rx="1.1" ry="0.9"/><ellipse cx="90.3" cy="675.6" rx="1.8" ry="1.4"/><ellipse cx="84.7" cy="679.8" rx="2.1" ry="1.7"/><ellipse cx="86.7" cy="685.2" rx="1.4" ry="1.1"/><ellipse cx="84.2" cy="689.1" rx="2.0" ry="1.6"/><ellipse cx="93.2" cy="696.9" rx="1.3" ry="1.0"/><ellipse cx="91.2" cy="694.5" rx="2.1" ry="1.7"/><ellipse cx="114.1" cy="666.2" rx="1.5" ry="1.2"/><ellipse cx="110.4" cy="663.5" rx="1.4" ry="1.1"/><ellipse cx="121.6" cy="676.7" rx="1.4" ry="1.1"/><ellipse cx="128.7" cy="677.8" rx="2.0" ry="1.6"/><ellipse cx="121.6" cy="681.9" rx="1.5" ry="1.2"/><ellipse cx="126.5" cy="675.5" rx="1.7" ry="1.4"/><ellipse cx="148.6" cy="683.5" rx="1.9" ry="1.5"/><ellipse cx="142.9" cy="682.1" rx="1.6" ry="1.3"/><ellipse cx="118.3" cy="652.8" rx="1.9" ry="1.5"/><ellipse cx="122.5" cy="648.3" rx="2.0" ry="1.6"/><ellipse cx="119.3" cy="645.9" rx="1.6" ry="1.3"/><ellipse cx="129.1" cy="692.1" rx="2.4" ry="1.9"/><ellipse cx="134.2" cy="691.2" rx="1.9" ry="1.5"/></g>
</g>
<circle cx="114.25" cy="681.9" r="35.7" fill="none" stroke="#1a1a1a" stroke-width="0.9"/>
<rect x="113.45" y="709.20" width="16.00" height="2.60" fill="#000" stroke="none" stroke-width="1"/>
<text x="116.85" y="638.20" font-size="9" text-anchor="middle" fill="#a4e6f8">siJAK1-1</text>
<defs><clipPath id="dc2"><circle cx="189.90" cy="681.9" r="35.7"/></clipPath></defs>
<g clip-path="url(#dc2)">
<circle cx="189.90" cy="681.9" r="35.7" fill="#9e9e9e"/>
<rect x="154.20" y="646.20" width="71.4" height="71.4" filter="url(#tx)" opacity="0.95"/>
<rect x="154.20" y="646.20" width="71.4" height="71.4" filter="url(#tx2)" opacity="0.7"/>
<path d="M182.8 697.3Q180.4 693.3 178.9 691.6M182.8 697.3Q176.4 698.1 169.7 696.3M169.7 696.3Q170.4 694.9 169.7 695.8M169.7 695.8Q171.0 693.4 172.7 689.0M172.7 689.0Q175.3 690.3 178.9 691.6M240.2 688.6Q235.6 680.6 229.8 674.5M229.8 674.5Q232.6 664.4 235.9 656.5M214.8 645.7Q215.8 652.4 218.0 661.1M234.5 656.6Q226.7 657.7 218.0 661.1M183.5 721.4Q183.3 722.7 185.9 721.2M204.8 748.2Q196.6 734.9 185.9 721.2M240.2 688.6Q231.8 692.6 222.7 695.5M222.7 695.5Q219.5 693.7 218.4 689.3M229.8 674.5Q221.5 674.8 215.1 673.9M218.4 689.3Q218.1 681.5 215.1 673.9M147.6 711.6Q152.9 710.4 160.3 707.1M147.6 711.6Q149.3 704.2 152.1 697.6M152.1 697.6Q152.4 697.6 153.6 695.0M160.3 707.1Q163.0 704.1 164.2 703.8M164.2 703.8Q159.8 698.8 155.6 694.3M155.6 694.3Q153.7 695.6 153.6 695.0M123.1 676.4Q138.5 685.2 153.6 695.0M158.7 690.0Q157.5 690.1 158.3 690.1M158.7 690.0Q164.0 693.9 169.7 695.8M158.3 690.1Q158.1 692.0 155.6 694.3M168.2 703.2Q166.3 704.0 164.2 703.8M168.2 703.2Q169.3 701.1 169.7 696.3M148.2 677.5Q152.1 684.5 158.3 690.1M176.9 717.8Q171.1 721.0 163.1 723.2M176.9 717.8Q173.1 714.8 171.2 711.9M171.2 711.9Q166.7 716.5 164.9 718.3M183.5 721.4Q182.6 720.3 183.0 720.8M183.0 720.8Q179.1 720.7 176.9 717.8M181.5 704.9Q183.1 711.8 183.0 720.8M181.5 704.9Q176.4 705.6 171.0 705.6M171.0 705.6Q171.4 708.2 171.2 711.9M171.0 705.6Q170.9 703.8 168.2 703.2M160.3 707.1Q161.9 712.4 164.9 718.3M222.7 695.5Q221.2 698.8 220.4 700.1M220.4 700.1Q229.4 714.8 236.2 730.3M220.4 700.1Q216.7 701.4 210.2 703.7M199.3 687.5Q210.1 689.3 218.4 689.3M199.3 687.5Q198.2 687.8 198.7 688.3M210.2 703.7Q203.9 697.0 198.7 688.3M218.0 661.1Q215.2 665.2 212.6 666.6M215.1 673.9Q214.5 673.5 212.9 671.9M212.6 666.6Q211.9 669.5 212.9 671.9M199.3 687.5Q201.7 683.8 201.4 678.4M212.9 671.9Q206.2 676.2 201.4 678.4M153.2 675.8Q149.3 677.1 148.2 677.5M153.2 675.8Q159.3 676.6 162.7 675.2M158.7 690.0Q162.1 685.0 167.4 680.6M162.7 675.2Q163.8 679.1 167.4 680.6M172.7 689.0Q170.6 686.6 171.4 681.8M167.4 680.6Q168.7 680.0 171.4 681.8M181.7 677.9Q178.5 678.5 173.6 680.6M181.7 677.9Q184.6 682.0 186.0 684.8M186.0 684.8Q183.9 689.0 178.9 691.6M173.6 680.6Q172.6 682.4 171.4 681.8M155.7 662.1Q-41.2 556.4 -236.4 449.1M155.7 662.1Q154.9 662.4 157.1 662.2M157.1 662.2Q160.3 659.0 164.5 655.2M164.5 655.2Q145.8 641.2 127.6 630.0M153.2 675.8Q154.0 669.8 155.7 662.1M164.4 668.7Q163.3 672.4 162.7 675.2M164.4 668.7Q162.1 664.3 157.1 662.2M164.4 668.7Q167.9 665.9 169.8 664.2M164.5 655.2Q165.2 656.5 167.3 655.3M167.3 655.3Q167.1 658.6 169.8 664.2M184.7 672.5Q182.1 668.7 180.0 664.7M184.7 672.5Q184.5 674.3 181.7 677.9M173.6 680.6Q173.6 674.1 172.3 664.8M180.0 664.7Q175.3 663.7 172.3 664.8M172.3 664.8Q171.4 663.9 169.8 664.2M192.6 689.9Q188.7 693.2 183.8 698.1M192.6 689.9Q194.7 690.0 195.1 689.9M195.1 689.9Q194.8 692.3 195.2 696.5M195.2 696.5Q191.0 699.4 189.0 705.2M183.8 698.1Q183.7 701.7 183.4 703.3M183.4 703.3Q186.0 703.7 189.0 705.2M182.8 697.3Q182.9 696.2 183.8 698.1M186.0 684.8Q187.9 687.6 192.6 689.9M198.8 705.8Q194.8 705.9 192.4 707.6M198.8 705.8Q195.6 701.4 195.2 696.5M192.4 707.6Q191.3 706.8 189.0 705.2M181.5 704.9Q181.2 705.2 183.4 703.3M206.4 661.5Q203.6 660.1 198.2 661.1M206.4 661.5Q206.8 657.8 206.3 654.5M198.2 661.1Q197.1 655.6 198.9 649.2M206.3 654.5Q204.5 650.5 200.8 648.7M200.8 648.7Q199.6 649.1 198.9 649.2M214.8 645.7Q209.9 649.2 206.3 654.5M212.6 666.6Q209.9 662.6 206.4 661.5M213.0 629.9Q206.8 638.0 200.8 648.7M195.5 661.4Q194.9 661.1 196.9 661.5M195.5 661.4Q192.0 667.2 186.0 672.3M196.9 661.5Q198.0 669.1 198.4 676.2M186.0 672.3Q193.5 674.6 198.4 676.2M201.4 678.4Q199.1 677.6 198.4 676.2M198.2 661.1Q198.3 661.8 196.9 661.5M184.7 672.5Q184.9 670.9 186.0 672.3M198.7 688.3Q197.3 690.6 195.1 689.9M127.6 630.0Q149.6 637.6 170.2 645.2M167.3 655.3Q167.4 656.0 167.3 655.3M167.3 655.3Q168.1 651.3 170.2 645.2M170.2 645.2Q172.0 645.6 172.8 643.9M207.2 707.4Q205.6 706.2 206.9 707.6M207.2 707.4Q212.7 714.5 219.1 720.7M206.9 707.6Q206.5 712.4 203.3 717.8M219.1 720.7Q212.3 720.9 204.8 718.6M203.3 717.8Q202.6 719.6 204.8 718.6M210.2 703.7Q208.8 704.3 207.2 707.4M198.8 705.8Q202.1 706.6 206.9 707.6M208.6 722.4Q207.8 720.2 204.8 718.6M200.1 721.7Q193.1 722.1 187.2 720.6M200.1 721.7Q202.5 719.1 202.7 718.4M202.7 718.4Q197.1 714.8 192.0 710.8M187.2 720.6Q189.9 714.5 192.0 710.8M204.8 748.2Q202.2 736.3 200.1 721.7M185.9 721.2Q187.8 720.9 187.2 720.6M203.3 717.8Q203.4 717.5 202.7 718.4M192.4 707.6Q193.3 707.7 192.0 710.8M182.1 647.5Q181.0 646.4 182.2 647.9M182.1 647.5Q186.4 637.0 192.9 624.0M182.2 647.9Q189.9 646.4 194.6 646.7M192.9 624.0Q192.4 634.7 194.6 646.7M172.8 643.9Q178.2 646.0 182.1 647.5M198.9 649.2Q198.7 648.3 196.4 648.7M196.4 648.7Q195.8 647.7 194.6 646.7M181.4 654.5Q182.7 652.8 182.6 651.6M181.4 654.5Q180.8 655.8 181.6 659.9M182.6 651.6Q188.2 653.9 191.7 654.3M181.6 659.9Q186.8 661.1 194.8 660.8M194.8 660.8Q193.3 657.8 191.7 654.3M167.3 655.3Q173.5 653.6 181.4 654.5M182.2 647.9Q182.0 649.7 182.6 651.6M180.0 664.7Q180.5 661.0 181.6 659.9M196.4 648.7Q195.2 651.1 191.7 654.3M195.5 661.4Q195.8 662.5 194.8 660.8" fill="none" stroke="#e6e6e6" stroke-width="0.9" opacity="0.6"/>
<g fill="#f2f2f2" opacity="0.8"><circle cx="190.6" cy="663.6" r="2.7"/><circle cx="206.9" cy="669.4" r="2.2"/><circle cx="175.3" cy="699.6" r="2.8"/><circle cx="186.1" cy="672.5" r="2.0"/><circle cx="192.4" cy="705.3" r="2.3"/><circle cx="195.3" cy="668.4" r="2.6"/><circle cx="177.6" cy="657.5" r="2.4"/><circle cx="192.9" cy="647.3" r="2.4"/><circle cx="210.6" cy="654.1" r="2.5"/><circle cx="169.0" cy="683.5" r="2.6"/><circle cx="179.6" cy="676.8" r="2.6"/><circle cx="206.8" cy="698.1" r="2.5"/></g>
<g fill="#505050" stroke="#111" stroke-width="0.7"><ellipse cx="190.6" cy="663.6" rx="1.7" ry="1.4"/><ellipse cx="206.9" cy="669.4" rx="1.2" ry="0.9"/><ellipse cx="175.3" cy="699.6" rx="1.8" ry="1.5"/><ellipse cx="186.1" cy="672.5" rx="1.0" ry="0.8"/><ellipse cx="192.4" cy="705.3" rx="1.3" ry="1.0"/><ellipse cx="195.3" cy="668.4" rx="1.6" ry="1.3"/><ellipse cx="177.6" cy="657.5" rx="1.4" ry="1.1"/><ellipse cx="192.9" cy="647.3" rx="1.4" ry="1.1"/><ellipse cx="210.6" cy="654.1" rx="1.5" ry="1.2"/><ellipse cx="169.0" cy="683.5" rx="1.6" ry="1.3"/><ellipse cx="179.6" cy="676.8" rx="1.6" ry="1.3"/><ellipse cx="206.8" cy="698.1" rx="1.5" ry="1.2"/></g>
</g>
<circle cx="189.90" cy="681.9" r="35.7" fill="none" stroke="#1a1a1a" stroke-width="0.9"/>
<rect x="189.10" y="709.20" width="16.00" height="2.60" fill="#000" stroke="none" stroke-width="1"/>
<text x="192.50" y="638.20" font-size="9" text-anchor="middle" fill="#b4e6ee">siJAK1-2</text>
<defs><clipPath id="dc3"><circle cx="265.55" cy="681.9" r="35.7"/></clipPath></defs>
<g clip-path="url(#dc3)">
<circle cx="265.55" cy="681.9" r="35.7" fill="#9e9e9e"/>
<rect x="229.85" y="646.20" width="71.4" height="71.4" filter="url(#tx)" opacity="0.95"/>
<rect x="229.85" y="646.20" width="71.4" height="71.4" filter="url(#tx2)" opacity="0.7"/>
<path d="M199.8 595.9Q215.1 630.6 230.8 665.3M211.3 690.3Q220.1 676.8 230.8 665.3M265.6 639.1Q266.7 644.9 267.9 648.0M267.9 648.0Q272.1 649.3 274.6 653.4M274.6 653.4Q276.6 652.5 276.8 653.5M279.7 650.2Q279.0 650.8 276.8 653.5M238.7 665.3Q236.0 671.8 234.1 679.9M238.7 665.3Q240.6 662.8 244.0 662.6M234.1 679.9Q243.0 673.1 251.9 666.6M244.0 662.6Q247.5 663.8 249.4 664.2M251.9 666.6Q249.5 666.0 249.4 664.2M211.3 690.3Q219.5 690.2 227.6 690.0M227.6 690.0Q231.6 685.1 234.1 679.9M230.8 665.3Q234.4 666.0 238.7 665.3M203.4 599.8Q222.2 630.6 244.0 662.6M242.9 694.1Q243.2 694.6 245.9 694.5M242.9 694.1Q234.1 691.7 227.6 690.0M245.9 694.5Q245.2 693.8 246.9 694.2M251.9 666.6Q252.9 665.5 252.0 666.7M246.9 694.2Q250.2 680.5 252.0 666.7M279.7 650.2Q295.9 650.0 311.8 652.0M295.9 676.3Q288.7 676.3 282.2 677.9M295.9 676.3Q294.8 670.0 294.7 666.2M282.2 677.9Q282.5 669.5 282.4 660.8M282.4 660.8Q287.2 662.0 294.3 665.1M294.7 666.2Q295.4 664.3 294.3 665.1M276.8 653.5Q276.4 653.7 276.9 653.7M276.9 653.7Q278.7 657.9 282.4 660.8M311.8 652.0Q303.8 659.4 294.3 665.1M306.1 670.2Q301.6 668.7 294.7 666.2M276.3 680.5Q277.0 681.4 280.0 681.1M276.3 680.5Q268.0 683.8 261.8 688.9M280.0 681.1Q282.3 684.9 282.4 687.7M282.4 687.7Q276.0 692.5 271.1 694.8M271.1 694.8Q266.9 693.8 261.0 690.2M261.8 688.9Q262.8 689.4 261.0 690.2M276.9 653.7Q273.0 662.1 271.9 673.5M272.9 677.1Q272.6 674.5 271.9 673.5M272.9 677.1Q274.0 680.3 276.3 680.5M282.2 677.9Q280.0 680.4 280.0 681.1M281.7 703.8Q279.0 702.3 273.8 701.4M281.7 703.8Q285.4 700.5 286.6 697.0M273.8 701.4Q273.3 697.2 271.1 694.8M287.8 692.9Q285.9 695.8 286.6 697.0M287.8 692.9Q283.9 691.7 282.4 687.7M295.9 676.3Q299.5 679.9 301.0 680.9M287.8 692.9Q291.7 691.7 294.2 691.5M301.0 680.9Q298.0 687.6 294.2 691.5M306.1 670.2Q303.0 675.2 302.9 680.6M301.0 680.9Q301.2 680.7 302.9 680.6M302.9 680.6Q306.6 682.4 308.5 682.4M242.9 694.1Q228.2 726.5 214.8 757.9M254.1 716.8Q250.0 719.6 245.5 719.3M254.1 716.8Q257.8 721.2 260.4 722.9M260.4 722.9Q250.6 726.6 240.0 728.8M245.9 694.5Q244.4 706.8 245.5 719.3M281.7 703.8Q282.9 707.3 282.3 708.2M282.3 708.2Q277.2 708.3 271.7 710.9M273.8 701.4Q271.8 702.4 267.7 706.2M271.7 710.9Q269.4 707.7 267.7 706.2M282.3 708.2Q281.9 710.9 283.8 711.5M283.8 711.5Q279.1 713.5 271.6 714.5M271.7 710.9Q271.9 713.5 271.6 714.5M252.0 694.8Q255.8 691.1 261.0 690.2M252.0 694.8Q257.9 702.0 261.5 706.7M261.5 706.7Q263.7 707.7 267.7 706.2M231.6 624.3Q238.6 634.0 247.6 644.5M231.6 624.3Q249.4 634.4 264.5 647.2M264.5 647.2Q255.4 645.0 247.6 644.5M249.4 664.2Q249.5 657.9 251.8 651.7M251.8 651.7Q248.2 646.9 247.6 644.5M267.9 648.0Q266.2 647.1 265.6 647.7M265.6 647.7Q265.4 647.8 264.5 647.2M265.6 647.7Q258.4 651.1 251.8 651.7M262.4 676.9Q260.9 671.4 257.5 666.7M262.4 676.9Q267.4 676.7 270.8 676.9M270.8 676.9Q267.4 671.9 262.1 668.4M257.5 666.7Q257.7 665.1 258.5 666.2M258.5 666.2Q260.2 667.1 262.1 668.4M252.0 694.8Q248.6 695.4 246.9 694.2M252.0 666.7Q255.0 666.6 257.5 666.7M261.8 688.9Q261.7 683.3 262.4 676.9M272.9 677.1Q272.9 678.0 270.8 676.9M271.9 673.5Q265.8 669.9 262.1 668.4M274.6 653.4Q267.1 660.6 258.5 666.2M299.2 697.2Q297.6 695.6 297.4 694.3M299.2 697.2Q298.8 697.9 300.9 699.3M297.4 694.3Q302.0 693.2 305.8 692.6M300.9 699.3Q302.4 701.0 304.5 699.7M305.8 692.6Q308.0 696.6 311.8 699.1M286.6 697.0Q291.1 701.4 293.2 704.3M293.2 704.3Q297.3 701.8 299.2 697.2M294.2 691.5Q294.4 693.8 297.4 694.3M308.6 683.2Q305.8 688.4 305.8 692.6M260.4 722.9Q262.6 723.5 263.9 723.8M299.3 705.2Q301.4 707.2 301.7 708.9M299.3 705.2Q297.9 705.0 294.3 706.1M294.3 706.1Q294.9 705.9 293.9 706.9M293.9 706.9Q293.2 709.7 295.3 710.9M295.3 710.9Q299.2 712.6 304.7 717.0M300.9 699.3Q300.4 702.0 299.3 705.2M293.2 704.3Q292.5 705.2 294.3 706.1M283.8 711.5Q283.5 712.1 284.0 711.8M284.0 711.8Q287.8 709.4 293.9 706.9M284.0 711.8Q283.9 715.6 285.2 717.0M285.2 717.0Q290.2 712.7 295.3 710.9M337.2 767.5Q310.7 741.5 285.2 717.1M285.2 717.1Q285.6 716.8 285.2 717.0M271.6 714.5Q270.3 715.4 271.2 716.0M261.5 706.7Q262.2 708.8 261.1 710.4M271.2 716.0Q266.6 713.6 261.1 710.4M283.3 718.1Q279.7 718.6 274.8 720.2M283.3 718.1Q279.6 727.3 274.5 736.8M274.8 720.2Q274.6 726.7 272.7 732.4M285.2 717.1Q285.3 718.3 283.3 718.1M271.2 716.0Q272.4 718.4 271.4 718.1M271.4 718.1Q271.7 719.7 274.8 720.2M264.8 721.5Q267.7 719.6 269.9 718.8M264.8 721.5Q262.0 717.5 260.4 712.5M269.9 718.8Q265.6 715.5 261.1 710.6M260.4 712.5Q261.4 711.7 261.1 710.6M263.9 723.8Q263.1 723.4 264.8 721.5M271.4 718.1Q269.2 717.1 269.9 718.8M254.1 716.8Q257.9 715.4 260.4 712.5M261.1 710.4Q261.6 710.9 261.1 710.6" fill="none" stroke="#e6e6e6" stroke-width="0.9" opacity="0.6"/>
<g fill="#f2f2f2" opacity="0.8"><circle cx="263.1" cy="672.1" r="2.4"/><circle cx="261.9" cy="667.1" r="2.6"/><circle cx="239.6" cy="694.0" r="2.8"/><circle cx="277.6" cy="675.3" r="2.9"/><circle cx="282.4" cy="701.1" r="2.1"/><circle cx="276.4" cy="710.9" r="2.3"/><circle cx="241.8" cy="660.9" r="2.6"/><circle cx="235.7" cy="672.5" r="3.0"/><circle cx="240.4" cy="672.4" r="2.5"/><circle cx="246.1" cy="689.2" r="2.3"/><circle cx="250.5" cy="684.9" r="2.5"/><circle cx="252.9" cy="687.5" r="2.4"/><circle cx="260.0" cy="663.3" r="2.6"/><circle cx="262.8" cy="672.1" r="2.7"/><circle cx="262.0" cy="662.0" r="2.5"/><circle cx="242.5" cy="674.7" r="2.3"/><circle cx="236.4" cy="676.7" r="2.4"/></g>
<g fill="#505050" stroke="#111" stroke-width="0.7"><ellipse cx="263.1" cy="672.1" rx="1.4" ry="1.1"/><ellipse cx="261.9" cy="667.1" rx="1.6" ry="1.3"/><ellipse cx="239.6" cy="694.0" rx="1.8" ry="1.5"/><ellipse cx="277.6" cy="675.3" rx="1.9" ry="1.5"/><ellipse cx="282.4" cy="701.1" rx="1.1" ry="0.9"/><ellipse cx="276.4" cy="710.9" rx="1.3" ry="1.0"/><ellipse cx="241.8" cy="660.9" rx="1.6" ry="1.3"/><ellipse cx="235.7" cy="672.5" rx="2.0" ry="1.6"/><ellipse cx="240.4" cy="672.4" rx="1.5" ry="1.2"/><ellipse cx="246.1" cy="689.2" rx="1.3" ry="1.1"/><ellipse cx="250.5" cy="684.9" rx="1.5" ry="1.2"/><ellipse cx="252.9" cy="687.5" rx="1.4" ry="1.1"/><ellipse cx="260.0" cy="663.3" rx="1.6" ry="1.3"/><ellipse cx="262.8" cy="672.1" rx="1.7" ry="1.4"/><ellipse cx="262.0" cy="662.0" rx="1.5" ry="1.2"/><ellipse cx="242.5" cy="674.7" rx="1.3" ry="1.1"/><ellipse cx="236.4" cy="676.7" rx="1.4" ry="1.1"/></g>
</g>
<circle cx="265.55" cy="681.9" r="35.7" fill="none" stroke="#1a1a1a" stroke-width="0.9"/>
<rect x="264.75" y="709.20" width="16.00" height="2.60" fill="#000" stroke="none" stroke-width="1"/>
<text x="268.15" y="638.20" font-size="9" text-anchor="middle" fill="#f7c6b0">siJAK2-1</text>
<defs><clipPath id="dc4"><circle cx="341.20" cy="681.9" r="35.7"/></clipPath></defs>
<g clip-path="url(#dc4)">
<circle cx="341.20" cy="681.9" r="35.7" fill="#9e9e9e"/>
<rect x="305.50" y="646.20" width="71.4" height="71.4" filter="url(#tx)" opacity="0.95"/>
<rect x="305.50" y="646.20" width="71.4" height="71.4" filter="url(#tx2)" opacity="0.7"/>
<path d="M303.2 672.2Q304.7 669.9 305.8 665.4M303.2 672.2Q306.3 677.8 307.0 685.8M307.0 685.8Q312.6 679.4 316.1 670.8M316.1 670.8Q312.2 668.8 305.8 665.4M327.2 639.9Q325.8 650.3 324.5 658.2M311.5 652.6Q318.2 656.0 324.5 658.2M289.8 649.2Q298.7 656.4 305.8 665.4M377.7 701.5Q391.1 698.6 402.9 697.0M377.7 701.5Q377.7 696.0 378.6 689.9M378.6 689.9Q383.3 690.3 387.1 691.7M377.8 679.4Q376.8 684.4 375.7 687.9M377.8 679.4Q381.6 679.6 383.1 682.0M375.7 687.9Q376.5 687.7 378.6 689.9M316.1 670.8Q318.1 669.1 319.7 669.1M324.5 658.2Q325.4 658.2 324.9 659.0M319.7 669.1Q323.5 664.7 324.9 659.0M364.1 717.6Q368.9 711.6 374.2 707.0M374.5 707.4Q373.3 706.0 374.2 707.0M373.4 704.9Q373.3 707.0 374.2 707.0M373.4 704.9Q374.5 702.2 377.7 701.5M371.9 804.0Q363.4 761.1 352.9 719.7M352.9 719.7Q348.2 717.4 343.3 717.9M340.7 729.2Q339.9 726.6 341.5 722.7M343.3 717.9Q342.4 720.1 341.5 722.7M352.9 719.7Q353.2 715.9 353.0 714.1M364.1 717.6Q362.6 714.0 359.0 709.8M353.0 714.1Q354.8 712.5 359.0 709.8M373.4 704.9Q368.1 702.1 360.7 698.0M359.0 709.8Q361.1 705.4 360.7 698.0M375.7 687.9Q368.3 690.6 359.0 693.5M359.0 693.5Q358.8 694.5 358.5 693.9M360.7 698.0Q358.7 694.5 358.5 693.9M333.1 723.7Q331.9 718.5 329.6 711.8M341.5 722.7Q337.3 717.9 333.2 712.8M333.2 712.8Q332.6 713.8 329.6 711.8M320.3 725.5Q323.4 716.7 328.4 710.7M328.4 710.7Q330.1 710.5 329.6 711.8M304.3 688.2Q306.6 690.8 307.5 693.4M307.5 693.4Q307.4 701.5 309.5 707.5M305.7 710.5Q307.0 708.3 309.5 707.5M307.0 685.8Q308.3 685.8 306.8 686.4M306.8 686.4Q304.5 687.4 304.3 688.2M313.6 720.7Q317.1 713.7 319.0 708.3M319.0 708.3Q313.4 706.6 309.5 707.5M377.8 679.4Q377.3 675.8 377.5 675.1M377.5 675.1Q378.3 674.5 380.2 671.8M385.5 669.1Q383.5 671.0 380.2 671.8M377.5 675.1Q371.6 675.8 367.8 674.8M359.0 693.5Q362.2 684.4 365.9 675.1M367.8 674.8Q366.5 676.3 365.9 675.1M306.8 686.4Q314.7 687.5 323.5 688.9M323.5 688.9Q326.8 685.9 327.9 683.4M319.7 669.1Q323.8 675.9 329.0 680.6M327.9 683.4Q328.8 682.8 329.0 680.6M355.0 693.1Q356.9 694.2 358.5 693.9M355.0 693.1Q349.8 687.7 346.4 680.8M362.4 671.3Q362.9 672.9 365.9 675.1M362.4 671.3Q358.3 670.6 354.3 671.2M354.3 671.2Q350.4 674.9 346.4 680.8M335.5 690.2Q331.5 685.4 327.9 683.4M335.5 690.2Q339.6 686.2 345.9 680.6M329.0 680.6Q335.5 677.8 340.8 677.2M340.8 677.2Q341.9 677.4 345.9 680.6M324.9 659.0Q332.2 661.2 337.7 661.0M340.8 677.2Q339.2 670.2 337.7 661.0M343.4 717.0Q340.4 716.2 339.9 712.9M343.4 717.0Q347.0 713.7 348.1 712.9M348.1 712.9Q347.6 710.3 346.7 709.4M346.7 709.4Q343.9 710.4 340.8 711.0M340.8 711.0Q341.4 713.1 339.9 712.9M343.3 717.9Q342.5 717.8 343.4 717.0M333.2 712.8Q338.0 713.5 339.9 712.9M353.0 714.1Q350.3 714.3 348.1 712.9M346.7 698.4Q345.9 703.5 346.7 709.4M346.7 698.4Q350.3 694.8 355.0 693.1M346.7 698.4Q344.7 698.1 344.3 698.9M340.8 711.0Q339.5 709.1 340.6 709.5M344.3 698.9Q343.0 705.2 340.6 709.5M354.3 671.2Q351.8 668.6 352.0 663.3M352.0 663.3Q347.2 662.2 341.8 658.9M337.7 661.0Q339.9 658.9 340.0 659.4M346.4 680.8Q346.1 680.8 345.9 680.6M340.0 659.4Q341.3 659.9 341.8 658.9M362.4 671.3Q363.2 669.3 363.5 666.0M367.8 674.8Q368.7 669.1 370.1 666.4M363.5 666.0Q367.8 667.4 370.1 666.4M358.4 659.4Q355.7 662.5 352.0 663.3M358.4 659.4Q360.0 660.3 363.2 659.7M363.5 666.0Q364.7 664.1 363.2 659.7M380.2 671.8Q375.7 668.8 372.7 664.4M372.7 664.4Q371.7 665.5 370.1 666.4M335.5 694.3Q329.2 693.3 325.1 693.3M335.5 694.3Q337.8 696.0 340.1 699.1M340.1 699.1Q336.1 701.6 332.2 705.0M325.1 693.3Q323.8 699.0 323.7 705.0M332.2 705.0Q328.7 707.5 327.3 707.8M327.3 707.8Q325.0 707.5 323.9 705.8M323.9 705.8Q325.0 704.1 323.7 705.0M323.5 688.9Q323.9 689.9 325.1 693.3M335.5 690.2Q336.1 693.1 335.5 694.3M344.3 698.9Q342.9 699.2 340.1 699.1M340.6 709.5Q335.6 705.9 332.2 705.0M307.5 693.4Q315.1 698.6 323.7 705.0M328.4 710.7Q328.0 708.6 327.3 707.8M319.0 708.3Q320.6 708.0 323.9 705.8M334.3 640.6Q334.8 641.2 334.6 640.9M340.0 659.4Q339.6 653.4 337.5 645.1M334.6 640.9Q337.5 642.7 337.5 645.1M354.8 652.6Q349.5 655.7 342.9 657.4M354.8 652.6Q354.3 649.9 356.6 646.0M342.9 657.4Q346.4 651.9 347.2 646.2M347.2 646.2Q347.9 645.4 350.7 642.1M356.6 646.0Q354.3 644.0 350.9 641.9M350.9 641.9Q351.9 642.2 350.7 642.1M358.4 659.4Q356.9 657.2 354.8 652.6M341.8 658.9Q343.6 659.4 342.9 657.4M367.0 646.1Q364.3 653.5 363.2 659.7M367.0 646.1Q363.2 644.6 356.6 646.0M363.2 659.7Q364.2 659.5 363.2 659.7M337.5 645.1Q343.4 645.8 347.2 646.2M334.6 640.9Q342.5 641.6 350.7 642.1M350.4 625.3Q349.3 633.2 350.9 641.9M371.8 661.6Q371.4 660.2 370.1 660.9M371.8 661.6Q374.7 660.8 375.6 658.7M370.1 660.9Q373.2 653.0 373.9 643.4M375.6 658.7Q376.1 650.9 373.9 643.4M363.2 659.7Q367.6 660.3 370.1 660.9M372.7 664.4Q371.5 662.4 371.8 661.6M380.5 660.3Q379.0 659.0 375.6 658.7" fill="none" stroke="#e6e6e6" stroke-width="0.9" opacity="0.6"/>
<g fill="#f2f2f2" opacity="0.8"><circle cx="346.5" cy="709.3" r="1.9"/><circle cx="316.6" cy="681.5" r="2.9"/><circle cx="363.5" cy="683.0" r="2.9"/><circle cx="362.7" cy="663.6" r="2.5"/><circle cx="314.4" cy="664.4" r="2.3"/><circle cx="359.5" cy="660.2" r="2.9"/><circle cx="338.5" cy="675.0" r="3.1"/><circle cx="337.9" cy="673.6" r="2.4"/><circle cx="350.9" cy="664.1" r="3.1"/><circle cx="344.2" cy="694.0" r="2.4"/><circle cx="344.4" cy="685.8" r="2.4"/><circle cx="345.3" cy="692.4" r="2.4"/><circle cx="365.6" cy="689.6" r="3.1"/><circle cx="368.8" cy="698.3" r="2.8"/><circle cx="342.0" cy="681.6" r="3.0"/></g>
<g fill="#505050" stroke="#111" stroke-width="0.7"><ellipse cx="346.5" cy="709.3" rx="0.9" ry="0.7"/><ellipse cx="316.6" cy="681.5" rx="1.9" ry="1.5"/><ellipse cx="363.5" cy="683.0" rx="1.9" ry="1.5"/><ellipse cx="362.7" cy="663.6" rx="1.5" ry="1.2"/><ellipse cx="314.4" cy="664.4" rx="1.3" ry="1.0"/><ellipse cx="359.5" cy="660.2" rx="1.9" ry="1.5"/><ellipse cx="338.5" cy="675.0" rx="2.1" ry="1.7"/><ellipse cx="337.9" cy="673.6" rx="1.4" ry="1.1"/><ellipse cx="350.9" cy="664.1" rx="2.1" ry="1.7"/><ellipse cx="344.2" cy="694.0" rx="1.4" ry="1.1"/><ellipse cx="344.4" cy="685.8" rx="1.4" ry="1.1"/><ellipse cx="345.3" cy="692.4" rx="1.4" ry="1.2"/><ellipse cx="365.6" cy="689.6" rx="2.1" ry="1.7"/><ellipse cx="368.8" cy="698.3" rx="1.8" ry="1.4"/><ellipse cx="342.0" cy="681.6" rx="2.0" ry="1.6"/></g>
</g>
<circle cx="341.20" cy="681.9" r="35.7" fill="none" stroke="#1a1a1a" stroke-width="0.9"/>
<rect x="340.40" y="709.20" width="16.00" height="2.60" fill="#000" stroke="none" stroke-width="1"/>
<text x="343.80" y="638.20" font-size="9" text-anchor="middle" fill="#ee8c8c">siJAK2-2</text>
<defs><clipPath id="dc5"><circle cx="416.85" cy="681.9" r="35.7"/></clipPath></defs>
<g clip-path="url(#dc5)">
<circle cx="416.85" cy="681.9" r="35.7" fill="#9e9e9e"/>
<rect x="381.15" y="646.20" width="71.4" height="71.4" filter="url(#tx)" opacity="0.95"/>
<rect x="381.15" y="646.20" width="71.4" height="71.4" filter="url(#tx2)" opacity="0.7"/>
<path d="M371.2 713.4Q373.9 702.9 379.1 695.1M370.5 690.7Q375.7 692.0 379.1 695.1M379.1 711.5Q381.9 706.1 386.3 700.6M379.1 695.1Q380.9 696.0 380.6 694.8M380.6 694.8Q383.1 696.5 386.3 700.6M379.1 711.5Q388.2 711.9 397.9 715.3M389.8 700.1Q388.2 701.6 386.3 700.6M389.8 700.1Q394.0 700.5 395.8 700.0M399.3 704.4Q397.1 702.8 395.8 700.0M399.3 704.4Q398.7 706.1 399.5 706.2M397.9 715.3Q399.7 710.3 399.5 706.2M461.1 695.7Q451.0 687.9 442.7 681.4M437.6 689.6Q441.0 684.4 442.7 681.4M437.6 689.6Q439.3 689.8 438.2 691.9M438.2 691.9Q447.3 692.8 458.9 696.7M458.9 696.7Q453.4 702.3 450.1 705.8M423.7 685.7Q429.8 688.3 437.6 689.6M423.7 685.7Q422.8 682.3 422.5 681.2M442.7 681.4Q441.7 679.5 443.6 678.2M422.5 681.2Q428.9 677.8 437.1 675.5M443.6 678.2Q439.3 676.1 437.1 675.5M428.6 667.7Q422.7 668.1 419.7 671.0M428.6 667.7Q429.5 668.0 428.6 667.7M419.7 671.0Q419.9 671.9 419.6 675.4M422.5 681.2Q419.9 676.8 419.6 675.4M428.6 667.7Q433.2 672.7 437.1 675.5M408.9 696.4Q405.7 695.6 400.7 692.9M408.9 696.4Q409.9 694.9 409.7 695.7M409.7 695.7Q408.3 694.8 408.5 693.0M408.5 693.0Q405.4 692.6 401.8 691.3M401.8 691.3Q401.2 692.5 400.7 692.9M399.3 704.4Q404.9 700.3 408.9 696.4M395.8 700.0Q395.9 700.0 395.8 699.1M395.8 699.1Q397.1 695.0 400.7 692.9M419.5 700.2Q418.5 698.2 418.5 697.5M419.5 700.2Q416.3 704.0 412.8 706.2M399.5 706.2Q406.5 704.8 412.8 706.2M418.5 697.5Q412.6 696.4 409.7 695.7M422.3 687.6Q420.6 691.4 418.5 697.5M422.3 687.6Q415.0 687.4 408.5 687.0M408.5 687.0Q409.1 689.0 408.5 693.0M408.5 687.0Q406.6 687.5 407.6 685.4M407.6 685.4Q405.6 685.9 401.1 687.6M401.1 687.6Q401.9 689.5 401.8 691.3M419.5 700.2Q421.5 704.2 425.7 705.5M423.7 685.7Q421.7 687.1 422.3 687.6M438.2 691.9Q436.4 695.1 437.3 697.7M425.7 705.5Q432.3 701.2 437.3 697.7M412.8 706.2Q413.5 720.2 415.2 731.5M415.2 731.5Q419.7 719.6 425.8 706.2M425.7 705.5Q427.2 706.0 425.8 706.2M397.9 715.3Q403.8 730.2 410.8 745.9M425.8 706.2Q431.7 710.7 435.1 712.5M414.0 736.4Q425.5 724.9 435.1 712.5M389.8 700.1Q387.4 693.2 384.8 689.0M395.8 699.1Q393.4 691.2 391.5 686.2M391.5 686.2Q387.2 688.1 384.8 689.0M380.6 694.8Q381.5 691.9 384.6 689.0M384.8 689.0Q385.1 689.7 384.6 689.0M412.7 678.9Q409.2 675.8 404.9 675.4M412.7 678.9Q409.2 681.6 407.7 683.3M404.9 675.4Q406.5 677.1 405.5 681.7M407.7 683.3Q405.2 683.3 405.5 681.7M407.6 685.4Q408.2 683.5 407.7 683.3M419.6 675.4Q415.3 676.9 412.7 678.9M417.6 668.6Q419.6 666.0 418.8 661.9M417.6 668.6Q419.1 670.9 419.7 671.0M432.7 659.6Q428.7 657.3 424.6 656.6M432.7 659.6Q429.5 663.3 428.6 667.7M418.8 661.9Q420.2 659.6 424.6 656.6M445.6 676.2Q442.8 671.7 439.7 667.6M445.6 676.2Q450.2 674.4 451.9 673.1M451.9 673.1Q453.1 672.4 453.9 668.7M453.9 668.7Q445.6 663.8 438.8 656.5M438.8 656.5Q438.3 662.9 439.7 667.6M443.6 678.2Q443.4 676.8 445.6 676.2M428.6 667.7Q435.2 668.2 439.7 667.6M469.3 693.8Q459.9 684.3 451.9 673.1M532.4 598.5Q494.1 632.2 453.9 668.7M532.4 598.5Q486.5 627.8 438.7 656.3M438.7 656.3Q438.1 656.9 438.8 656.5M438.7 656.3Q439.4 655.2 437.2 656.0M432.7 659.6Q434.7 656.5 437.2 656.0M441.1 702.5Q438.5 706.3 437.4 713.1M441.1 702.5Q446.1 703.2 449.7 706.0M448.7 709.7Q448.8 706.9 449.7 706.0M442.6 716.1Q440.9 713.9 438.0 713.7M438.0 713.7Q438.2 712.5 437.4 713.1M437.3 697.7Q439.4 701.0 441.1 702.5M435.1 712.5Q435.2 712.7 437.4 713.1M450.1 705.8Q450.6 706.9 449.7 706.0M411.4 757.4Q425.1 734.3 438.0 713.7M370.5 690.7Q373.6 688.1 375.3 684.0M384.6 689.0Q384.0 688.2 381.0 686.2M375.3 684.0Q379.4 685.9 381.0 686.2M375.3 684.0Q375.0 681.7 375.2 681.7M423.4 650.4Q419.0 654.2 417.0 655.7M423.4 650.4Q425.7 644.0 427.3 637.6M425.2 627.0Q418.3 639.6 414.1 653.7M414.1 653.7Q414.8 653.5 417.0 655.7M418.8 661.9Q417.0 657.4 417.0 655.7M424.6 656.6Q424.2 653.8 423.4 650.4M437.2 656.0Q431.0 645.8 427.3 637.6M408.0 653.9Q409.7 654.6 414.1 653.7M401.1 687.6Q399.8 686.8 395.6 684.9M405.5 681.7Q402.1 680.6 400.4 680.7M395.6 684.9Q397.4 681.6 400.4 680.7M391.5 686.2Q391.1 686.0 391.7 685.7M391.7 685.7Q392.1 684.7 394.5 685.0M395.6 684.9Q395.0 686.0 394.5 685.0M394.5 685.0Q397.2 679.8 397.1 676.3M400.4 680.7Q400.0 678.9 400.4 676.3M397.1 676.3Q400.1 676.4 400.4 676.3M404.9 675.4Q403.7 674.3 402.9 672.4M400.4 676.3Q401.1 675.7 402.9 672.4M411.2 666.7Q415.1 669.0 417.6 668.6M411.2 666.7Q406.0 668.5 403.1 670.9M403.1 670.9Q404.0 670.9 402.9 672.4M391.3 659.8Q397.5 658.4 404.3 656.4M391.3 659.8Q392.5 660.9 390.8 660.7M390.8 660.7Q392.9 664.5 394.4 666.1M394.4 666.1Q401.2 662.4 406.2 658.1M406.2 658.1Q406.8 656.7 406.1 657.0M406.1 657.0Q405.3 657.0 404.3 656.4M394.5 650.2Q399.5 652.7 404.3 656.4M394.5 650.2Q392.1 654.7 391.3 659.8M366.2 658.4Q379.9 659.6 390.8 660.7M411.2 666.7Q409.9 662.0 406.2 658.1M394.5 666.4Q398.2 668.0 403.1 670.9M394.5 666.4Q394.4 667.1 394.4 666.1M408.0 653.9Q406.0 656.7 406.1 657.0M390.3 681.9Q389.4 678.9 391.0 673.8M390.3 681.9Q385.3 680.7 383.2 679.4M383.2 679.4Q380.4 677.8 376.3 673.6M391.0 673.8Q389.4 673.3 390.8 672.8M390.8 672.8Q382.0 673.4 375.9 671.5M376.3 673.6Q376.0 673.4 375.9 671.5M391.7 685.7Q390.5 685.1 390.3 681.9M397.1 676.3Q394.8 676.1 391.0 673.8M381.0 686.2Q382.5 683.2 383.2 679.4M375.2 681.7Q376.1 676.9 376.3 673.6M394.5 666.4Q392.5 669.0 390.8 672.8" fill="none" stroke="#e6e6e6" stroke-width="0.9" opacity="0.6"/>
<g fill="#f2f2f2" opacity="0.8"><circle cx="424.2" cy="703.2" r="2.1"/><circle cx="446.6" cy="676.5" r="2.0"/><circle cx="436.2" cy="681.5" r="2.5"/><circle cx="422.2" cy="684.5" r="2.6"/><circle cx="413.7" cy="710.7" r="2.0"/><circle cx="431.3" cy="691.8" r="2.5"/><circle cx="391.6" cy="667.0" r="3.0"/><circle cx="405.1" cy="684.2" r="2.6"/><circle cx="404.2" cy="679.8" r="2.6"/><circle cx="423.3" cy="673.6" r="3.3"/><circle cx="417.7" cy="669.2" r="2.9"/><circle cx="434.1" cy="675.1" r="2.5"/><circle cx="401.1" cy="709.3" r="2.3"/></g>
<g fill="#505050" stroke="#111" stroke-width="0.7"><ellipse cx="424.2" cy="703.2" rx="1.1" ry="0.9"/><ellipse cx="446.6" cy="676.5" rx="1.0" ry="0.8"/><ellipse cx="436.2" cy="681.5" rx="1.5" ry="1.2"/><ellipse cx="422.2" cy="684.5" rx="1.6" ry="1.3"/><ellipse cx="413.7" cy="710.7" rx="1.0" ry="0.8"/><ellipse cx="431.3" cy="691.8" rx="1.5" ry="1.2"/><ellipse cx="391.6" cy="667.0" rx="2.0" ry="1.6"/><ellipse cx="405.1" cy="684.2" rx="1.6" ry="1.3"/><ellipse cx="404.2" cy="679.8" rx="1.6" ry="1.3"/><ellipse cx="423.3" cy="673.6" rx="2.3" ry="1.8"/><ellipse cx="417.7" cy="669.2" rx="1.9" ry="1.5"/><ellipse cx="434.1" cy="675.1" rx="1.5" ry="1.2"/><ellipse cx="401.1" cy="709.3" rx="1.3" ry="1.1"/></g>
</g>
<circle cx="416.85" cy="681.9" r="35.7" fill="none" stroke="#1a1a1a" stroke-width="0.9"/>
<rect x="416.05" y="709.20" width="16.00" height="2.60" fill="#000" stroke="none" stroke-width="1"/>
<text x="419.45" y="638.20" font-size="9" text-anchor="middle" fill="#8a7cc8">siJAK3-1</text>
<defs><clipPath id="dc6"><circle cx="492.50" cy="681.9" r="35.7"/></clipPath></defs>
<g clip-path="url(#dc6)">
<circle cx="492.50" cy="681.9" r="35.7" fill="#9e9e9e"/>
<rect x="456.80" y="646.20" width="71.4" height="71.4" filter="url(#tx)" opacity="0.95"/>
<rect x="456.80" y="646.20" width="71.4" height="71.4" filter="url(#tx2)" opacity="0.7"/>
<path d="M438.9 680.0Q447.2 675.1 455.0 673.1M455.0 673.1Q455.6 670.2 455.7 669.3M452.0 661.4Q452.4 666.6 455.7 669.3M481.3 663.3Q480.6 664.9 477.1 665.7M481.3 663.3Q488.2 668.5 494.6 671.0M477.1 665.7Q481.6 672.0 483.8 676.8M484.6 677.5Q484.4 678.1 483.8 676.8M484.6 677.5Q489.1 676.5 496.6 677.4M496.6 677.4Q495.8 675.6 494.6 671.0M474.9 646.5Q478.5 648.8 484.1 648.9M474.9 646.5Q476.5 636.9 478.5 626.5M478.5 626.5Q479.9 637.7 484.1 648.9M489.0 651.0Q489.6 651.9 488.7 651.1M488.7 651.1Q486.6 649.7 484.1 648.9M438.9 680.0Q446.4 684.7 453.1 687.7M453.1 687.7Q446.1 694.2 440.6 702.3M452.0 661.4Q458.3 660.0 462.5 656.8M462.5 656.8Q462.2 648.0 459.0 639.9M474.9 646.5Q473.9 645.8 472.9 647.1M472.9 647.1Q466.2 643.0 459.0 639.9M462.0 732.1Q475.4 716.4 486.3 700.2M486.3 700.2Q487.0 698.9 486.7 700.3M486.7 700.3Q488.7 704.4 490.2 706.9M457.7 748.5Q474.0 728.6 490.2 706.9M509.8 701.0Q506.1 700.8 504.5 698.0M509.8 701.0Q511.3 697.5 515.0 696.8M514.4 695.9Q515.8 695.2 515.0 696.8M514.4 695.9Q509.4 694.8 504.3 696.4M504.3 696.4Q503.0 698.6 504.5 698.0M533.7 700.3Q528.2 699.9 524.2 699.6M524.2 699.6Q523.3 700.9 523.2 700.1M523.2 700.1Q522.0 707.9 518.2 714.1M518.6 719.5Q518.0 717.6 518.2 714.1M489.0 651.0Q493.3 653.6 497.3 654.1M497.3 654.1Q506.6 646.2 514.6 640.0M488.7 651.1Q483.7 658.6 481.3 663.3M494.6 671.0Q497.0 665.4 499.4 658.1M497.3 654.1Q498.3 657.6 499.4 658.1M538.2 700.4Q534.3 690.9 528.6 682.7M524.2 699.6Q523.4 691.3 524.4 684.8M528.6 682.7Q528.1 682.3 527.7 682.8M524.4 684.8Q527.0 683.3 527.7 682.8M547.1 702.1Q540.3 691.5 532.7 681.3M528.6 682.7Q530.3 681.4 530.8 681.8M532.7 681.3Q531.8 680.7 530.8 681.8M462.0 732.1Q463.3 715.0 466.0 699.8M440.6 702.3Q449.9 700.1 461.3 695.6M466.0 699.8Q463.9 697.4 461.3 695.6M453.1 687.7Q454.4 686.8 457.6 687.8M461.3 695.6Q458.4 691.0 457.6 687.8M455.0 673.1Q457.2 678.2 460.5 681.4M460.5 681.4Q458.7 686.0 457.6 687.8M469.6 657.9Q467.8 656.7 463.2 657.1M469.6 657.9Q472.2 660.0 474.2 664.1M463.2 657.1Q463.5 659.9 462.9 665.3M474.2 664.1Q467.1 664.8 462.9 665.3M462.5 656.8Q463.4 656.9 463.2 657.1M472.9 647.1Q471.1 651.3 469.6 657.9M475.9 665.8Q476.2 665.6 477.1 665.7M475.9 665.8Q475.7 665.7 474.2 664.1M458.3 668.9Q457.0 668.1 455.7 669.3M458.3 668.9Q459.7 668.5 462.9 665.3M471.7 671.5Q474.9 667.6 475.9 665.8M471.7 671.5Q465.1 670.8 458.3 668.9M509.8 701.0Q508.3 700.1 509.4 702.1M504.5 698.0Q504.9 699.4 504.0 698.8M504.0 698.8Q502.5 703.2 502.5 706.1M509.4 702.1Q505.4 703.1 502.5 706.1M523.2 700.1Q520.1 697.5 515.0 696.8M518.2 714.1Q516.1 713.2 512.7 709.6M509.4 702.1Q511.5 707.1 512.7 709.6M497.8 699.9Q499.4 699.7 504.0 698.8M497.8 699.9Q498.4 703.9 502.0 706.6M502.5 706.1Q501.8 705.1 502.0 706.6M518.6 719.5Q514.6 718.8 510.6 718.6M499.1 724.3Q506.1 720.5 510.6 718.6M502.0 659.4Q505.9 660.9 508.6 662.0M502.0 659.4Q503.3 667.0 503.5 675.9M510.2 674.3Q510.8 667.2 508.6 662.0M510.2 674.3Q510.7 675.0 510.1 675.0M510.1 675.0Q506.1 675.0 503.5 675.9M496.6 677.4Q497.9 678.6 496.7 677.5M499.4 658.1Q502.1 658.3 502.0 659.4M503.5 675.9Q500.3 677.9 496.7 677.5M493.5 695.9Q496.4 693.3 497.3 689.2M493.5 695.9Q494.9 699.2 497.8 699.9M504.3 696.4Q503.5 694.9 501.5 690.6M501.5 690.6Q498.5 689.9 497.3 689.2M514.6 640.0Q516.7 645.8 518.0 653.0M508.6 662.0Q513.4 660.8 517.0 657.0M518.0 653.0Q518.0 653.5 517.0 657.0M477.5 694.2Q479.2 690.2 482.0 687.2M477.5 694.2Q475.6 692.9 475.3 694.2M475.3 694.2Q473.6 687.7 469.4 679.1M481.8 685.3Q479.5 683.7 476.2 679.8M481.8 685.3Q481.4 687.5 482.0 687.2M476.2 679.8Q472.7 679.6 470.0 678.4M470.0 678.4Q468.5 677.5 469.4 679.1M486.3 700.2Q481.7 695.9 477.5 694.2M486.7 700.3Q489.9 699.6 493.5 695.9M496.0 685.2Q496.3 686.1 497.3 689.2M496.0 685.2Q490.0 686.8 482.0 687.2M466.0 699.8Q471.7 696.4 475.3 694.2M460.5 681.4Q465.3 681.2 469.4 679.1M484.6 677.5Q481.8 680.1 481.8 685.3M483.8 676.8Q479.9 679.4 476.2 679.8M496.7 677.5Q497.1 680.7 496.0 685.2M471.7 671.5Q472.1 674.5 470.0 678.4M502.0 706.8Q502.3 708.1 502.3 707.5M502.0 706.8Q497.6 706.5 492.4 708.6M502.3 707.5Q502.0 710.6 502.8 713.3M502.8 713.3Q501.0 715.8 498.5 716.2M498.5 716.2Q494.6 714.7 493.5 714.2M493.5 714.2Q494.2 710.6 492.4 708.6M512.7 709.6Q508.7 709.9 502.3 707.5M502.0 706.6Q502.0 705.3 502.0 706.8M490.2 706.9Q491.3 709.1 492.4 708.6M510.6 718.6Q506.7 716.5 502.8 713.3M499.1 724.3Q498.3 719.6 498.5 716.2M452.9 762.9Q472.5 737.4 493.5 714.2M515.6 682.3Q516.1 681.6 514.0 680.7M515.6 682.3Q515.3 688.2 513.8 694.5M514.0 680.7Q510.7 685.5 504.8 690.1M513.8 694.5Q507.9 692.7 504.8 690.1M514.4 695.9Q513.2 695.6 513.8 694.5M524.4 684.8Q520.5 683.3 515.6 682.3M510.1 675.0Q510.2 675.4 512.6 677.4M512.6 677.4Q512.2 679.4 514.0 680.7M501.5 690.6Q502.2 691.4 504.8 690.1M527.7 682.8Q526.6 677.5 524.4 672.6M530.8 681.8Q529.3 675.0 528.8 668.9M528.8 668.9Q525.9 671.5 524.4 672.6M512.6 677.4Q518.1 673.8 523.6 672.6M523.6 672.6Q523.8 671.9 524.4 672.6M510.2 674.3Q513.9 670.5 519.0 666.4M523.6 672.6Q520.5 670.2 519.0 666.4M517.0 657.0Q517.5 658.8 520.2 662.2M519.0 666.4Q519.6 663.7 520.2 662.2M529.8 667.8Q529.1 666.9 529.3 665.2M529.8 667.8Q535.9 671.9 541.3 674.7M529.3 665.2Q531.3 661.5 534.6 656.0M528.8 668.9Q529.8 669.2 529.8 667.8M520.2 662.2Q524.1 664.6 529.3 665.2M532.7 681.3Q537.2 676.9 541.3 674.7M518.0 653.0Q527.7 653.1 534.6 656.0" fill="none" stroke="#e6e6e6" stroke-width="0.9" opacity="0.6"/>
<g fill="#f2f2f2" opacity="0.8"><circle cx="485.0" cy="652.4" r="2.0"/><circle cx="466.3" cy="680.9" r="2.7"/><circle cx="473.3" cy="683.1" r="2.4"/><circle cx="491.7" cy="675.8" r="2.2"/><circle cx="488.5" cy="673.6" r="2.6"/><circle cx="469.7" cy="666.6" r="2.4"/><circle cx="470.8" cy="657.3" r="3.3"/><circle cx="470.7" cy="656.8" r="2.8"/><circle cx="508.5" cy="661.3" r="3.4"/><circle cx="509.4" cy="660.6" r="3.2"/><circle cx="466.5" cy="700.5" r="2.7"/></g>
<g fill="#505050" stroke="#111" stroke-width="0.7"><ellipse cx="485.0" cy="652.4" rx="1.0" ry="0.8"/><ellipse cx="466.3" cy="680.9" rx="1.7" ry="1.3"/><ellipse cx="473.3" cy="683.1" rx="1.4" ry="1.1"/><ellipse cx="491.7" cy="675.8" rx="1.2" ry="0.9"/><ellipse cx="488.5" cy="673.6" rx="1.6" ry="1.3"/><ellipse cx="469.7" cy="666.6" rx="1.4" ry="1.1"/><ellipse cx="470.8" cy="657.3" rx="2.3" ry="1.9"/><ellipse cx="470.7" cy="656.8" rx="1.8" ry="1.4"/><ellipse cx="508.5" cy="661.3" rx="2.4" ry="1.9"/><ellipse cx="509.4" cy="660.6" rx="2.2" ry="1.8"/><ellipse cx="466.5" cy="700.5" rx="1.7" ry="1.3"/></g>
</g>
<circle cx="492.50" cy="681.9" r="35.7" fill="none" stroke="#1a1a1a" stroke-width="0.9"/>
<rect x="491.70" y="709.20" width="16.00" height="2.60" fill="#000" stroke="none" stroke-width="1"/>
<text x="495.10" y="638.20" font-size="9" text-anchor="middle" fill="#7c9af0">siJAK3-2</text>
<defs><clipPath id="dc7"><circle cx="568.15" cy="681.9" r="35.7"/></clipPath></defs>
<g clip-path="url(#dc7)">
<circle cx="568.15" cy="681.9" r="35.7" fill="#9e9e9e"/>
<rect x="532.45" y="646.20" width="71.4" height="71.4" filter="url(#tx)" opacity="0.95"/>
<rect x="532.45" y="646.20" width="71.4" height="71.4" filter="url(#tx2)" opacity="0.7"/>
<path d="M593.9 700.3Q606.6 702.1 620.4 702.0M593.9 700.3Q591.9 705.7 587.9 708.6M591.2 745.9Q589.6 728.6 587.9 708.6M569.4 685.7Q568.3 690.0 570.1 696.6M569.4 685.7Q571.0 685.1 572.4 684.3M577.5 698.9Q576.5 700.3 573.8 699.6M577.5 698.9Q577.5 698.9 578.8 696.5M570.1 696.6Q572.6 698.6 573.8 699.6M578.8 696.5Q574.1 690.8 572.4 684.3M670.7 691.4Q637.9 686.1 605.7 680.5M605.7 680.5Q601.6 685.1 597.7 686.9M620.4 702.0Q607.7 694.5 597.5 688.9M597.7 686.9Q596.9 688.5 597.5 688.9M535.9 696.9Q532.2 693.8 528.5 689.9M569.4 685.7Q566.6 684.8 566.0 685.0M569.2 668.4Q572.7 672.6 577.6 679.3M569.2 668.4Q567.4 669.2 565.3 672.7M572.4 684.3Q574.0 682.4 577.6 679.3M566.0 685.0Q565.3 679.6 565.3 672.7M599.6 658.8Q601.5 662.4 601.3 664.1M602.0 664.2Q602.2 663.6 601.3 664.1M592.5 654.2Q596.5 656.9 599.6 658.8M592.5 654.2Q584.7 655.7 578.1 654.6M588.1 670.2Q595.1 669.0 599.7 666.4M588.1 670.2Q582.0 663.2 577.5 655.1M599.7 666.4Q601.0 665.6 601.3 664.1M578.1 654.6Q577.8 656.4 577.5 655.1M670.7 691.4Q636.6 677.2 602.0 664.2M605.7 680.5Q601.9 678.5 600.6 675.1M600.6 675.1Q601.4 671.0 599.7 666.4M588.0 670.7Q589.7 675.4 593.7 679.4M588.0 670.7Q585.0 676.5 579.5 679.6M579.5 679.6Q580.0 681.5 580.7 681.0M580.7 681.0Q585.1 683.3 587.6 683.2M587.6 683.2Q591.8 682.4 593.2 681.4M593.7 679.4Q592.5 680.7 593.2 681.4M588.1 670.2Q586.8 671.8 588.0 670.7M600.6 675.1Q597.0 676.0 593.7 679.4M597.7 686.9Q595.4 683.2 593.2 681.4M570.3 635.3Q575.0 641.3 580.8 644.7M580.8 644.7Q597.7 616.0 617.0 587.4M592.5 654.2Q605.1 622.0 617.0 587.4M578.1 654.6Q580.4 649.0 580.8 644.7M577.5 698.9Q582.0 703.1 587.9 708.6M591.2 745.9Q580.5 729.9 571.4 714.0M573.8 699.6Q572.0 700.5 572.1 702.3M572.1 702.3Q572.1 707.9 571.4 714.0M558.2 712.9Q560.8 712.1 565.4 711.9M558.2 712.9Q551.2 724.4 542.3 737.9M571.4 714.0Q568.0 712.7 565.4 711.9M558.2 712.9Q556.5 710.6 557.7 707.6M565.4 711.9Q564.3 708.0 564.7 706.5M557.7 707.6Q562.5 707.9 564.7 706.5M572.1 702.3Q567.8 704.5 565.7 704.3M564.7 706.5Q565.2 705.4 565.7 704.3M579.2 696.0Q579.6 693.9 581.6 691.2M579.2 696.0Q586.2 694.4 593.0 695.0M581.6 691.2Q586.6 691.3 589.4 690.3M589.4 690.3Q592.3 691.8 593.2 692.9M593.0 695.0Q592.6 694.6 593.2 692.9M578.8 696.5Q577.6 696.6 579.2 696.0M577.6 679.3Q579.0 678.2 579.5 679.6M580.7 681.0Q580.3 685.7 581.6 691.2M593.9 700.3Q592.2 698.5 593.0 695.0M587.6 683.2Q589.5 687.8 589.4 690.3M597.5 688.9Q596.2 690.3 593.2 692.9M557.7 707.6Q558.2 707.1 557.6 707.2M565.7 704.3Q562.3 703.2 560.0 701.3M557.6 707.2Q558.0 705.4 560.0 701.3M538.6 667.2Q533.1 667.2 530.2 670.3M538.6 667.2Q541.9 669.2 542.5 669.8M542.5 669.8Q542.4 671.7 543.6 676.2M543.6 676.2Q536.7 677.4 531.6 680.8M530.2 670.3Q529.5 672.7 526.9 674.8M526.9 674.8Q529.6 677.6 530.6 680.7M530.6 680.7Q531.9 679.4 531.6 680.8M511.7 633.0Q520.8 650.5 530.2 670.3M538.7 651.7Q537.9 660.0 538.6 667.2M528.5 689.9Q529.0 685.7 530.6 680.7M539.7 688.7Q537.2 685.2 534.5 682.5M539.7 688.7Q542.3 685.2 543.6 682.7M543.6 682.7Q538.8 683.3 534.5 682.5M546.2 680.3Q544.5 679.2 543.6 676.2M546.2 680.3Q543.6 680.5 543.6 682.7M531.6 680.8Q533.5 681.6 534.5 682.5M538.6 744.6Q541.9 725.7 544.8 705.0M542.3 737.9Q546.0 720.9 552.1 705.4M552.1 705.4Q548.3 704.1 544.8 705.0M557.6 707.2Q555.5 706.6 552.4 705.2M552.1 705.4Q553.3 705.9 552.4 705.2M566.0 685.0Q563.6 684.8 563.8 685.6M565.3 672.7Q559.6 675.4 556.4 677.4M556.4 677.4Q556.4 679.8 554.4 681.5M563.8 685.6Q558.2 684.5 554.4 681.5M556.4 677.4Q555.4 673.1 551.9 666.5M546.2 680.3Q548.5 680.1 552.2 682.8M551.9 666.5Q546.1 668.3 542.5 669.8M552.2 682.8Q552.4 682.2 554.4 681.5M551.1 652.6Q552.7 652.0 553.1 650.9M551.1 652.6Q553.4 657.7 554.8 662.4M553.1 650.9Q564.6 654.5 576.0 655.8M554.8 662.4Q563.0 664.6 569.1 665.3M569.1 665.3Q573.2 659.1 576.0 655.8M538.7 651.7Q540.8 652.4 544.9 651.6M551.9 666.5Q554.4 664.4 554.8 662.4M544.9 651.6Q547.0 652.6 551.1 652.6M576.5 655.4Q571.6 650.9 568.9 646.8M576.5 655.4Q576.6 656.7 576.0 655.8M568.9 646.8Q563.1 648.2 555.1 647.2M555.1 647.2Q553.8 648.2 553.1 650.9M569.2 668.4Q568.4 667.7 569.1 665.3M577.5 655.1Q577.6 655.4 576.5 655.4M568.9 646.8Q568.6 645.2 566.6 641.0M566.9 639.1Q567.4 639.2 566.6 641.0M559.4 698.0Q558.1 695.5 556.5 695.6M559.4 698.0Q562.7 696.5 567.7 696.2M556.5 695.6Q559.5 693.8 562.8 689.5M567.7 696.2Q564.5 693.6 562.8 689.5M570.1 696.6Q569.8 695.3 567.7 696.2M560.0 701.3Q559.5 699.2 559.4 698.0M563.8 685.6Q563.0 687.4 562.8 689.5M552.7 695.9Q548.6 701.2 544.7 704.8M552.7 695.9Q554.3 694.4 553.2 694.7M553.2 694.7Q552.3 693.9 551.5 692.7M551.5 692.7Q545.6 695.3 538.9 694.9M544.7 704.8Q541.1 701.4 536.9 696.7M536.9 696.7Q537.0 696.4 538.9 694.9M552.4 705.2Q552.2 701.4 552.7 695.9M544.8 705.0Q543.7 706.1 544.7 704.8M556.5 695.6Q555.6 693.7 553.2 694.7M552.2 682.8Q552.8 686.9 551.5 692.7M539.7 688.7Q539.9 692.5 538.9 694.9M535.9 696.9Q535.9 696.4 536.9 696.7M544.9 651.6Q544.7 646.8 547.5 641.3M555.7 644.4Q557.6 643.6 557.6 642.5M555.7 644.4Q553.8 642.3 551.8 639.2M557.6 642.5Q557.7 638.8 559.2 633.9M555.1 647.2Q554.6 646.5 555.7 644.4M566.6 641.0Q562.6 640.5 557.6 642.5" fill="none" stroke="#e6e6e6" stroke-width="0.9" opacity="0.6"/>
<g fill="#f2f2f2" opacity="0.8"><circle cx="556.0" cy="653.0" r="2.4"/><circle cx="541.4" cy="673.1" r="3.0"/><circle cx="554.6" cy="652.3" r="2.1"/><circle cx="562.5" cy="654.1" r="2.9"/><circle cx="556.0" cy="677.4" r="2.5"/><circle cx="561.4" cy="707.7" r="2.4"/><circle cx="559.9" cy="675.0" r="2.9"/><circle cx="558.6" cy="672.2" r="2.2"/><circle cx="572.2" cy="682.7" r="3.1"/><circle cx="575.4" cy="674.5" r="3.3"/><circle cx="545.5" cy="667.4" r="3.0"/><circle cx="558.9" cy="695.2" r="2.7"/><circle cx="562.3" cy="701.0" r="2.3"/></g>
<g fill="#505050" stroke="#111" stroke-width="0.7"><ellipse cx="556.0" cy="653.0" rx="1.4" ry="1.1"/><ellipse cx="541.4" cy="673.1" rx="2.0" ry="1.6"/><ellipse cx="554.6" cy="652.3" rx="1.1" ry="0.9"/><ellipse cx="562.5" cy="654.1" rx="1.9" ry="1.5"/><ellipse cx="556.0" cy="677.4" rx="1.5" ry="1.2"/><ellipse cx="561.4" cy="707.7" rx="1.4" ry="1.1"/><ellipse cx="559.9" cy="675.0" rx="1.9" ry="1.5"/><ellipse cx="558.6" cy="672.2" rx="1.2" ry="1.0"/><ellipse cx="572.2" cy="682.7" rx="2.1" ry="1.7"/><ellipse cx="575.4" cy="674.5" rx="2.3" ry="1.8"/><ellipse cx="545.5" cy="667.4" rx="2.0" ry="1.6"/><ellipse cx="558.9" cy="695.2" rx="1.7" ry="1.3"/><ellipse cx="562.3" cy="701.0" rx="1.3" ry="1.1"/></g>
</g>
<circle cx="568.15" cy="681.9" r="35.7" fill="none" stroke="#1a1a1a" stroke-width="0.9"/>
<rect x="567.35" y="709.20" width="16.00" height="2.60" fill="#000" stroke="none" stroke-width="1"/>
<text x="570.75" y="638.20" font-size="9" text-anchor="middle" fill="#76c4cc">siTYK2-1</text>
<defs><clipPath id="dc8"><circle cx="643.80" cy="681.9" r="35.7"/></clipPath></defs>
<g clip-path="url(#dc8)">
<circle cx="643.80" cy="681.9" r="35.7" fill="#9e9e9e"/>
<rect x="608.10" y="646.20" width="71.4" height="71.4" filter="url(#tx)" opacity="0.95"/>
<rect x="608.10" y="646.20" width="71.4" height="71.4" filter="url(#tx2)" opacity="0.7"/>
<path d="M618.0 706.6Q617.3 708.3 618.5 712.1M618.0 706.6Q614.7 704.1 608.7 700.0M614.7 720.4Q617.9 717.7 618.5 712.1M608.7 700.0Q605.8 700.0 605.3 698.4M631.0 677.2Q636.5 670.0 643.2 664.5M631.0 677.2Q627.4 673.2 625.7 668.3M643.2 664.5Q634.8 664.0 627.1 664.9M625.7 668.3Q626.7 667.8 627.1 664.9M603.2 670.3Q603.3 672.5 605.2 673.5M605.3 663.3Q609.1 661.5 613.3 660.2M617.1 668.9Q616.4 665.3 613.3 660.2M617.1 668.9Q614.5 670.3 614.1 671.5M614.1 671.5Q611.0 672.2 605.2 673.5M582.2 701.4Q592.6 689.2 604.4 679.7M604.4 679.7Q605.1 677.1 604.6 675.2M605.2 673.5Q605.1 673.2 604.6 675.2M656.3 691.7Q652.1 686.1 648.9 679.7M656.3 691.7Q656.9 693.0 655.2 693.6M648.9 679.7Q642.4 679.6 634.5 681.1M655.2 693.6Q655.6 693.2 653.4 693.9M653.4 693.9Q644.8 689.5 637.3 687.8M637.3 687.8Q636.4 686.6 634.9 684.9M634.9 684.9Q634.1 683.8 634.5 681.1M648.9 679.7Q648.6 678.0 649.3 678.4M649.3 678.4Q649.0 672.0 646.0 663.1M646.0 663.1Q644.8 663.9 643.2 664.5M631.0 677.2Q630.2 679.4 631.5 679.1M634.5 681.1Q634.1 680.4 631.5 679.1M683.6 676.8Q687.1 685.1 688.7 690.7M683.6 676.8Q702.0 688.5 723.0 700.1M687.8 668.7Q684.6 670.7 681.8 673.1M681.8 673.1Q683.6 675.4 683.6 676.8M670.8 675.9Q662.7 675.5 652.5 676.4M670.8 675.9Q665.0 671.9 661.6 667.7M661.6 667.7Q656.5 670.6 652.5 676.4M656.3 691.7Q660.8 691.2 667.7 689.3M667.7 689.3Q668.9 683.2 672.9 677.3M672.9 677.3Q672.2 677.4 670.8 675.9M649.3 678.4Q651.8 677.1 652.5 676.4M655.2 693.6Q654.4 700.2 654.8 707.0M653.4 693.9Q651.2 694.9 649.9 694.7M649.9 694.7Q644.5 700.6 638.4 704.7M654.8 707.0Q655.5 706.9 654.4 707.9M654.4 707.9Q649.6 711.0 647.1 712.5M647.1 712.5Q642.3 707.4 638.4 704.7M627.7 658.6Q627.6 660.1 627.6 658.8M627.7 658.6Q620.0 650.0 613.7 640.8M627.6 658.8Q620.2 658.4 613.7 656.8M613.7 656.8Q610.6 644.9 605.9 636.0M617.1 668.9Q622.2 669.3 625.7 668.3M627.1 664.9Q628.2 662.7 627.6 658.8M613.3 660.2Q613.6 658.0 613.7 656.8M622.1 685.0Q621.7 690.2 622.2 692.7M622.1 685.0Q620.8 683.1 618.5 683.8M618.5 683.8Q615.0 683.4 611.2 685.8M618.1 693.1Q614.9 690.5 610.1 690.5M618.1 693.1Q618.7 692.3 622.2 692.7M610.1 690.5Q611.9 686.9 611.2 685.8M633.5 689.8Q633.9 686.3 634.9 684.9M633.5 689.8Q627.8 694.8 624.3 697.0M624.3 697.0Q624.7 695.5 622.2 692.7M631.5 679.1Q625.5 681.3 622.1 685.0M614.1 671.5Q616.5 677.1 618.5 683.8M604.4 679.7Q606.3 682.7 611.2 685.8M608.7 700.0Q612.0 695.9 618.1 693.1M605.3 698.4Q608.8 695.9 610.1 690.5M618.0 706.6Q621.8 704.2 624.6 698.9M624.6 698.9Q624.1 696.8 624.3 697.0M641.0 693.9Q638.7 695.0 635.1 695.2M641.0 693.9Q642.2 693.2 642.2 694.6M642.2 694.6Q640.2 698.2 635.5 703.5M635.1 695.2Q633.5 699.2 633.2 701.4M633.2 701.4Q634.5 704.0 635.3 703.5M635.3 703.5Q635.4 703.9 635.5 703.5M637.3 687.8Q640.4 691.5 641.0 693.9M633.5 689.8Q633.8 693.5 635.1 695.2M649.9 694.7Q645.8 693.2 642.2 694.6M638.4 704.7Q638.1 704.5 635.5 703.5M624.6 698.9Q628.4 701.4 633.2 701.4M618.5 712.1Q625.3 711.0 630.7 712.3M630.7 712.3Q632.8 707.0 635.3 703.5M670.2 708.4Q670.0 708.9 670.0 708.0M670.2 708.4Q675.9 708.4 680.2 706.1M670.0 708.0Q669.7 705.2 670.8 700.2M681.9 703.6Q681.4 700.9 678.3 696.0M678.3 696.0Q674.1 694.8 672.1 693.7M672.1 693.7Q671.4 696.9 670.8 700.2M654.8 707.0Q657.1 707.4 660.0 707.1M654.4 707.9Q656.8 712.5 660.9 716.1M660.0 707.1Q665.6 708.5 670.0 708.0M660.9 716.1Q665.2 716.7 671.5 716.4M671.5 716.4Q670.7 713.8 670.2 708.4M660.0 707.1Q664.4 705.0 670.8 700.2M688.7 690.7Q684.0 693.9 678.3 696.0M667.7 689.3Q669.3 692.7 672.1 693.7M672.9 677.3Q676.8 676.8 679.1 673.5M681.8 673.1Q681.9 673.1 679.1 673.5M679.5 643.8Q672.8 646.6 665.9 648.7M665.9 648.7Q666.0 650.7 665.9 651.9M676.3 653.5Q673.5 653.1 670.0 655.2M665.9 651.9Q666.6 654.7 670.0 655.2M769.7 502.5Q714.9 574.9 657.9 644.7M665.9 648.7Q661.7 647.4 657.9 644.8M657.9 644.7Q658.6 644.6 657.9 644.8M657.9 644.7Q652.4 640.1 647.0 632.7M638.6 722.0Q641.1 720.0 645.5 716.0M638.6 722.0Q637.9 723.8 637.7 724.7M645.5 716.0Q653.0 722.6 658.5 728.2M647.1 712.5Q645.4 713.2 645.5 716.0M630.7 712.3Q635.1 715.8 638.6 722.0M660.9 716.1Q659.3 723.2 658.5 728.2M677.4 670.6Q676.6 665.0 673.8 660.3M677.4 670.6Q671.8 664.8 665.9 660.7M673.8 660.3Q669.3 659.8 667.3 659.9M665.9 660.7Q667.2 659.9 667.3 659.9M679.1 673.5Q678.5 671.9 677.4 670.6M676.3 653.5Q675.8 656.9 673.8 660.3M661.6 667.7Q662.2 664.9 660.0 661.4M660.0 661.4Q663.5 661.3 665.9 660.7M670.0 655.2Q669.9 656.5 667.3 659.9M660.0 661.4Q661.2 662.3 659.9 661.3M659.9 661.3Q661.9 658.1 665.9 651.9M651.0 657.2Q650.0 656.2 650.8 654.5M651.0 657.2Q648.9 659.7 646.4 661.8M650.8 654.5Q647.2 649.0 641.8 646.0M646.4 661.8Q638.6 659.3 631.6 655.2M641.8 646.0Q637.3 645.3 634.8 646.5M631.6 655.2Q633.4 651.6 633.6 647.4M633.6 647.4Q634.6 646.4 634.8 646.5M659.9 661.3Q654.0 659.3 651.0 657.2M657.9 644.8Q652.9 650.6 650.8 654.5M646.0 663.1Q647.5 662.5 646.4 661.8M647.0 632.7Q645.3 640.1 641.8 646.0M627.7 658.6Q628.1 657.3 631.6 655.2M613.7 640.8Q623.3 643.6 633.6 647.4" fill="none" stroke="#e6e6e6" stroke-width="0.9" opacity="0.6"/>
<g fill="#f2f2f2" opacity="0.8"><circle cx="653.4" cy="669.2" r="2.1"/><circle cx="632.6" cy="678.2" r="2.8"/><circle cx="642.8" cy="669.8" r="2.5"/><circle cx="641.0" cy="709.3" r="2.0"/><circle cx="655.2" cy="663.8" r="2.2"/><circle cx="630.8" cy="705.6" r="2.6"/><circle cx="645.0" cy="658.8" r="2.8"/><circle cx="645.6" cy="661.5" r="3.3"/><circle cx="661.0" cy="663.5" r="2.9"/><circle cx="647.9" cy="686.1" r="3.2"/><circle cx="644.5" cy="684.5" r="3.0"/><circle cx="618.6" cy="681.6" r="3.2"/></g>
<g fill="#505050" stroke="#111" stroke-width="0.7"><ellipse cx="653.4" cy="669.2" rx="1.1" ry="0.9"/><ellipse cx="632.6" cy="678.2" rx="1.8" ry="1.4"/><ellipse cx="642.8" cy="669.8" rx="1.5" ry="1.2"/><ellipse cx="641.0" cy="709.3" rx="1.0" ry="0.8"/><ellipse cx="655.2" cy="663.8" rx="1.2" ry="1.0"/><ellipse cx="630.8" cy="705.6" rx="1.6" ry="1.3"/><ellipse cx="645.0" cy="658.8" rx="1.8" ry="1.4"/><ellipse cx="645.6" cy="661.5" rx="2.3" ry="1.8"/><ellipse cx="661.0" cy="663.5" rx="1.9" ry="1.5"/><ellipse cx="647.9" cy="686.1" rx="2.2" ry="1.7"/><ellipse cx="644.5" cy="684.5" rx="2.0" ry="1.6"/><ellipse cx="618.6" cy="681.6" rx="2.2" ry="1.8"/></g>
</g>
<circle cx="643.80" cy="681.9" r="35.7" fill="none" stroke="#1a1a1a" stroke-width="0.9"/>
<rect x="643.00" y="709.20" width="16.00" height="2.60" fill="#000" stroke="none" stroke-width="1"/>
<text x="646.40" y="638.20" font-size="9" text-anchor="middle" fill="#f08462">siTYK2-1</text>
</svg></body></html>
